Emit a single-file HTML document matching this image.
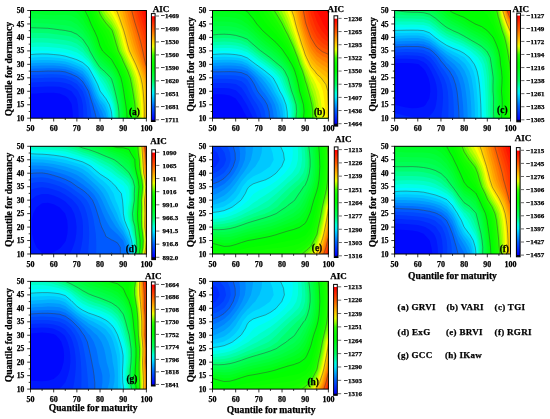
<!DOCTYPE html>
<html><head><meta charset="utf-8"><style>
html,body{margin:0;padding:0;background:#fff;width:550px;height:419px;overflow:hidden}
svg{display:block;will-change:transform}
text{font-family:"Liberation Serif",serif;font-weight:bold;fill:#000;stroke:#000;stroke-width:0.25px}
.tl{font-size:8px}
.tly{font-size:7.6px}
.cl{font-size:7px}
.at{font-size:9.6px}
.aic{font-size:9px}
.pl{font-size:9.4px}
.lg{font-size:9px;letter-spacing:0.3px}
</style></head><body>
<svg xmlns="http://www.w3.org/2000/svg" width="550" height="419" viewBox="0 0 550 419">
<defs><linearGradient id="cbga" x1="0" y1="0" x2="0" y2="1"><stop offset="0" stop-color="#ffffff"/><stop offset="0.0211" stop-color="#ffffff"/><stop offset="0.0285" stop-color="#ff0000"/><stop offset="0.0681" stop-color="#ff1f00"/><stop offset="0.1077" stop-color="#ff3e00"/><stop offset="0.1474" stop-color="#ff5e00"/><stop offset="0.1870" stop-color="#ff8500"/><stop offset="0.2267" stop-color="#ffad00"/><stop offset="0.2663" stop-color="#ffd400"/><stop offset="0.3059" stop-color="#e8ff00"/><stop offset="0.3456" stop-color="#95ff00"/><stop offset="0.3852" stop-color="#33ff00"/><stop offset="0.4249" stop-color="#14ff00"/><stop offset="0.4645" stop-color="#06ff00"/><stop offset="0.5041" stop-color="#00ff08"/><stop offset="0.5438" stop-color="#00ff25"/><stop offset="0.5834" stop-color="#00ff41"/><stop offset="0.6230" stop-color="#00ff5e"/><stop offset="0.6627" stop-color="#00ff9a"/><stop offset="0.7023" stop-color="#00ffd7"/><stop offset="0.7420" stop-color="#00eaff"/><stop offset="0.7816" stop-color="#00bcff"/><stop offset="0.8212" stop-color="#008fff"/><stop offset="0.8609" stop-color="#0062ff"/><stop offset="0.9005" stop-color="#0041ff"/><stop offset="0.9402" stop-color="#0021ff"/><stop offset="0.9798" stop-color="#0000ff"/><stop offset="0.9881" stop-color="#000028"/><stop offset="1" stop-color="#000010"/></linearGradient><linearGradient id="cbgb" x1="0" y1="0" x2="0" y2="1"><stop offset="0" stop-color="#ffffff"/><stop offset="0.0225" stop-color="#ffffff"/><stop offset="0.0296" stop-color="#ff0000"/><stop offset="0.0690" stop-color="#ff1f00"/><stop offset="0.1083" stop-color="#ff3e00"/><stop offset="0.1477" stop-color="#ff5e00"/><stop offset="0.1870" stop-color="#ff8500"/><stop offset="0.2264" stop-color="#ffad00"/><stop offset="0.2657" stop-color="#ffd400"/><stop offset="0.3051" stop-color="#e8ff00"/><stop offset="0.3444" stop-color="#95ff00"/><stop offset="0.3838" stop-color="#33ff00"/><stop offset="0.4231" stop-color="#14ff00"/><stop offset="0.4625" stop-color="#06ff00"/><stop offset="0.5018" stop-color="#00ff08"/><stop offset="0.5411" stop-color="#00ff25"/><stop offset="0.5805" stop-color="#00ff41"/><stop offset="0.6198" stop-color="#00ff5e"/><stop offset="0.6592" stop-color="#00ff9a"/><stop offset="0.6985" stop-color="#00ffd7"/><stop offset="0.7379" stop-color="#00eaff"/><stop offset="0.7772" stop-color="#00bcff"/><stop offset="0.8166" stop-color="#008fff"/><stop offset="0.8559" stop-color="#0062ff"/><stop offset="0.8953" stop-color="#0041ff"/><stop offset="0.9346" stop-color="#0021ff"/><stop offset="0.9739" stop-color="#0000ff"/><stop offset="0.9820" stop-color="#000028"/><stop offset="1" stop-color="#000010"/></linearGradient><linearGradient id="cbgc" x1="0" y1="0" x2="0" y2="1"><stop offset="0" stop-color="#ffffff"/><stop offset="0.0182" stop-color="#ffffff"/><stop offset="0.0255" stop-color="#ff0000"/><stop offset="0.0652" stop-color="#ff1f00"/><stop offset="0.1049" stop-color="#ff3e00"/><stop offset="0.1445" stop-color="#ff5e00"/><stop offset="0.1842" stop-color="#ff8500"/><stop offset="0.2238" stop-color="#ffad00"/><stop offset="0.2635" stop-color="#ffd400"/><stop offset="0.3031" stop-color="#e8ff00"/><stop offset="0.3428" stop-color="#95ff00"/><stop offset="0.3824" stop-color="#33ff00"/><stop offset="0.4221" stop-color="#14ff00"/><stop offset="0.4617" stop-color="#06ff00"/><stop offset="0.5014" stop-color="#00ff08"/><stop offset="0.5410" stop-color="#00ff25"/><stop offset="0.5807" stop-color="#00ff41"/><stop offset="0.6203" stop-color="#00ff5e"/><stop offset="0.6600" stop-color="#00ff9a"/><stop offset="0.6996" stop-color="#00ffd7"/><stop offset="0.7393" stop-color="#00eaff"/><stop offset="0.7789" stop-color="#00bcff"/><stop offset="0.8186" stop-color="#008fff"/><stop offset="0.8582" stop-color="#0062ff"/><stop offset="0.8979" stop-color="#0041ff"/><stop offset="0.9375" stop-color="#0021ff"/><stop offset="0.9772" stop-color="#0000ff"/><stop offset="0.9854" stop-color="#000028"/><stop offset="1" stop-color="#000010"/></linearGradient><linearGradient id="cbgd" x1="0" y1="0" x2="0" y2="1"><stop offset="0" stop-color="#ffffff"/><stop offset="0.0217" stop-color="#ffffff"/><stop offset="0.0289" stop-color="#ff0000"/><stop offset="0.0683" stop-color="#ff1f00"/><stop offset="0.1077" stop-color="#ff3e00"/><stop offset="0.1471" stop-color="#ff5e00"/><stop offset="0.1865" stop-color="#ff8500"/><stop offset="0.2259" stop-color="#ffad00"/><stop offset="0.2653" stop-color="#ffd400"/><stop offset="0.3048" stop-color="#e8ff00"/><stop offset="0.3442" stop-color="#95ff00"/><stop offset="0.3836" stop-color="#33ff00"/><stop offset="0.4230" stop-color="#14ff00"/><stop offset="0.4624" stop-color="#06ff00"/><stop offset="0.5018" stop-color="#00ff08"/><stop offset="0.5412" stop-color="#00ff25"/><stop offset="0.5806" stop-color="#00ff41"/><stop offset="0.6200" stop-color="#00ff5e"/><stop offset="0.6594" stop-color="#00ff9a"/><stop offset="0.6989" stop-color="#00ffd7"/><stop offset="0.7383" stop-color="#00eaff"/><stop offset="0.7777" stop-color="#00bcff"/><stop offset="0.8171" stop-color="#008fff"/><stop offset="0.8565" stop-color="#0062ff"/><stop offset="0.8959" stop-color="#0041ff"/><stop offset="0.9353" stop-color="#0021ff"/><stop offset="0.9747" stop-color="#0000ff"/><stop offset="0.9829" stop-color="#000028"/><stop offset="1" stop-color="#000010"/></linearGradient><linearGradient id="cbge" x1="0" y1="0" x2="0" y2="1"><stop offset="0" stop-color="#ffffff"/><stop offset="0.0233" stop-color="#ffffff"/><stop offset="0.0305" stop-color="#ff0000"/><stop offset="0.0700" stop-color="#ff1f00"/><stop offset="0.1096" stop-color="#ff3e00"/><stop offset="0.1492" stop-color="#ff5e00"/><stop offset="0.1888" stop-color="#ff8500"/><stop offset="0.2283" stop-color="#ffad00"/><stop offset="0.2679" stop-color="#ffd400"/><stop offset="0.3075" stop-color="#e8ff00"/><stop offset="0.3471" stop-color="#95ff00"/><stop offset="0.3866" stop-color="#33ff00"/><stop offset="0.4262" stop-color="#14ff00"/><stop offset="0.4658" stop-color="#06ff00"/><stop offset="0.5054" stop-color="#00ff08"/><stop offset="0.5450" stop-color="#00ff25"/><stop offset="0.5845" stop-color="#00ff41"/><stop offset="0.6241" stop-color="#00ff5e"/><stop offset="0.6637" stop-color="#00ff9a"/><stop offset="0.7033" stop-color="#00ffd7"/><stop offset="0.7428" stop-color="#00eaff"/><stop offset="0.7824" stop-color="#00bcff"/><stop offset="0.8220" stop-color="#008fff"/><stop offset="0.8616" stop-color="#0062ff"/><stop offset="0.9011" stop-color="#0041ff"/><stop offset="0.9407" stop-color="#0021ff"/><stop offset="0.9803" stop-color="#0000ff"/><stop offset="0.9884" stop-color="#000028"/><stop offset="1" stop-color="#000010"/></linearGradient><linearGradient id="cbgf" x1="0" y1="0" x2="0" y2="1"><stop offset="0" stop-color="#ffffff"/><stop offset="0.0236" stop-color="#ffffff"/><stop offset="0.0309" stop-color="#ff0000"/><stop offset="0.0704" stop-color="#ff1f00"/><stop offset="0.1100" stop-color="#ff3e00"/><stop offset="0.1495" stop-color="#ff5e00"/><stop offset="0.1891" stop-color="#ff8500"/><stop offset="0.2286" stop-color="#ffad00"/><stop offset="0.2681" stop-color="#ffd400"/><stop offset="0.3077" stop-color="#e8ff00"/><stop offset="0.3472" stop-color="#95ff00"/><stop offset="0.3868" stop-color="#33ff00"/><stop offset="0.4263" stop-color="#14ff00"/><stop offset="0.4659" stop-color="#06ff00"/><stop offset="0.5054" stop-color="#00ff08"/><stop offset="0.5450" stop-color="#00ff25"/><stop offset="0.5845" stop-color="#00ff41"/><stop offset="0.6241" stop-color="#00ff5e"/><stop offset="0.6636" stop-color="#00ff9a"/><stop offset="0.7032" stop-color="#00ffd7"/><stop offset="0.7427" stop-color="#00eaff"/><stop offset="0.7823" stop-color="#00bcff"/><stop offset="0.8218" stop-color="#008fff"/><stop offset="0.8614" stop-color="#0062ff"/><stop offset="0.9009" stop-color="#0041ff"/><stop offset="0.9405" stop-color="#0021ff"/><stop offset="0.9800" stop-color="#0000ff"/><stop offset="0.9882" stop-color="#000028"/><stop offset="1" stop-color="#000010"/></linearGradient><linearGradient id="cbgg" x1="0" y1="0" x2="0" y2="1"><stop offset="0" stop-color="#ffffff"/><stop offset="0.0219" stop-color="#ffffff"/><stop offset="0.0295" stop-color="#ff0000"/><stop offset="0.0691" stop-color="#ff1f00"/><stop offset="0.1087" stop-color="#ff3e00"/><stop offset="0.1483" stop-color="#ff5e00"/><stop offset="0.1879" stop-color="#ff8500"/><stop offset="0.2275" stop-color="#ffad00"/><stop offset="0.2671" stop-color="#ffd400"/><stop offset="0.3067" stop-color="#e8ff00"/><stop offset="0.3463" stop-color="#95ff00"/><stop offset="0.3859" stop-color="#33ff00"/><stop offset="0.4255" stop-color="#14ff00"/><stop offset="0.4652" stop-color="#06ff00"/><stop offset="0.5048" stop-color="#00ff08"/><stop offset="0.5444" stop-color="#00ff25"/><stop offset="0.5840" stop-color="#00ff41"/><stop offset="0.6236" stop-color="#00ff5e"/><stop offset="0.6632" stop-color="#00ff9a"/><stop offset="0.7028" stop-color="#00ffd7"/><stop offset="0.7424" stop-color="#00eaff"/><stop offset="0.7820" stop-color="#00bcff"/><stop offset="0.8216" stop-color="#008fff"/><stop offset="0.8612" stop-color="#0062ff"/><stop offset="0.9008" stop-color="#0041ff"/><stop offset="0.9404" stop-color="#0021ff"/><stop offset="0.9800" stop-color="#0000ff"/><stop offset="0.9886" stop-color="#000028"/><stop offset="1" stop-color="#000010"/></linearGradient><linearGradient id="cbgh" x1="0" y1="0" x2="0" y2="1"><stop offset="0" stop-color="#ffffff"/><stop offset="0.0206" stop-color="#ffffff"/><stop offset="0.0277" stop-color="#ff0000"/><stop offset="0.0674" stop-color="#ff1f00"/><stop offset="0.1072" stop-color="#ff3e00"/><stop offset="0.1469" stop-color="#ff5e00"/><stop offset="0.1866" stop-color="#ff8500"/><stop offset="0.2264" stop-color="#ffad00"/><stop offset="0.2661" stop-color="#ffd400"/><stop offset="0.3058" stop-color="#e8ff00"/><stop offset="0.3455" stop-color="#95ff00"/><stop offset="0.3853" stop-color="#33ff00"/><stop offset="0.4250" stop-color="#14ff00"/><stop offset="0.4647" stop-color="#06ff00"/><stop offset="0.5045" stop-color="#00ff08"/><stop offset="0.5442" stop-color="#00ff25"/><stop offset="0.5839" stop-color="#00ff41"/><stop offset="0.6237" stop-color="#00ff5e"/><stop offset="0.6634" stop-color="#00ff9a"/><stop offset="0.7031" stop-color="#00ffd7"/><stop offset="0.7429" stop-color="#00eaff"/><stop offset="0.7826" stop-color="#00bcff"/><stop offset="0.8223" stop-color="#008fff"/><stop offset="0.8620" stop-color="#0062ff"/><stop offset="0.9018" stop-color="#0041ff"/><stop offset="0.9415" stop-color="#0021ff"/><stop offset="0.9812" stop-color="#0000ff"/><stop offset="0.9893" stop-color="#000028"/><stop offset="1" stop-color="#000010"/></linearGradient></defs>
<clipPath id="ca"><rect x="30.50" y="10.50" width="115.90" height="107.70"/></clipPath>
<g clip-path="url(#ca)">
<rect x="30.50" y="10.50" width="115.90" height="107.70" fill="#0008ff"/>
<path d="M36.3 10.5L42.1 10.5L47.9 10.5L53.7 10.5L59.5 10.5L65.3 10.5L71.1 10.5L76.9 10.5L82.7 10.5L88.5 10.5L94.2 10.5L100.0 10.5L105.8 10.5L111.6 10.5L117.4 10.5L123.2 10.5L129.0 10.5L134.8 10.5L140.6 10.5L146.4 10.5L146.4 17.2L146.4 24.0L146.4 30.7L146.4 37.4L146.4 44.2L146.4 50.9L146.4 57.6L146.4 64.3L146.4 71.1L146.4 77.8L146.4 84.5L146.4 91.3L146.4 98.0L146.4 104.7L146.4 111.5L146.4 118.2L140.6 118.2L134.8 118.2L129.0 118.2L123.2 118.2L117.4 118.2L111.6 118.2L105.8 118.2L100.0 118.2L94.2 118.2L88.5 118.2L82.7 118.2L76.9 118.2L73.1 118.2L72.6 111.5L71.7 104.7L71.1 103.1L67.9 98.0L65.3 95.9L59.5 93.6L53.7 92.8L47.9 92.8L42.1 93.1L36.3 93.4L30.5 93.6L30.5 91.3L30.5 84.5L30.5 77.8L30.5 71.1L30.5 64.3L30.5 57.6L30.5 50.9L30.5 44.2L30.5 37.4L30.5 30.7L30.5 24.0L30.5 17.2L30.5 10.5Z" fill="#0018ff"/>
<path d="M36.3 10.5L42.1 10.5L47.9 10.5L53.7 10.5L59.5 10.5L65.3 10.5L71.1 10.5L76.9 10.5L82.7 10.5L88.5 10.5L94.2 10.5L100.0 10.5L105.8 10.5L111.6 10.5L117.4 10.5L123.2 10.5L129.0 10.5L134.8 10.5L140.6 10.5L146.4 10.5L146.4 17.2L146.4 24.0L146.4 30.7L146.4 37.4L146.4 44.2L146.4 50.9L146.4 57.6L146.4 64.3L146.4 71.1L146.4 77.8L146.4 84.5L146.4 91.3L146.4 98.0L146.4 104.7L146.4 111.5L146.4 118.2L140.6 118.2L134.8 118.2L129.0 118.2L123.2 118.2L117.4 118.2L111.6 118.2L105.8 118.2L100.0 118.2L94.2 118.2L88.5 118.2L82.7 118.2L78.7 118.2L78.5 111.5L78.0 104.7L76.9 99.2L76.5 98.0L71.5 91.3L71.1 90.9L65.3 88.2L59.5 86.8L53.7 86.4L47.9 86.6L42.1 86.8L36.3 87.1L30.5 87.2L30.5 84.5L30.5 77.8L30.5 71.1L30.5 64.3L30.5 57.6L30.5 50.9L30.5 44.2L30.5 37.4L30.5 30.7L30.5 24.0L30.5 17.2L30.5 10.5Z" fill="#0029ff"/>
<path d="M36.3 10.5L42.1 10.5L47.9 10.5L53.7 10.5L59.5 10.5L65.3 10.5L71.1 10.5L76.9 10.5L82.7 10.5L88.5 10.5L94.2 10.5L100.0 10.5L105.8 10.5L111.6 10.5L117.4 10.5L123.2 10.5L129.0 10.5L134.8 10.5L140.6 10.5L146.4 10.5L146.4 17.2L146.4 24.0L146.4 30.7L146.4 37.4L146.4 44.2L146.4 50.9L146.4 57.6L146.4 64.3L146.4 71.1L146.4 77.8L146.4 84.5L146.4 91.3L146.4 98.0L146.4 104.7L146.4 111.5L146.4 118.2L140.6 118.2L134.8 118.2L129.0 118.2L123.2 118.2L117.4 118.2L111.6 118.2L105.8 118.2L100.0 118.2L94.2 118.2L88.5 118.2L83.3 118.2L83.2 111.5L82.8 104.7L82.7 104.0L81.3 98.0L78.1 91.3L76.9 89.7L71.1 85.0L70.2 84.5L65.3 82.9L59.5 81.9L53.7 81.7L47.9 81.8L42.1 82.1L36.3 82.3L30.5 82.4L30.5 77.8L30.5 71.1L30.5 64.3L30.5 57.6L30.5 50.9L30.5 44.2L30.5 37.4L30.5 30.7L30.5 24.0L30.5 17.2L30.5 10.5Z" fill="#0039ff"/>
<path d="M36.3 10.5L42.1 10.5L47.9 10.5L53.7 10.5L59.5 10.5L65.3 10.5L71.1 10.5L76.9 10.5L82.7 10.5L88.5 10.5L94.2 10.5L100.0 10.5L105.8 10.5L111.6 10.5L117.4 10.5L123.2 10.5L129.0 10.5L134.8 10.5L140.6 10.5L146.4 10.5L146.4 17.2L146.4 24.0L146.4 30.7L146.4 37.4L146.4 44.2L146.4 50.9L146.4 57.6L146.4 64.3L146.4 71.1L146.4 77.8L146.4 84.5L146.4 91.3L146.4 98.0L146.4 104.7L146.4 111.5L146.4 118.2L140.6 118.2L134.8 118.2L129.0 118.2L123.2 118.2L117.4 118.2L111.6 118.2L105.8 118.2L100.0 118.2L94.2 118.2L88.5 118.2L87.4 118.2L87.1 111.5L86.4 104.7L85.0 98.0L82.7 91.3L82.7 91.2L77.3 84.5L76.9 84.1L71.1 80.8L65.3 78.6L60.4 77.8L59.5 77.7L53.7 77.6L47.9 77.7L44.9 77.8L42.1 78.0L36.3 78.2L30.5 78.3L30.5 77.8L30.5 71.1L30.5 64.3L30.5 57.6L30.5 50.9L30.5 44.2L30.5 37.4L30.5 30.7L30.5 24.0L30.5 17.2L30.5 10.5Z" fill="#0049ff"/>
<path d="M36.3 10.5L42.1 10.5L47.9 10.5L53.7 10.5L59.5 10.5L65.3 10.5L71.1 10.5L76.9 10.5L82.7 10.5L88.5 10.5L94.2 10.5L100.0 10.5L105.8 10.5L111.6 10.5L117.4 10.5L123.2 10.5L129.0 10.5L134.8 10.5L140.6 10.5L146.4 10.5L146.4 17.2L146.4 24.0L146.4 30.7L146.4 37.4L146.4 44.2L146.4 50.9L146.4 57.6L146.4 64.3L146.4 71.1L146.4 77.8L146.4 84.5L146.4 91.3L146.4 98.0L146.4 104.7L146.4 111.5L146.4 118.2L140.6 118.2L134.8 118.2L129.0 118.2L123.2 118.2L117.4 118.2L111.6 118.2L105.8 118.2L100.0 118.2L94.2 118.2L91.6 118.2L90.9 111.5L89.7 104.7L88.5 99.0L88.2 98.0L85.6 91.3L82.7 86.0L81.5 84.5L76.9 80.2L72.8 77.8L71.1 77.0L65.3 75.2L59.5 74.4L53.7 74.3L47.9 74.3L42.1 74.6L36.3 74.8L30.5 74.8L30.5 71.1L30.5 64.3L30.5 57.6L30.5 50.9L30.5 44.2L30.5 37.4L30.5 30.7L30.5 24.0L30.5 17.2L30.5 10.5Z" fill="#005aff"/>
<path d="M36.3 10.5L42.1 10.5L47.9 10.5L53.7 10.5L59.5 10.5L65.3 10.5L71.1 10.5L76.9 10.5L82.7 10.5L88.5 10.5L94.2 10.5L100.0 10.5L105.8 10.5L111.6 10.5L117.4 10.5L123.2 10.5L129.0 10.5L134.8 10.5L140.6 10.5L146.4 10.5L146.4 17.2L146.4 24.0L146.4 30.7L146.4 37.4L146.4 44.2L146.4 50.9L146.4 57.6L146.4 64.3L146.4 71.1L146.4 77.8L146.4 84.5L146.4 91.3L146.4 98.0L146.4 104.7L146.4 111.5L146.4 118.2L140.6 118.2L134.8 118.2L129.0 118.2L123.2 118.2L117.4 118.2L111.6 118.2L105.8 118.2L100.0 118.2L96.3 118.2L94.7 111.5L94.2 110.3L92.7 104.7L90.5 98.0L88.5 91.3L88.5 91.2L84.5 84.5L82.7 81.7L78.5 77.8L76.9 76.7L71.1 74.0L65.3 71.9L59.5 71.1L55.7 71.1L53.7 71.1L47.9 71.0L46.0 71.1L42.1 71.3L36.3 71.5L30.5 71.5L30.5 71.1L30.5 64.3L30.5 57.6L30.5 50.9L30.5 44.2L30.5 37.4L30.5 30.7L30.5 24.0L30.5 17.2L30.5 10.5Z" fill="#006dff"/>
<path d="M36.3 10.5L42.1 10.5L47.9 10.5L53.7 10.5L59.5 10.5L65.3 10.5L71.1 10.5L76.9 10.5L82.7 10.5L88.5 10.5L94.2 10.5L100.0 10.5L105.8 10.5L111.6 10.5L117.4 10.5L123.2 10.5L129.0 10.5L134.8 10.5L140.6 10.5L146.4 10.5L146.4 17.2L146.4 24.0L146.4 30.7L146.4 37.4L146.4 44.2L146.4 50.9L146.4 57.6L146.4 64.3L146.4 71.1L146.4 77.8L146.4 84.5L146.4 91.3L146.4 98.0L146.4 104.7L146.4 111.5L146.4 118.2L140.6 118.2L134.8 118.2L129.0 118.2L123.2 118.2L117.4 118.2L111.6 118.2L105.8 118.2L101.1 118.2L100.0 115.2L98.5 111.5L95.6 104.7L94.2 101.9L92.8 98.0L90.4 91.3L88.5 86.8L87.1 84.5L82.7 77.8L82.6 77.8L76.9 73.7L71.2 71.1L71.1 71.0L65.3 69.2L59.5 68.5L53.7 68.3L47.9 68.2L42.1 68.4L36.3 68.6L30.5 68.7L30.5 64.3L30.5 57.6L30.5 50.9L30.5 44.2L30.5 37.4L30.5 30.7L30.5 24.0L30.5 17.2L30.5 10.5Z" fill="#0084ff"/>
<path d="M36.3 10.5L42.1 10.5L47.9 10.5L53.7 10.5L59.5 10.5L65.3 10.5L71.1 10.5L76.9 10.5L82.7 10.5L88.5 10.5L94.2 10.5L100.0 10.5L105.8 10.5L111.6 10.5L117.4 10.5L123.2 10.5L129.0 10.5L134.8 10.5L140.6 10.5L146.4 10.5L146.4 17.2L146.4 24.0L146.4 30.7L146.4 37.4L146.4 44.2L146.4 50.9L146.4 57.6L146.4 64.3L146.4 71.1L146.4 77.8L146.4 84.5L146.4 91.3L146.4 98.0L146.4 104.7L146.4 111.5L146.4 118.2L140.6 118.2L134.8 118.2L129.0 118.2L123.2 118.2L117.4 118.2L111.6 118.2L105.8 118.2L104.4 118.2L101.9 111.5L100.0 108.1L98.4 104.7L95.0 98.0L94.2 96.3L92.3 91.3L89.4 84.5L88.5 82.5L85.3 77.8L82.7 74.5L77.4 71.1L76.9 70.8L71.1 68.5L65.3 66.7L59.5 65.9L53.7 65.6L47.9 65.4L42.1 65.6L36.3 65.8L30.5 66.0L30.5 64.3L30.5 57.6L30.5 50.9L30.5 44.2L30.5 37.4L30.5 30.7L30.5 24.0L30.5 17.2L30.5 10.5Z" fill="#009aff"/>
<path d="M36.3 10.5L42.1 10.5L47.9 10.5L53.7 10.5L59.5 10.5L65.3 10.5L71.1 10.5L76.9 10.5L82.7 10.5L88.5 10.5L94.2 10.5L100.0 10.5L105.8 10.5L111.6 10.5L117.4 10.5L123.2 10.5L129.0 10.5L134.8 10.5L140.6 10.5L146.4 10.5L146.4 17.2L146.4 24.0L146.4 30.7L146.4 37.4L146.4 44.2L146.4 50.9L146.4 57.6L146.4 64.3L146.4 71.1L146.4 77.8L146.4 84.5L146.4 91.3L146.4 98.0L146.4 104.7L146.4 111.5L146.4 118.2L140.6 118.2L134.8 118.2L129.0 118.2L123.2 118.2L117.4 118.2L111.6 118.2L106.9 118.2L105.8 113.6L105.0 111.5L101.4 104.7L100.0 103.2L97.1 98.0L94.2 91.4L94.2 91.3L91.4 84.5L88.5 78.5L88.0 77.8L82.7 71.2L82.4 71.1L76.9 68.2L71.1 65.9L65.7 64.3L65.3 64.2L59.5 63.3L53.7 62.9L47.9 62.7L42.1 62.8L36.3 63.0L30.5 63.3L30.5 57.6L30.5 50.9L30.5 44.2L30.5 37.4L30.5 30.7L30.5 24.0L30.5 17.2L30.5 10.5Z" fill="#00b1ff"/>
<path d="M36.3 10.5L42.1 10.5L47.9 10.5L53.7 10.5L59.5 10.5L65.3 10.5L71.1 10.5L76.9 10.5L82.7 10.5L88.5 10.5L94.2 10.5L100.0 10.5L105.8 10.5L111.6 10.5L117.4 10.5L123.2 10.5L129.0 10.5L134.8 10.5L140.6 10.5L146.4 10.5L146.4 17.2L146.4 24.0L146.4 30.7L146.4 37.4L146.4 44.2L146.4 50.9L146.4 57.6L146.4 64.3L146.4 71.1L146.4 77.8L146.4 84.5L146.4 91.3L146.4 98.0L146.4 104.7L146.4 111.5L146.4 118.2L140.6 118.2L134.8 118.2L129.0 118.2L123.2 118.2L117.4 118.2L111.6 118.2L108.7 118.2L107.3 111.5L105.8 107.2L104.5 104.7L100.0 99.5L99.2 98.0L96.2 91.3L94.2 86.7L93.4 84.5L90.2 77.8L88.5 74.5L85.7 71.1L82.7 68.3L76.9 65.5L73.7 64.3L71.1 63.3L65.3 61.6L59.5 60.7L53.7 60.3L47.9 59.9L42.1 60.0L36.3 60.2L30.5 60.5L30.5 57.6L30.5 50.9L30.5 44.2L30.5 37.4L30.5 30.7L30.5 24.0L30.5 17.2L30.5 10.5Z" fill="#00c8ff"/>
<path d="M36.3 10.5L42.1 10.5L47.9 10.5L53.7 10.5L59.5 10.5L65.3 10.5L71.1 10.5L76.9 10.5L82.7 10.5L88.5 10.5L94.2 10.5L100.0 10.5L105.8 10.5L111.6 10.5L117.4 10.5L123.2 10.5L129.0 10.5L134.8 10.5L140.6 10.5L146.4 10.5L146.4 17.2L146.4 24.0L146.4 30.7L146.4 37.4L146.4 44.2L146.4 50.9L146.4 57.6L146.4 64.3L146.4 71.1L146.4 77.8L146.4 84.5L146.4 91.3L146.4 98.0L146.4 104.7L146.4 111.5L146.4 118.2L140.6 118.2L134.8 118.2L129.0 118.2L123.2 118.2L117.4 118.2L111.6 118.2L110.5 118.2L109.3 111.5L107.1 104.7L105.8 102.5L102.0 98.0L100.0 95.4L98.2 91.3L95.5 84.5L94.2 82.2L92.2 77.8L88.7 71.1L88.5 70.7L82.7 65.4L80.3 64.3L76.9 62.7L71.1 60.6L65.3 59.0L59.5 58.1L53.7 57.6L53.6 57.6L47.9 57.1L42.1 57.1L36.3 57.3L33.0 57.6L30.5 57.8L30.5 57.6L30.5 50.9L30.5 44.2L30.5 37.4L30.5 30.7L30.5 24.0L30.5 17.2L30.5 10.5Z" fill="#00deff"/>
<path d="M36.3 10.5L42.1 10.5L47.9 10.5L53.7 10.5L59.5 10.5L65.3 10.5L71.1 10.5L76.9 10.5L82.7 10.5L88.5 10.5L94.2 10.5L100.0 10.5L105.8 10.5L111.6 10.5L117.4 10.5L123.2 10.5L129.0 10.5L134.8 10.5L140.6 10.5L146.4 10.5L146.4 17.2L146.4 24.0L146.4 30.7L146.4 37.4L146.4 44.2L146.4 50.9L146.4 57.6L146.4 64.3L146.4 71.1L146.4 77.8L146.4 84.5L146.4 91.3L146.4 98.0L146.4 104.7L146.4 111.5L146.4 118.2L140.6 118.2L134.8 118.2L129.0 118.2L123.2 118.2L117.4 118.2L112.1 118.2L111.6 113.1L111.4 111.5L109.4 104.7L105.8 98.5L105.4 98.0L100.3 91.3L100.0 90.7L97.7 84.5L94.3 77.8L94.2 77.8L90.6 71.1L88.5 67.6L84.8 64.3L82.7 62.5L76.9 59.7L71.1 57.8L70.3 57.6L65.3 56.1L59.5 55.0L53.7 54.5L47.9 54.0L42.1 53.9L36.3 54.1L30.5 54.6L30.5 50.9L30.5 44.2L30.5 37.4L30.5 30.7L30.5 24.0L30.5 17.2L30.5 10.5Z" fill="#00f9ff"/>
<path d="M36.3 10.5L42.1 10.5L47.9 10.5L53.7 10.5L59.5 10.5L65.3 10.5L71.1 10.5L76.9 10.5L82.7 10.5L88.5 10.5L94.2 10.5L100.0 10.5L105.8 10.5L111.6 10.5L117.4 10.5L123.2 10.5L129.0 10.5L134.8 10.5L140.6 10.5L146.4 10.5L146.4 17.2L146.4 24.0L146.4 30.7L146.4 37.4L146.4 44.2L146.4 50.9L146.4 57.6L146.4 64.3L146.4 71.1L146.4 77.8L146.4 84.5L146.4 91.3L146.4 98.0L146.4 104.7L146.4 111.5L146.4 118.2L140.6 118.2L134.8 118.2L129.0 118.2L123.2 118.2L117.4 118.2L113.2 118.2L112.7 111.5L111.6 104.8L111.6 104.7L107.9 98.0L105.8 94.3L103.5 91.3L100.0 84.9L99.9 84.5L96.5 77.8L94.2 74.3L92.5 71.1L88.5 64.5L88.3 64.4L82.7 59.6L78.7 57.6L76.9 56.4L71.1 54.2L65.3 52.7L59.5 51.9L53.7 51.3L49.0 50.9L47.9 50.8L42.1 50.7L36.3 50.8L35.5 50.9L30.5 51.3L30.5 50.9L30.5 44.2L30.5 37.4L30.5 30.7L30.5 24.0L30.5 17.2L30.5 10.5Z" fill="#00ffe7"/>
<path d="M36.3 10.5L42.1 10.5L47.9 10.5L53.7 10.5L59.5 10.5L65.3 10.5L71.1 10.5L76.9 10.5L82.7 10.5L88.5 10.5L94.2 10.5L100.0 10.5L105.8 10.5L111.6 10.5L117.4 10.5L123.2 10.5L129.0 10.5L134.8 10.5L140.6 10.5L146.4 10.5L146.4 17.2L146.4 24.0L146.4 30.7L146.4 37.4L146.4 44.2L146.4 50.9L146.4 57.6L146.4 64.3L146.4 71.1L146.4 77.8L146.4 84.5L146.4 91.3L146.4 98.0L146.4 104.7L146.4 111.5L146.4 118.2L140.6 118.2L134.8 118.2L129.0 118.2L123.2 118.2L117.4 118.2L114.4 118.2L114.0 111.5L112.9 104.7L111.6 100.4L110.3 98.0L106.6 91.3L105.8 89.7L102.9 84.5L100.0 80.3L98.8 77.8L94.4 71.1L94.2 70.8L90.1 64.3L88.5 61.7L83.7 57.6L82.7 56.3L76.9 52.5L72.3 50.9L71.1 50.4L65.3 49.0L59.5 48.1L53.7 47.4L47.9 46.9L42.1 46.7L36.3 46.8L30.5 47.3L30.5 44.2L30.5 37.4L30.5 30.7L30.5 24.0L30.5 17.2L30.5 10.5Z" fill="#00ffc8"/>
<path d="M36.3 10.5L42.1 10.5L47.9 10.5L53.7 10.5L59.5 10.5L65.3 10.5L71.1 10.5L76.9 10.5L82.7 10.5L88.5 10.5L94.2 10.5L100.0 10.5L105.8 10.5L111.6 10.5L117.4 10.5L123.2 10.5L129.0 10.5L134.8 10.5L140.6 10.5L146.4 10.5L146.4 17.2L146.4 24.0L146.4 30.7L146.4 37.4L146.4 44.2L146.4 50.9L146.4 57.6L146.4 64.3L146.4 71.1L146.4 77.8L146.4 84.5L146.4 91.3L146.4 98.0L146.4 104.7L146.4 111.5L146.4 118.2L140.6 118.2L134.8 118.2L129.0 118.2L123.2 118.2L117.4 118.2L115.5 118.2L115.2 111.5L114.2 104.7L112.3 98.0L111.6 95.9L109.1 91.3L106.0 84.5L105.8 84.3L101.5 77.8L100.0 76.4L96.4 71.1L94.2 68.0L91.9 64.3L88.5 58.9L86.9 57.6L82.7 52.5L80.2 50.9L76.9 48.3L71.1 46.0L65.3 44.8L60.0 44.2L59.5 44.1L53.7 43.4L47.9 42.8L42.1 42.6L36.3 42.6L30.5 42.9L30.5 37.4L30.5 30.7L30.5 24.0L30.5 17.2L30.5 10.5Z" fill="#00ffaa"/>
<path d="M36.3 10.5L42.1 10.5L47.9 10.5L53.7 10.5L59.5 10.5L65.3 10.5L71.1 10.5L76.9 10.5L82.7 10.5L88.5 10.5L94.2 10.5L100.0 10.5L105.8 10.5L111.6 10.5L117.4 10.5L123.2 10.5L129.0 10.5L134.8 10.5L140.6 10.5L146.4 10.5L146.4 17.2L146.4 24.0L146.4 30.7L146.4 37.4L146.4 44.2L146.4 50.9L146.4 57.6L146.4 64.3L146.4 71.1L146.4 77.8L146.4 84.5L146.4 91.3L146.4 98.0L146.4 104.7L146.4 111.5L146.4 118.2L140.6 118.2L134.8 118.2L129.0 118.2L123.2 118.2L117.4 118.2L116.7 118.2L116.4 111.5L115.4 104.7L113.7 98.0L111.7 91.3L111.6 91.2L108.7 84.5L105.8 79.5L104.7 77.8L100.0 73.4L98.5 71.1L94.2 65.2L93.7 64.3L89.5 57.6L88.5 55.7L84.4 50.9L82.7 48.3L77.4 44.2L76.9 43.7L71.1 41.4L65.3 40.2L59.5 39.5L53.7 38.8L47.9 38.2L42.1 37.9L36.3 37.9L30.5 38.0L30.5 37.4L30.5 30.7L30.5 24.0L30.5 17.2L30.5 10.5Z" fill="#00ff8b"/>
<path d="M36.3 10.5L42.1 10.5L47.9 10.5L53.7 10.5L59.5 10.5L65.3 10.5L71.1 10.5L76.9 10.5L82.7 10.5L88.5 10.5L94.2 10.5L100.0 10.5L105.8 10.5L111.6 10.5L117.4 10.5L123.2 10.5L129.0 10.5L134.8 10.5L140.6 10.5L146.4 10.5L146.4 17.2L146.4 24.0L146.4 30.7L146.4 37.4L146.4 44.2L146.4 50.9L146.4 57.6L146.4 64.3L146.4 71.1L146.4 77.8L146.4 84.5L146.4 91.3L146.4 98.0L146.4 104.7L146.4 111.5L146.4 118.2L140.6 118.2L134.8 118.2L129.0 118.2L123.2 118.2L117.9 118.2L117.7 111.5L117.4 109.7L116.7 104.7L115.1 98.0L113.3 91.3L111.6 85.0L111.4 84.5L107.8 77.8L105.8 75.8L100.8 71.1L100.0 70.4L95.7 64.3L94.2 62.0L91.5 57.6L88.5 52.0L87.5 50.9L83.0 44.2L82.7 43.6L76.9 39.0L73.0 37.4L71.1 36.6L65.3 35.5L59.5 34.7L53.7 33.9L47.9 33.2L42.1 33.0L36.3 32.9L30.5 32.8L30.5 30.7L30.5 24.0L30.5 17.2L30.5 10.5Z" fill="#00ff6d"/>
<path d="M36.3 10.5L42.1 10.5L47.9 10.5L53.7 10.5L59.5 10.5L65.3 10.5L71.1 10.5L76.9 10.5L82.7 10.5L88.5 10.5L94.2 10.5L100.0 10.5L105.8 10.5L111.6 10.5L117.4 10.5L123.2 10.5L129.0 10.5L134.8 10.5L140.6 10.5L146.4 10.5L146.4 17.2L146.4 24.0L146.4 30.7L146.4 37.4L146.4 44.2L146.4 50.9L146.4 57.6L146.4 64.3L146.4 71.1L146.4 77.8L146.4 84.5L146.4 91.3L146.4 98.0L146.4 104.7L146.4 111.5L146.4 118.2L140.6 118.2L134.8 118.2L129.0 118.2L123.2 118.2L119.1 118.2L118.9 111.5L118.0 104.7L117.4 102.0L116.6 98.0L115.0 91.3L113.3 84.5L111.6 79.3L110.8 77.8L105.8 72.6L104.2 71.1L100.0 67.5L97.8 64.3L94.2 58.7L93.6 57.6L89.8 50.9L88.5 47.7L86.1 44.2L82.7 39.1L80.6 37.4L76.9 34.3L71.1 31.7L66.0 30.7L65.3 30.5L59.5 29.8L53.7 29.0L47.9 28.3L42.1 28.1L36.3 27.9L30.5 27.7L30.5 24.0L30.5 17.2L30.5 10.5Z" fill="#00ff56"/>
<path d="M36.3 10.5L42.1 10.5L47.9 10.5L53.7 10.5L59.5 10.5L65.3 10.5L71.1 10.5L76.9 10.5L82.7 10.5L88.5 10.5L94.2 10.5L100.0 10.5L105.8 10.5L111.6 10.5L117.4 10.5L123.2 10.5L129.0 10.5L134.8 10.5L140.6 10.5L146.4 10.5L146.4 17.2L146.4 24.0L146.4 30.7L146.4 37.4L146.4 44.2L146.4 50.9L146.4 57.6L146.4 64.3L146.4 71.1L146.4 77.8L146.4 84.5L146.4 91.3L146.4 98.0L146.4 104.7L146.4 111.5L146.4 118.2L140.6 118.2L134.8 118.2L129.0 118.2L123.2 118.2L120.4 118.2L120.1 111.5L119.2 104.7L118.0 98.0L117.4 94.8L116.7 91.3L115.0 84.5L112.9 77.8L111.6 75.5L107.4 71.1L105.8 69.6L100.0 64.6L99.9 64.4L95.6 57.6L94.2 55.3L91.8 50.9L88.9 44.2L88.5 43.1L84.6 37.4L82.7 34.6L78.1 30.7L76.9 29.5L71.1 26.5L65.3 25.3L59.5 24.7L53.7 24.1L52.2 24.0L47.9 23.5L42.1 23.3L36.3 23.0L30.5 22.7L30.5 17.2L30.5 10.5Z" fill="#00ff48"/>
<path d="M36.3 10.5L42.1 10.5L47.9 10.5L53.7 10.5L59.5 10.5L65.3 10.5L71.1 10.5L76.9 10.5L82.7 10.5L88.5 10.5L94.2 10.5L100.0 10.5L105.8 10.5L111.6 10.5L117.4 10.5L123.2 10.5L129.0 10.5L134.8 10.5L140.6 10.5L146.4 10.5L146.4 17.2L146.4 24.0L146.4 30.7L146.4 37.4L146.4 44.2L146.4 50.9L146.4 57.6L146.4 64.3L146.4 71.1L146.4 77.8L146.4 84.5L146.4 91.3L146.4 98.0L146.4 104.7L146.4 111.5L146.4 118.2L140.6 118.2L134.8 118.2L129.0 118.2L123.2 118.2L121.6 118.2L121.3 111.5L120.5 104.7L119.3 98.0L118.2 91.3L117.4 87.3L116.8 84.5L114.6 77.8L111.6 72.4L110.3 71.1L105.8 66.7L103.1 64.3L100.0 61.4L97.6 57.6L94.2 51.8L93.8 50.9L91.0 44.2L88.5 38.7L87.6 37.4L83.0 30.7L82.7 30.2L76.9 24.3L76.1 24.0L71.1 21.1L65.3 20.0L59.5 19.8L53.7 19.6L47.9 19.2L42.1 18.8L36.3 18.4L30.5 17.9L30.5 17.2L30.5 10.5Z" fill="#00ff3a"/>
<path d="M36.3 10.5L42.1 10.5L47.9 10.5L53.7 10.5L59.5 10.5L65.3 10.5L71.1 10.5L76.9 10.5L82.7 10.5L88.5 10.5L94.2 10.5L100.0 10.5L105.8 10.5L111.6 10.5L117.4 10.5L123.2 10.5L129.0 10.5L134.8 10.5L140.6 10.5L146.4 10.5L146.4 17.2L146.4 24.0L146.4 30.7L146.4 37.4L146.4 44.2L146.4 50.9L146.4 57.6L146.4 64.3L146.4 71.1L146.4 77.8L146.4 84.5L146.4 91.3L146.4 98.0L146.4 104.7L146.4 111.5L146.4 118.2L140.6 118.2L134.8 118.2L129.0 118.2L123.2 118.2L122.9 118.2L122.6 111.5L121.7 104.7L120.6 98.0L119.6 91.3L118.3 84.5L117.4 81.3L116.3 77.8L112.7 71.1L111.6 69.4L106.4 64.3L105.8 63.8L100.0 58.2L99.7 57.6L95.7 50.9L94.2 47.1L93.0 44.2L90.1 37.4L88.5 34.1L86.1 30.7L82.7 25.0L81.6 24.0L76.9 18.6L74.3 17.2L71.1 15.6L65.3 14.8L59.5 15.0L53.7 15.2L47.9 14.9L42.1 14.4L36.3 13.8L30.5 13.2L30.5 10.5Z" fill="#00ff2c"/>
<path d="M47.9 10.5L53.7 10.5L58.6 10.5L53.7 11.0L47.9 10.7L45.9 10.5ZM76.9 10.5L82.7 10.5L88.5 10.5L94.2 10.5L100.0 10.5L105.8 10.5L111.6 10.5L117.4 10.5L123.2 10.5L129.0 10.5L134.8 10.5L140.6 10.5L146.4 10.5L146.4 17.2L146.4 24.0L146.4 30.7L146.4 37.4L146.4 44.2L146.4 50.9L146.4 57.6L146.4 64.3L146.4 71.1L146.4 77.8L146.4 84.5L146.4 91.3L146.4 98.0L146.4 104.7L146.4 111.5L146.4 118.2L140.6 118.2L134.8 118.2L129.0 118.2L124.2 118.2L123.9 111.5L123.2 106.8L123.0 104.7L122.0 98.0L120.9 91.3L119.7 84.5L117.9 77.8L117.4 76.6L114.5 71.1L111.6 66.5L109.4 64.3L105.8 60.6L102.7 57.6L100.0 55.0L97.6 50.9L95.1 44.2L94.2 41.9L92.4 37.4L89.1 30.7L88.5 29.2L85.3 24.0L82.7 19.0L81.1 17.2L76.9 12.5L72.4 10.5Z" fill="#00ff1e"/>
<path d="M82.7 10.5L88.5 10.5L94.2 10.5L100.0 10.5L105.8 10.5L111.6 10.5L117.4 10.5L123.2 10.5L129.0 10.5L134.8 10.5L140.6 10.5L146.4 10.5L146.4 17.2L146.4 24.0L146.4 30.7L146.4 37.4L146.4 44.2L146.4 50.9L146.4 57.6L146.4 64.3L146.4 71.1L146.4 77.8L146.4 84.5L146.4 91.3L146.4 98.0L146.4 104.7L146.4 111.5L146.4 118.2L140.6 118.2L134.8 118.2L129.0 118.2L125.7 118.2L125.3 111.5L124.3 104.7L123.3 98.0L123.2 97.5L122.3 91.3L121.1 84.5L119.4 77.8L117.4 73.0L116.4 71.1L112.2 64.3L111.6 63.3L106.0 57.6L105.8 57.5L100.0 51.9L99.5 50.9L97.2 44.2L94.8 37.4L94.2 36.2L91.7 30.7L88.5 24.0L88.5 23.8L85.0 17.2L82.7 12.4L80.9 10.5Z" fill="#00ff10"/>
<path d="M88.5 10.5L94.2 10.5L100.0 10.5L105.8 10.5L111.6 10.5L117.4 10.5L123.2 10.5L129.0 10.5L134.8 10.5L140.6 10.5L146.4 10.5L146.4 17.2L146.4 24.0L146.4 30.7L146.4 37.4L146.4 44.2L146.4 50.9L146.4 57.6L146.4 64.3L146.4 71.1L146.4 77.8L146.4 84.5L146.4 91.3L146.4 98.0L146.4 104.7L146.4 111.5L146.4 118.2L140.6 118.2L134.8 118.2L129.0 118.2L127.1 118.2L126.7 111.5L125.8 104.7L124.7 98.0L123.7 91.3L123.2 88.5L122.5 84.5L120.9 77.8L118.1 71.1L117.4 69.6L114.3 64.3L111.6 59.6L109.7 57.6L105.8 54.1L102.5 50.9L100.0 46.2L99.4 44.2L97.3 37.4L94.3 30.7L94.2 30.7L91.0 24.0L88.5 17.6L88.3 17.2L84.9 10.5Z" fill="#00ff05"/>
<path d="M88.5 10.5L94.2 10.5L100.0 10.5L105.8 10.5L111.6 10.5L117.4 10.5L123.2 10.5L129.0 10.5L134.8 10.5L140.6 10.5L146.4 10.5L146.4 17.2L146.4 24.0L146.4 30.7L146.4 37.4L146.4 44.2L146.4 50.9L146.4 57.6L146.4 64.3L146.4 71.1L146.4 77.8L146.4 84.5L146.4 91.3L146.4 98.0L146.4 104.7L146.4 111.5L146.4 118.2L140.6 118.2L134.8 118.2L129.0 118.2L128.5 118.2L128.0 111.5L127.2 104.7L126.2 98.0L125.2 91.3L124.0 84.5L123.2 81.4L122.3 77.8L119.6 71.1L117.4 66.1L116.3 64.3L112.6 57.6L111.6 56.1L106.0 50.9L105.8 50.6L102.2 44.2L100.0 38.3L99.8 37.4L96.9 30.7L94.2 25.6L93.4 24.0L90.6 17.2L88.5 11.1L88.2 10.5Z" fill="#02ff00"/>
<path d="M94.2 10.5L100.0 10.5L105.8 10.5L111.6 10.5L117.4 10.5L123.2 10.5L129.0 10.5L134.8 10.5L140.6 10.5L146.4 10.5L146.4 17.2L146.4 24.0L146.4 30.7L146.4 37.4L146.4 44.2L146.4 50.9L146.4 57.6L146.4 64.3L146.4 71.1L146.4 77.8L146.4 84.5L146.4 91.3L146.4 98.0L146.4 104.7L146.4 111.5L146.4 118.2L140.6 118.2L134.8 118.2L130.1 118.2L129.5 111.5L129.0 107.8L128.6 104.7L127.7 98.0L126.6 91.3L125.5 84.5L123.8 77.8L123.2 76.3L121.1 71.1L118.2 64.3L117.4 62.7L114.6 57.6L111.6 53.0L109.3 50.9L105.8 44.9L105.4 44.2L102.8 37.4L100.0 32.0L99.5 30.7L95.8 24.0L94.2 20.5L92.8 17.2L90.4 10.5Z" fill="#09ff00"/>
<path d="M94.2 10.5L100.0 10.5L105.8 10.5L111.6 10.5L117.4 10.5L123.2 10.5L129.0 10.5L134.8 10.5L140.6 10.5L146.4 10.5L146.4 17.2L146.4 24.0L146.4 30.7L146.4 37.4L146.4 44.2L146.4 50.9L146.4 57.6L146.4 64.3L146.4 71.1L146.4 77.8L146.4 84.5L146.4 91.3L146.4 98.0L146.4 104.7L146.4 111.5L146.4 118.2L140.6 118.2L134.8 118.2L131.7 118.2L131.0 111.5L130.2 104.7L129.1 98.0L129.0 97.4L128.1 91.3L126.9 84.5L125.4 77.8L123.2 72.5L122.7 71.1L119.7 64.3L117.4 59.2L116.5 57.6L112.3 50.9L111.6 49.3L108.6 44.2L106.0 37.4L105.8 37.1L102.6 30.7L100.0 27.3L98.2 24.0L95.0 17.2L94.2 15.2L92.5 10.5Z" fill="#10ff00"/>
<path d="M100.0 10.5L105.8 10.5L111.6 10.5L117.4 10.5L123.2 10.5L129.0 10.5L134.8 10.5L140.6 10.5L146.4 10.5L146.4 17.2L146.4 24.0L146.4 30.7L146.4 37.4L146.4 44.2L146.4 50.9L146.4 57.6L146.4 64.3L146.4 71.1L146.4 77.8L146.4 84.5L146.4 91.3L146.4 98.0L146.4 104.7L146.4 111.5L146.4 118.2L140.6 118.2L134.8 118.2L133.2 118.2L132.6 111.5L131.8 104.7L130.7 98.0L129.6 91.3L129.0 88.2L128.4 84.5L126.9 77.8L124.3 71.1L123.2 68.8L121.3 64.4L118.4 57.6L117.4 55.8L114.3 50.9L111.7 44.2L111.6 44.0L109.2 37.4L105.8 30.9L105.8 30.7L100.7 24.0L100.0 23.0L97.1 17.2L94.6 10.5Z" fill="#17ff00"/>
<path d="M100.0 10.5L105.8 10.5L111.6 10.5L117.4 10.5L123.2 10.5L129.0 10.5L134.8 10.5L140.6 10.5L146.4 10.5L146.4 17.2L146.4 24.0L146.4 30.7L146.4 37.4L146.4 44.2L146.4 50.9L146.4 57.6L146.4 64.3L146.4 71.1L146.4 77.8L146.4 84.5L146.4 91.3L146.4 98.0L146.4 104.7L146.4 111.5L146.4 118.2L140.6 118.2L134.8 118.2L134.8 118.2L134.1 111.5L133.3 104.7L132.3 98.0L131.2 91.3L130.0 84.5L129.0 80.2L128.5 77.8L126.0 71.1L123.2 65.3L122.8 64.3L120.0 57.6L117.4 52.6L116.3 50.9L114.0 44.2L112.2 37.4L111.6 35.8L109.2 30.7L105.8 26.8L103.7 24.0L100.0 18.9L99.2 17.2L96.6 10.5Z" fill="#28ff00"/>
<path d="M100.0 10.5L105.8 10.5L111.6 10.5L117.4 10.5L123.2 10.5L129.0 10.5L134.8 10.5L140.6 10.5L146.4 10.5L146.4 17.2L146.4 24.0L146.4 30.7L146.4 37.4L146.4 44.2L146.4 50.9L146.4 57.6L146.4 64.3L146.4 71.1L146.4 77.8L146.4 84.5L146.4 91.3L146.4 98.0L146.4 104.7L146.4 111.5L146.4 118.2L140.6 118.2L136.2 118.2L135.6 111.5L134.9 104.7L134.8 104.0L133.9 98.0L132.8 91.3L131.6 84.5L130.2 77.8L129.0 74.6L127.8 71.1L124.6 64.3L123.2 61.3L121.7 57.6L118.3 50.9L117.4 47.5L116.3 44.2L114.4 37.4L112.3 30.7L111.6 29.5L106.8 24.0L105.8 22.9L101.8 17.2L100.0 14.0L98.7 10.5Z" fill="#4cff00"/>
<path d="M105.8 10.5L111.6 10.5L117.4 10.5L123.2 10.5L129.0 10.5L134.8 10.5L140.6 10.5L146.4 10.5L146.4 17.2L146.4 24.0L146.4 30.7L146.4 37.4L146.4 44.2L146.4 50.9L146.4 57.6L146.4 64.3L146.4 71.1L146.4 77.8L146.4 84.5L146.4 91.3L146.4 98.0L146.4 104.7L146.4 111.5L146.4 118.2L140.6 118.2L137.6 118.2L137.1 111.5L136.5 104.7L135.5 98.0L134.8 93.6L134.4 91.3L133.3 84.5L131.9 77.8L129.5 71.1L129.0 70.0L126.4 64.3L123.4 57.6L123.2 57.2L120.2 50.9L118.4 44.2L117.4 40.0L116.7 37.4L114.4 30.7L111.6 25.5L110.3 24.0L105.8 18.9L104.7 17.2L100.9 10.5Z" fill="#7fff00"/>
<path d="M105.8 10.5L111.6 10.5L117.4 10.5L123.2 10.5L129.0 10.5L134.8 10.5L140.6 10.5L146.4 10.5L146.4 17.2L146.4 24.0L146.4 30.7L146.4 37.4L146.4 44.2L146.4 50.9L146.4 57.6L146.4 64.3L146.4 71.1L146.4 77.8L146.4 84.5L146.4 91.3L146.4 98.0L146.4 104.7L146.4 111.5L146.4 118.2L140.6 118.2L139.0 118.2L138.5 111.5L138.0 104.7L137.1 98.0L136.2 91.3L135.0 84.5L134.8 83.7L133.6 77.8L131.3 71.1L129.0 66.0L128.2 64.3L125.1 57.6L123.2 53.4L122.0 50.9L120.1 44.2L118.6 37.4L117.4 33.4L116.5 30.7L112.9 24.0L111.6 21.7L107.8 17.2L105.8 14.5L103.5 10.5Z" fill="#aaff00"/>
<path d="M111.6 10.5L117.4 10.5L123.2 10.5L129.0 10.5L134.8 10.5L140.6 10.5L146.4 10.5L146.4 17.2L146.4 24.0L146.4 30.7L146.4 37.4L146.4 44.2L146.4 50.9L146.4 57.6L146.4 64.3L146.4 71.1L146.4 77.8L146.4 84.5L146.4 91.3L146.4 98.0L146.4 104.7L146.4 111.5L146.4 118.2L140.6 118.2L140.4 118.2L140.0 111.5L139.5 104.7L138.8 98.0L137.9 91.3L136.8 84.5L135.4 77.8L134.8 76.2L133.1 71.1L130.1 64.3L129.0 62.2L126.9 57.6L123.9 50.9L123.2 48.7L121.9 44.2L120.3 37.4L118.4 30.7L117.4 28.4L115.1 24.0L111.6 17.8L111.1 17.2L106.3 10.5Z" fill="#d3ff00"/>
<path d="M111.6 10.5L117.4 10.5L123.2 10.5L129.0 10.5L134.8 10.5L140.6 10.5L146.4 10.5L146.4 17.2L146.4 24.0L146.4 30.7L146.4 37.4L146.4 44.2L146.4 50.9L146.4 57.6L146.4 64.3L146.4 71.1L146.4 77.8L146.4 84.5L146.4 91.3L146.4 98.0L146.4 104.7L146.4 111.5L146.4 118.2L141.7 118.2L141.5 111.5L141.1 104.7L140.6 99.8L140.4 98.0L139.6 91.3L138.7 84.5L137.2 77.8L134.9 71.1L134.8 70.9L132.0 64.3L129.0 58.4L128.6 57.6L125.7 50.9L123.7 44.2L123.2 42.4L122.0 37.4L120.2 30.7L117.4 24.2L117.3 24.0L113.9 17.2L111.6 13.4L109.6 10.5Z" fill="#fdff00"/>
<path d="M117.4 10.5L123.2 10.5L129.0 10.5L134.8 10.5L140.6 10.5L146.4 10.5L146.4 17.2L146.4 24.0L146.4 30.7L146.4 37.4L146.4 44.2L146.4 50.9L146.4 57.6L146.4 64.3L146.4 71.1L146.4 77.8L146.4 84.5L146.4 91.3L146.4 98.0L146.4 104.7L146.4 111.5L146.4 118.2L143.0 118.2L142.9 111.5L142.6 104.7L142.1 98.0L141.4 91.3L140.6 85.4L140.5 84.5L139.0 77.8L136.7 71.1L134.8 66.6L133.8 64.3L130.6 57.6L129.0 54.4L127.5 50.9L125.6 44.2L123.7 37.4L123.2 35.6L122.0 30.7L119.4 24.0L117.4 18.7L116.7 17.2L112.9 10.5Z" fill="#ffe300"/>
<path d="M117.4 10.5L123.2 10.5L129.0 10.5L134.8 10.5L140.6 10.5L146.4 10.5L146.4 17.2L146.4 24.0L146.4 30.7L146.4 37.4L146.4 44.2L146.4 50.9L146.4 57.6L146.4 64.3L146.4 71.1L146.4 77.8L146.4 84.5L146.4 91.3L146.4 98.0L146.4 104.7L146.4 111.5L146.4 118.2L144.3 118.2L144.3 111.5L144.1 104.7L143.7 98.0L143.1 91.3L142.3 84.5L140.8 77.8L140.6 77.2L138.5 71.1L135.7 64.3L134.8 62.4L132.5 57.6L129.4 50.9L129.0 49.8L127.4 44.2L125.7 37.4L123.8 30.7L123.2 28.9L121.5 24.0L119.2 17.2L117.4 12.4L116.4 10.5Z" fill="#ffcb00"/>
<path d="M123.2 10.5L129.0 10.5L134.8 10.5L140.6 10.5L146.4 10.5L146.4 17.2L146.4 24.0L146.4 30.7L146.4 37.4L146.4 44.2L146.4 50.9L146.4 57.6L146.4 64.3L146.4 71.1L146.4 77.8L146.4 84.5L146.4 91.3L146.4 98.0L146.4 104.7L146.4 111.5L146.4 118.2L145.6 118.2L145.7 111.5L145.7 104.7L145.4 98.0L144.9 91.3L144.0 84.5L142.4 77.8L140.6 71.9L140.3 71.1L137.4 64.3L134.8 58.3L134.5 57.6L131.6 50.9L129.4 44.2L129.0 42.9L127.6 37.4L125.9 30.7L123.6 24.0L123.2 22.8L121.5 17.2L119.3 10.5Z" fill="#ffb700"/>
<path d="M123.2 10.5L129.0 10.5L134.8 10.5L140.6 10.5L146.4 10.5L146.4 17.2L146.4 24.0L146.4 30.7L146.4 37.4L146.4 44.2L146.4 50.9L146.4 57.6L146.4 64.3L146.4 71.1L146.4 77.8L146.4 84.5L146.4 89.3L145.8 84.5L144.1 77.8L141.9 71.1L140.6 67.6L139.2 64.3L136.5 57.6L134.8 53.3L133.8 50.9L131.6 44.2L129.7 37.4L129.0 35.1L127.9 30.7L125.8 24.0L123.9 17.2L123.2 14.6L122.0 10.5Z" fill="#ffa300"/>
<path d="M129.0 10.5L134.8 10.5L140.6 10.5L146.4 10.5L146.4 17.2L146.4 24.0L146.4 30.7L146.4 37.4L146.4 44.2L146.4 50.9L146.4 57.6L146.4 64.3L146.4 71.1L146.4 77.8L146.4 80.4L145.7 77.8L143.4 71.1L141.0 64.3L140.6 63.2L138.5 57.6L136.0 50.9L134.8 47.1L133.9 44.2L132.0 37.4L130.1 30.7L129.0 27.1L128.1 24.0L126.3 17.2L124.5 10.5Z" fill="#ff8f00"/>
<path d="M129.0 10.5L134.8 10.5L140.6 10.5L146.4 10.5L146.4 17.2L146.4 24.0L146.4 30.7L146.4 37.4L146.4 44.2L146.4 50.9L146.4 57.6L146.4 64.3L146.4 71.1L146.4 75.2L145.0 71.1L142.5 64.3L140.6 58.1L140.4 57.6L138.3 50.9L136.3 44.2L134.8 39.1L134.4 37.4L132.5 30.7L130.5 24.0L129.0 18.7L128.6 17.2L126.9 10.5Z" fill="#ff7b00"/>
<path d="M134.8 10.5L140.6 10.5L146.4 10.5L146.4 17.2L146.4 24.0L146.4 30.7L146.4 37.4L146.4 44.2L146.4 50.9L146.4 57.6L146.4 64.3L146.4 70.8L144.1 64.3L142.3 57.6L140.6 51.1L140.5 50.9L138.7 44.2L136.9 37.4L134.9 30.7L134.8 30.4L132.9 24.0L131.0 17.2L129.3 10.5Z" fill="#ff6700"/>
<path d="M134.8 10.5L140.6 10.5L146.4 10.5L146.4 17.2L146.4 24.0L146.4 30.7L146.4 37.4L146.4 44.2L146.4 50.9L146.4 57.6L146.4 64.3L146.4 66.4L145.7 64.3L144.1 57.6L142.7 50.9L141.2 44.2L140.6 41.8L139.4 37.4L137.4 30.7L135.3 24.0L134.8 22.4L133.4 17.2L131.7 10.5Z" fill="#ff5600"/>
<path d="M134.8 10.5L140.6 10.5L146.4 10.5L146.4 17.2L146.4 24.0L146.4 30.7L146.4 37.4L146.4 44.2L146.4 50.9L146.4 57.6L146.4 59.8L145.9 57.6L144.8 50.9L143.6 44.2L142.0 37.4L140.6 32.8L140.0 30.7L137.8 24.0L135.8 17.2L134.8 13.5L134.0 10.5Z" fill="#ff4600"/>
<path d="M140.6 10.5L146.4 10.5L146.4 17.2L146.4 24.0L146.4 30.7L146.4 37.4L146.4 44.2L146.4 47.0L145.9 44.2L144.4 37.4L142.5 30.7L140.6 24.9L140.3 24.0L138.3 17.2L136.5 10.5Z" fill="#ff3700"/>
<path d="M140.6 10.5L146.4 10.5L146.4 17.2L146.4 24.0L146.4 30.7L146.4 35.8L145.0 30.7L142.8 24.0L140.8 17.2L140.6 16.7L138.9 10.5Z" fill="#ff2700"/>
<path d="M146.4 10.5L146.4 17.2L146.4 24.0L146.4 27.4L145.3 24.0L143.3 17.2L141.4 10.5Z" fill="#ff1700"/>
<path d="M146.4 10.5L146.4 17.2L146.4 19.3L145.8 17.2L143.9 10.5Z" fill="#ff0800"/>
<path d="M96.3 118.2L94.7 111.5L94.2 110.3L92.7 104.7L90.5 98.0L88.5 91.3L88.5 91.2L84.5 84.5L82.7 81.7L78.5 77.8L76.9 76.7L71.1 74.0L65.3 71.9L59.5 71.1L55.7 71.1L53.7 71.1L47.9 71.0L46.0 71.1L42.1 71.3L36.3 71.5L30.5 71.5M112.1 118.2L111.6 113.1L111.4 111.5L109.4 104.7L105.8 98.5L105.4 98.0L100.3 91.3L100.0 90.7L97.7 84.5L94.3 77.8L94.2 77.8L90.6 71.1L88.5 67.6L84.8 64.3L82.7 62.5L76.9 59.7L71.1 57.8L70.3 57.6L65.3 56.1L59.5 55.0L53.7 54.5L47.9 54.0L42.1 53.9L36.3 54.1L30.5 54.6M119.1 118.2L118.9 111.5L118.0 104.7L117.4 102.0L116.6 98.0L115.0 91.3L113.3 84.5L111.6 79.3L110.8 77.8L105.8 72.6L104.2 71.1L100.0 67.5L97.8 64.3L94.2 58.7L93.6 57.6L89.8 50.9L88.5 47.7L86.1 44.2L82.7 39.1L80.6 37.4L76.9 34.3L71.1 31.7L66.0 30.7L65.3 30.5L59.5 29.8L53.7 29.0L47.9 28.3L42.1 28.1L36.3 27.9L30.5 27.7M127.1 118.2L126.7 111.5L125.8 104.7L124.7 98.0L123.7 91.3L123.2 88.5L122.5 84.5L120.9 77.8L118.1 71.1L117.4 69.6L114.3 64.3L111.6 59.6L109.7 57.6L105.8 54.1L102.5 50.9L100.0 46.2L99.4 44.2L97.3 37.4L94.3 30.7L94.2 30.7L91.0 24.0L88.5 17.6L88.3 17.2L84.9 10.5M136.2 118.2L135.6 111.5L134.9 104.7L134.8 104.0L133.9 98.0L132.8 91.3L131.6 84.5L130.2 77.8L129.0 74.6L127.8 71.1L124.6 64.3L123.2 61.3L121.7 57.6L118.3 50.9L117.4 47.5L116.3 44.2L114.4 37.4L112.3 30.7L111.6 29.5L106.8 24.0L105.8 22.9L101.8 17.2L100.0 14.0L98.7 10.5M144.3 118.2L144.3 111.5L144.1 104.7L143.7 98.0L143.1 91.3L142.3 84.5L140.8 77.8L140.6 77.2L138.5 71.1L135.7 64.3L134.8 62.4L132.5 57.6L129.4 50.9L129.0 49.8L127.4 44.2L125.7 37.4L123.8 30.7L123.2 28.9L121.5 24.0L119.2 17.2L117.4 12.4L116.4 10.5M146.4 66.4L145.7 64.3L144.1 57.6L142.7 50.9L141.2 44.2L140.6 41.8L139.4 37.4L137.4 30.7L135.3 24.0L134.8 22.4L133.4 17.2L131.7 10.5" fill="none" stroke="#3a3a3a" stroke-opacity="0.75" stroke-width="0.6"/>
</g>
<rect x="30.50" y="10.50" width="115.90" height="107.70" fill="none" stroke="#000" stroke-width="1"/>
<path d="M30.50 118.20v3.3M42.09 118.20v1.8M53.68 118.20v3.3M65.27 118.20v1.8M76.86 118.20v3.3M88.45 118.20v1.8M100.04 118.20v3.3M111.63 118.20v1.8M123.22 118.20v3.3M134.81 118.20v1.8M146.40 118.20v3.3M30.50 118.20h-3.3M30.50 111.47h-1.8M30.50 104.74h-3.3M30.50 98.01h-1.8M30.50 91.28h-3.3M30.50 84.54h-1.8M30.50 77.81h-3.3M30.50 71.08h-1.8M30.50 64.35h-3.3M30.50 57.62h-1.8M30.50 50.89h-3.3M30.50 44.16h-1.8M30.50 37.42h-3.3M30.50 30.69h-1.8M30.50 23.96h-3.3M30.50 17.23h-1.8M30.50 10.50h-3.3" stroke="#000" stroke-width="0.8" fill="none"/>
<text x="30.50" y="130.50" class="tl" text-anchor="middle">50</text>
<text x="53.68" y="130.50" class="tl" text-anchor="middle">60</text>
<text x="76.86" y="130.50" class="tl" text-anchor="middle">70</text>
<text x="100.04" y="130.50" class="tl" text-anchor="middle">80</text>
<text x="123.22" y="130.50" class="tl" text-anchor="middle">90</text>
<text x="146.40" y="130.50" class="tl" text-anchor="middle">100</text>
<text x="24.40" y="120.80" class="tly" text-anchor="end">10</text>
<text x="24.40" y="107.34" class="tly" text-anchor="end">15</text>
<text x="24.40" y="93.88" class="tly" text-anchor="end">20</text>
<text x="24.40" y="80.41" class="tly" text-anchor="end">25</text>
<text x="24.40" y="66.95" class="tly" text-anchor="end">30</text>
<text x="24.40" y="53.49" class="tly" text-anchor="end">35</text>
<text x="24.40" y="40.02" class="tly" text-anchor="end">40</text>
<text x="24.40" y="26.56" class="tly" text-anchor="end">45</text>
<text x="24.40" y="13.10" class="tly" text-anchor="end">50</text>
<text transform="translate(11.50 69.10) rotate(-90)" class="at" text-anchor="middle">Quantile for dormancy</text>
<text x="139.90" y="115.30" class="pl" text-anchor="end">(a)</text>
<rect x="151.40" y="13.60" width="3.70" height="107.90" fill="url(#cbga)" stroke="#000" stroke-width="1"/>
<path d="M155.80 16.00h3.2" stroke="#444" stroke-width="0.8"/>
<text x="161.10" y="18.30" class="cl">−1469</text>
<path d="M155.80 28.98h3.2" stroke="#444" stroke-width="0.8"/>
<text x="161.10" y="31.28" class="cl">−1499</text>
<path d="M155.80 41.95h3.2" stroke="#444" stroke-width="0.8"/>
<text x="161.10" y="44.25" class="cl">−1530</text>
<path d="M155.80 54.92h3.2" stroke="#444" stroke-width="0.8"/>
<text x="161.10" y="57.22" class="cl">−1560</text>
<path d="M155.80 67.90h3.2" stroke="#444" stroke-width="0.8"/>
<text x="161.10" y="70.20" class="cl">−1590</text>
<path d="M155.80 80.88h3.2" stroke="#444" stroke-width="0.8"/>
<text x="161.10" y="83.17" class="cl">−1620</text>
<path d="M155.80 93.85h3.2" stroke="#444" stroke-width="0.8"/>
<text x="161.10" y="96.15" class="cl">−1651</text>
<path d="M155.80 106.83h3.2" stroke="#444" stroke-width="0.8"/>
<text x="161.10" y="109.12" class="cl">−1681</text>
<path d="M155.80 119.80h3.2" stroke="#444" stroke-width="0.8"/>
<text x="161.10" y="122.10" class="cl">−1711</text>
<text x="152.70" y="11.60" class="aic">AIC</text>
<clipPath id="cb"><rect x="212.50" y="10.50" width="115.90" height="107.70"/></clipPath>
<g clip-path="url(#cb)">
<rect x="212.50" y="10.50" width="115.90" height="107.70" fill="#0008ff"/>
<path d="M218.3 10.5L224.1 10.5L229.9 10.5L235.7 10.5L241.5 10.5L247.3 10.5L253.1 10.5L258.9 10.5L264.7 10.5L270.4 10.5L276.2 10.5L282.0 10.5L287.8 10.5L293.6 10.5L299.4 10.5L305.2 10.5L311.0 10.5L316.8 10.5L322.6 10.5L328.4 10.5L328.4 17.2L328.4 24.0L328.4 30.7L328.4 37.4L328.4 44.2L328.4 50.9L328.4 57.6L328.4 64.3L328.4 71.1L328.4 77.8L328.4 84.5L328.4 91.3L328.4 98.0L328.4 104.7L328.4 111.5L328.4 118.2L322.6 118.2L316.8 118.2L311.0 118.2L305.2 118.2L299.4 118.2L293.6 118.2L287.8 118.2L282.0 118.2L276.2 118.2L270.4 118.2L264.7 118.2L258.9 118.2L253.1 118.2L247.4 118.2L247.3 117.8L243.7 111.5L241.5 107.0L240.1 104.7L235.7 98.6L234.8 98.0L229.9 95.4L224.1 94.5L218.3 94.3L212.5 94.5L212.5 91.3L212.5 84.5L212.5 77.8L212.5 71.1L212.5 64.3L212.5 57.6L212.5 50.9L212.5 44.2L212.5 37.4L212.5 30.7L212.5 24.0L212.5 17.2L212.5 10.5Z" fill="#0018ff"/>
<path d="M218.3 10.5L224.1 10.5L229.9 10.5L235.7 10.5L241.5 10.5L247.3 10.5L253.1 10.5L258.9 10.5L264.7 10.5L270.4 10.5L276.2 10.5L282.0 10.5L287.8 10.5L293.6 10.5L299.4 10.5L305.2 10.5L311.0 10.5L316.8 10.5L322.6 10.5L328.4 10.5L328.4 17.2L328.4 24.0L328.4 30.7L328.4 37.4L328.4 44.2L328.4 50.9L328.4 57.6L328.4 64.3L328.4 71.1L328.4 77.8L328.4 84.5L328.4 91.3L328.4 98.0L328.4 104.7L328.4 111.5L328.4 118.2L322.6 118.2L316.8 118.2L311.0 118.2L305.2 118.2L299.4 118.2L293.6 118.2L287.8 118.2L282.0 118.2L276.2 118.2L270.4 118.2L264.7 118.2L258.9 118.2L253.2 118.2L253.1 117.8L250.0 111.5L247.3 105.8L246.7 104.7L242.6 98.0L241.5 96.1L237.0 91.3L235.7 90.3L229.9 88.5L224.1 88.0L218.3 88.0L212.5 88.1L212.5 84.5L212.5 77.8L212.5 71.1L212.5 64.3L212.5 57.6L212.5 50.9L212.5 44.2L212.5 37.4L212.5 30.7L212.5 24.0L212.5 17.2L212.5 10.5Z" fill="#0029ff"/>
<path d="M218.3 10.5L224.1 10.5L229.9 10.5L235.7 10.5L241.5 10.5L247.3 10.5L253.1 10.5L258.9 10.5L264.7 10.5L270.4 10.5L276.2 10.5L282.0 10.5L287.8 10.5L293.6 10.5L299.4 10.5L305.2 10.5L311.0 10.5L316.8 10.5L322.6 10.5L328.4 10.5L328.4 17.2L328.4 24.0L328.4 30.7L328.4 37.4L328.4 44.2L328.4 50.9L328.4 57.6L328.4 64.3L328.4 71.1L328.4 77.8L328.4 84.5L328.4 91.3L328.4 98.0L328.4 104.7L328.4 111.5L328.4 118.2L322.6 118.2L316.8 118.2L311.0 118.2L305.2 118.2L299.4 118.2L293.6 118.2L287.8 118.2L282.0 118.2L276.2 118.2L270.4 118.2L264.7 118.2L258.9 118.2L257.7 118.2L255.3 111.5L253.1 107.1L251.8 104.7L248.0 98.0L247.3 96.7L244.0 91.3L241.5 87.7L236.7 84.5L235.7 84.1L229.9 83.2L224.1 83.0L218.3 83.0L212.5 83.1L212.5 77.8L212.5 71.1L212.5 64.3L212.5 57.6L212.5 50.9L212.5 44.2L212.5 37.4L212.5 30.7L212.5 24.0L212.5 17.2L212.5 10.5Z" fill="#0039ff"/>
<path d="M218.3 10.5L224.1 10.5L229.9 10.5L235.7 10.5L241.5 10.5L247.3 10.5L253.1 10.5L258.9 10.5L264.7 10.5L270.4 10.5L276.2 10.5L282.0 10.5L287.8 10.5L293.6 10.5L299.4 10.5L305.2 10.5L311.0 10.5L316.8 10.5L322.6 10.5L328.4 10.5L328.4 17.2L328.4 24.0L328.4 30.7L328.4 37.4L328.4 44.2L328.4 50.9L328.4 57.6L328.4 64.3L328.4 71.1L328.4 77.8L328.4 84.5L328.4 91.3L328.4 98.0L328.4 104.7L328.4 111.5L328.4 118.2L322.6 118.2L316.8 118.2L311.0 118.2L305.2 118.2L299.4 118.2L293.6 118.2L287.8 118.2L282.0 118.2L276.2 118.2L270.4 118.2L264.7 118.2L261.8 118.2L260.1 111.5L258.9 108.6L257.0 104.7L253.1 98.9L252.5 98.0L248.9 91.3L247.3 87.5L245.3 84.5L241.5 81.3L235.7 79.4L229.9 78.9L224.1 78.8L218.3 78.8L212.5 78.9L212.5 77.8L212.5 71.1L212.5 64.3L212.5 57.6L212.5 50.9L212.5 44.2L212.5 37.4L212.5 30.7L212.5 24.0L212.5 17.2L212.5 10.5Z" fill="#0049ff"/>
<path d="M218.3 10.5L224.1 10.5L229.9 10.5L235.7 10.5L241.5 10.5L247.3 10.5L253.1 10.5L258.9 10.5L264.7 10.5L270.4 10.5L276.2 10.5L282.0 10.5L287.8 10.5L293.6 10.5L299.4 10.5L305.2 10.5L311.0 10.5L316.8 10.5L322.6 10.5L328.4 10.5L328.4 17.2L328.4 24.0L328.4 30.7L328.4 37.4L328.4 44.2L328.4 50.9L328.4 57.6L328.4 64.3L328.4 71.1L328.4 77.8L328.4 84.5L328.4 91.3L328.4 98.0L328.4 104.7L328.4 111.5L328.4 118.2L322.6 118.2L316.8 118.2L311.0 118.2L305.2 118.2L299.4 118.2L293.6 118.2L287.8 118.2L282.0 118.2L276.2 118.2L270.4 118.2L265.7 118.2L264.8 111.5L264.7 111.1L262.3 104.7L258.9 100.1L257.4 98.0L253.1 91.3L253.1 91.2L250.2 84.5L247.3 79.7L244.8 77.8L241.5 76.4L235.7 75.4L229.9 75.2L224.1 75.2L218.3 75.2L212.5 75.2L212.5 71.1L212.5 64.3L212.5 57.6L212.5 50.9L212.5 44.2L212.5 37.4L212.5 30.7L212.5 24.0L212.5 17.2L212.5 10.5Z" fill="#005aff"/>
<path d="M218.3 10.5L224.1 10.5L229.9 10.5L235.7 10.5L241.5 10.5L247.3 10.5L253.1 10.5L258.9 10.5L264.7 10.5L270.4 10.5L276.2 10.5L282.0 10.5L287.8 10.5L293.6 10.5L299.4 10.5L305.2 10.5L311.0 10.5L316.8 10.5L322.6 10.5L328.4 10.5L328.4 17.2L328.4 24.0L328.4 30.7L328.4 37.4L328.4 44.2L328.4 50.9L328.4 57.6L328.4 64.3L328.4 71.1L328.4 77.8L328.4 84.5L328.4 91.3L328.4 98.0L328.4 104.7L328.4 111.5L328.4 118.2L322.6 118.2L316.8 118.2L311.0 118.2L305.2 118.2L299.4 118.2L293.6 118.2L287.8 118.2L282.0 118.2L276.2 118.2L270.4 118.2L269.7 118.2L269.1 111.5L267.2 104.7L264.7 100.4L262.9 98.0L258.9 93.1L257.6 91.3L254.4 84.5L253.1 82.3L250.2 77.8L247.3 75.1L241.5 72.6L235.7 71.8L229.9 71.6L224.1 71.7L218.3 71.8L212.5 71.8L212.5 71.1L212.5 64.3L212.5 57.6L212.5 50.9L212.5 44.2L212.5 37.4L212.5 30.7L212.5 24.0L212.5 17.2L212.5 10.5Z" fill="#006dff"/>
<path d="M218.3 10.5L224.1 10.5L229.9 10.5L235.7 10.5L241.5 10.5L247.3 10.5L253.1 10.5L258.9 10.5L264.7 10.5L270.4 10.5L276.2 10.5L282.0 10.5L287.8 10.5L293.6 10.5L299.4 10.5L305.2 10.5L311.0 10.5L316.8 10.5L322.6 10.5L328.4 10.5L328.4 17.2L328.4 24.0L328.4 30.7L328.4 37.4L328.4 44.2L328.4 50.9L328.4 57.6L328.4 64.3L328.4 71.1L328.4 77.8L328.4 84.5L328.4 91.3L328.4 98.0L328.4 104.7L328.4 111.5L328.4 118.2L322.6 118.2L316.8 118.2L311.0 118.2L305.2 118.2L299.4 118.2L293.6 118.2L287.8 118.2L282.0 118.2L276.2 118.2L273.9 118.2L273.1 111.5L271.4 104.7L270.4 102.8L267.7 98.0L264.7 93.6L262.7 91.3L258.9 85.5L258.4 84.5L254.1 77.8L253.1 76.8L247.3 71.3L246.7 71.1L241.5 69.4L235.7 68.7L229.9 68.5L224.1 68.6L218.3 68.7L212.5 68.8L212.5 64.3L212.5 57.6L212.5 50.9L212.5 44.2L212.5 37.4L212.5 30.7L212.5 24.0L212.5 17.2L212.5 10.5Z" fill="#0084ff"/>
<path d="M218.3 10.5L224.1 10.5L229.9 10.5L235.7 10.5L241.5 10.5L247.3 10.5L253.1 10.5L258.9 10.5L264.7 10.5L270.4 10.5L276.2 10.5L282.0 10.5L287.8 10.5L293.6 10.5L299.4 10.5L305.2 10.5L311.0 10.5L316.8 10.5L322.6 10.5L328.4 10.5L328.4 17.2L328.4 24.0L328.4 30.7L328.4 37.4L328.4 44.2L328.4 50.9L328.4 57.6L328.4 64.3L328.4 71.1L328.4 77.8L328.4 84.5L328.4 91.3L328.4 98.0L328.4 104.7L328.4 111.5L328.4 118.2L322.6 118.2L316.8 118.2L311.0 118.2L305.2 118.2L299.4 118.2L293.6 118.2L287.8 118.2L282.0 118.2L277.7 118.2L276.8 111.5L276.2 109.2L275.0 104.7L271.7 98.0L270.4 95.9L267.2 91.3L264.7 87.5L262.6 84.5L258.9 79.9L257.5 77.8L253.1 73.5L250.5 71.1L247.3 68.7L241.5 66.6L235.7 65.7L229.9 65.5L224.1 65.5L218.3 65.7L212.5 65.8L212.5 64.3L212.5 57.6L212.5 50.9L212.5 44.2L212.5 37.4L212.5 30.7L212.5 24.0L212.5 17.2L212.5 10.5Z" fill="#009aff"/>
<path d="M218.3 10.5L224.1 10.5L229.9 10.5L235.7 10.5L241.5 10.5L247.3 10.5L253.1 10.5L258.9 10.5L264.7 10.5L270.4 10.5L276.2 10.5L282.0 10.5L287.8 10.5L293.6 10.5L299.4 10.5L305.2 10.5L311.0 10.5L316.8 10.5L322.6 10.5L328.4 10.5L328.4 17.2L328.4 24.0L328.4 30.7L328.4 37.4L328.4 44.2L328.4 50.9L328.4 57.6L328.4 64.3L328.4 71.1L328.4 77.8L328.4 84.5L328.4 91.3L328.4 98.0L328.4 104.7L328.4 111.5L328.4 118.2L322.6 118.2L316.8 118.2L311.0 118.2L305.2 118.2L299.4 118.2L293.6 118.2L287.8 118.2L282.0 118.2L280.8 118.2L279.8 111.5L278.2 104.7L276.2 100.4L275.1 98.0L271.1 91.3L270.4 90.1L266.7 84.5L264.7 82.1L261.2 77.8L258.9 75.7L254.0 71.1L253.1 70.4L247.3 66.1L242.9 64.3L241.5 63.8L235.7 62.9L229.9 62.6L224.1 62.6L218.3 62.7L212.5 62.9L212.5 57.6L212.5 50.9L212.5 44.2L212.5 37.4L212.5 30.7L212.5 24.0L212.5 17.2L212.5 10.5Z" fill="#00b1ff"/>
<path d="M218.3 10.5L224.1 10.5L229.9 10.5L235.7 10.5L241.5 10.5L247.3 10.5L253.1 10.5L258.9 10.5L264.7 10.5L270.4 10.5L276.2 10.5L282.0 10.5L287.8 10.5L293.6 10.5L299.4 10.5L305.2 10.5L311.0 10.5L316.8 10.5L322.6 10.5L328.4 10.5L328.4 17.2L328.4 24.0L328.4 30.7L328.4 37.4L328.4 44.2L328.4 50.9L328.4 57.6L328.4 64.3L328.4 71.1L328.4 77.8L328.4 84.5L328.4 91.3L328.4 98.0L328.4 104.7L328.4 111.5L328.4 118.2L322.6 118.2L316.8 118.2L311.0 118.2L305.2 118.2L299.4 118.2L293.6 118.2L287.8 118.2L283.3 118.2L282.7 111.5L282.0 108.1L281.2 104.7L278.1 98.0L276.2 94.7L274.2 91.3L270.6 84.5L270.4 84.3L265.1 77.8L264.7 77.4L258.9 72.3L257.6 71.1L253.1 67.7L248.5 64.3L247.3 63.4L241.5 61.1L235.7 60.1L229.9 59.8L224.1 59.7L218.3 59.9L212.5 60.2L212.5 57.6L212.5 50.9L212.5 44.2L212.5 37.4L212.5 30.7L212.5 24.0L212.5 17.2L212.5 10.5Z" fill="#00c8ff"/>
<path d="M218.3 10.5L224.1 10.5L229.9 10.5L235.7 10.5L241.5 10.5L247.3 10.5L253.1 10.5L258.9 10.5L264.7 10.5L270.4 10.5L276.2 10.5L282.0 10.5L287.8 10.5L293.6 10.5L299.4 10.5L305.2 10.5L311.0 10.5L316.8 10.5L322.6 10.5L328.4 10.5L328.4 17.2L328.4 24.0L328.4 30.7L328.4 37.4L328.4 44.2L328.4 50.9L328.4 57.6L328.4 64.3L328.4 71.1L328.4 77.8L328.4 84.5L328.4 91.3L328.4 98.0L328.4 104.7L328.4 111.5L328.4 118.2L322.6 118.2L316.8 118.2L311.0 118.2L305.2 118.2L299.4 118.2L293.6 118.2L287.8 118.2L285.4 118.2L284.9 111.5L283.7 104.7L282.0 100.2L281.0 98.0L277.2 91.3L276.2 89.3L273.7 84.5L270.4 79.0L269.4 77.8L264.7 74.0L261.3 71.1L258.9 69.3L253.1 65.1L252.1 64.3L247.3 60.6L241.5 58.4L236.8 57.6L235.7 57.4L229.9 57.0L224.1 56.8L218.3 57.0L212.5 57.4L212.5 50.9L212.5 44.2L212.5 37.4L212.5 30.7L212.5 24.0L212.5 17.2L212.5 10.5Z" fill="#00deff"/>
<path d="M218.3 10.5L224.1 10.5L229.9 10.5L235.7 10.5L241.5 10.5L247.3 10.5L253.1 10.5L258.9 10.5L264.7 10.5L270.4 10.5L276.2 10.5L282.0 10.5L287.8 10.5L293.6 10.5L299.4 10.5L305.2 10.5L311.0 10.5L316.8 10.5L322.6 10.5L328.4 10.5L328.4 17.2L328.4 24.0L328.4 30.7L328.4 37.4L328.4 44.2L328.4 50.9L328.4 57.6L328.4 64.3L328.4 71.1L328.4 77.8L328.4 84.5L328.4 91.3L328.4 98.0L328.4 104.7L328.4 111.5L328.4 118.2L322.6 118.2L316.8 118.2L311.0 118.2L305.2 118.2L299.4 118.2L293.6 118.2L287.8 118.2L287.5 118.2L287.2 111.5L286.0 104.7L283.5 98.0L282.0 94.9L279.9 91.3L276.8 84.5L276.2 83.4L273.1 77.8L270.4 75.3L265.2 71.1L264.7 70.7L258.9 66.5L255.8 64.3L253.1 62.3L247.3 57.9L246.6 57.6L241.5 55.6L235.7 54.6L229.9 54.1L224.1 53.9L218.3 54.1L212.5 54.5L212.5 50.9L212.5 44.2L212.5 37.4L212.5 30.7L212.5 24.0L212.5 17.2L212.5 10.5Z" fill="#00f9ff"/>
<path d="M218.3 10.5L224.1 10.5L229.9 10.5L235.7 10.5L241.5 10.5L247.3 10.5L253.1 10.5L258.9 10.5L264.7 10.5L270.4 10.5L276.2 10.5L282.0 10.5L287.8 10.5L293.6 10.5L299.4 10.5L305.2 10.5L311.0 10.5L316.8 10.5L322.6 10.5L328.4 10.5L328.4 17.2L328.4 24.0L328.4 30.7L328.4 37.4L328.4 44.2L328.4 50.9L328.4 57.6L328.4 64.3L328.4 71.1L328.4 77.8L328.4 84.5L328.4 91.3L328.4 98.0L328.4 104.7L328.4 111.5L328.4 118.2L322.6 118.2L316.8 118.2L311.0 118.2L305.2 118.2L299.4 118.2L293.6 118.2L289.1 118.2L289.0 111.5L288.2 104.7L287.8 103.4L285.7 98.0L282.5 91.3L282.0 89.9L279.5 84.5L276.4 77.8L276.2 77.6L270.4 72.1L269.2 71.1L264.7 67.9L259.7 64.3L258.9 63.8L253.1 59.4L250.8 57.6L247.3 55.1L241.5 52.9L235.7 51.7L229.9 51.2L224.1 51.0L218.3 51.2L212.5 51.6L212.5 50.9L212.5 44.2L212.5 37.4L212.5 30.7L212.5 24.0L212.5 17.2L212.5 10.5Z" fill="#00ffe7"/>
<path d="M218.3 10.5L224.1 10.5L229.9 10.5L235.7 10.5L241.5 10.5L247.3 10.5L253.1 10.5L258.9 10.5L264.7 10.5L270.4 10.5L276.2 10.5L282.0 10.5L287.8 10.5L293.6 10.5L299.4 10.5L305.2 10.5L311.0 10.5L316.8 10.5L322.6 10.5L328.4 10.5L328.4 17.2L328.4 24.0L328.4 30.7L328.4 37.4L328.4 44.2L328.4 50.9L328.4 57.6L328.4 64.3L328.4 71.1L328.4 77.8L328.4 84.5L328.4 91.3L328.4 98.0L328.4 104.7L328.4 111.5L328.4 118.2L322.6 118.2L316.8 118.2L311.0 118.2L305.2 118.2L299.4 118.2L293.6 118.2L290.6 118.2L290.7 111.5L289.9 104.7L287.9 98.0L287.8 97.8L284.7 91.3L282.1 84.5L282.0 84.3L279.1 77.8L276.2 74.4L272.8 71.1L270.4 69.2L264.7 65.0L263.7 64.3L258.9 61.0L254.5 57.6L253.1 56.5L247.3 52.3L243.6 50.9L241.5 50.0L235.7 48.7L229.9 48.1L224.1 47.9L218.3 48.1L212.5 48.6L212.5 44.2L212.5 37.4L212.5 30.7L212.5 24.0L212.5 17.2L212.5 10.5Z" fill="#00ffc8"/>
<path d="M218.3 10.5L224.1 10.5L229.9 10.5L235.7 10.5L241.5 10.5L247.3 10.5L253.1 10.5L258.9 10.5L264.7 10.5L270.4 10.5L276.2 10.5L282.0 10.5L287.8 10.5L293.6 10.5L299.4 10.5L305.2 10.5L311.0 10.5L316.8 10.5L322.6 10.5L328.4 10.5L328.4 17.2L328.4 24.0L328.4 30.7L328.4 37.4L328.4 44.2L328.4 50.9L328.4 57.6L328.4 64.3L328.4 71.1L328.4 77.8L328.4 84.5L328.4 91.3L328.4 98.0L328.4 104.7L328.4 111.5L328.4 118.2L322.6 118.2L316.8 118.2L311.0 118.2L305.2 118.2L299.4 118.2L293.6 118.2L292.1 118.2L292.4 111.5L291.7 104.7L289.5 98.0L287.8 93.4L286.8 91.3L284.2 84.5L282.0 78.6L281.7 77.8L276.2 71.1L276.2 71.1L270.4 66.5L267.5 64.3L264.7 62.3L258.9 58.2L258.1 57.6L253.1 53.6L249.2 50.9L247.3 49.4L241.5 46.9L235.7 45.6L229.9 45.0L224.1 44.8L218.3 45.0L212.5 45.5L212.5 44.2L212.5 37.4L212.5 30.7L212.5 24.0L212.5 17.2L212.5 10.5Z" fill="#00ffaa"/>
<path d="M218.3 10.5L224.1 10.5L229.9 10.5L235.7 10.5L241.5 10.5L247.3 10.5L253.1 10.5L258.9 10.5L264.7 10.5L270.4 10.5L276.2 10.5L282.0 10.5L287.8 10.5L293.6 10.5L299.4 10.5L305.2 10.5L311.0 10.5L316.8 10.5L322.6 10.5L328.4 10.5L328.4 17.2L328.4 24.0L328.4 30.7L328.4 37.4L328.4 44.2L328.4 50.9L328.4 57.6L328.4 64.3L328.4 71.1L328.4 77.8L328.4 84.5L328.4 91.3L328.4 98.0L328.4 104.7L328.4 111.5L328.4 118.2L322.6 118.2L316.8 118.2L311.0 118.2L305.2 118.2L299.4 118.2L293.6 118.2L293.6 118.2L293.6 117.7L294.0 111.5L293.6 107.0L293.4 104.7L291.1 98.0L288.6 91.3L287.8 88.6L286.3 84.5L283.9 77.8L282.0 74.3L279.5 71.1L276.2 68.4L271.1 64.3L270.4 63.8L264.7 59.5L262.0 57.6L258.9 55.3L253.3 50.9L253.1 50.7L247.3 46.2L242.3 44.2L241.5 43.8L235.7 42.4L229.9 41.7L224.1 41.4L218.3 41.7L212.5 42.2L212.5 37.4L212.5 30.7L212.5 24.0L212.5 17.2L212.5 10.5Z" fill="#00ff8b"/>
<path d="M218.3 10.5L224.1 10.5L229.9 10.5L235.7 10.5L241.5 10.5L247.3 10.5L253.1 10.5L258.9 10.5L264.7 10.5L270.4 10.5L276.2 10.5L282.0 10.5L287.8 10.5L293.6 10.5L299.4 10.5L305.2 10.5L311.0 10.5L316.8 10.5L322.6 10.5L328.4 10.5L328.4 17.2L328.4 24.0L328.4 30.7L328.4 37.4L328.4 44.2L328.4 50.9L328.4 57.6L328.4 64.3L328.4 71.1L328.4 77.8L328.4 84.5L328.4 91.3L328.4 98.0L328.4 104.7L328.4 111.5L328.4 118.2L322.6 118.2L316.8 118.2L311.0 118.2L305.2 118.2L299.4 118.2L294.8 118.2L295.3 111.5L294.8 104.7L293.6 100.8L292.7 98.0L290.1 91.3L288.2 84.5L287.8 83.1L285.9 77.8L282.5 71.1L282.0 70.5L276.2 65.7L274.5 64.3L270.4 60.9L265.9 57.6L264.7 56.7L258.9 52.5L256.9 50.9L253.1 47.5L248.7 44.2L247.3 42.9L241.5 40.4L235.7 39.1L229.9 38.3L224.1 38.0L218.3 38.2L212.5 38.8L212.5 37.4L212.5 30.7L212.5 24.0L212.5 17.2L212.5 10.5Z" fill="#00ff6d"/>
<path d="M218.3 10.5L224.1 10.5L229.9 10.5L235.7 10.5L241.5 10.5L247.3 10.5L253.1 10.5L258.9 10.5L264.7 10.5L270.4 10.5L276.2 10.5L282.0 10.5L287.8 10.5L293.6 10.5L299.4 10.5L305.2 10.5L311.0 10.5L316.8 10.5L322.6 10.5L328.4 10.5L328.4 17.2L328.4 24.0L328.4 30.7L328.4 37.4L328.4 44.2L328.4 50.9L328.4 57.6L328.4 64.3L328.4 71.1L328.4 77.8L328.4 84.5L328.4 91.3L328.4 98.0L328.4 104.7L328.4 111.5L328.4 118.2L322.6 118.2L316.8 118.2L311.0 118.2L305.2 118.2L299.4 118.2L295.9 118.2L296.7 111.5L296.1 104.7L294.1 98.0L293.6 96.4L291.7 91.3L289.8 84.5L288.0 77.8L287.8 77.4L284.7 71.1L282.0 67.5L278.1 64.3L276.2 62.8L270.4 57.9L270.0 57.6L264.7 53.7L260.8 50.9L258.9 49.4L253.1 44.3L252.9 44.2L247.3 39.2L242.7 37.4L241.5 37.0L235.7 35.4L229.9 34.5L224.1 34.2L218.3 34.4L212.5 35.0L212.5 30.7L212.5 24.0L212.5 17.2L212.5 10.5Z" fill="#00ff56"/>
<path d="M218.3 10.5L224.1 10.5L229.9 10.5L235.7 10.5L241.5 10.5L247.3 10.5L253.1 10.5L258.9 10.5L264.7 10.5L270.4 10.5L276.2 10.5L282.0 10.5L287.8 10.5L293.6 10.5L299.4 10.5L305.2 10.5L311.0 10.5L316.8 10.5L322.6 10.5L328.4 10.5L328.4 17.2L328.4 24.0L328.4 30.7L328.4 37.4L328.4 44.2L328.4 50.9L328.4 57.6L328.4 64.3L328.4 71.1L328.4 77.8L328.4 84.5L328.4 91.3L328.4 98.0L328.4 104.7L328.4 111.5L328.4 118.2L322.6 118.2L316.8 118.2L311.0 118.2L305.2 118.2L299.4 118.2L297.1 118.2L298.0 111.5L297.4 104.7L295.3 98.0L293.6 92.3L293.2 91.3L291.3 84.5L289.6 77.8L287.8 73.1L286.8 71.1L282.0 64.5L281.8 64.3L276.2 59.5L273.9 57.6L270.4 54.8L265.0 50.9L264.7 50.6L258.9 46.0L256.7 44.2L253.1 40.6L249.4 37.4L247.3 35.6L241.5 33.2L235.7 31.5L230.4 30.7L229.9 30.6L224.1 30.3L218.3 30.5L216.1 30.7L212.5 31.0L212.5 30.7L212.5 24.0L212.5 17.2L212.5 10.5Z" fill="#00ff48"/>
<path d="M218.3 10.5L224.1 10.5L229.9 10.5L235.7 10.5L241.5 10.5L247.3 10.5L253.1 10.5L258.9 10.5L264.7 10.5L270.4 10.5L276.2 10.5L282.0 10.5L287.8 10.5L293.6 10.5L299.4 10.5L305.2 10.5L311.0 10.5L316.8 10.5L322.6 10.5L328.4 10.5L328.4 17.2L328.4 24.0L328.4 30.7L328.4 37.4L328.4 44.2L328.4 50.9L328.4 57.6L328.4 64.3L328.4 71.1L328.4 77.8L328.4 84.5L328.4 91.3L328.4 98.0L328.4 104.7L328.4 111.5L328.4 118.2L322.6 118.2L316.8 118.2L311.0 118.2L305.2 118.2L299.4 118.2L298.2 118.2L299.3 111.5L298.7 104.7L296.5 98.0L294.6 91.3L293.6 87.2L292.9 84.5L291.1 77.8L288.7 71.1L287.8 69.5L284.1 64.3L282.0 61.7L277.5 57.6L276.2 56.3L270.4 51.6L269.4 50.9L264.7 47.3L260.7 44.2L258.9 42.6L253.5 37.4L253.1 37.0L247.3 32.1L244.1 30.7L241.5 29.2L235.7 27.2L229.9 26.3L224.1 25.9L218.3 26.1L212.5 26.4L212.5 24.0L212.5 17.2L212.5 10.5Z" fill="#00ff3a"/>
<path d="M218.3 10.5L224.1 10.5L229.9 10.5L235.7 10.5L241.5 10.5L247.3 10.5L253.1 10.5L258.9 10.5L264.7 10.5L270.4 10.5L276.2 10.5L282.0 10.5L287.8 10.5L293.6 10.5L299.4 10.5L305.2 10.5L311.0 10.5L316.8 10.5L322.6 10.5L328.4 10.5L328.4 17.2L328.4 24.0L328.4 30.7L328.4 37.4L328.4 44.2L328.4 50.9L328.4 57.6L328.4 64.3L328.4 71.1L328.4 77.8L328.4 84.5L328.4 91.3L328.4 98.0L328.4 104.7L328.4 111.5L328.4 118.2L322.6 118.2L316.8 118.2L311.0 118.2L305.2 118.2L299.4 118.2L299.4 118.2L299.4 117.9L300.5 111.5L300.0 104.7L299.4 103.0L297.8 98.0L295.8 91.3L294.4 84.5L293.6 81.4L292.7 77.8L290.3 71.1L287.8 66.5L286.3 64.3L282.0 58.9L280.7 57.6L276.2 53.0L273.5 50.9L270.4 48.3L264.9 44.2L264.7 44.0L258.9 39.0L257.3 37.4L253.1 33.2L249.9 30.7L247.3 28.2L241.5 24.8L238.9 24.0L235.7 22.8L229.9 21.8L224.1 21.4L218.3 21.4L212.5 21.6L212.5 17.2L212.5 10.5Z" fill="#00ff2c"/>
<path d="M218.3 10.5L224.1 10.5L229.9 10.5L235.7 10.5L241.5 10.5L247.3 10.5L253.1 10.5L258.9 10.5L264.7 10.5L270.4 10.5L276.2 10.5L282.0 10.5L287.8 10.5L293.6 10.5L299.4 10.5L305.2 10.5L311.0 10.5L316.8 10.5L322.6 10.5L328.4 10.5L328.4 17.2L328.4 24.0L328.4 30.7L328.4 37.4L328.4 44.2L328.4 50.9L328.4 57.6L328.4 64.3L328.4 71.1L328.4 77.8L328.4 84.5L328.4 91.3L328.4 98.0L328.4 104.7L328.4 111.5L328.4 118.2L322.6 118.2L316.8 118.2L311.0 118.2L305.2 118.2L300.7 118.2L301.7 111.5L301.2 104.7L299.4 99.3L299.0 98.0L297.1 91.3L295.7 84.5L294.2 77.8L293.6 76.0L291.9 71.1L288.3 64.3L287.8 63.5L283.3 57.6L282.0 55.8L277.3 50.9L276.2 49.7L270.4 44.9L269.4 44.2L264.7 40.4L261.2 37.4L258.9 35.1L254.3 30.7L253.1 29.3L247.3 24.0L247.3 24.0L241.5 19.9L235.7 18.0L230.5 17.2L229.9 17.1L224.1 16.8L218.3 16.6L212.5 16.4L212.5 10.5Z" fill="#00ff1e"/>
<path d="M218.3 10.5L224.1 10.5L229.9 10.5L235.7 10.5L241.5 10.5L247.3 10.5L253.1 10.5L258.9 10.5L264.7 10.5L270.4 10.5L276.2 10.5L282.0 10.5L287.8 10.5L293.6 10.5L299.4 10.5L305.2 10.5L311.0 10.5L316.8 10.5L322.6 10.5L328.4 10.5L328.4 17.2L328.4 24.0L328.4 30.7L328.4 37.4L328.4 44.2L328.4 50.9L328.4 57.6L328.4 64.3L328.4 71.1L328.4 77.8L328.4 84.5L328.4 91.3L328.4 98.0L328.4 104.7L328.4 111.5L328.4 118.2L322.6 118.2L316.8 118.2L311.0 118.2L305.2 118.2L302.1 118.2L302.9 111.5L302.3 104.7L300.3 98.0L299.4 95.1L298.4 91.3L297.1 84.5L295.5 77.8L293.6 71.5L293.5 71.1L290.0 64.3L287.8 60.6L285.5 57.6L282.0 52.5L280.4 50.9L276.2 46.3L273.6 44.2L270.4 41.3L265.5 37.4L264.7 36.7L258.9 31.2L258.4 30.7L253.1 24.7L252.2 24.0L247.3 18.3L245.6 17.2L241.5 14.6L235.7 13.0L229.9 12.4L224.1 12.0L218.3 11.6L212.5 11.1L212.5 10.5Z" fill="#00ff10"/>
<path d="M247.3 10.5L253.1 10.5L258.9 10.5L264.7 10.5L270.4 10.5L276.2 10.5L282.0 10.5L287.8 10.5L293.6 10.5L299.4 10.5L305.2 10.5L311.0 10.5L316.8 10.5L322.6 10.5L328.4 10.5L328.4 17.2L328.4 24.0L328.4 30.7L328.4 37.4L328.4 44.2L328.4 50.9L328.4 57.6L328.4 64.3L328.4 71.1L328.4 77.8L328.4 84.5L328.4 91.3L328.4 98.0L328.4 104.7L328.4 111.5L328.4 118.2L322.6 118.2L316.8 118.2L311.0 118.2L305.2 118.2L303.5 118.2L304.1 111.5L303.5 104.7L301.6 98.0L299.6 91.3L299.4 90.1L298.4 84.5L296.8 77.8L294.8 71.1L293.6 68.1L291.7 64.3L287.8 57.7L287.8 57.6L283.2 50.9L282.0 49.1L277.5 44.2L276.2 42.7L270.4 37.6L270.2 37.4L264.7 32.5L262.7 30.7L258.9 26.3L256.8 24.0L253.1 18.6L251.8 17.2L247.3 11.6L245.2 10.5Z" fill="#00ff05"/>
<path d="M253.1 10.5L258.9 10.5L264.7 10.5L270.4 10.5L276.2 10.5L282.0 10.5L287.8 10.5L293.6 10.5L299.4 10.5L305.2 10.5L311.0 10.5L316.8 10.5L322.6 10.5L328.4 10.5L328.4 17.2L328.4 24.0L328.4 30.7L328.4 37.4L328.4 44.2L328.4 50.9L328.4 57.6L328.4 64.3L328.4 71.1L328.4 77.8L328.4 84.5L328.4 91.3L328.4 98.0L328.4 104.7L328.4 111.5L328.4 118.2L322.6 118.2L316.8 118.2L311.0 118.2L305.2 118.2L304.9 118.2L305.2 112.8L305.3 111.5L305.2 110.6L304.7 104.7L302.9 98.0L301.0 91.3L299.7 84.5L299.4 83.2L298.1 77.8L296.0 71.1L293.6 64.8L293.4 64.3L289.6 57.6L287.8 54.3L285.5 50.9L282.0 45.6L280.7 44.2L276.2 38.9L274.6 37.4L270.4 33.3L267.5 30.7L264.7 27.6L261.4 24.0L258.9 20.2L256.8 17.2L253.1 10.8L252.8 10.5Z" fill="#02ff00"/>
<path d="M258.9 10.5L264.7 10.5L270.4 10.5L276.2 10.5L282.0 10.5L287.8 10.5L293.6 10.5L299.4 10.5L305.2 10.5L311.0 10.5L316.8 10.5L322.6 10.5L328.4 10.5L328.4 17.2L328.4 24.0L328.4 30.7L328.4 37.4L328.4 44.2L328.4 50.9L328.4 57.6L328.4 64.3L328.4 71.1L328.4 77.8L328.4 84.5L328.4 91.3L328.4 98.0L328.4 104.7L328.4 111.5L328.4 118.2L322.6 118.2L316.8 118.2L311.0 118.2L306.4 118.2L306.7 111.5L306.0 104.7L305.2 101.9L304.2 98.0L302.3 91.3L301.0 84.5L299.4 77.9L299.4 77.8L297.3 71.1L294.7 64.3L293.6 61.6L291.4 57.6L287.8 50.9L287.8 50.9L283.5 44.2L282.0 41.8L278.3 37.4L276.2 34.7L272.3 30.7L270.4 28.5L266.3 24.0L264.7 21.7L261.5 17.2L258.9 12.6L257.7 10.5Z" fill="#09ff00"/>
<path d="M264.7 10.5L270.4 10.5L276.2 10.5L282.0 10.5L287.8 10.5L293.6 10.5L299.4 10.5L305.2 10.5L311.0 10.5L316.8 10.5L322.6 10.5L328.4 10.5L328.4 17.2L328.4 24.0L328.4 30.7L328.4 37.4L328.4 44.2L328.4 50.9L328.4 57.6L328.4 64.3L328.4 71.1L328.4 77.8L328.4 84.5L328.4 91.3L328.4 98.0L328.4 104.7L328.4 111.5L328.4 118.2L322.6 118.2L316.8 118.2L311.0 118.2L307.9 118.2L308.1 111.5L307.4 104.7L305.6 98.0L305.2 97.0L303.6 91.3L302.3 84.5L300.7 77.8L299.4 73.9L298.5 71.1L296.0 64.3L293.6 58.4L293.2 57.6L289.7 50.9L287.8 47.1L285.9 44.2L282.0 37.9L281.7 37.4L276.6 30.7L276.2 30.2L271.1 24.0L270.4 23.1L266.2 17.2L264.7 14.8L262.1 10.5Z" fill="#10ff00"/>
<path d="M270.4 10.5L276.2 10.5L282.0 10.5L287.8 10.5L293.6 10.5L299.4 10.5L305.2 10.5L311.0 10.5L316.8 10.5L322.6 10.5L328.4 10.5L328.4 17.2L328.4 24.0L328.4 30.7L328.4 37.4L328.4 44.2L328.4 50.9L328.4 57.6L328.4 64.3L328.4 71.1L328.4 77.8L328.4 84.5L328.4 91.3L328.4 98.0L328.4 104.7L328.4 111.5L328.4 118.2L322.6 118.2L316.8 118.2L311.0 118.2L309.4 118.2L309.5 111.5L308.8 104.7L307.2 98.0L305.2 92.3L304.9 91.3L303.6 84.5L302.0 77.8L299.8 71.1L299.4 70.2L297.2 64.3L294.7 57.6L293.6 55.0L291.5 50.9L288.3 44.2L287.8 43.2L284.3 37.4L282.0 33.4L280.0 30.7L276.2 25.0L275.4 24.0L270.6 17.2L270.4 16.9L266.4 10.5Z" fill="#17ff00"/>
<path d="M276.2 10.5L282.0 10.5L287.8 10.5L293.6 10.5L299.4 10.5L305.2 10.5L311.0 10.5L316.8 10.5L322.6 10.5L328.4 10.5L328.4 17.2L328.4 24.0L328.4 30.7L328.4 37.4L328.4 44.2L328.4 50.9L328.4 57.6L328.4 64.3L328.4 71.1L328.4 77.8L328.4 84.5L328.4 91.3L328.4 98.0L328.4 104.7L328.4 111.5L328.4 118.2L322.6 118.2L316.8 118.2L311.0 118.2L311.0 118.2L310.9 111.5L310.2 104.7L308.7 98.0L306.7 91.3L305.2 86.2L304.9 84.5L303.3 77.8L301.1 71.1L299.4 66.9L298.5 64.3L296.1 57.6L293.6 51.5L293.3 50.9L290.2 44.2L287.8 39.1L286.8 37.4L283.1 30.7L282.0 28.6L279.0 24.0L276.2 19.4L274.7 17.2L270.5 10.5Z" fill="#28ff00"/>
<path d="M276.2 10.5L282.0 10.5L287.8 10.5L293.6 10.5L299.4 10.5L305.2 10.5L311.0 10.5L316.8 10.5L322.6 10.5L328.4 10.5L328.4 17.2L328.4 24.0L328.4 30.7L328.4 37.4L328.4 44.2L328.4 50.9L328.4 57.6L328.4 64.3L328.4 71.1L328.4 77.8L328.4 84.5L328.4 91.3L328.4 98.0L328.4 104.7L328.4 111.5L328.4 118.2L322.6 118.2L316.8 118.2L312.9 118.2L312.7 111.5L311.9 104.7L311.0 101.3L310.3 98.0L308.5 91.3L306.6 84.5L305.2 80.6L304.6 77.8L302.5 71.1L299.7 64.3L299.4 63.4L297.5 57.6L294.9 50.9L293.6 47.5L292.1 44.2L289.0 37.4L287.8 34.7L285.6 30.7L282.3 24.0L282.0 23.3L278.4 17.2L276.2 13.5L274.3 10.5Z" fill="#4cff00"/>
<path d="M282.0 10.5L287.8 10.5L293.6 10.5L299.4 10.5L305.2 10.5L311.0 10.5L316.8 10.5L322.6 10.5L328.4 10.5L328.4 17.2L328.4 24.0L328.4 30.7L328.4 37.4L328.4 44.2L328.4 50.9L328.4 57.6L328.4 64.3L328.4 71.1L328.4 77.8L328.4 84.5L328.4 91.3L328.4 98.0L328.4 104.7L328.4 111.5L328.4 118.2L322.6 118.2L316.8 118.2L314.8 118.2L314.7 111.5L314.0 104.7L312.4 98.0L311.0 94.0L310.3 91.3L308.5 84.5L306.2 77.8L305.2 75.7L303.8 71.1L301.2 64.3L299.4 59.3L298.8 57.6L296.3 50.9L293.9 44.2L293.6 43.4L290.9 37.4L288.1 30.7L287.8 29.9L285.0 24.0L282.0 17.6L281.8 17.2L277.9 10.5Z" fill="#7fff00"/>
<path d="M282.0 10.5L287.8 10.5L293.6 10.5L299.4 10.5L305.2 10.5L311.0 10.5L316.8 10.5L322.6 10.5L328.4 10.5L328.4 17.2L328.4 24.0L328.4 30.7L328.4 37.4L328.4 44.2L328.4 50.9L328.4 57.6L328.4 64.3L328.4 71.1L328.4 77.8L328.4 84.5L328.4 91.3L328.4 98.0L328.4 104.7L328.4 111.5L328.4 118.2L322.6 118.2L316.8 118.2L316.8 118.2L316.6 111.5L316.0 104.7L314.7 98.0L312.7 91.3L311.0 87.0L310.4 84.5L308.1 77.8L305.2 71.3L305.2 71.1L302.6 64.3L300.3 57.6L299.4 55.3L297.8 50.9L295.4 44.2L293.6 39.2L292.8 37.4L290.1 30.7L287.8 24.4L287.6 24.0L284.6 17.2L282.0 11.8L281.3 10.5Z" fill="#aaff00"/>
<path d="M287.8 10.5L293.6 10.5L299.4 10.5L305.2 10.5L311.0 10.5L316.8 10.5L322.6 10.5L328.4 10.5L328.4 17.2L328.4 24.0L328.4 30.7L328.4 37.4L328.4 44.2L328.4 50.9L328.4 57.6L328.4 64.3L328.4 71.1L328.4 77.8L328.4 84.5L328.4 91.3L328.4 98.0L328.4 104.7L328.4 111.5L328.4 118.2L322.6 118.2L319.8 118.2L319.3 111.5L318.5 104.7L317.2 98.0L316.8 96.8L315.5 91.3L313.0 84.5L311.0 80.7L310.0 77.8L307.1 71.1L305.2 67.5L304.0 64.3L301.7 57.6L299.4 51.2L299.3 50.9L296.9 44.2L294.6 37.4L293.6 34.5L292.1 30.7L289.7 24.0L287.8 18.3L287.3 17.2L284.3 10.5Z" fill="#d3ff00"/>
<path d="M287.8 10.5L293.6 10.5L299.4 10.5L305.2 10.5L311.0 10.5L316.8 10.5L322.6 10.5L328.4 10.5L328.4 17.2L328.4 24.0L328.4 30.7L328.4 37.4L328.4 44.2L328.4 50.9L328.4 57.6L328.4 64.3L328.4 71.1L328.4 77.8L328.4 84.5L328.4 91.3L328.4 98.0L328.4 104.7L328.4 111.5L328.4 118.2L323.0 118.2L322.6 116.0L322.1 111.5L321.4 104.7L320.4 98.0L318.8 91.3L316.8 86.7L316.1 84.5L312.7 77.8L311.0 75.5L309.1 71.1L305.6 64.3L305.2 63.7L303.2 57.6L300.9 50.9L299.4 47.0L298.4 44.2L296.3 37.4L294.1 30.7L293.6 29.2L291.8 24.0L289.7 17.2L287.8 12.2L287.1 10.5Z" fill="#fdff00"/>
<path d="M293.6 10.5L299.4 10.5L305.2 10.5L311.0 10.5L316.8 10.5L322.6 10.5L328.4 10.5L328.4 17.2L328.4 24.0L328.4 30.7L328.4 37.4L328.4 44.2L328.4 50.9L328.4 57.6L328.4 64.3L328.4 71.1L328.4 77.8L328.4 84.5L328.4 91.3L328.4 98.0L328.4 104.7L328.4 111.5L328.4 118.2L327.3 118.2L325.6 111.5L324.7 104.7L324.0 98.0L322.9 91.3L322.6 90.5L320.5 84.5L316.8 79.5L316.0 77.8L311.2 71.1L311.0 70.9L307.6 64.3L305.2 59.3L304.6 57.6L302.4 50.9L300.0 44.2L299.4 42.3L298.0 37.4L295.8 30.7L293.9 24.0L293.6 23.0L291.9 17.2L289.5 10.5Z" fill="#ffe300"/>
<path d="M293.6 10.5L299.4 10.5L305.2 10.5L311.0 10.5L316.8 10.5L322.6 10.5L328.4 10.5L328.4 17.2L328.4 24.0L328.4 30.7L328.4 37.4L328.4 44.2L328.4 50.9L328.4 57.6L328.4 64.3L328.4 71.1L328.4 77.8L328.4 84.5L328.4 91.3L328.4 98.0L328.4 104.7L328.4 105.1L328.4 104.7L328.0 98.0L327.8 91.3L325.9 84.5L322.6 80.0L321.1 77.8L316.8 74.1L314.7 71.1L311.0 66.9L309.7 64.3L306.5 57.6L305.2 54.7L304.0 50.9L301.7 44.2L299.6 37.4L299.4 36.7L297.5 30.7L295.6 24.0L294.0 17.2L293.6 15.9L291.7 10.5Z" fill="#ffcb00"/>
<path d="M299.4 10.5L305.2 10.5L311.0 10.5L316.8 10.5L322.6 10.5L328.4 10.5L328.4 17.2L328.4 24.0L328.4 30.7L328.4 37.4L328.4 44.2L328.4 50.9L328.4 57.6L328.4 64.3L328.4 71.1L328.4 77.8L328.4 79.9L326.9 77.8L322.6 74.2L319.0 71.1L316.8 69.4L312.4 64.3L311.0 62.6L308.7 57.6L305.7 50.9L305.2 49.8L303.3 44.2L301.3 37.4L299.4 31.4L299.2 30.7L297.3 24.0L295.7 17.2L293.9 10.5Z" fill="#ffb700"/>
<path d="M299.4 10.5L305.2 10.5L311.0 10.5L316.8 10.5L322.6 10.5L328.4 10.5L328.4 17.2L328.4 24.0L328.4 30.7L328.4 37.4L328.4 44.2L328.4 50.9L328.4 57.6L328.4 64.3L328.4 71.1L328.4 73.8L325.0 71.1L322.6 69.5L316.8 65.0L316.2 64.3L311.0 58.0L310.9 57.6L307.8 50.9L305.2 44.8L305.0 44.2L303.0 37.4L300.9 30.7L299.4 25.5L299.0 24.0L297.5 17.2L295.8 10.5Z" fill="#ffa300"/>
<path d="M299.4 10.5L305.2 10.5L311.0 10.5L316.8 10.5L322.6 10.5L328.4 10.5L328.4 17.2L328.4 24.0L328.4 30.7L328.4 37.4L328.4 44.2L328.4 50.9L328.4 57.6L328.4 64.3L328.4 68.6L322.6 65.0L321.8 64.4L316.8 60.7L314.3 57.6L311.0 53.1L310.0 50.9L307.1 44.2L305.2 39.4L304.6 37.4L302.6 30.7L300.7 24.0L299.4 18.1L299.2 17.2L297.6 10.5Z" fill="#ff8f00"/>
<path d="M305.2 10.5L311.0 10.5L316.8 10.5L322.6 10.5L328.4 10.5L328.4 17.2L328.4 24.0L328.4 30.7L328.4 37.4L328.4 44.2L328.4 50.9L328.4 57.6L328.4 63.7L322.6 60.5L318.6 57.6L316.8 56.3L312.8 50.9L311.0 48.2L309.3 44.2L306.6 37.4L305.2 33.8L304.3 30.7L302.4 24.0L301.0 17.2L299.5 10.5Z" fill="#ff7b00"/>
<path d="M305.2 10.5L311.0 10.5L316.8 10.5L322.6 10.5L328.4 10.5L328.4 17.2L328.4 24.0L328.4 30.7L328.4 37.4L328.4 44.2L328.4 50.9L328.4 57.6L328.4 58.9L325.9 57.6L322.6 56.2L316.8 51.9L316.1 50.9L311.6 44.2L311.0 43.2L308.7 37.4L306.2 30.7L305.2 28.0L304.1 24.0L302.8 17.2L301.4 10.5Z" fill="#ff6700"/>
<path d="M305.2 10.5L311.0 10.5L316.8 10.5L322.6 10.5L328.4 10.5L328.4 17.2L328.4 24.0L328.4 30.7L328.4 37.4L328.4 44.2L328.4 50.9L328.4 54.4L322.6 51.8L321.3 50.9L316.8 47.2L314.8 44.2L311.0 37.9L310.8 37.4L308.4 30.7L306.0 24.0L305.2 20.7L304.6 17.2L303.3 10.5Z" fill="#ff5600"/>
<path d="M305.2 10.5L311.0 10.5L316.8 10.5L322.6 10.5L328.4 10.5L328.4 17.2L328.4 24.0L328.4 30.7L328.4 37.4L328.4 44.2L328.4 50.1L322.6 47.5L318.6 44.2L316.8 42.3L313.9 37.4L311.0 31.9L310.6 30.7L308.4 24.0L306.8 17.2L305.2 10.6L305.2 10.5Z" fill="#ff4600"/>
<path d="M311.0 10.5L316.8 10.5L322.6 10.5L328.4 10.5L328.4 17.2L328.4 24.0L328.4 30.7L328.4 37.4L328.4 44.2L328.4 46.4L324.2 44.2L322.6 43.0L317.3 37.4L316.8 36.8L313.7 30.7L311.0 24.5L310.8 24.0L309.2 17.2L307.6 10.5Z" fill="#ff3700"/>
<path d="M311.0 10.5L316.8 10.5L322.6 10.5L328.4 10.5L328.4 17.2L328.4 24.0L328.4 30.7L328.4 37.4L328.4 42.3L322.6 38.1L322.0 37.4L317.1 30.7L316.8 30.2L314.3 24.0L311.9 17.2L311.0 14.8L310.0 10.5Z" fill="#ff2700"/>
<path d="M316.8 10.5L322.6 10.5L328.4 10.5L328.4 17.2L328.4 24.0L328.4 30.7L328.4 37.4L328.4 37.9L327.7 37.4L322.6 31.8L321.8 30.7L318.1 24.0L316.8 21.3L315.4 17.2L313.1 10.5Z" fill="#ff1700"/>
<path d="M316.8 10.5L322.6 10.5L328.4 10.5L328.4 17.2L328.4 24.0L328.4 30.7L328.4 31.9L327.3 30.7L323.2 24.0L322.6 22.7L320.2 17.2L316.8 11.2L316.6 10.5Z" fill="#ff0800"/>
<path d="M269.7 118.2L269.1 111.5L267.2 104.7L264.7 100.4L262.9 98.0L258.9 93.1L257.6 91.3L254.4 84.5L253.1 82.3L250.2 77.8L247.3 75.1L241.5 72.6L235.7 71.8L229.9 71.6L224.1 71.7L218.3 71.8L212.5 71.8M287.5 118.2L287.2 111.5L286.0 104.7L283.5 98.0L282.0 94.9L279.9 91.3L276.8 84.5L276.2 83.4L273.1 77.8L270.4 75.3L265.2 71.1L264.7 70.7L258.9 66.5L255.8 64.3L253.1 62.3L247.3 57.9L246.6 57.6L241.5 55.6L235.7 54.6L229.9 54.1L224.1 53.9L218.3 54.1L212.5 54.5M295.9 118.2L296.7 111.5L296.1 104.7L294.1 98.0L293.6 96.4L291.7 91.3L289.8 84.5L288.0 77.8L287.8 77.4L284.7 71.1L282.0 67.5L278.1 64.3L276.2 62.8L270.4 57.9L270.0 57.6L264.7 53.7L260.8 50.9L258.9 49.4L253.1 44.3L252.9 44.2L247.3 39.2L242.7 37.4L241.5 37.0L235.7 35.4L229.9 34.5L224.1 34.2L218.3 34.4L212.5 35.0M303.5 118.2L304.1 111.5L303.5 104.7L301.6 98.0L299.6 91.3L299.4 90.1L298.4 84.5L296.8 77.8L294.8 71.1L293.6 68.1L291.7 64.3L287.8 57.7L287.8 57.6L283.2 50.9L282.0 49.1L277.5 44.2L276.2 42.7L270.4 37.6L270.2 37.4L264.7 32.5L262.7 30.7L258.9 26.3L256.8 24.0L253.1 18.6L251.8 17.2L247.3 11.6L245.2 10.5M312.9 118.2L312.7 111.5L311.9 104.7L311.0 101.3L310.3 98.0L308.5 91.3L306.6 84.5L305.2 80.6L304.6 77.8L302.5 71.1L299.7 64.3L299.4 63.4L297.5 57.6L294.9 50.9L293.6 47.5L292.1 44.2L289.0 37.4L287.8 34.7L285.6 30.7L282.3 24.0L282.0 23.3L278.4 17.2L276.2 13.5L274.3 10.5M328.4 105.1L328.4 104.7L328.0 98.0L327.8 91.3L325.9 84.5L322.6 80.0L321.1 77.8L316.8 74.1L314.7 71.1L311.0 66.9L309.7 64.3L306.5 57.6L305.2 54.7L304.0 50.9L301.7 44.2L299.6 37.4L299.4 36.7L297.5 30.7L295.6 24.0L294.0 17.2L293.6 15.9L291.7 10.5M328.4 54.4L322.6 51.8L321.3 50.9L316.8 47.2L314.8 44.2L311.0 37.9L310.8 37.4L308.4 30.7L306.0 24.0L305.2 20.7L304.6 17.2L303.3 10.5" fill="none" stroke="#3a3a3a" stroke-opacity="0.75" stroke-width="0.6"/>
</g>
<rect x="212.50" y="10.50" width="115.90" height="107.70" fill="none" stroke="#000" stroke-width="1"/>
<path d="M212.50 118.20v3.3M224.09 118.20v1.8M235.68 118.20v3.3M247.27 118.20v1.8M258.86 118.20v3.3M270.45 118.20v1.8M282.04 118.20v3.3M293.63 118.20v1.8M305.22 118.20v3.3M316.81 118.20v1.8M328.40 118.20v3.3M212.50 118.20h-3.3M212.50 111.47h-1.8M212.50 104.74h-3.3M212.50 98.01h-1.8M212.50 91.28h-3.3M212.50 84.54h-1.8M212.50 77.81h-3.3M212.50 71.08h-1.8M212.50 64.35h-3.3M212.50 57.62h-1.8M212.50 50.89h-3.3M212.50 44.16h-1.8M212.50 37.42h-3.3M212.50 30.69h-1.8M212.50 23.96h-3.3M212.50 17.23h-1.8M212.50 10.50h-3.3" stroke="#000" stroke-width="0.8" fill="none"/>
<text x="212.50" y="130.50" class="tl" text-anchor="middle">50</text>
<text x="235.68" y="130.50" class="tl" text-anchor="middle">60</text>
<text x="258.86" y="130.50" class="tl" text-anchor="middle">70</text>
<text x="282.04" y="130.50" class="tl" text-anchor="middle">80</text>
<text x="305.22" y="130.50" class="tl" text-anchor="middle">90</text>
<text x="328.40" y="130.50" class="tl" text-anchor="middle">100</text>
<text x="206.40" y="120.80" class="tly" text-anchor="end">10</text>
<text x="206.40" y="107.34" class="tly" text-anchor="end">15</text>
<text x="206.40" y="93.88" class="tly" text-anchor="end">20</text>
<text x="206.40" y="80.41" class="tly" text-anchor="end">25</text>
<text x="206.40" y="66.95" class="tly" text-anchor="end">30</text>
<text x="206.40" y="53.49" class="tly" text-anchor="end">35</text>
<text x="206.40" y="40.02" class="tly" text-anchor="end">40</text>
<text x="206.40" y="26.56" class="tly" text-anchor="end">45</text>
<text x="206.40" y="13.10" class="tly" text-anchor="end">50</text>
<text transform="translate(193.50 64.30) rotate(-90)" class="at" text-anchor="middle">Quantile for dormancy</text>
<text x="325.40" y="114.70" class="pl" text-anchor="end">(b)</text>
<rect x="334.00" y="15.80" width="3.70" height="110.30" fill="url(#cbgb)" stroke="#000" stroke-width="1"/>
<path d="M338.40 18.40h3.2" stroke="#444" stroke-width="0.8"/>
<text x="344.00" y="20.70" class="cl">−1236</text>
<path d="M338.40 31.56h3.2" stroke="#444" stroke-width="0.8"/>
<text x="344.00" y="33.86" class="cl">−1265</text>
<path d="M338.40 44.73h3.2" stroke="#444" stroke-width="0.8"/>
<text x="344.00" y="47.02" class="cl">−1293</text>
<path d="M338.40 57.89h3.2" stroke="#444" stroke-width="0.8"/>
<text x="344.00" y="60.19" class="cl">−1322</text>
<path d="M338.40 71.05h3.2" stroke="#444" stroke-width="0.8"/>
<text x="344.00" y="73.35" class="cl">−1350</text>
<path d="M338.40 84.21h3.2" stroke="#444" stroke-width="0.8"/>
<text x="344.00" y="86.51" class="cl">−1379</text>
<path d="M338.40 97.38h3.2" stroke="#444" stroke-width="0.8"/>
<text x="344.00" y="99.67" class="cl">−1407</text>
<path d="M338.40 110.54h3.2" stroke="#444" stroke-width="0.8"/>
<text x="344.00" y="112.84" class="cl">−1436</text>
<path d="M338.40 123.70h3.2" stroke="#444" stroke-width="0.8"/>
<text x="344.00" y="126.00" class="cl">−1464</text>
<text x="327.60" y="11.60" class="aic">AIC</text>
<clipPath id="cc"><rect x="394.60" y="10.50" width="115.90" height="107.70"/></clipPath>
<g clip-path="url(#cc)">
<rect x="394.60" y="10.50" width="115.90" height="107.70" fill="#0008ff"/>
<path d="M400.4 10.5L406.2 10.5L412.0 10.5L417.8 10.5L423.6 10.5L429.4 10.5L435.2 10.5L441.0 10.5L446.8 10.5L452.6 10.5L458.3 10.5L464.1 10.5L469.9 10.5L475.7 10.5L481.5 10.5L487.3 10.5L493.1 10.5L498.9 10.5L504.7 10.5L510.5 10.5L510.5 17.2L510.5 24.0L510.5 30.7L510.5 37.4L510.5 44.2L510.5 50.9L510.5 57.6L510.5 64.3L510.5 71.1L510.5 77.8L510.5 84.5L510.5 91.3L510.5 98.0L510.5 104.7L510.5 111.5L510.5 118.2L504.7 118.2L498.9 118.2L493.1 118.2L487.3 118.2L481.5 118.2L475.7 118.2L469.9 118.2L464.1 118.2L458.3 118.2L452.6 118.2L446.8 118.2L441.0 118.2L435.2 118.2L429.4 118.2L423.6 118.2L417.8 118.2L412.0 118.2L406.2 118.2L400.4 118.2L394.6 118.2L394.6 111.5L394.6 104.8L400.4 106.2L406.2 107.5L412.0 108.2L417.8 108.1L423.6 106.4L425.6 104.7L429.4 98.3L429.4 98.0L430.3 91.3L430.0 84.5L429.4 81.5L428.4 77.8L425.3 71.1L423.6 68.8L418.7 64.3L417.8 63.9L412.0 63.2L406.2 62.9L400.4 63.0L394.6 62.9L394.6 57.6L394.6 50.9L394.6 44.2L394.6 37.4L394.6 30.7L394.6 24.0L394.6 17.2L394.6 10.5Z" fill="#0018ff"/>
<path d="M400.4 10.5L406.2 10.5L412.0 10.5L417.8 10.5L423.6 10.5L429.4 10.5L435.2 10.5L441.0 10.5L446.8 10.5L452.6 10.5L458.3 10.5L464.1 10.5L469.9 10.5L475.7 10.5L481.5 10.5L487.3 10.5L493.1 10.5L498.9 10.5L504.7 10.5L510.5 10.5L510.5 17.2L510.5 24.0L510.5 30.7L510.5 37.4L510.5 44.2L510.5 50.9L510.5 57.6L510.5 64.3L510.5 71.1L510.5 77.8L510.5 84.5L510.5 91.3L510.5 98.0L510.5 104.7L510.5 111.5L510.5 118.2L504.7 118.2L498.9 118.2L493.1 118.2L487.3 118.2L481.5 118.2L475.7 118.2L469.9 118.2L464.1 118.2L458.3 118.2L452.6 118.2L446.8 118.2L441.0 118.2L435.2 118.2L429.4 118.2L423.6 118.2L417.8 118.2L412.0 118.2L406.2 118.2L400.4 118.2L394.6 118.2L394.6 112.9L400.4 114.5L406.2 115.9L412.0 116.9L417.8 117.4L423.6 117.9L429.4 116.4L433.5 111.5L435.2 108.0L436.0 104.7L437.0 98.0L437.2 91.3L436.3 84.5L435.2 80.8L434.2 77.8L431.1 71.1L429.4 68.0L426.6 64.3L423.6 61.9L417.8 59.5L412.0 58.9L406.2 58.7L400.4 58.8L394.6 58.8L394.6 57.6L394.6 50.9L394.6 44.2L394.6 37.4L394.6 30.7L394.6 24.0L394.6 17.2L394.6 10.5Z" fill="#0029ff"/>
<path d="M400.4 10.5L406.2 10.5L412.0 10.5L417.8 10.5L423.6 10.5L429.4 10.5L435.2 10.5L441.0 10.5L446.8 10.5L452.6 10.5L458.3 10.5L464.1 10.5L469.9 10.5L475.7 10.5L481.5 10.5L487.3 10.5L493.1 10.5L498.9 10.5L504.7 10.5L510.5 10.5L510.5 17.2L510.5 24.0L510.5 30.7L510.5 37.4L510.5 44.2L510.5 50.9L510.5 57.6L510.5 64.3L510.5 71.1L510.5 77.8L510.5 84.5L510.5 91.3L510.5 98.0L510.5 104.7L510.5 111.5L510.5 118.2L504.7 118.2L498.9 118.2L493.1 118.2L487.3 118.2L481.5 118.2L475.7 118.2L469.9 118.2L464.1 118.2L458.3 118.2L452.6 118.2L446.8 118.2L441.1 118.2L442.1 111.5L442.7 104.7L443.1 98.0L442.8 91.3L441.7 84.5L441.0 82.5L439.3 77.8L435.8 71.1L435.2 70.0L431.8 64.3L429.4 61.3L424.5 57.6L423.6 57.1L417.8 55.8L412.0 55.4L406.2 55.2L400.4 55.4L394.6 55.5L394.6 50.9L394.6 44.2L394.6 37.4L394.6 30.7L394.6 24.0L394.6 17.2L394.6 10.5Z" fill="#0039ff"/>
<path d="M400.4 10.5L406.2 10.5L412.0 10.5L417.8 10.5L423.6 10.5L429.4 10.5L435.2 10.5L441.0 10.5L446.8 10.5L452.6 10.5L458.3 10.5L464.1 10.5L469.9 10.5L475.7 10.5L481.5 10.5L487.3 10.5L493.1 10.5L498.9 10.5L504.7 10.5L510.5 10.5L510.5 17.2L510.5 24.0L510.5 30.7L510.5 37.4L510.5 44.2L510.5 50.9L510.5 57.6L510.5 64.3L510.5 71.1L510.5 77.8L510.5 84.5L510.5 91.3L510.5 98.0L510.5 104.7L510.5 111.5L510.5 118.2L504.7 118.2L498.9 118.2L493.1 118.2L487.3 118.2L481.5 118.2L475.7 118.2L469.9 118.2L464.1 118.2L458.3 118.2L452.6 118.2L448.2 118.2L448.4 111.5L448.5 104.7L448.3 98.0L447.8 91.3L446.8 86.0L446.5 84.5L444.0 77.8L441.0 72.7L440.0 71.1L435.9 64.3L435.2 63.2L430.7 57.6L429.4 56.4L423.6 53.6L417.8 52.4L412.0 52.3L406.2 52.0L400.4 52.3L394.6 52.5L394.6 50.9L394.6 44.2L394.6 37.4L394.6 30.7L394.6 24.0L394.6 17.2L394.6 10.5Z" fill="#0049ff"/>
<path d="M400.4 10.5L406.2 10.5L412.0 10.5L417.8 10.5L423.6 10.5L429.4 10.5L435.2 10.5L441.0 10.5L446.8 10.5L452.6 10.5L458.3 10.5L464.1 10.5L469.9 10.5L475.7 10.5L481.5 10.5L487.3 10.5L493.1 10.5L498.9 10.5L504.7 10.5L510.5 10.5L510.5 17.2L510.5 24.0L510.5 30.7L510.5 37.4L510.5 44.2L510.5 50.9L510.5 57.6L510.5 64.3L510.5 71.1L510.5 77.8L510.5 84.5L510.5 91.3L510.5 98.0L510.5 104.7L510.5 111.5L510.5 118.2L504.7 118.2L498.9 118.2L493.1 118.2L487.3 118.2L481.5 118.2L475.7 118.2L469.9 118.2L464.1 118.2L458.3 118.2L454.0 118.2L453.9 111.5L453.6 104.7L453.2 98.0L452.6 92.0L452.5 91.3L451.0 84.5L448.7 77.8L446.8 74.6L444.6 71.1L441.0 66.5L439.6 64.3L435.2 57.7L435.1 57.6L429.4 52.4L425.9 50.9L423.6 50.1L417.8 49.3L412.0 49.3L406.2 49.1L400.4 49.4L394.6 49.7L394.6 44.2L394.6 37.4L394.6 30.7L394.6 24.0L394.6 17.2L394.6 10.5Z" fill="#005aff"/>
<path d="M400.4 10.5L406.2 10.5L412.0 10.5L417.8 10.5L423.6 10.5L429.4 10.5L435.2 10.5L441.0 10.5L446.8 10.5L452.6 10.5L458.3 10.5L464.1 10.5L469.9 10.5L475.7 10.5L481.5 10.5L487.3 10.5L493.1 10.5L498.9 10.5L504.7 10.5L510.5 10.5L510.5 17.2L510.5 24.0L510.5 30.7L510.5 37.4L510.5 44.2L510.5 50.9L510.5 57.6L510.5 64.3L510.5 71.1L510.5 77.8L510.5 84.5L510.5 91.3L510.5 98.0L510.5 104.7L510.5 111.5L510.5 118.2L504.7 118.2L498.9 118.2L493.1 118.2L487.3 118.2L481.5 118.2L475.7 118.2L469.9 118.2L464.1 118.2L459.1 118.2L458.8 111.5L458.4 104.7L458.3 104.2L457.8 98.0L457.0 91.3L455.6 84.5L453.3 77.8L452.6 76.4L449.5 71.1L446.8 68.1L443.8 64.3L441.0 61.1L438.6 57.6L435.2 53.9L431.9 50.9L429.4 49.2L423.6 47.2L417.8 46.5L412.0 46.5L406.2 46.4L400.4 46.7L394.6 47.0L394.6 44.2L394.6 37.4L394.6 30.7L394.6 24.0L394.6 17.2L394.6 10.5Z" fill="#006dff"/>
<path d="M400.4 10.5L406.2 10.5L412.0 10.5L417.8 10.5L423.6 10.5L429.4 10.5L435.2 10.5L441.0 10.5L446.8 10.5L452.6 10.5L458.3 10.5L464.1 10.5L469.9 10.5L475.7 10.5L481.5 10.5L487.3 10.5L493.1 10.5L498.9 10.5L504.7 10.5L510.5 10.5L510.5 17.2L510.5 24.0L510.5 30.7L510.5 37.4L510.5 44.2L510.5 50.9L510.5 57.6L510.5 64.3L510.5 71.1L510.5 77.8L510.5 84.5L510.5 91.3L510.5 98.0L510.5 104.7L510.5 111.5L510.5 118.2L504.7 118.2L498.9 118.2L493.1 118.2L487.3 118.2L481.5 118.2L475.7 118.2L469.9 118.2L464.1 118.2L463.7 118.2L463.4 111.5L463.0 104.7L462.3 98.0L461.5 91.3L460.2 84.5L458.3 78.6L458.1 77.8L454.6 71.1L452.6 68.7L448.5 64.3L446.8 62.9L442.2 57.6L441.0 56.5L435.8 50.9L435.2 50.4L429.4 46.4L423.6 44.3L422.2 44.2L417.8 43.6L412.0 43.7L406.2 43.7L400.4 43.9L397.0 44.2L394.6 44.3L394.6 44.2L394.6 37.4L394.6 30.7L394.6 24.0L394.6 17.2L394.6 10.5Z" fill="#0084ff"/>
<path d="M400.4 10.5L406.2 10.5L412.0 10.5L417.8 10.5L423.6 10.5L429.4 10.5L435.2 10.5L441.0 10.5L446.8 10.5L452.6 10.5L458.3 10.5L464.1 10.5L469.9 10.5L475.7 10.5L481.5 10.5L487.3 10.5L493.1 10.5L498.9 10.5L504.7 10.5L510.5 10.5L510.5 17.2L510.5 24.0L510.5 30.7L510.5 37.4L510.5 44.2L510.5 50.9L510.5 57.6L510.5 64.3L510.5 71.1L510.5 77.8L510.5 84.5L510.5 91.3L510.5 98.0L510.5 104.7L510.5 111.5L510.5 118.2L504.7 118.2L498.9 118.2L493.1 118.2L487.3 118.2L481.5 118.2L475.7 118.2L469.9 118.2L467.7 118.2L467.5 111.5L467.2 104.7L466.6 98.0L465.8 91.3L464.7 84.5L464.1 82.4L462.8 77.8L459.7 71.1L458.3 69.2L454.2 64.3L452.6 63.1L446.8 58.3L446.2 57.6L441.0 53.0L439.0 50.9L435.2 47.8L430.0 44.2L429.4 43.7L423.6 41.6L417.8 40.9L412.0 40.9L406.2 41.0L400.4 41.2L394.6 41.5L394.6 37.4L394.6 30.7L394.6 24.0L394.6 17.2L394.6 10.5Z" fill="#009aff"/>
<path d="M400.4 10.5L406.2 10.5L412.0 10.5L417.8 10.5L423.6 10.5L429.4 10.5L435.2 10.5L441.0 10.5L446.8 10.5L452.6 10.5L458.3 10.5L464.1 10.5L469.9 10.5L475.7 10.5L481.5 10.5L487.3 10.5L493.1 10.5L498.9 10.5L504.7 10.5L510.5 10.5L510.5 17.2L510.5 24.0L510.5 30.7L510.5 37.4L510.5 44.2L510.5 50.9L510.5 57.6L510.5 64.3L510.5 71.1L510.5 77.8L510.5 84.5L510.5 91.3L510.5 98.0L510.5 104.7L510.5 111.5L510.5 118.2L504.7 118.2L498.9 118.2L493.1 118.2L487.3 118.2L481.5 118.2L475.7 118.2L471.4 118.2L471.4 111.5L471.1 104.7L470.6 98.0L470.0 91.3L469.9 91.1L468.9 84.5L467.3 77.8L464.6 71.1L464.1 70.2L460.0 64.3L458.3 62.9L452.6 58.5L451.4 57.6L446.8 54.6L442.5 50.9L441.0 49.9L435.2 45.2L433.7 44.2L429.4 41.1L423.6 38.9L417.8 38.1L412.0 38.1L406.2 38.2L400.4 38.5L394.6 38.7L394.6 37.4L394.6 30.7L394.6 24.0L394.6 17.2L394.6 10.5Z" fill="#00b1ff"/>
<path d="M400.4 10.5L406.2 10.5L412.0 10.5L417.8 10.5L423.6 10.5L429.4 10.5L435.2 10.5L441.0 10.5L446.8 10.5L452.6 10.5L458.3 10.5L464.1 10.5L469.9 10.5L475.7 10.5L481.5 10.5L487.3 10.5L493.1 10.5L498.9 10.5L504.7 10.5L510.5 10.5L510.5 17.2L510.5 24.0L510.5 30.7L510.5 37.4L510.5 44.2L510.5 50.9L510.5 57.6L510.5 64.3L510.5 71.1L510.5 77.8L510.5 84.5L510.5 91.3L510.5 98.0L510.5 104.7L510.5 111.5L510.5 118.2L504.7 118.2L498.9 118.2L493.1 118.2L487.3 118.2L481.5 118.2L475.7 118.2L474.9 118.2L474.9 111.5L474.7 104.7L474.2 98.0L473.6 91.3L472.6 84.5L471.4 77.8L469.9 73.1L469.2 71.1L465.3 64.3L464.1 62.9L458.3 57.8L458.0 57.6L452.6 54.8L446.8 51.2L446.4 50.9L441.0 47.2L437.2 44.2L435.2 42.6L429.4 38.6L426.4 37.4L423.6 36.2L417.8 35.4L412.0 35.4L406.2 35.6L400.4 35.7L394.6 35.9L394.6 30.7L394.6 24.0L394.6 17.2L394.6 10.5Z" fill="#00c8ff"/>
<path d="M400.4 10.5L406.2 10.5L412.0 10.5L417.8 10.5L423.6 10.5L429.4 10.5L435.2 10.5L441.0 10.5L446.8 10.5L452.6 10.5L458.3 10.5L464.1 10.5L469.9 10.5L475.7 10.5L481.5 10.5L487.3 10.5L493.1 10.5L498.9 10.5L504.7 10.5L510.5 10.5L510.5 17.2L510.5 24.0L510.5 30.7L510.5 37.4L510.5 44.2L510.5 50.9L510.5 57.6L510.5 64.3L510.5 71.1L510.5 77.8L510.5 84.5L510.5 91.3L510.5 98.0L510.5 104.7L510.5 111.5L510.5 118.2L504.7 118.2L498.9 118.2L493.1 118.2L487.3 118.2L481.5 118.2L478.0 118.2L478.0 111.5L477.8 104.7L477.4 98.0L476.9 91.3L476.2 84.5L475.7 81.0L475.2 77.8L473.3 71.1L470.1 64.3L469.9 64.1L464.5 57.6L464.1 57.3L458.3 54.0L452.6 51.2L452.1 50.9L446.8 48.3L441.0 44.5L440.6 44.2L435.2 40.0L431.4 37.4L429.4 35.8L423.6 33.4L417.8 32.8L412.0 32.8L406.2 32.9L400.4 33.0L394.6 33.1L394.6 30.7L394.6 24.0L394.6 17.2L394.6 10.5Z" fill="#00deff"/>
<path d="M400.4 10.5L406.2 10.5L412.0 10.5L417.8 10.5L423.6 10.5L429.4 10.5L435.2 10.5L441.0 10.5L446.8 10.5L452.6 10.5L458.3 10.5L464.1 10.5L469.9 10.5L475.7 10.5L481.5 10.5L487.3 10.5L493.1 10.5L498.9 10.5L504.7 10.5L510.5 10.5L510.5 17.2L510.5 24.0L510.5 30.7L510.5 37.4L510.5 44.2L510.5 50.9L510.5 57.6L510.5 64.3L510.5 71.1L510.5 77.8L510.5 84.5L510.5 91.3L510.5 98.0L510.5 104.7L510.5 111.5L510.5 118.2L504.7 118.2L498.9 118.2L493.1 118.2L487.3 118.2L481.5 118.2L481.1 118.2L481.0 111.5L480.8 104.7L480.4 98.0L480.0 91.3L479.4 84.5L478.5 77.8L477.1 71.1L475.7 67.3L474.4 64.3L469.9 58.1L469.5 57.6L464.1 53.3L459.8 50.9L458.3 50.3L452.6 48.1L446.8 45.4L444.9 44.2L441.0 41.7L435.2 37.5L435.1 37.4L429.4 32.7L423.7 30.7L423.6 30.6L417.8 30.2L412.0 30.1L406.2 30.2L400.4 30.3L394.6 30.4L394.6 24.0L394.6 17.2L394.6 10.5Z" fill="#00f9ff"/>
<path d="M400.4 10.5L406.2 10.5L412.0 10.5L417.8 10.5L423.6 10.5L429.4 10.5L435.2 10.5L441.0 10.5L446.8 10.5L452.6 10.5L458.3 10.5L464.1 10.5L469.9 10.5L475.7 10.5L481.5 10.5L487.3 10.5L493.1 10.5L498.9 10.5L504.7 10.5L510.5 10.5L510.5 17.2L510.5 24.0L510.5 30.7L510.5 37.4L510.5 44.2L510.5 50.9L510.5 57.6L510.5 64.3L510.5 71.1L510.5 77.8L510.5 84.5L510.5 91.3L510.5 98.0L510.5 104.7L510.5 111.5L510.5 118.2L504.7 118.2L498.9 118.2L493.1 118.2L487.3 118.2L483.8 118.2L483.5 111.5L483.3 104.7L483.1 98.0L482.8 91.3L482.3 84.5L481.7 77.8L481.5 76.4L480.6 71.1L478.3 64.3L475.7 60.2L473.9 57.6L469.9 54.1L466.0 50.9L464.1 49.7L458.3 47.3L452.6 45.0L450.7 44.2L446.8 42.5L441.0 38.9L438.9 37.4L435.2 34.3L430.7 30.7L429.4 29.7L423.6 27.9L417.8 27.5L412.0 27.4L406.2 27.4L400.4 27.4L394.6 27.6L394.6 24.0L394.6 17.2L394.6 10.5Z" fill="#00ffe7"/>
<path d="M400.4 10.5L406.2 10.5L412.0 10.5L417.8 10.5L423.6 10.5L429.4 10.5L435.2 10.5L441.0 10.5L446.8 10.5L452.6 10.5L458.3 10.5L464.1 10.5L469.9 10.5L475.7 10.5L481.5 10.5L487.3 10.5L493.1 10.5L498.9 10.5L504.7 10.5L510.5 10.5L510.5 17.2L510.5 24.0L510.5 30.7L510.5 37.4L510.5 44.2L510.5 50.9L510.5 57.6L510.5 64.3L510.5 71.1L510.5 77.8L510.5 84.5L510.5 91.3L510.5 98.0L510.5 104.7L510.5 111.5L510.5 118.2L504.7 118.2L498.9 118.2L493.1 118.2L487.3 118.2L486.4 118.2L485.9 111.5L485.7 104.7L485.6 98.0L485.3 91.3L484.8 84.5L484.4 77.8L483.4 71.1L481.9 64.3L481.5 63.5L478.0 57.6L475.7 55.5L470.6 50.9L469.9 50.5L464.1 46.9L458.3 44.3L458.0 44.2L452.6 42.1L446.8 39.5L443.2 37.4L441.0 36.0L435.2 31.2L434.5 30.7L429.4 26.8L423.6 25.1L417.8 24.8L412.0 24.6L406.2 24.7L400.4 24.6L394.6 24.7L394.6 24.0L394.6 17.2L394.6 10.5Z" fill="#00ffc8"/>
<path d="M400.4 10.5L406.2 10.5L412.0 10.5L417.8 10.5L423.6 10.5L429.4 10.5L435.2 10.5L441.0 10.5L446.8 10.5L452.6 10.5L458.3 10.5L464.1 10.5L469.9 10.5L475.7 10.5L481.5 10.5L487.3 10.5L493.1 10.5L498.9 10.5L504.7 10.5L510.5 10.5L510.5 17.2L510.5 24.0L510.5 30.7L510.5 37.4L510.5 44.2L510.5 50.9L510.5 57.6L510.5 64.3L510.5 71.1L510.5 77.8L510.5 84.5L510.5 91.3L510.5 98.0L510.5 104.7L510.5 111.5L510.5 118.2L504.7 118.2L498.9 118.2L493.1 118.2L488.5 118.2L488.1 111.5L487.9 104.7L487.9 98.0L487.6 91.3L487.3 84.5L487.3 83.8L487.0 77.8L486.1 71.1L484.7 64.3L481.9 57.6L481.5 57.2L475.7 51.6L474.9 50.9L469.9 47.6L464.2 44.2L464.1 44.1L458.3 41.5L452.6 39.2L448.6 37.4L446.8 36.6L441.0 32.9L438.3 30.7L435.2 28.0L429.4 24.0L429.4 24.0L423.6 22.2L417.8 21.9L412.0 21.6L406.2 21.6L400.4 21.4L394.6 21.5L394.6 17.2L394.6 10.5Z" fill="#00ffaa"/>
<path d="M400.4 10.5L406.2 10.5L412.0 10.5L417.8 10.5L423.6 10.5L429.4 10.5L435.2 10.5L441.0 10.5L446.8 10.5L452.6 10.5L458.3 10.5L464.1 10.5L469.9 10.5L475.7 10.5L481.5 10.5L487.3 10.5L493.1 10.5L498.9 10.5L504.7 10.5L510.5 10.5L510.5 17.2L510.5 24.0L510.5 30.7L510.5 37.4L510.5 44.2L510.5 50.9L510.5 57.6L510.5 64.3L510.5 71.1L510.5 77.8L510.5 84.5L510.5 91.3L510.5 98.0L510.5 104.7L510.5 111.5L510.5 118.2L504.7 118.2L498.9 118.2L493.1 118.2L490.4 118.2L489.9 111.5L489.8 104.7L489.8 98.0L489.4 91.3L489.2 84.5L489.1 77.8L488.4 71.1L487.4 64.3L487.3 63.8L485.1 57.6L481.5 53.1L479.2 50.9L475.7 48.5L469.9 44.8L468.8 44.2L464.1 41.5L458.3 38.6L455.3 37.4L452.6 36.3L446.8 33.7L442.3 30.7L441.0 29.7L435.2 24.8L434.0 24.0L429.4 20.7L423.6 19.1L417.8 18.7L412.0 18.6L406.2 18.5L400.4 18.2L394.6 18.0L394.6 17.2L394.6 10.5Z" fill="#00ff8b"/>
<path d="M400.4 10.5L406.2 10.5L412.0 10.5L417.8 10.5L423.6 10.5L429.4 10.5L435.2 10.5L441.0 10.5L446.8 10.5L452.6 10.5L458.3 10.5L464.1 10.5L469.9 10.5L475.7 10.5L481.5 10.5L487.3 10.5L493.1 10.5L498.9 10.5L504.7 10.5L510.5 10.5L510.5 17.2L510.5 24.0L510.5 30.7L510.5 37.4L510.5 44.2L510.5 50.9L510.5 57.6L510.5 64.3L510.5 71.1L510.5 77.8L510.5 84.5L510.5 91.3L510.5 98.0L510.5 104.7L510.5 111.5L510.5 118.2L504.7 118.2L498.9 118.2L493.1 118.2L492.2 118.2L491.7 111.5L491.7 104.7L491.8 98.0L491.2 91.3L491.1 84.5L491.2 77.8L490.3 71.1L489.4 64.3L488.0 57.6L487.3 56.3L483.0 50.9L481.5 49.5L475.7 45.6L473.4 44.2L469.9 42.1L464.1 38.8L461.3 37.4L458.3 35.8L452.6 33.4L446.8 30.7L446.7 30.7L441.0 26.4L438.1 24.0L435.2 21.4L429.4 17.5L428.3 17.2L423.6 15.9L417.8 15.6L412.0 15.4L406.2 15.2L400.4 14.8L394.6 14.2L394.6 10.5Z" fill="#00ff6d"/>
<path d="M400.4 10.5L406.2 10.5L412.0 10.5L417.8 10.5L423.6 10.5L429.4 10.5L435.2 10.5L441.0 10.5L446.8 10.5L452.6 10.5L458.3 10.5L464.1 10.5L469.9 10.5L475.7 10.5L481.5 10.5L487.3 10.5L493.1 10.5L498.9 10.5L504.7 10.5L510.5 10.5L510.5 17.2L510.5 24.0L510.5 30.7L510.5 37.4L510.5 44.2L510.5 50.9L510.5 57.6L510.5 64.3L510.5 71.1L510.5 77.8L510.5 84.5L510.5 91.3L510.5 98.0L510.5 104.7L510.5 111.5L510.5 118.2L504.7 118.2L498.9 118.2L493.8 118.2L493.5 111.5L493.5 104.7L493.6 98.0L493.1 92.2L493.0 91.3L493.0 84.5L493.1 81.5L493.2 77.8L493.1 76.8L492.3 71.1L491.3 64.3L490.2 57.6L487.3 52.0L486.5 50.9L481.5 46.4L478.1 44.2L475.7 42.8L469.9 39.5L466.3 37.4L464.1 36.1L458.3 33.0L452.9 30.7L452.6 30.5L446.8 27.5L442.1 24.0L441.0 23.0L435.2 18.0L433.9 17.2L429.4 14.2L423.6 12.7L417.8 12.3L412.0 12.2L406.2 11.9L400.4 11.3L395.4 10.5Z" fill="#00ff56"/>
<path d="M429.4 10.5L435.2 10.5L441.0 10.5L446.8 10.5L452.6 10.5L458.3 10.5L464.1 10.5L469.9 10.5L475.7 10.5L481.5 10.5L487.3 10.5L493.1 10.5L498.9 10.5L504.7 10.5L510.5 10.5L510.5 17.2L510.5 24.0L510.5 30.7L510.5 37.4L510.5 44.2L510.5 50.9L510.5 57.6L510.5 64.3L510.5 71.1L510.5 77.8L510.5 84.5L510.5 91.3L510.5 98.0L510.5 104.7L510.5 111.5L510.5 118.2L504.7 118.2L498.9 118.2L495.0 118.2L494.9 111.5L495.0 104.7L495.0 98.0L494.4 91.3L494.5 84.5L494.8 77.8L494.0 71.1L493.2 64.3L493.1 63.7L492.4 57.6L489.1 50.9L487.3 48.4L482.5 44.2L481.5 43.4L475.7 40.1L470.9 37.4L469.9 36.9L464.1 33.4L459.3 30.7L458.3 30.1L452.6 27.6L446.8 24.3L446.3 24.0L441.0 19.7L438.1 17.2L435.2 14.6L429.4 10.8L428.0 10.5Z" fill="#00ff48"/>
<path d="M435.2 10.5L441.0 10.5L446.8 10.5L452.6 10.5L458.3 10.5L464.1 10.5L469.9 10.5L475.7 10.5L481.5 10.5L487.3 10.5L493.1 10.5L498.9 10.5L504.7 10.5L510.5 10.5L510.5 17.2L510.5 24.0L510.5 30.7L510.5 37.4L510.5 44.2L510.5 50.9L510.5 57.6L510.5 64.3L510.5 71.1L510.5 77.8L510.5 84.5L510.5 91.3L510.5 98.0L510.5 104.7L510.5 111.5L510.5 118.2L504.7 118.2L498.9 118.2L496.2 118.2L496.4 111.5L496.5 104.7L496.5 98.0L495.8 91.3L496.0 84.5L496.3 77.8L495.5 71.1L494.6 64.3L494.1 57.6L493.1 54.3L491.5 50.9L487.3 45.0L486.3 44.2L481.5 40.5L475.7 37.4L475.7 37.4L469.9 34.2L464.1 30.7L464.1 30.7L458.3 27.3L452.6 24.6L451.5 24.0L446.8 21.1L442.0 17.2L441.0 16.3L435.2 11.1L434.2 10.5Z" fill="#00ff3a"/>
<path d="M441.0 10.5L446.8 10.5L452.6 10.5L458.3 10.5L464.1 10.5L469.9 10.5L475.7 10.5L481.5 10.5L487.3 10.5L493.1 10.5L498.9 10.5L504.7 10.5L510.5 10.5L510.5 17.2L510.5 24.0L510.5 30.7L510.5 37.4L510.5 44.2L510.5 50.9L510.5 57.6L510.5 64.3L510.5 71.1L510.5 77.8L510.5 84.5L510.5 91.3L510.5 98.0L510.5 104.7L510.5 111.5L510.5 118.2L504.7 118.2L498.9 118.2L497.5 118.2L497.8 111.5L498.1 104.7L497.9 98.0L497.1 91.3L497.5 84.5L497.8 77.8L497.1 71.1L496.1 64.3L495.5 57.6L493.7 50.9L493.1 49.6L489.3 44.2L487.3 41.7L481.5 37.7L481.0 37.4L475.7 34.5L469.9 31.4L468.7 30.7L464.1 27.7L458.3 24.4L457.3 24.0L452.6 21.6L446.8 17.9L445.9 17.2L441.0 13.0L438.2 10.5Z" fill="#00ff2c"/>
<path d="M446.8 10.5L452.6 10.5L458.3 10.5L464.1 10.5L469.9 10.5L475.7 10.5L481.5 10.5L487.3 10.5L493.1 10.5L498.9 10.5L504.7 10.5L510.5 10.5L510.5 17.2L510.5 24.0L510.5 30.7L510.5 37.4L510.5 44.2L510.5 50.9L510.5 57.6L510.5 64.3L510.5 71.1L510.5 77.8L510.5 84.5L510.5 91.3L510.5 98.0L510.5 104.7L510.5 111.5L510.5 118.2L504.7 118.2L498.9 118.2L498.7 118.2L498.9 115.4L499.3 111.5L499.5 104.7L499.3 98.0L498.9 94.6L498.5 91.3L498.9 85.5L499.0 84.5L499.3 77.8L498.9 74.0L498.6 71.1L497.5 64.3L497.0 57.6L495.3 50.9L493.1 45.7L492.0 44.2L487.3 38.4L485.9 37.4L481.5 34.5L475.7 31.6L474.0 30.7L469.9 28.4L464.1 24.7L462.8 24.0L458.3 21.4L452.6 18.6L450.4 17.2L446.8 14.8L441.9 10.5Z" fill="#00ff1e"/>
<path d="M446.8 10.5L452.6 10.5L458.3 10.5L464.1 10.5L469.9 10.5L475.7 10.5L481.5 10.5L487.3 10.5L493.1 10.5L498.9 10.5L504.7 10.5L510.5 10.5L510.5 17.2L510.5 24.0L510.5 30.7L510.5 37.4L510.5 44.2L510.5 50.9L510.5 57.6L510.5 64.3L510.5 71.1L510.5 77.8L510.5 84.5L510.5 91.3L510.5 98.0L510.5 104.7L510.5 111.5L510.5 118.2L504.7 118.2L500.0 118.2L500.7 111.5L500.9 104.7L500.7 98.0L500.0 91.3L500.4 84.5L500.7 77.8L500.1 71.1L499.0 64.3L498.9 63.4L498.5 57.6L497.0 50.9L494.3 44.2L493.1 41.6L489.8 37.4L487.3 34.6L481.5 31.4L480.2 30.7L475.7 28.0L469.9 25.2L468.0 24.0L464.1 21.1L458.3 18.3L456.1 17.2L452.6 15.6L446.8 11.7L445.5 10.5Z" fill="#00ff10"/>
<path d="M452.6 10.5L458.3 10.5L464.1 10.5L469.9 10.5L475.7 10.5L481.5 10.5L487.3 10.5L493.1 10.5L498.9 10.5L504.7 10.5L510.5 10.5L510.5 17.2L510.5 24.0L510.5 30.7L510.5 37.4L510.5 44.2L510.5 50.9L510.5 57.6L510.5 64.3L510.5 71.1L510.5 77.8L510.5 84.5L510.5 91.3L510.5 98.0L510.5 104.7L510.5 111.5L510.5 118.2L504.7 118.2L501.4 118.2L502.1 111.5L502.3 104.7L502.1 98.0L501.5 91.3L501.9 84.5L502.1 77.8L501.6 71.1L500.5 64.3L500.0 57.6L498.9 51.9L498.7 50.9L496.3 44.2L493.2 37.4L493.1 37.2L487.4 30.7L487.3 30.6L481.5 26.5L475.7 24.2L475.2 24.0L469.9 20.9L464.1 17.4L463.7 17.2L458.3 15.1L452.6 12.6L449.5 10.5Z" fill="#00ff05"/>
<path d="M458.3 10.5L464.1 10.5L469.9 10.5L475.7 10.5L481.5 10.5L487.3 10.5L493.1 10.5L498.9 10.5L504.7 10.5L510.5 10.5L510.5 17.2L510.5 24.0L510.5 30.7L510.5 37.4L510.5 44.2L510.5 50.9L510.5 57.6L510.5 64.3L510.5 71.1L510.5 77.8L510.5 84.5L510.5 91.3L510.5 98.0L510.5 104.7L510.5 111.5L510.5 118.2L504.7 118.2L502.8 118.2L503.4 111.5L503.7 104.7L503.5 98.0L503.0 91.3L503.3 84.5L503.5 77.8L503.0 71.1L502.1 64.3L501.4 57.6L500.2 50.9L498.9 45.8L498.3 44.2L495.6 37.4L493.1 32.2L491.8 30.7L487.3 24.2L486.9 24.0L481.5 19.7L475.7 17.9L474.2 17.2L469.9 15.7L464.1 13.5L458.3 11.9L454.9 10.5Z" fill="#02ff00"/>
<path d="M487.3 10.5L493.1 10.5L498.9 10.5L504.7 10.5L510.5 10.5L510.5 17.2L510.5 24.0L510.5 30.7L510.5 37.4L510.5 44.2L510.5 50.9L510.5 57.6L510.5 64.3L510.5 71.1L510.5 77.8L510.5 84.5L510.5 91.3L510.5 98.0L510.5 104.7L510.5 111.5L510.5 118.2L504.7 118.2L504.2 118.2L504.7 112.8L504.8 111.5L505.1 104.7L504.9 98.0L504.7 94.3L504.5 91.3L504.7 86.7L504.8 84.5L504.9 77.8L504.7 74.3L504.5 71.1L503.6 64.3L502.9 57.6L501.7 50.9L500.1 44.2L498.9 39.9L497.9 37.4L494.8 30.7L493.1 25.9L491.8 24.0L488.3 17.2L487.3 14.8L481.7 10.5Z" fill="#09ff00"/>
<path d="M493.1 10.5L498.9 10.5L504.7 10.5L510.5 10.5L510.5 17.2L510.5 24.0L510.5 30.7L510.5 37.4L510.5 44.2L510.5 50.9L510.5 57.6L510.5 64.3L510.5 71.1L510.5 77.8L510.5 84.5L510.5 91.3L510.5 98.0L510.5 104.7L510.5 111.5L510.5 118.2L505.6 118.2L506.3 111.5L506.5 104.7L506.4 98.0L506.1 91.3L506.3 84.5L506.4 77.8L506.0 71.1L505.1 64.3L504.7 60.9L504.3 57.6L503.2 50.9L501.7 44.2L499.8 37.4L498.9 34.5L497.1 30.7L494.7 24.0L493.1 18.4L492.5 17.2L489.8 10.5Z" fill="#10ff00"/>
<path d="M498.9 10.5L504.7 10.5L510.5 10.5L510.5 17.2L510.5 24.0L510.5 30.7L510.5 37.4L510.5 44.2L510.5 50.9L510.5 57.6L510.5 64.3L510.5 71.1L510.5 77.8L510.5 84.5L510.5 91.3L510.5 98.0L510.5 104.7L510.5 111.5L510.5 118.2L507.2 118.2L507.7 111.5L507.9 104.7L507.8 98.0L507.6 91.3L507.8 84.5L507.8 77.8L507.4 71.1L506.7 64.3L505.8 57.6L504.7 50.9L504.7 50.8L503.3 44.2L501.4 37.4L499.3 30.7L498.9 29.2L496.9 24.0L494.7 17.2L493.5 10.5Z" fill="#17ff00"/>
<path d="M498.9 10.5L504.7 10.5L510.5 10.5L510.5 17.2L510.5 24.0L510.5 30.7L510.5 37.4L510.5 44.2L510.5 50.9L510.5 57.6L510.5 64.3L510.5 71.1L510.5 77.8L510.5 84.5L510.5 91.3L510.5 98.0L510.5 104.7L510.5 111.5L510.5 118.2L508.8 118.2L509.1 111.5L509.3 104.7L509.2 98.0L509.2 91.3L509.2 84.5L509.2 77.8L508.9 71.1L508.2 64.3L507.3 57.6L506.1 50.9L504.9 44.2L504.7 43.6L503.0 37.4L500.8 30.7L499.1 24.0L498.9 23.4L496.5 17.2L495.2 10.5Z" fill="#28ff00"/>
<path d="M498.9 10.5L504.7 10.5L510.5 10.5L510.5 17.2L510.5 24.0L510.5 30.7L510.5 37.4L510.5 44.2L510.5 50.9L510.5 57.6L510.5 64.3L510.5 71.1L510.5 73.6L510.4 71.1L509.8 64.3L508.7 57.6L507.6 50.9L506.3 44.2L504.7 37.9L504.6 37.4L502.2 30.7L500.3 24.0L498.9 18.8L498.3 17.2L496.8 10.5ZM510.5 112.6L510.5 118.2L510.4 118.2Z" fill="#4cff00"/>
<path d="M498.9 10.5L504.7 10.5L510.5 10.5L510.5 17.2L510.5 24.0L510.5 30.7L510.5 37.4L510.5 44.2L510.5 50.9L510.5 57.6L510.5 59.5L510.2 57.6L509.0 50.9L507.8 44.2L506.0 37.4L504.7 33.6L503.7 30.7L501.5 24.0L499.6 17.2L498.9 12.5L498.5 10.5Z" fill="#7fff00"/>
<path d="M504.7 10.5L510.5 10.5L510.5 17.2L510.5 24.0L510.5 30.7L510.5 37.4L510.5 44.2L510.5 50.9L510.5 51.4L510.4 50.9L509.2 44.2L507.4 37.4L505.1 30.7L504.7 29.6L502.7 24.0L500.6 17.2L499.5 10.5Z" fill="#aaff00"/>
<path d="M504.7 10.5L510.5 10.5L510.5 17.2L510.5 24.0L510.5 30.7L510.5 37.4L510.5 43.7L508.8 37.4L506.3 30.7L504.7 26.2L503.9 24.0L501.6 17.2L500.3 10.5Z" fill="#d3ff00"/>
<path d="M504.7 10.5L510.5 10.5L510.5 17.2L510.5 24.0L510.5 30.7L510.5 37.4L510.5 38.7L510.1 37.4L507.6 30.7L505.0 24.0L504.7 23.0L502.7 17.2L501.1 10.5Z" fill="#fdff00"/>
<path d="M504.7 10.5L510.5 10.5L510.5 17.2L510.5 24.0L510.5 30.7L510.5 35.1L508.8 30.7L506.1 24.0L504.7 20.1L503.7 17.2L501.9 10.5Z" fill="#ffe300"/>
<path d="M504.7 10.5L510.5 10.5L510.5 17.2L510.5 24.0L510.5 30.7L510.5 31.9L510.0 30.7L507.1 24.0L504.7 17.2L504.7 17.2L502.7 10.5Z" fill="#ffcb00"/>
<path d="M504.7 10.5L510.5 10.5L510.5 17.2L510.5 24.0L510.5 29.3L508.1 24.0L505.5 17.2L504.7 14.4L503.6 10.5Z" fill="#ffb700"/>
<path d="M504.7 10.5L510.5 10.5L510.5 17.2L510.5 24.0L510.5 27.1L509.1 24.0L506.4 17.2L504.7 11.7L504.4 10.5Z" fill="#ffa300"/>
<path d="M510.5 10.5L510.5 17.2L510.5 24.0L510.5 24.9L510.1 24.0L507.2 17.2L505.1 10.5Z" fill="#ff8f00"/>
<path d="M510.5 10.5L510.5 17.2L510.5 22.9L508.0 17.2L505.7 10.5Z" fill="#ff7b00"/>
<path d="M510.5 10.5L510.5 17.2L510.5 21.0L508.9 17.2L506.4 10.5Z" fill="#ff6700"/>
<path d="M510.5 10.5L510.5 17.2L510.5 19.1L509.7 17.2L507.0 10.5Z" fill="#ff5600"/>
<path d="M510.5 10.5L510.5 17.2L507.7 10.5Z" fill="#ff4600"/>
<path d="M510.5 10.5L510.5 15.7L508.3 10.5Z" fill="#ff3700"/>
<path d="M510.5 10.5L510.5 14.1L509.0 10.5Z" fill="#ff2700"/>
<path d="M510.5 10.5L510.5 12.6L509.6 10.5Z" fill="#ff1700"/>
<path d="M510.5 10.5L510.5 11.1L510.3 10.5Z" fill="#ff0800"/>
<path d="M459.1 118.2L458.8 111.5L458.4 104.7L458.3 104.2L457.8 98.0L457.0 91.3L455.6 84.5L453.3 77.8L452.6 76.4L449.5 71.1L446.8 68.1L443.8 64.3L441.0 61.1L438.6 57.6L435.2 53.9L431.9 50.9L429.4 49.2L423.6 47.2L417.8 46.5L412.0 46.5L406.2 46.4L400.4 46.7L394.6 47.0M481.1 118.2L481.0 111.5L480.8 104.7L480.4 98.0L480.0 91.3L479.4 84.5L478.5 77.8L477.1 71.1L475.7 67.3L474.4 64.3L469.9 58.1L469.5 57.6L464.1 53.3L459.8 50.9L458.3 50.3L452.6 48.1L446.8 45.4L444.9 44.2L441.0 41.7L435.2 37.5L435.1 37.4L429.4 32.7L423.7 30.7L423.6 30.6L417.8 30.2L412.0 30.1L406.2 30.2L400.4 30.3L394.6 30.4M493.8 118.2L493.5 111.5L493.5 104.7L493.6 98.0L493.1 92.2L493.0 91.3L493.0 84.5L493.1 81.5L493.2 77.8L493.1 76.8L492.3 71.1L491.3 64.3L490.2 57.6L487.3 52.0L486.5 50.9L481.5 46.4L478.1 44.2L475.7 42.8L469.9 39.5L466.3 37.4L464.1 36.1L458.3 33.0L452.9 30.7L452.6 30.5L446.8 27.5L442.1 24.0L441.0 23.0L435.2 18.0L433.9 17.2L429.4 14.2L423.6 12.7L417.8 12.3L412.0 12.2L406.2 11.9L400.4 11.3L395.4 10.5M501.4 118.2L502.1 111.5L502.3 104.7L502.1 98.0L501.5 91.3L501.9 84.5L502.1 77.8L501.6 71.1L500.5 64.3L500.0 57.6L498.9 51.9L498.7 50.9L496.3 44.2L493.2 37.4L493.1 37.2L487.4 30.7L487.3 30.6L481.5 26.5L475.7 24.2L475.2 24.0L469.9 20.9L464.1 17.4L463.7 17.2L458.3 15.1L452.6 12.6L449.5 10.5M510.5 73.6L510.4 71.1L509.8 64.3L508.7 57.6L507.6 50.9L506.3 44.2L504.7 37.9L504.6 37.4L502.2 30.7L500.3 24.0L498.9 18.8L498.3 17.2L496.8 10.5M510.4 118.2L510.5 112.6M510.5 31.9L510.0 30.7L507.1 24.0L504.7 17.2L504.7 17.2L502.7 10.5M510.5 19.1L509.7 17.2L507.0 10.5" fill="none" stroke="#3a3a3a" stroke-opacity="0.75" stroke-width="0.6"/>
</g>
<rect x="394.60" y="10.50" width="115.90" height="107.70" fill="none" stroke="#000" stroke-width="1"/>
<path d="M394.60 118.20v3.3M406.19 118.20v1.8M417.78 118.20v3.3M429.37 118.20v1.8M440.96 118.20v3.3M452.55 118.20v1.8M464.14 118.20v3.3M475.73 118.20v1.8M487.32 118.20v3.3M498.91 118.20v1.8M510.50 118.20v3.3M394.60 118.20h-3.3M394.60 111.47h-1.8M394.60 104.74h-3.3M394.60 98.01h-1.8M394.60 91.28h-3.3M394.60 84.54h-1.8M394.60 77.81h-3.3M394.60 71.08h-1.8M394.60 64.35h-3.3M394.60 57.62h-1.8M394.60 50.89h-3.3M394.60 44.16h-1.8M394.60 37.42h-3.3M394.60 30.69h-1.8M394.60 23.96h-3.3M394.60 17.23h-1.8M394.60 10.50h-3.3" stroke="#000" stroke-width="0.8" fill="none"/>
<text x="394.60" y="130.50" class="tl" text-anchor="middle">50</text>
<text x="417.78" y="130.50" class="tl" text-anchor="middle">60</text>
<text x="440.96" y="130.50" class="tl" text-anchor="middle">70</text>
<text x="464.14" y="130.50" class="tl" text-anchor="middle">80</text>
<text x="487.32" y="130.50" class="tl" text-anchor="middle">90</text>
<text x="510.50" y="130.50" class="tl" text-anchor="middle">100</text>
<text x="388.50" y="120.80" class="tly" text-anchor="end">10</text>
<text x="388.50" y="107.34" class="tly" text-anchor="end">15</text>
<text x="388.50" y="93.88" class="tly" text-anchor="end">20</text>
<text x="388.50" y="80.41" class="tly" text-anchor="end">25</text>
<text x="388.50" y="66.95" class="tly" text-anchor="end">30</text>
<text x="388.50" y="53.49" class="tly" text-anchor="end">35</text>
<text x="388.50" y="40.02" class="tly" text-anchor="end">40</text>
<text x="388.50" y="26.56" class="tly" text-anchor="end">45</text>
<text x="388.50" y="13.10" class="tly" text-anchor="end">50</text>
<text transform="translate(375.60 64.30) rotate(-90)" class="at" text-anchor="middle">Quantile for dormancy</text>
<text x="507.50" y="112.50" class="pl" text-anchor="end">(c)</text>
<rect x="516.80" y="13.20" width="3.70" height="108.60" fill="url(#cbgc)" stroke="#000" stroke-width="1"/>
<path d="M521.20 15.30h3.2" stroke="#444" stroke-width="0.8"/>
<text x="526.60" y="17.60" class="cl">−1127</text>
<path d="M521.20 28.36h3.2" stroke="#444" stroke-width="0.8"/>
<text x="526.60" y="30.66" class="cl">−1149</text>
<path d="M521.20 41.42h3.2" stroke="#444" stroke-width="0.8"/>
<text x="526.60" y="43.72" class="cl">−1172</text>
<path d="M521.20 54.49h3.2" stroke="#444" stroke-width="0.8"/>
<text x="526.60" y="56.79" class="cl">−1194</text>
<path d="M521.20 67.55h3.2" stroke="#444" stroke-width="0.8"/>
<text x="526.60" y="69.85" class="cl">−1216</text>
<path d="M521.20 80.61h3.2" stroke="#444" stroke-width="0.8"/>
<text x="526.60" y="82.91" class="cl">−1238</text>
<path d="M521.20 93.67h3.2" stroke="#444" stroke-width="0.8"/>
<text x="526.60" y="95.97" class="cl">−1261</text>
<path d="M521.20 106.74h3.2" stroke="#444" stroke-width="0.8"/>
<text x="526.60" y="109.04" class="cl">−1283</text>
<path d="M521.20 119.80h3.2" stroke="#444" stroke-width="0.8"/>
<text x="526.60" y="122.10" class="cl">−1305</text>
<text x="512.60" y="12.00" class="aic">AIC</text>
<clipPath id="cd"><rect x="30.50" y="146.30" width="115.90" height="107.70"/></clipPath>
<g clip-path="url(#cd)">
<rect x="30.50" y="146.30" width="115.90" height="107.70" fill="#0008ff"/>
<path d="M36.3 146.3L42.1 146.3L47.9 146.3L53.7 146.3L59.5 146.3L65.3 146.3L71.1 146.3L76.9 146.3L82.7 146.3L88.5 146.3L94.2 146.3L100.0 146.3L105.8 146.3L111.6 146.3L117.4 146.3L123.2 146.3L129.0 146.3L134.8 146.3L140.6 146.3L146.4 146.3L146.4 153.0L146.4 159.8L146.4 166.5L146.4 173.2L146.4 180.0L146.4 186.7L146.4 193.4L146.4 200.2L146.4 206.9L146.4 213.6L146.4 220.3L146.4 227.1L146.4 233.8L146.4 240.5L146.4 247.3L146.4 254.0L140.6 254.0L134.8 254.0L129.0 254.0L123.2 254.0L117.4 254.0L111.6 254.0L105.8 254.0L100.0 254.0L94.2 254.0L88.5 254.0L82.7 254.0L76.9 254.0L71.1 254.0L65.3 254.0L59.5 254.0L53.7 254.0L48.2 254.0L53.7 252.2L59.5 248.8L61.0 247.3L65.3 241.7L65.9 240.5L67.4 233.8L67.8 227.1L67.2 220.3L65.3 214.0L65.1 213.6L59.5 207.3L58.9 206.9L53.7 204.3L47.9 202.7L42.1 203.2L37.0 206.9L36.3 207.7L33.2 213.6L31.8 220.3L31.7 227.1L32.1 233.8L33.6 240.5L36.3 246.8L36.6 247.3L42.1 253.0L47.2 254.0L42.1 254.0L36.3 254.0L30.5 254.0L30.5 247.3L30.5 240.5L30.5 233.8L30.5 227.1L30.5 220.3L30.5 213.6L30.5 206.9L30.5 200.2L30.5 193.4L30.5 186.7L30.5 180.0L30.5 173.2L30.5 166.5L30.5 159.8L30.5 153.0L30.5 146.3Z" fill="#0018ff"/>
<path d="M36.3 146.3L42.1 146.3L47.9 146.3L53.7 146.3L59.5 146.3L65.3 146.3L71.1 146.3L76.9 146.3L82.7 146.3L88.5 146.3L94.2 146.3L100.0 146.3L105.8 146.3L111.6 146.3L117.4 146.3L123.2 146.3L129.0 146.3L134.8 146.3L140.6 146.3L146.4 146.3L146.4 153.0L146.4 159.8L146.4 166.5L146.4 173.2L146.4 180.0L146.4 186.7L146.4 193.4L146.4 200.2L146.4 206.9L146.4 213.6L146.4 220.3L146.4 227.1L146.4 233.8L146.4 240.5L146.4 247.3L146.4 254.0L140.6 254.0L134.8 254.0L129.0 254.0L123.2 254.0L117.4 254.0L111.6 254.0L105.8 254.0L100.0 254.0L94.2 254.0L88.5 254.0L82.7 254.0L76.9 254.0L71.1 254.0L69.5 254.0L71.1 251.6L73.0 247.3L75.2 240.5L76.3 233.8L76.6 227.1L75.9 220.3L74.2 213.6L71.1 207.5L70.7 206.9L65.3 201.6L63.3 200.2L59.5 198.1L53.7 195.6L47.9 194.1L42.1 193.9L36.3 195.8L30.5 199.9L30.5 193.4L30.5 186.7L30.5 180.0L30.5 173.2L30.5 166.5L30.5 159.8L30.5 153.0L30.5 146.3Z" fill="#0029ff"/>
<path d="M36.3 146.3L42.1 146.3L47.9 146.3L53.7 146.3L59.5 146.3L65.3 146.3L71.1 146.3L76.9 146.3L82.7 146.3L88.5 146.3L94.2 146.3L100.0 146.3L105.8 146.3L111.6 146.3L117.4 146.3L123.2 146.3L129.0 146.3L134.8 146.3L140.6 146.3L146.4 146.3L146.4 153.0L146.4 159.8L146.4 166.5L146.4 173.2L146.4 180.0L146.4 186.7L146.4 193.4L146.4 200.2L146.4 206.9L146.4 213.6L146.4 220.3L146.4 227.1L146.4 233.8L146.4 240.5L146.4 247.3L146.4 254.0L140.6 254.0L134.8 254.0L129.0 254.0L123.2 254.0L117.4 254.0L111.6 254.0L105.8 254.0L100.0 254.0L94.2 254.0L88.5 254.0L82.7 254.0L79.6 254.0L81.3 247.3L82.4 240.5L82.7 238.0L83.0 233.8L83.0 227.1L82.7 222.5L82.5 220.3L81.0 213.6L78.3 206.9L76.9 204.8L72.8 200.2L71.1 198.8L65.3 194.7L63.1 193.4L59.5 191.6L53.7 189.4L47.9 187.9L42.1 187.2L36.3 188.1L30.5 189.8L30.5 186.7L30.5 180.0L30.5 173.2L30.5 166.5L30.5 159.8L30.5 153.0L30.5 146.3Z" fill="#0039ff"/>
<path d="M36.3 146.3L42.1 146.3L47.9 146.3L53.7 146.3L59.5 146.3L65.3 146.3L71.1 146.3L76.9 146.3L82.7 146.3L88.5 146.3L94.2 146.3L100.0 146.3L105.8 146.3L111.6 146.3L117.4 146.3L123.2 146.3L129.0 146.3L134.8 146.3L140.6 146.3L146.4 146.3L146.4 153.0L146.4 159.8L146.4 166.5L146.4 173.2L146.4 180.0L146.4 186.7L146.4 193.4L146.4 200.2L146.4 206.9L146.4 213.6L146.4 220.3L146.4 227.1L146.4 233.8L146.4 240.5L146.4 247.3L146.4 254.0L140.6 254.0L134.8 254.0L129.0 254.0L123.2 254.0L117.4 254.0L111.6 254.0L105.8 254.0L100.0 254.0L94.2 254.0L88.5 254.0L87.9 254.0L88.5 248.1L88.5 247.3L89.0 240.5L89.2 233.8L88.9 227.1L88.5 222.9L88.2 220.3L86.8 213.6L84.6 206.9L82.7 203.7L80.2 200.2L76.9 197.3L71.9 193.4L71.1 192.8L65.3 189.1L60.4 186.7L59.5 186.3L53.7 184.3L47.9 182.7L42.1 182.0L36.3 182.3L30.5 183.3L30.5 180.0L30.5 173.2L30.5 166.5L30.5 159.8L30.5 153.0L30.5 146.3Z" fill="#0049ff"/>
<path d="M36.3 146.3L42.1 146.3L47.9 146.3L53.7 146.3L59.5 146.3L65.3 146.3L71.1 146.3L76.9 146.3L82.7 146.3L88.5 146.3L94.2 146.3L100.0 146.3L105.8 146.3L111.6 146.3L117.4 146.3L123.2 146.3L129.0 146.3L134.8 146.3L140.6 146.3L146.4 146.3L146.4 153.0L146.4 159.8L146.4 166.5L146.4 173.2L146.4 180.0L146.4 186.7L146.4 193.4L146.4 200.2L146.4 206.9L146.4 213.6L146.4 220.3L146.4 227.1L146.4 233.8L146.4 240.5L146.4 247.3L146.4 254.0L140.6 254.0L134.8 254.0L129.0 254.0L123.2 254.0L117.4 254.0L111.6 254.0L105.8 254.0L100.0 254.0L96.2 254.0L96.3 247.3L96.2 240.5L95.8 233.8L94.8 227.1L94.2 223.7L93.7 220.3L92.2 213.6L90.2 206.9L88.5 203.2L86.7 200.2L82.7 196.1L79.4 193.4L76.9 191.7L71.1 187.5L69.8 186.7L65.3 184.1L59.5 181.6L54.6 180.0L53.7 179.7L47.9 178.1L42.1 177.3L36.3 177.4L30.5 178.1L30.5 173.2L30.5 166.5L30.5 159.8L30.5 153.0L30.5 146.3Z" fill="#005aff"/>
<path d="M36.3 146.3L42.1 146.3L47.9 146.3L53.7 146.3L59.5 146.3L65.3 146.3L71.1 146.3L76.9 146.3L82.7 146.3L88.5 146.3L94.2 146.3L100.0 146.3L105.8 146.3L111.6 146.3L117.4 146.3L123.2 146.3L129.0 146.3L134.8 146.3L140.6 146.3L146.4 146.3L146.4 153.0L146.4 159.8L146.4 166.5L146.4 173.2L146.4 180.0L146.4 186.7L146.4 193.4L146.4 200.2L146.4 206.9L146.4 213.6L146.4 220.3L146.4 227.1L146.4 233.8L146.4 240.5L146.4 247.3L146.4 254.0L140.6 254.0L134.8 254.0L129.0 254.0L123.2 254.0L120.4 254.0L120.3 247.3L117.4 242.8L113.2 240.5L111.6 239.9L105.8 236.4L105.0 233.8L101.7 227.1L100.0 222.2L99.6 220.3L97.5 213.6L95.4 206.9L94.2 204.0L92.5 200.2L88.5 195.1L86.8 193.4L82.7 190.1L77.3 186.7L76.9 186.4L71.1 182.2L66.5 180.0L65.3 179.4L59.5 177.2L53.7 175.4L47.9 173.8L44.1 173.2L42.1 172.9L36.3 173.0L33.6 173.2L30.5 173.6L30.5 173.2L30.5 166.5L30.5 159.8L30.5 153.0L30.5 146.3ZM111.6 252.6L112.8 254.0L111.6 254.0L109.9 254.0Z" fill="#006dff"/>
<path d="M36.3 146.3L42.1 146.3L47.9 146.3L53.7 146.3L59.5 146.3L65.3 146.3L71.1 146.3L76.9 146.3L82.7 146.3L88.5 146.3L94.2 146.3L100.0 146.3L105.8 146.3L111.6 146.3L117.4 146.3L123.2 146.3L129.0 146.3L134.8 146.3L140.6 146.3L146.4 146.3L146.4 153.0L146.4 159.8L146.4 166.5L146.4 173.2L146.4 180.0L146.4 186.7L146.4 193.4L146.4 200.2L146.4 206.9L146.4 213.6L146.4 220.3L146.4 227.1L146.4 233.8L146.4 240.5L146.4 247.3L146.4 254.0L140.6 254.0L134.8 254.0L129.0 254.0L125.8 254.0L125.2 247.3L123.2 240.8L123.1 240.5L117.4 234.3L116.8 233.8L111.6 229.1L109.8 227.1L106.0 220.3L105.8 219.9L102.9 213.6L100.3 206.9L100.0 206.2L97.4 200.2L94.2 195.1L92.9 193.4L88.5 189.1L85.5 186.7L82.7 184.5L76.9 180.4L76.1 180.0L71.1 177.2L65.3 174.8L60.6 173.2L59.5 172.9L53.7 171.4L47.9 170.0L42.1 169.3L36.3 169.2L30.5 169.4L30.5 166.5L30.5 159.8L30.5 153.0L30.5 146.3Z" fill="#0084ff"/>
<path d="M36.3 146.3L42.1 146.3L47.9 146.3L53.7 146.3L59.5 146.3L65.3 146.3L71.1 146.3L76.9 146.3L82.7 146.3L88.5 146.3L94.2 146.3L100.0 146.3L105.8 146.3L111.6 146.3L117.4 146.3L123.2 146.3L129.0 146.3L134.8 146.3L140.6 146.3L146.4 146.3L146.4 153.0L146.4 159.8L146.4 166.5L146.4 173.2L146.4 180.0L146.4 186.7L146.4 193.4L146.4 200.2L146.4 206.9L146.4 213.6L146.4 220.3L146.4 227.1L146.4 233.8L146.4 240.5L146.4 247.3L146.4 254.0L140.6 254.0L134.8 254.0L129.0 254.0L129.0 253.8L127.8 247.3L125.5 240.5L123.2 235.9L121.4 233.8L117.4 228.5L116.0 227.1L111.8 220.3L111.6 220.0L108.2 213.6L105.8 208.7L105.0 206.9L102.0 200.2L100.0 196.5L98.1 193.4L94.2 188.9L92.0 186.7L88.5 183.5L84.1 180.0L82.7 178.8L76.9 175.1L73.0 173.2L71.1 172.5L65.3 170.6L59.5 168.9L53.7 167.5L48.8 166.5L47.9 166.3L42.1 165.7L36.3 165.5L30.5 165.5L30.5 159.8L30.5 153.0L30.5 146.3Z" fill="#009aff"/>
<path d="M36.3 146.3L42.1 146.3L47.9 146.3L53.7 146.3L59.5 146.3L65.3 146.3L71.1 146.3L76.9 146.3L82.7 146.3L88.5 146.3L94.2 146.3L100.0 146.3L105.8 146.3L111.6 146.3L117.4 146.3L123.2 146.3L129.0 146.3L134.8 146.3L140.6 146.3L146.4 146.3L146.4 153.0L146.4 159.8L146.4 166.5L146.4 173.2L146.4 180.0L146.4 186.7L146.4 193.4L146.4 200.2L146.4 206.9L146.4 213.6L146.4 220.3L146.4 227.1L146.4 233.8L146.4 240.5L146.4 247.3L146.4 254.0L140.6 254.0L134.8 254.0L130.0 254.0L129.6 247.3L129.0 243.8L127.8 240.5L124.3 233.8L123.2 231.4L119.9 227.1L117.4 222.2L116.2 220.3L112.9 213.6L111.6 210.9L109.6 206.9L106.5 200.2L105.8 198.8L103.0 193.4L100.0 189.4L97.7 186.7L94.2 183.5L90.3 180.0L88.5 178.2L82.7 173.4L82.4 173.2L76.9 170.5L71.1 168.5L65.3 166.6L65.0 166.5L59.5 165.2L53.7 164.1L47.9 163.2L42.1 162.6L36.3 162.4L30.5 162.2L30.5 159.8L30.5 153.0L30.5 146.3Z" fill="#00b1ff"/>
<path d="M36.3 146.3L42.1 146.3L47.9 146.3L53.7 146.3L59.5 146.3L65.3 146.3L71.1 146.3L76.9 146.3L82.7 146.3L88.5 146.3L94.2 146.3L100.0 146.3L105.8 146.3L111.6 146.3L117.4 146.3L123.2 146.3L129.0 146.3L134.8 146.3L140.6 146.3L146.4 146.3L146.4 153.0L146.4 159.8L146.4 166.5L146.4 173.2L146.4 180.0L146.4 186.7L146.4 193.4L146.4 200.2L146.4 206.9L146.4 213.6L146.4 220.3L146.4 227.1L146.4 233.8L146.4 240.5L146.4 247.3L146.4 254.0L140.6 254.0L134.8 254.0L130.9 254.0L130.6 247.3L129.5 240.5L129.0 238.8L126.3 233.8L123.2 227.1L123.2 227.1L119.5 220.3L117.4 214.2L117.1 213.6L114.0 206.9L111.6 201.7L110.9 200.2L108.0 193.4L105.8 190.1L103.3 186.7L100.0 183.7L96.0 180.0L94.2 178.5L88.7 173.2L88.5 173.0L82.7 168.9L77.1 166.5L76.9 166.4L71.1 164.8L65.3 163.2L59.5 161.9L53.7 160.8L47.9 160.0L45.5 159.8L42.1 159.5L36.3 159.3L30.5 159.0L30.5 153.0L30.5 146.3Z" fill="#00c8ff"/>
<path d="M36.3 146.3L42.1 146.3L47.9 146.3L53.7 146.3L59.5 146.3L65.3 146.3L71.1 146.3L76.9 146.3L82.7 146.3L88.5 146.3L94.2 146.3L100.0 146.3L105.8 146.3L111.6 146.3L117.4 146.3L123.2 146.3L129.0 146.3L134.8 146.3L140.6 146.3L146.4 146.3L146.4 153.0L146.4 159.8L146.4 166.5L146.4 173.2L146.4 180.0L146.4 186.7L146.4 193.4L146.4 200.2L146.4 206.9L146.4 213.6L146.4 220.3L146.4 227.1L146.4 233.8L146.4 240.5L146.4 247.3L146.4 254.0L140.6 254.0L134.8 254.0L131.8 254.0L131.6 247.3L130.5 240.5L129.0 235.0L128.4 233.8L125.3 227.1L123.2 221.9L122.3 220.3L120.4 213.6L118.5 206.9L117.4 204.3L115.6 200.2L113.5 193.4L111.6 190.5L109.3 186.7L105.8 183.2L102.1 180.0L100.0 178.6L94.2 173.8L93.7 173.2L88.5 168.5L85.5 166.5L82.7 165.1L76.9 163.3L71.1 161.6L65.3 159.8L65.3 159.8L59.5 158.7L53.7 157.9L47.9 157.3L42.1 156.9L36.3 156.6L30.5 156.3L30.5 153.0L30.5 146.3Z" fill="#00deff"/>
<path d="M36.3 146.3L42.1 146.3L47.9 146.3L53.7 146.3L59.5 146.3L65.3 146.3L71.1 146.3L76.9 146.3L82.7 146.3L88.5 146.3L94.2 146.3L100.0 146.3L105.8 146.3L111.6 146.3L117.4 146.3L123.2 146.3L129.0 146.3L134.8 146.3L140.6 146.3L146.4 146.3L146.4 153.0L146.4 159.8L146.4 166.5L146.4 173.2L146.4 180.0L146.4 186.7L146.4 193.4L146.4 200.2L146.4 206.9L146.4 213.6L146.4 220.3L146.4 227.1L146.4 233.8L146.4 240.5L146.4 247.3L146.4 254.0L140.6 254.0L134.8 254.0L132.8 254.0L132.7 247.3L131.6 240.5L129.7 233.8L129.0 230.8L127.3 227.1L124.6 220.3L123.4 213.6L123.2 208.4L123.1 206.9L122.5 200.2L121.3 193.4L117.4 188.8L116.2 186.7L111.6 182.3L109.3 180.0L105.8 177.7L100.0 174.0L99.1 173.2L94.2 169.2L91.3 166.5L88.5 164.8L82.7 161.9L76.9 160.1L75.7 159.8L71.1 158.5L65.3 157.0L59.5 156.0L53.7 155.2L47.9 154.6L42.1 154.2L36.3 154.0L30.5 153.7L30.5 153.0L30.5 146.3Z" fill="#00f9ff"/>
<path d="M36.3 146.3L42.1 146.3L47.9 146.3L53.7 146.3L59.5 146.3L65.3 146.3L71.1 146.3L76.9 146.3L82.7 146.3L88.5 146.3L94.2 146.3L100.0 146.3L105.8 146.3L111.6 146.3L117.4 146.3L123.2 146.3L129.0 146.3L134.8 146.3L140.6 146.3L146.4 146.3L146.4 153.0L146.4 159.8L146.4 166.5L146.4 173.2L146.4 180.0L146.4 186.7L146.4 193.4L146.4 200.2L146.4 206.9L146.4 213.6L146.4 220.3L146.4 227.1L146.4 233.8L146.4 240.5L146.4 247.3L146.4 254.0L140.6 254.0L134.8 254.0L133.7 254.0L133.7 247.3L132.6 240.5L130.8 233.8L129.2 227.1L129.0 226.2L126.6 220.3L125.4 213.6L125.6 206.9L126.3 200.2L126.1 193.4L124.0 186.7L123.2 185.8L117.4 181.8L115.6 180.0L111.6 177.0L106.2 173.2L105.8 173.0L100.0 169.6L96.4 166.5L94.2 165.2L88.5 161.7L84.6 159.8L82.7 159.0L76.9 157.6L71.1 155.9L65.3 154.2L59.5 153.2L58.0 153.0L53.7 152.6L47.9 152.1L42.1 151.8L36.3 151.5L30.5 151.3L30.5 146.3Z" fill="#00ffe7"/>
<path d="M36.3 146.3L42.1 146.3L47.9 146.3L53.7 146.3L59.5 146.3L65.3 146.3L71.1 146.3L76.9 146.3L82.7 146.3L88.5 146.3L94.2 146.3L100.0 146.3L105.8 146.3L111.6 146.3L117.4 146.3L123.2 146.3L129.0 146.3L134.8 146.3L140.6 146.3L146.4 146.3L146.4 153.0L146.4 159.8L146.4 166.5L146.4 173.2L146.4 180.0L146.4 186.7L146.4 193.4L146.4 200.2L146.4 206.9L146.4 213.6L146.4 220.3L146.4 227.1L146.4 233.8L146.4 240.5L146.4 247.3L146.4 254.0L140.6 254.0L134.8 254.0L134.7 254.0L134.7 247.3L133.7 240.5L131.9 233.8L130.4 227.1L129.0 221.4L128.6 220.3L127.5 213.6L128.1 206.9L129.0 202.5L129.3 200.2L129.2 193.4L129.0 190.6L128.0 186.7L123.2 181.1L121.7 180.0L117.4 177.3L112.4 173.2L111.6 172.6L105.8 168.9L102.0 166.5L100.0 165.5L94.2 162.0L90.4 159.8L88.5 158.9L82.7 156.9L76.9 155.1L71.1 153.2L70.7 153.0L65.3 151.6L59.5 150.7L53.7 150.2L47.9 149.7L42.1 149.4L36.3 149.2L30.5 149.1L30.5 146.3Z" fill="#00ffc8"/>
<path d="M36.3 146.3L42.1 146.3L47.9 146.3L53.7 146.3L59.5 146.3L65.3 146.3L71.1 146.3L76.9 146.3L82.7 146.3L88.5 146.3L94.2 146.3L100.0 146.3L105.8 146.3L111.6 146.3L117.4 146.3L123.2 146.3L129.0 146.3L134.8 146.3L140.6 146.3L146.4 146.3L146.4 153.0L146.4 159.8L146.4 166.5L146.4 173.2L146.4 180.0L146.4 186.7L146.4 193.4L146.4 200.2L146.4 206.9L146.4 213.6L146.4 220.3L146.4 227.1L146.4 233.8L146.4 240.5L146.4 247.3L146.4 254.0L140.6 254.0L135.2 254.0L135.3 247.3L134.8 241.1L134.7 240.5L132.9 233.8L131.6 227.1L129.8 220.3L129.3 213.6L129.8 206.9L130.6 200.2L130.5 193.4L130.2 186.7L129.0 183.0L126.4 180.0L123.2 177.5L117.4 173.5L117.1 173.2L111.6 168.7L108.3 166.5L105.8 165.2L100.0 162.2L95.8 159.8L94.2 159.1L88.5 156.6L82.7 154.7L77.9 153.0L76.9 152.6L71.1 150.7L65.3 149.2L59.5 148.3L53.7 147.9L47.9 147.3L42.1 147.1L36.3 146.9L30.5 146.9L30.5 146.3Z" fill="#00ffaa"/>
<path d="M65.3 146.3L71.1 146.3L76.9 146.3L82.7 146.3L88.5 146.3L94.2 146.3L100.0 146.3L105.8 146.3L111.6 146.3L117.4 146.3L123.2 146.3L129.0 146.3L134.8 146.3L140.6 146.3L146.4 146.3L146.4 153.0L146.4 159.8L146.4 166.5L146.4 173.2L146.4 180.0L146.4 186.7L146.4 193.4L146.4 200.2L146.4 206.9L146.4 213.6L146.4 220.3L146.4 227.1L146.4 233.8L146.4 240.5L146.4 247.3L146.4 254.0L140.6 254.0L135.6 254.0L135.8 247.3L135.4 240.5L134.8 236.9L134.0 233.8L132.7 227.1L130.9 220.3L130.3 213.6L131.0 206.9L131.8 200.2L131.8 193.4L131.7 186.7L129.7 180.0L129.0 178.8L123.2 174.2L121.8 173.2L117.4 169.7L113.6 166.5L111.6 165.0L105.8 161.9L101.6 159.8L100.0 159.1L94.2 156.5L88.5 154.2L84.6 153.0L82.7 152.5L76.9 150.3L71.1 148.3L65.3 146.8L62.3 146.3Z" fill="#00ff8b"/>
<path d="M76.9 146.3L82.7 146.3L88.5 146.3L94.2 146.3L100.0 146.3L105.8 146.3L111.6 146.3L117.4 146.3L123.2 146.3L129.0 146.3L134.8 146.3L140.6 146.3L146.4 146.3L146.4 153.0L146.4 159.8L146.4 166.5L146.4 173.2L146.4 180.0L146.4 186.7L146.4 193.4L146.4 200.2L146.4 206.9L146.4 213.6L146.4 220.3L146.4 227.1L146.4 233.8L146.4 240.5L146.4 247.3L146.4 254.0L140.6 254.0L136.1 254.0L136.4 247.3L135.9 240.5L134.9 233.8L134.8 232.3L133.9 227.1L132.0 220.3L131.4 213.6L132.2 206.9L133.1 200.2L133.1 193.4L133.2 186.7L131.3 180.0L129.0 175.7L125.9 173.2L123.2 170.6L118.1 166.5L117.4 165.9L111.6 161.5L108.2 159.8L105.8 158.9L100.0 156.5L94.2 154.0L91.7 153.0L88.5 151.9L82.7 150.2L76.9 148.0L72.3 146.3Z" fill="#00ff6d"/>
<path d="M82.7 146.3L88.5 146.3L94.2 146.3L100.0 146.3L105.8 146.3L111.6 146.3L117.4 146.3L123.2 146.3L129.0 146.3L134.8 146.3L140.6 146.3L146.4 146.3L146.4 153.0L146.4 159.8L146.4 166.5L146.4 173.2L146.4 180.0L146.4 186.7L146.4 193.4L146.4 200.2L146.4 206.9L146.4 213.6L146.4 220.3L146.4 227.1L146.4 233.8L146.4 240.5L146.4 247.3L146.4 254.0L140.6 254.0L136.5 254.0L136.9 247.3L136.5 240.5L135.6 233.8L134.9 227.1L134.8 226.2L133.1 220.3L132.5 213.6L133.3 206.9L134.4 200.2L134.3 193.4L134.7 186.7L133.0 180.0L129.3 173.2L129.0 172.6L123.2 166.9L122.7 166.5L117.4 162.0L114.3 159.8L111.6 158.6L105.8 156.3L100.0 153.8L98.1 153.0L94.2 151.5L88.5 149.5L82.7 148.0L78.5 146.3Z" fill="#00ff56"/>
<path d="M88.5 146.3L94.2 146.3L100.0 146.3L105.8 146.3L111.6 146.3L117.4 146.3L123.2 146.3L129.0 146.3L134.8 146.3L140.6 146.3L146.4 146.3L146.4 153.0L146.4 159.8L146.4 166.5L146.4 173.2L146.4 180.0L146.4 186.7L146.4 193.4L146.4 200.2L146.4 206.9L146.4 213.6L146.4 220.3L146.4 227.1L146.4 233.8L146.4 240.5L146.4 247.3L146.4 254.0L140.6 254.0L136.9 254.0L137.4 247.3L137.1 240.5L136.2 233.8L135.5 227.1L134.8 222.6L134.1 220.3L133.6 213.6L134.5 206.9L134.8 205.2L135.2 200.2L135.2 193.4L135.5 186.7L134.8 180.4L134.7 180.0L130.9 173.2L129.0 168.9L126.6 166.5L123.2 163.3L119.2 159.8L117.4 158.7L111.6 156.3L105.8 153.8L104.0 153.0L100.0 151.4L94.2 149.0L88.5 147.2L84.8 146.3Z" fill="#00ff48"/>
<path d="M94.2 146.3L100.0 146.3L105.8 146.3L111.6 146.3L117.4 146.3L123.2 146.3L129.0 146.3L134.8 146.3L140.6 146.3L146.4 146.3L146.4 153.0L146.4 159.8L146.4 166.5L146.4 173.2L146.4 180.0L146.4 186.7L146.4 193.4L146.4 200.2L146.4 206.9L146.4 213.6L146.4 220.3L146.4 227.1L146.4 233.8L146.4 240.5L146.4 247.3L146.4 254.0L140.6 254.0L137.4 254.0L137.9 247.3L137.7 240.5L136.8 233.8L136.1 227.1L135.1 220.3L134.8 215.3L134.7 213.6L134.8 212.7L135.3 206.9L135.8 200.2L135.9 193.4L136.2 186.7L135.5 180.0L134.8 177.3L132.5 173.2L129.6 166.5L129.0 165.0L123.2 159.8L123.2 159.7L117.4 156.4L111.6 153.9L109.5 153.0L105.8 151.6L100.0 148.9L94.2 146.6L93.4 146.3Z" fill="#00ff3a"/>
<path d="M100.0 146.3L105.8 146.3L111.6 146.3L117.4 146.3L123.2 146.3L129.0 146.3L134.8 146.3L140.6 146.3L146.4 146.3L146.4 153.0L146.4 159.8L146.4 166.5L146.4 173.2L146.4 180.0L146.4 186.7L146.4 193.4L146.4 200.2L146.4 206.9L146.4 213.6L146.4 220.3L146.4 227.1L146.4 233.8L146.4 240.5L146.4 247.3L146.4 254.0L140.6 254.0L137.8 254.0L138.5 247.3L138.3 240.5L137.4 233.8L136.7 227.1L135.7 220.3L135.4 213.6L136.0 206.9L136.4 200.2L136.5 193.4L136.9 186.7L136.1 180.0L134.8 174.5L134.1 173.2L131.1 166.5L129.0 161.0L127.7 159.8L123.2 156.9L117.4 154.1L114.9 153.0L111.6 151.9L105.8 149.4L100.0 146.5L99.5 146.3Z" fill="#00ff2c"/>
<path d="M105.8 146.3L111.6 146.3L117.4 146.3L123.2 146.3L129.0 146.3L134.8 146.3L140.6 146.3L146.4 146.3L146.4 153.0L146.4 159.8L146.4 166.5L146.4 173.2L146.4 180.0L146.4 186.7L146.4 193.4L146.4 200.2L146.4 206.9L146.4 213.6L146.4 220.3L146.4 227.1L146.4 233.8L146.4 240.5L146.4 247.3L146.4 254.0L140.6 254.0L138.3 254.0L139.0 247.3L138.9 240.5L138.0 233.8L137.3 227.1L136.4 220.3L136.1 213.6L136.6 206.9L136.9 200.2L137.2 193.4L137.6 186.7L136.8 180.0L135.2 173.2L134.8 171.4L132.7 166.5L130.5 159.8L129.0 157.4L123.2 154.0L120.9 153.0L117.4 151.9L111.6 149.9L105.8 147.3L103.9 146.3Z" fill="#00ff1e"/>
<path d="M111.6 146.3L117.4 146.3L123.2 146.3L129.0 146.3L134.8 146.3L140.6 146.3L146.4 146.3L146.4 153.0L146.4 159.8L146.4 166.5L146.4 173.2L146.4 180.0L146.4 186.7L146.4 193.4L146.4 200.2L146.4 206.9L146.4 213.6L146.4 220.3L146.4 227.1L146.4 233.8L146.4 240.5L146.4 247.3L146.4 254.0L140.6 254.0L138.7 254.0L139.5 247.3L139.5 240.5L138.7 233.8L137.9 227.1L137.0 220.3L136.8 213.6L137.3 206.9L137.5 200.2L137.9 193.4L138.3 186.7L137.5 180.0L135.8 173.2L134.8 167.9L134.2 166.5L132.7 159.8L129.0 154.1L127.1 153.0L123.2 151.0L117.4 149.7L111.6 148.0L108.0 146.3Z" fill="#00ff10"/>
<path d="M117.4 146.3L123.2 146.3L129.0 146.3L134.8 146.3L140.6 146.3L146.4 146.3L146.4 153.0L146.4 159.8L146.4 166.5L146.4 173.2L146.4 180.0L146.4 186.7L146.4 193.4L146.4 200.2L146.4 206.9L146.4 213.6L146.4 220.3L146.4 227.1L146.4 233.8L146.4 240.5L146.4 247.3L146.4 254.0L140.6 254.0L139.2 254.0L140.1 247.3L140.1 240.5L139.3 233.8L138.5 227.1L137.7 220.3L137.5 213.6L137.9 206.9L138.1 200.2L138.5 193.4L139.0 186.7L138.2 180.0L136.5 173.2L135.2 166.5L134.8 159.8L134.8 159.7L130.7 153.0L129.0 149.4L123.2 147.8L117.4 147.6L112.4 146.3Z" fill="#00ff05"/>
<path d="M134.8 146.3L140.6 146.3L146.4 146.3L146.4 153.0L146.4 159.8L146.4 166.5L146.4 173.2L146.4 180.0L146.4 186.7L146.4 193.4L146.4 200.2L146.4 206.9L146.4 213.6L146.4 220.3L146.4 227.1L146.4 233.8L146.4 240.5L146.4 247.3L146.4 254.0L140.6 254.0L139.6 254.0L140.6 247.3L140.6 246.7L140.7 240.5L140.6 239.7L139.9 233.8L139.0 227.1L138.3 220.3L138.2 213.6L138.5 206.9L138.7 200.2L139.2 193.4L139.7 186.7L138.9 180.0L137.2 173.2L136.0 166.5L135.6 159.8L134.8 155.7L133.2 153.0L130.2 146.3Z" fill="#02ff00"/>
<path d="M134.8 146.3L140.6 146.3L146.4 146.3L146.4 153.0L146.4 159.8L146.4 166.5L146.4 173.2L146.4 180.0L146.4 186.7L146.4 193.4L146.4 200.2L146.4 206.9L146.4 213.6L146.4 220.3L146.4 227.1L146.4 233.8L146.4 240.5L146.4 247.3L146.4 254.0L140.6 254.0L140.0 254.0L140.6 250.2L141.1 247.3L141.2 240.5L140.6 234.6L140.5 233.8L139.6 227.1L139.0 220.3L138.9 213.6L139.2 206.9L139.3 200.2L139.8 193.4L140.4 186.7L139.6 180.0L137.8 173.2L136.7 166.5L136.3 159.8L135.1 153.0L134.8 150.6L133.1 146.3Z" fill="#09ff00"/>
<path d="M140.6 146.3L146.4 146.3L146.4 153.0L146.4 159.8L146.4 166.5L146.4 173.2L146.4 180.0L146.4 186.7L146.4 193.4L146.4 200.2L146.4 206.9L146.4 213.6L146.4 220.3L146.4 227.1L146.4 233.8L146.4 240.5L146.4 247.3L146.4 254.0L140.6 254.0L140.5 254.0L140.6 253.1L141.5 247.3L141.7 240.5L141.0 233.8L140.6 230.1L140.2 227.1L139.7 220.3L139.6 213.6L139.8 206.9L139.8 200.2L140.5 193.4L140.6 192.0L141.0 186.7L140.6 182.9L140.3 180.0L138.5 173.2L137.4 166.5L137.0 159.8L135.9 153.0L135.2 146.3Z" fill="#10ff00"/>
<path d="M140.6 146.3L146.4 146.3L146.4 153.0L146.4 159.8L146.4 166.5L146.4 173.2L146.4 180.0L146.4 186.7L146.4 193.4L146.4 200.2L146.4 206.9L146.4 213.6L146.4 220.3L146.4 227.1L146.4 233.8L146.4 240.5L146.4 247.3L146.4 254.0L140.9 254.0L142.0 247.3L142.2 240.5L141.6 233.8L140.8 227.1L140.6 224.3L140.3 220.3L140.3 213.6L140.5 206.9L140.4 200.2L140.6 198.3L141.0 193.4L141.5 186.7L140.9 180.0L140.6 178.7L139.2 173.2L138.2 166.5L137.8 159.8L136.7 153.0L136.0 146.3Z" fill="#17ff00"/>
<path d="M140.6 146.3L146.4 146.3L146.4 153.0L146.4 159.8L146.4 166.5L146.4 173.2L146.4 180.0L146.4 186.7L146.4 193.4L146.4 200.2L146.4 206.9L146.4 213.6L146.4 220.3L146.4 227.1L146.4 233.8L146.4 240.5L146.4 247.3L146.4 254.0L141.4 254.0L142.5 247.3L142.7 240.5L142.1 233.8L141.2 227.1L140.9 220.3L140.9 213.6L141.0 206.9L140.9 200.2L141.6 193.4L142.0 186.7L141.4 180.0L140.6 176.2L139.8 173.2L138.9 166.5L138.5 159.8L137.5 153.0L136.9 146.3Z" fill="#28ff00"/>
<path d="M140.6 146.3L146.4 146.3L146.4 153.0L146.4 159.8L146.4 166.5L146.4 173.2L146.4 180.0L146.4 186.7L146.4 193.4L146.4 200.2L146.4 206.9L146.4 213.6L146.4 220.3L146.4 227.1L146.4 233.8L146.4 240.5L146.4 247.3L146.4 254.0L141.8 254.0L142.9 247.3L143.2 240.5L142.6 233.8L141.7 227.1L141.5 220.3L141.5 213.6L141.6 206.9L141.4 200.2L142.1 193.4L142.6 186.7L141.9 180.0L140.6 173.7L140.5 173.2L139.6 166.5L139.3 159.8L138.3 153.0L137.8 146.3Z" fill="#4cff00"/>
<path d="M140.6 146.3L146.4 146.3L146.4 153.0L146.4 159.8L146.4 166.5L146.4 173.2L146.4 180.0L146.4 186.7L146.4 193.4L146.4 200.2L146.4 206.9L146.4 213.6L146.4 220.3L146.4 227.1L146.4 233.8L146.4 240.5L146.4 247.3L146.4 254.0L142.2 254.0L143.4 247.3L143.7 240.5L143.1 233.8L142.2 227.1L142.0 220.3L142.0 213.6L142.1 206.9L141.9 200.2L142.6 193.4L143.1 186.7L142.5 180.0L141.0 173.2L140.6 168.6L140.3 166.5L140.0 159.8L139.1 153.0L138.7 146.3Z" fill="#7fff00"/>
<path d="M140.6 146.3L146.4 146.3L146.4 153.0L146.4 159.8L146.4 166.5L146.4 173.2L146.4 180.0L146.4 186.7L146.4 193.4L146.4 200.2L146.4 206.9L146.4 213.6L146.4 220.3L146.4 227.1L146.4 233.8L146.4 240.5L146.4 247.3L146.4 254.0L142.7 254.0L143.9 247.3L144.2 240.5L143.6 233.8L142.7 227.1L142.6 220.3L142.6 213.6L142.6 206.9L142.4 200.2L143.2 193.4L143.7 186.7L143.0 180.0L141.6 173.2L141.0 166.5L140.7 159.8L140.6 158.4L139.9 153.0L139.6 146.3Z" fill="#aaff00"/>
<path d="M140.6 146.3L146.4 146.3L146.4 153.0L146.4 159.8L146.4 166.5L146.4 173.2L146.4 180.0L146.4 186.7L146.4 193.4L146.4 200.2L146.4 206.9L146.4 213.6L146.4 220.3L146.4 227.1L146.4 233.8L146.4 240.5L146.4 247.3L146.4 254.0L143.1 254.0L144.3 247.3L144.7 240.5L144.1 233.8L143.2 227.1L143.1 220.3L143.2 213.6L143.1 206.9L142.9 200.2L143.7 193.4L144.2 186.7L143.5 180.0L142.1 173.2L141.5 166.5L141.2 159.8L140.7 153.0L140.6 150.0L140.4 146.3Z" fill="#d3ff00"/>
<path d="M146.4 146.3L146.4 153.0L146.4 159.8L146.4 166.5L146.4 173.2L146.4 180.0L146.4 186.7L146.4 193.4L146.4 200.2L146.4 206.9L146.4 213.6L146.4 220.3L146.4 227.1L146.4 233.8L146.4 240.5L146.4 247.3L146.4 254.0L143.6 254.0L144.8 247.3L145.2 240.5L144.6 233.8L143.7 227.1L143.6 220.3L143.7 213.6L143.7 206.9L143.4 200.2L144.2 193.4L144.7 186.7L144.1 180.0L142.6 173.2L142.1 166.5L141.8 159.8L141.2 153.0L141.0 146.3Z" fill="#fdff00"/>
<path d="M146.4 146.3L146.4 153.0L146.4 159.8L146.4 166.5L146.4 173.2L146.4 180.0L146.4 186.7L146.4 193.4L146.4 200.2L146.4 206.9L146.4 213.6L146.4 220.3L146.4 227.1L146.4 233.8L146.4 240.5L146.4 247.3L146.4 254.0L144.0 254.0L145.3 247.3L145.7 240.5L145.1 233.8L144.2 227.1L144.2 220.3L144.3 213.6L144.2 206.9L143.9 200.2L144.7 193.4L145.3 186.7L144.6 180.0L143.2 173.2L142.6 166.5L142.3 159.8L141.8 153.0L141.4 146.3Z" fill="#ffe300"/>
<path d="M146.4 146.3L146.4 153.0L146.4 159.8L146.4 166.5L146.4 173.2L146.4 180.0L146.4 186.7L146.4 193.4L146.4 200.2L146.4 206.9L146.4 213.6L146.4 220.3L146.4 227.1L146.4 233.8L146.4 240.5L146.4 247.3L146.4 254.0L144.5 254.0L145.7 247.3L146.2 240.5L145.6 233.8L144.7 227.1L144.7 220.3L144.9 213.6L144.7 206.9L144.4 200.2L145.3 193.4L145.8 186.7L145.1 180.0L143.7 173.2L143.2 166.5L142.8 159.8L142.3 153.0L141.8 146.3Z" fill="#ffcb00"/>
<path d="M146.4 146.3L146.4 153.0L146.4 159.8L146.4 166.5L146.4 173.2L146.4 180.0L146.4 186.7L146.4 193.4L146.4 200.2L146.4 206.9L146.4 213.6L146.4 220.3L146.4 227.1L146.4 233.8L146.4 236.9L146.1 233.8L145.2 227.1L145.3 220.3L145.4 213.6L145.2 206.9L144.9 200.2L145.8 193.4L146.4 186.7L145.7 180.0L144.3 173.2L143.7 166.5L143.4 159.8L142.8 153.0L142.3 146.3ZM146.4 244.3L146.4 247.3L146.4 254.0L144.9 254.0L146.2 247.3Z" fill="#ffb700"/>
<path d="M146.4 146.3L146.4 153.0L146.4 159.8L146.4 166.5L146.4 173.2L146.4 180.0L146.4 181.8L146.2 180.0L144.8 173.2L144.3 166.5L143.9 159.8L143.4 153.0L142.7 146.3ZM146.4 192.5L146.4 193.4L146.4 200.2L146.4 206.9L146.4 213.6L146.4 220.3L146.4 227.1L146.4 232.1L145.7 227.1L145.8 220.3L146.0 213.6L145.7 206.9L145.4 200.2L146.3 193.4ZM146.4 248.5L146.4 254.0L145.3 254.0Z" fill="#ffa300"/>
<path d="M146.4 146.3L146.4 153.0L146.4 159.8L146.4 166.5L146.4 173.2L146.4 178.3L145.3 173.2L144.8 166.5L144.4 159.8L143.9 153.0L143.2 146.3ZM146.4 196.5L146.4 200.2L146.4 206.9L146.4 210.0L146.3 206.9L145.9 200.2ZM146.4 219.6L146.4 220.3L146.4 227.1L146.4 228.6L146.2 227.1L146.4 220.3ZM146.4 250.8L146.4 254.0L145.8 254.0Z" fill="#ff8f00"/>
<path d="M146.4 146.3L146.4 153.0L146.4 159.8L146.4 166.5L146.4 173.2L146.4 175.8L145.9 173.2L145.4 166.5L144.9 159.8L144.4 153.0L143.6 146.3ZM146.4 200.0L146.4 200.2L146.4 200.4L146.4 200.2ZM146.4 253.1L146.4 254.0L146.2 254.0Z" fill="#ff7b00"/>
<path d="M146.4 146.3L146.4 153.0L146.4 159.8L146.4 166.5L146.4 173.2L146.4 173.3L146.4 173.2L146.0 166.5L145.5 159.8L144.9 153.0L144.1 146.3Z" fill="#ff6700"/>
<path d="M146.4 146.3L146.4 153.0L146.4 159.8L146.4 165.1L146.0 159.8L145.5 153.0L144.5 146.3Z" fill="#ff5600"/>
<path d="M146.4 146.3L146.4 153.0L146.4 158.1L146.0 153.0L144.9 146.3Z" fill="#ff4600"/>
<path d="M146.4 146.3L146.4 152.3L145.4 146.3Z" fill="#ff3700"/>
<path d="M146.4 146.3L146.4 149.7L145.8 146.3Z" fill="#ff2700"/>
<path d="M146.4 146.3L146.4 147.1L146.3 146.3Z" fill="#ff1700"/>
<path d="M109.9 254.0L111.6 252.6L112.8 254.0M120.4 254.0L120.3 247.3L117.4 242.8L113.2 240.5L111.6 239.9L105.8 236.4L105.0 233.8L101.7 227.1L100.0 222.2L99.6 220.3L97.5 213.6L95.4 206.9L94.2 204.0L92.5 200.2L88.5 195.1L86.8 193.4L82.7 190.1L77.3 186.7L76.9 186.4L71.1 182.2L66.5 180.0L65.3 179.4L59.5 177.2L53.7 175.4L47.9 173.8L44.1 173.2L42.1 172.9L36.3 173.0L33.6 173.2L30.5 173.6M132.8 254.0L132.7 247.3L131.6 240.5L129.7 233.8L129.0 230.8L127.3 227.1L124.6 220.3L123.4 213.6L123.2 208.4L123.1 206.9L122.5 200.2L121.3 193.4L117.4 188.8L116.2 186.7L111.6 182.3L109.3 180.0L105.8 177.7L100.0 174.0L99.1 173.2L94.2 169.2L91.3 166.5L88.5 164.8L82.7 161.9L76.9 160.1L75.7 159.8L71.1 158.5L65.3 157.0L59.5 156.0L53.7 155.2L47.9 154.6L42.1 154.2L36.3 154.0L30.5 153.7M136.5 254.0L136.9 247.3L136.5 240.5L135.6 233.8L134.9 227.1L134.8 226.2L133.1 220.3L132.5 213.6L133.3 206.9L134.4 200.2L134.3 193.4L134.7 186.7L133.0 180.0L129.3 173.2L129.0 172.6L123.2 166.9L122.7 166.5L117.4 162.0L114.3 159.8L111.6 158.6L105.8 156.3L100.0 153.8L98.1 153.0L94.2 151.5L88.5 149.5L82.7 148.0L78.5 146.3M139.2 254.0L140.1 247.3L140.1 240.5L139.3 233.8L138.5 227.1L137.7 220.3L137.5 213.6L137.9 206.9L138.1 200.2L138.5 193.4L139.0 186.7L138.2 180.0L136.5 173.2L135.2 166.5L134.8 159.8L134.8 159.7L130.7 153.0L129.0 149.4L123.2 147.8L117.4 147.6L112.4 146.3M141.8 254.0L142.9 247.3L143.2 240.5L142.6 233.8L141.7 227.1L141.5 220.3L141.5 213.6L141.6 206.9L141.4 200.2L142.1 193.4L142.6 186.7L141.9 180.0L140.6 173.7L140.5 173.2L139.6 166.5L139.3 159.8L138.3 153.0L137.8 146.3M144.5 254.0L145.7 247.3L146.2 240.5L145.6 233.8L144.7 227.1L144.7 220.3L144.9 213.6L144.7 206.9L144.4 200.2L145.3 193.4L145.8 186.7L145.1 180.0L143.7 173.2L143.2 166.5L142.8 159.8L142.3 153.0L141.8 146.3M146.4 165.1L146.0 159.8L145.5 153.0L144.5 146.3" fill="none" stroke="#3a3a3a" stroke-opacity="0.75" stroke-width="0.6"/>
</g>
<rect x="30.50" y="146.30" width="115.90" height="107.70" fill="none" stroke="#000" stroke-width="1"/>
<path d="M30.50 254.00v3.3M42.09 254.00v1.8M53.68 254.00v3.3M65.27 254.00v1.8M76.86 254.00v3.3M88.45 254.00v1.8M100.04 254.00v3.3M111.63 254.00v1.8M123.22 254.00v3.3M134.81 254.00v1.8M146.40 254.00v3.3M30.50 254.00h-3.3M30.50 247.27h-1.8M30.50 240.54h-3.3M30.50 233.81h-1.8M30.50 227.08h-3.3M30.50 220.34h-1.8M30.50 213.61h-3.3M30.50 206.88h-1.8M30.50 200.15h-3.3M30.50 193.42h-1.8M30.50 186.69h-3.3M30.50 179.96h-1.8M30.50 173.23h-3.3M30.50 166.49h-1.8M30.50 159.76h-3.3M30.50 153.03h-1.8M30.50 146.30h-3.3" stroke="#000" stroke-width="0.8" fill="none"/>
<text x="30.50" y="267.00" class="tl" text-anchor="middle">50</text>
<text x="53.68" y="267.00" class="tl" text-anchor="middle">60</text>
<text x="76.86" y="267.00" class="tl" text-anchor="middle">70</text>
<text x="100.04" y="267.00" class="tl" text-anchor="middle">80</text>
<text x="123.22" y="267.00" class="tl" text-anchor="middle">90</text>
<text x="146.40" y="267.00" class="tl" text-anchor="middle">100</text>
<text x="24.40" y="256.60" class="tly" text-anchor="end">10</text>
<text x="24.40" y="243.14" class="tly" text-anchor="end">15</text>
<text x="24.40" y="229.68" class="tly" text-anchor="end">20</text>
<text x="24.40" y="216.21" class="tly" text-anchor="end">25</text>
<text x="24.40" y="202.75" class="tly" text-anchor="end">30</text>
<text x="24.40" y="189.29" class="tly" text-anchor="end">35</text>
<text x="24.40" y="175.83" class="tly" text-anchor="end">40</text>
<text x="24.40" y="162.36" class="tly" text-anchor="end">45</text>
<text x="24.40" y="148.90" class="tly" text-anchor="end">50</text>
<text transform="translate(11.50 199.80) rotate(-90)" class="at" text-anchor="middle">Quantile for dormancy</text>
<text x="137.10" y="251.80" class="pl" text-anchor="end">(d)</text>
<rect x="151.80" y="149.80" width="3.70" height="109.80" fill="url(#cbgd)" stroke="#000" stroke-width="1"/>
<path d="M156.20 152.30h3.2" stroke="#444" stroke-width="0.8"/>
<text x="162.50" y="154.60" class="cl">1090</text>
<path d="M156.20 165.43h3.2" stroke="#444" stroke-width="0.8"/>
<text x="162.50" y="167.73" class="cl">1065</text>
<path d="M156.20 178.55h3.2" stroke="#444" stroke-width="0.8"/>
<text x="162.50" y="180.85" class="cl">1041</text>
<path d="M156.20 191.68h3.2" stroke="#444" stroke-width="0.8"/>
<text x="162.50" y="193.98" class="cl">1016</text>
<path d="M156.20 204.80h3.2" stroke="#444" stroke-width="0.8"/>
<text x="162.50" y="207.10" class="cl">991.0</text>
<path d="M156.20 217.93h3.2" stroke="#444" stroke-width="0.8"/>
<text x="162.50" y="220.23" class="cl">966.3</text>
<path d="M156.20 231.05h3.2" stroke="#444" stroke-width="0.8"/>
<text x="162.50" y="233.35" class="cl">941.5</text>
<path d="M156.20 244.18h3.2" stroke="#444" stroke-width="0.8"/>
<text x="162.50" y="246.48" class="cl">916.8</text>
<path d="M156.20 257.30h3.2" stroke="#444" stroke-width="0.8"/>
<text x="162.50" y="259.60" class="cl">892.0</text>
<text x="150.20" y="143.80" class="aic">AIC</text>
<clipPath id="ce"><rect x="212.50" y="146.30" width="115.90" height="107.70"/></clipPath>
<g clip-path="url(#ce)">
<rect x="212.50" y="146.30" width="115.90" height="107.70" fill="#0008ff"/>
<rect x="212.50" y="146.30" width="115.90" height="107.70" fill="#0018ff"/>
<rect x="212.50" y="146.30" width="115.90" height="107.70" fill="#0029ff"/>
<path d="M218.3 146.3L224.1 146.3L229.9 146.3L235.7 146.3L241.5 146.3L247.3 146.3L253.1 146.3L258.9 146.3L264.7 146.3L270.4 146.3L276.2 146.3L282.0 146.3L287.8 146.3L293.6 146.3L299.4 146.3L305.2 146.3L311.0 146.3L316.8 146.3L322.6 146.3L328.4 146.3L328.4 153.0L328.4 159.8L328.4 166.5L328.4 173.2L328.4 180.0L328.4 186.7L328.4 193.4L328.4 200.2L328.4 206.9L328.4 213.6L328.4 220.3L328.4 227.1L328.4 233.8L328.4 240.5L328.4 247.3L328.4 254.0L322.6 254.0L316.8 254.0L311.0 254.0L305.2 254.0L299.4 254.0L293.6 254.0L287.8 254.0L282.0 254.0L276.2 254.0L270.4 254.0L264.7 254.0L258.9 254.0L253.1 254.0L247.3 254.0L241.5 254.0L235.7 254.0L229.9 254.0L224.1 254.0L218.3 254.0L212.5 254.0L212.5 247.3L212.5 240.5L212.5 233.8L212.5 227.1L212.5 220.3L212.5 213.6L212.5 206.9L212.5 200.2L212.5 193.4L212.5 186.7L212.5 180.0L212.5 173.2L212.5 168.4L215.6 166.5L218.3 162.3L219.7 159.8L218.3 155.3L217.5 153.0L212.5 148.8L212.5 146.3Z" fill="#0039ff"/>
<path d="M224.1 146.3L229.9 146.3L235.7 146.3L241.5 146.3L247.3 146.3L253.1 146.3L258.9 146.3L264.7 146.3L270.4 146.3L276.2 146.3L282.0 146.3L287.8 146.3L293.6 146.3L299.4 146.3L305.2 146.3L311.0 146.3L316.8 146.3L322.6 146.3L328.4 146.3L328.4 153.0L328.4 159.8L328.4 166.5L328.4 173.2L328.4 180.0L328.4 186.7L328.4 193.4L328.4 200.2L328.4 206.9L328.4 213.6L328.4 220.3L328.4 227.1L328.4 233.8L328.4 240.5L328.4 247.3L328.4 254.0L322.6 254.0L316.8 254.0L311.0 254.0L305.2 254.0L299.4 254.0L293.6 254.0L287.8 254.0L282.0 254.0L276.2 254.0L270.4 254.0L264.7 254.0L258.9 254.0L253.1 254.0L247.3 254.0L241.5 254.0L235.7 254.0L229.9 254.0L224.1 254.0L218.3 254.0L212.5 254.0L212.5 247.3L212.5 240.5L212.5 233.8L212.5 227.1L212.5 220.3L212.5 213.6L212.5 206.9L212.5 200.2L212.5 193.4L212.5 186.7L212.5 180.0L212.5 173.8L213.9 173.2L218.3 170.9L223.2 166.5L224.1 165.0L226.1 159.8L224.7 153.0L224.1 151.9L219.9 146.3Z" fill="#0049ff"/>
<path d="M229.9 146.3L235.7 146.3L241.5 146.3L247.3 146.3L253.1 146.3L258.9 146.3L264.7 146.3L270.4 146.3L276.2 146.3L282.0 146.3L287.8 146.3L293.6 146.3L299.4 146.3L305.2 146.3L311.0 146.3L316.8 146.3L322.6 146.3L328.4 146.3L328.4 153.0L328.4 159.8L328.4 166.5L328.4 173.2L328.4 180.0L328.4 186.7L328.4 193.4L328.4 200.2L328.4 206.9L328.4 213.6L328.4 220.3L328.4 227.1L328.4 233.8L328.4 240.5L328.4 247.3L328.4 254.0L322.6 254.0L316.8 254.0L311.0 254.0L305.2 254.0L299.4 254.0L293.6 254.0L287.8 254.0L282.0 254.0L276.2 254.0L270.4 254.0L264.7 254.0L258.9 254.0L253.1 254.0L247.3 254.0L241.5 254.0L235.7 254.0L229.9 254.0L224.1 254.0L218.3 254.0L212.5 254.0L212.5 247.3L212.5 240.5L212.5 233.8L212.5 227.1L212.5 220.3L212.5 213.6L212.5 206.9L212.5 200.2L212.5 193.4L212.5 186.7L212.5 180.0L212.5 179.0L218.3 176.6L223.5 173.2L224.1 172.8L228.6 166.5L229.9 162.6L230.7 159.8L230.1 153.0L229.9 152.3L227.3 146.3Z" fill="#005aff"/>
<path d="M235.7 146.3L241.5 146.3L247.3 146.3L253.1 146.3L258.9 146.3L264.7 146.3L270.4 146.3L276.2 146.3L282.0 146.3L287.8 146.3L293.6 146.3L299.4 146.3L305.2 146.3L311.0 146.3L316.8 146.3L322.6 146.3L328.4 146.3L328.4 153.0L328.4 159.8L328.4 166.5L328.4 173.2L328.4 180.0L328.4 186.7L328.4 193.4L328.4 200.2L328.4 206.9L328.4 213.6L328.4 220.3L328.4 227.1L328.4 233.8L328.4 240.5L328.4 247.3L328.4 254.0L322.6 254.0L316.8 254.0L311.0 254.0L305.2 254.0L299.4 254.0L293.6 254.0L287.8 254.0L282.0 254.0L276.2 254.0L270.4 254.0L264.7 254.0L258.9 254.0L253.1 254.0L247.3 254.0L241.5 254.0L235.7 254.0L229.9 254.0L224.1 254.0L218.3 254.0L212.5 254.0L212.5 247.3L212.5 240.5L212.5 233.8L212.5 227.1L212.5 220.3L212.5 213.6L212.5 206.9L212.5 200.2L212.5 193.4L212.5 186.7L212.5 184.1L218.3 181.9L221.6 180.0L224.1 178.4L229.2 173.2L229.9 172.2L233.2 166.5L235.3 159.8L235.1 153.0L233.3 146.3Z" fill="#006dff"/>
<path d="M241.5 146.3L247.3 146.3L253.1 146.3L258.9 146.3L264.7 146.3L270.4 146.3L276.2 146.3L282.0 146.3L287.8 146.3L293.6 146.3L299.4 146.3L305.2 146.3L311.0 146.3L316.8 146.3L322.6 146.3L328.4 146.3L328.4 153.0L328.4 159.8L328.4 166.5L328.4 173.2L328.4 180.0L328.4 186.7L328.4 193.4L328.4 200.2L328.4 206.9L328.4 213.6L328.4 220.3L328.4 227.1L328.4 233.8L328.4 240.5L328.4 247.3L328.4 254.0L322.6 254.0L316.8 254.0L311.0 254.0L305.2 254.0L299.4 254.0L293.6 254.0L287.8 254.0L282.0 254.0L276.2 254.0L270.4 254.0L264.7 254.0L258.9 254.0L253.1 254.0L247.3 254.0L241.5 254.0L235.7 254.0L229.9 254.0L224.1 254.0L218.3 254.0L212.5 254.0L212.5 247.3L212.5 240.5L212.5 233.8L212.5 227.1L212.5 220.3L212.5 213.6L212.5 206.9L212.5 200.2L212.5 193.4L212.5 189.6L218.3 187.2L219.2 186.7L224.1 183.9L228.4 180.0L229.9 178.4L233.9 173.2L235.7 170.1L237.7 166.5L239.8 159.8L240.1 153.0L239.1 146.3Z" fill="#0084ff"/>
<path d="M247.3 146.3L253.1 146.3L258.9 146.3L264.7 146.3L270.4 146.3L276.2 146.3L282.0 146.3L287.8 146.3L293.6 146.3L299.4 146.3L305.2 146.3L311.0 146.3L316.8 146.3L322.6 146.3L328.4 146.3L328.4 153.0L328.4 159.8L328.4 166.5L328.4 173.2L328.4 180.0L328.4 186.7L328.4 193.4L328.4 200.2L328.4 206.9L328.4 213.6L328.4 220.3L328.4 227.1L328.4 233.8L328.4 240.5L328.4 247.3L328.4 254.0L322.6 254.0L316.8 254.0L311.0 254.0L305.2 254.0L299.4 254.0L293.6 254.0L287.8 254.0L282.0 254.0L276.2 254.0L270.4 254.0L264.7 254.0L258.9 254.0L253.1 254.0L247.3 254.0L241.5 254.0L235.7 254.0L229.9 254.0L224.1 254.0L218.3 254.0L212.5 254.0L212.5 247.3L212.5 240.5L212.5 233.8L212.5 227.1L212.5 220.3L212.5 213.6L212.5 206.9L212.5 200.2L212.5 195.4L217.3 193.4L218.3 193.0L224.1 189.5L227.3 186.7L229.9 184.4L233.4 180.0L235.7 177.0L238.4 173.2L241.5 167.6L242.2 166.5L244.8 159.8L245.7 153.0L245.3 146.3Z" fill="#009aff"/>
<path d="M253.1 147.0L253.2 146.3L258.9 146.3L264.7 146.3L270.4 146.3L276.2 146.3L282.0 146.3L287.8 146.3L293.6 146.3L299.4 146.3L305.2 146.3L311.0 146.3L316.8 146.3L322.6 146.3L328.4 146.3L328.4 153.0L328.4 159.8L328.4 166.5L328.4 173.2L328.4 180.0L328.4 186.7L328.4 193.4L328.4 200.2L328.4 206.9L328.4 213.6L328.4 220.3L328.4 227.1L328.4 233.8L328.4 240.5L328.4 247.3L328.4 254.0L322.6 254.0L316.8 254.0L311.0 254.0L305.2 254.0L299.4 254.0L293.6 254.0L287.8 254.0L282.0 254.0L276.2 254.0L270.4 254.0L264.7 254.0L258.9 254.0L253.1 254.0L247.3 254.0L241.5 254.0L235.7 254.0L229.9 254.0L224.1 254.0L218.3 254.0L212.5 254.0L212.5 247.3L212.5 240.5L212.5 233.8L212.5 227.1L212.5 220.3L212.5 213.6L212.5 206.9L212.5 200.7L214.3 200.2L218.3 198.5L224.1 195.5L226.7 193.4L229.9 190.6L233.0 186.7L235.7 183.3L238.0 180.0L241.5 175.0L243.0 173.2L247.3 166.8L247.5 166.5L250.9 159.8L252.4 153.0Z" fill="#00b1ff"/>
<path d="M264.7 146.3L270.4 146.3L276.2 146.3L282.0 146.3L287.8 146.3L293.6 146.3L299.4 146.3L305.2 146.3L311.0 146.3L316.8 146.3L322.6 146.3L328.4 146.3L328.4 153.0L328.4 159.8L328.4 166.5L328.4 173.2L328.4 180.0L328.4 186.7L328.4 193.4L328.4 200.2L328.4 206.9L328.4 213.6L328.4 220.3L328.4 227.1L328.4 233.8L328.4 240.5L328.4 247.3L328.4 254.0L322.6 254.0L316.8 254.0L311.0 254.0L305.2 254.0L299.4 254.0L293.6 254.0L287.8 254.0L282.0 254.0L276.2 254.0L270.4 254.0L264.7 254.0L258.9 254.0L253.1 254.0L247.3 254.0L241.5 254.0L235.7 254.0L229.9 254.0L224.1 254.0L218.3 254.0L212.5 254.0L212.5 247.3L212.5 240.5L212.5 233.8L212.5 227.1L212.5 220.3L212.5 213.6L212.5 206.9L212.5 205.0L218.3 203.5L224.1 201.3L225.9 200.2L229.9 197.1L233.3 193.4L235.7 190.4L237.9 186.7L241.5 181.3L242.6 180.0L247.3 174.5L248.9 173.2L253.1 168.4L255.3 166.5L258.9 160.5L259.4 159.8L261.6 153.0L262.1 146.3Z" fill="#00c8ff"/>
<path d="M270.4 146.3L276.2 146.3L282.0 146.3L287.8 146.3L293.6 146.3L299.4 146.3L305.2 146.3L311.0 146.3L316.8 146.3L322.6 146.3L328.4 146.3L328.4 153.0L328.4 159.8L328.4 166.5L328.4 173.2L328.4 180.0L328.4 186.7L328.4 193.4L328.4 200.2L328.4 206.9L328.4 213.6L328.4 220.3L328.4 227.1L328.4 233.8L328.4 240.5L328.4 247.3L328.4 254.0L322.6 254.0L316.8 254.0L311.0 254.0L305.2 254.0L299.4 254.0L293.6 254.0L287.8 254.0L282.0 254.0L276.2 254.0L270.4 254.0L264.7 254.0L258.9 254.0L253.1 254.0L247.3 254.0L241.5 254.0L235.7 254.0L229.9 254.0L224.1 254.0L218.3 254.0L212.5 254.0L212.5 247.3L212.5 240.5L212.5 233.8L212.5 227.1L212.5 220.3L212.5 213.6L212.5 208.9L218.3 207.9L222.7 206.9L224.1 206.4L229.9 203.1L233.6 200.2L235.7 198.0L239.2 193.4L241.5 189.1L242.6 186.7L247.3 180.7L248.3 180.0L253.1 176.4L258.9 173.8L260.2 173.2L264.7 170.3L270.1 166.5L270.4 166.0L273.7 159.8L272.6 153.0L270.4 146.6L270.4 146.3Z" fill="#00deff"/>
<path d="M282.0 146.3L287.8 146.3L293.6 146.3L299.4 146.3L305.2 146.3L311.0 146.3L316.8 146.3L322.6 146.3L328.4 146.3L328.4 153.0L328.4 159.8L328.4 166.5L328.4 173.2L328.4 180.0L328.4 186.7L328.4 193.4L328.4 200.2L328.4 206.9L328.4 213.6L328.4 220.3L328.4 227.1L328.4 233.8L328.4 240.5L328.4 247.3L328.4 254.0L322.6 254.0L316.8 254.0L311.0 254.0L305.2 254.0L299.4 254.0L293.6 254.0L287.8 254.0L282.0 254.0L276.2 254.0L270.4 254.0L264.7 254.0L258.9 254.0L253.1 254.0L247.3 254.0L241.5 254.0L235.7 254.0L229.9 254.0L224.1 254.0L218.3 254.0L212.5 254.0L212.5 247.3L212.5 240.5L212.5 233.8L212.5 227.1L212.5 220.3L212.5 213.6L212.5 212.5L218.3 211.8L224.1 210.6L229.9 208.2L232.4 206.9L235.7 204.4L241.0 200.2L241.5 199.5L245.4 193.4L247.3 189.0L249.0 186.7L253.1 183.9L258.9 181.9L264.7 180.1L265.1 180.0L270.4 177.3L276.1 173.2L276.2 173.0L281.7 166.5L282.0 165.8L284.4 159.8L283.5 153.0L282.0 149.5L280.5 146.3Z" fill="#00f9ff"/>
<path d="M293.6 146.3L299.4 146.3L305.2 146.3L311.0 146.3L316.8 146.3L322.6 146.3L328.4 146.3L328.4 153.0L328.4 159.8L328.4 166.5L328.4 173.2L328.4 180.0L328.4 186.7L328.4 193.4L328.4 200.2L328.4 206.9L328.4 213.6L328.4 220.3L328.4 227.1L328.4 233.8L328.4 240.5L328.4 247.3L328.4 254.0L322.6 254.0L316.8 254.0L311.0 254.0L305.2 254.0L299.4 254.0L293.6 254.0L287.8 254.0L282.0 254.0L276.2 254.0L270.4 254.0L264.7 254.0L258.9 254.0L253.1 254.0L247.3 254.0L241.5 254.0L235.7 254.0L229.9 254.0L224.1 254.0L218.3 254.0L212.5 254.0L212.5 247.3L212.5 240.5L212.5 233.8L212.5 227.1L212.5 220.3L212.5 215.9L218.3 215.4L224.1 214.5L227.0 213.6L229.9 212.4L235.7 209.5L240.2 206.9L241.5 205.9L247.3 201.0L248.3 200.2L253.1 194.3L254.2 193.4L258.9 190.4L264.7 187.9L266.9 186.7L270.4 184.9L276.2 181.0L277.5 180.0L282.0 175.6L284.6 173.2L287.8 169.2L289.9 166.5L292.2 159.8L292.8 153.0L292.4 146.3Z" fill="#00ffe7"/>
<path d="M299.4 146.3L305.2 146.3L311.0 146.3L316.8 146.3L322.6 146.3L328.4 146.3L328.4 153.0L328.4 159.8L328.4 166.5L328.4 173.2L328.4 180.0L328.4 186.7L328.4 193.4L328.4 200.2L328.4 206.9L328.4 213.6L328.4 220.3L328.4 227.1L328.4 233.8L328.4 240.5L328.4 247.3L328.4 254.0L322.6 254.0L316.8 254.0L311.0 254.0L305.2 254.0L299.4 254.0L293.6 254.0L287.8 254.0L282.0 254.0L276.2 254.0L270.4 254.0L264.7 254.0L258.9 254.0L253.1 254.0L247.3 254.0L241.5 254.0L235.7 254.0L229.9 254.0L224.1 254.0L218.3 254.0L212.5 254.0L212.5 247.3L212.5 240.5L212.5 233.8L212.5 227.1L212.5 220.3L212.5 219.1L218.3 218.6L224.1 217.7L229.9 216.1L235.7 213.8L236.2 213.6L241.5 210.7L247.3 207.4L248.2 206.9L253.1 203.0L257.5 200.2L258.9 199.0L264.7 195.5L267.7 193.4L270.4 191.8L276.2 187.4L277.1 186.7L282.0 182.4L284.8 180.0L287.8 177.0L292.0 173.2L293.6 171.0L296.3 166.5L297.9 159.8L298.1 153.0L297.7 146.3Z" fill="#00ffc8"/>
<path d="M305.2 146.3L311.0 146.3L316.8 146.3L322.6 146.3L328.4 146.3L328.4 153.0L328.4 159.8L328.4 166.5L328.4 173.2L328.4 180.0L328.4 186.7L328.4 193.4L328.4 200.2L328.4 206.9L328.4 213.6L328.4 220.3L328.4 227.1L328.4 233.8L328.4 240.5L328.4 247.3L328.4 254.0L322.6 254.0L316.8 254.0L311.0 254.0L305.2 254.0L299.4 254.0L293.6 254.0L287.8 254.0L282.0 254.0L276.2 254.0L270.4 254.0L264.7 254.0L258.9 254.0L253.1 254.0L247.3 254.0L241.5 254.0L235.7 254.0L229.9 254.0L224.1 254.0L218.3 254.0L212.5 254.0L212.5 247.3L212.5 240.5L212.5 233.8L212.5 227.1L212.5 222.0L218.3 221.7L224.1 220.9L226.6 220.3L229.9 219.5L235.7 217.4L241.5 214.9L244.4 213.6L247.3 212.0L253.1 209.0L257.4 206.9L258.9 205.9L264.7 202.5L268.3 200.2L270.4 198.6L276.2 193.7L276.5 193.4L282.0 188.4L283.9 186.7L287.8 183.1L291.5 180.0L293.6 178.0L298.3 173.2L299.4 171.3L301.2 166.5L302.0 159.8L301.8 153.0L301.3 146.3Z" fill="#00ffaa"/>
<path d="M305.2 146.3L311.0 146.3L316.8 146.3L322.6 146.3L328.4 146.3L328.4 153.0L328.4 159.8L328.4 166.5L328.4 173.2L328.4 180.0L328.4 186.7L328.4 193.4L328.4 200.2L328.4 206.9L328.4 213.6L328.4 220.3L328.4 227.1L328.4 233.8L328.4 240.5L328.4 247.3L328.4 254.0L322.6 254.0L316.8 254.0L311.0 254.0L305.2 254.0L299.4 254.0L293.6 254.0L287.8 254.0L282.0 254.0L276.2 254.0L270.4 254.0L264.7 254.0L258.9 254.0L253.1 254.0L247.3 254.0L241.5 254.0L235.7 254.0L229.9 254.0L224.1 254.0L218.3 254.0L212.5 254.0L212.5 247.3L212.5 240.5L212.5 233.8L212.5 227.1L212.5 224.7L218.3 224.5L224.1 223.8L229.9 222.6L235.7 220.9L237.2 220.3L241.5 218.6L247.3 216.1L253.1 213.8L253.6 213.6L258.9 211.2L264.7 208.7L268.2 206.9L270.4 205.4L276.2 200.4L276.5 200.2L282.0 194.5L283.1 193.4L287.8 189.0L290.2 186.7L293.6 183.7L298.1 180.0L299.4 178.6L303.1 173.2L305.1 166.5L305.2 164.3L305.4 159.8L305.2 155.5L305.1 153.0L304.3 146.3Z" fill="#00ff8b"/>
<path d="M311.0 146.3L316.8 146.3L322.6 146.3L328.4 146.3L328.4 153.0L328.4 159.8L328.4 166.5L328.4 173.2L328.4 180.0L328.4 186.7L328.4 193.4L328.4 200.2L328.4 206.9L328.4 213.6L328.4 220.3L328.4 227.1L328.4 233.8L328.4 240.5L328.4 247.3L328.4 254.0L322.6 254.0L316.8 254.0L311.0 254.0L305.2 254.0L299.4 254.0L293.6 254.0L287.8 254.0L282.0 254.0L276.2 254.0L270.4 254.0L264.7 254.0L258.9 254.0L253.1 254.0L247.3 254.0L241.5 254.0L235.7 254.0L229.9 254.0L224.1 254.0L218.3 254.0L212.5 254.0L212.5 247.3L212.5 240.5L212.5 233.8L212.5 227.3L218.3 227.2L220.1 227.1L224.1 226.7L229.9 225.6L235.7 223.9L241.5 222.0L245.9 220.3L247.3 219.8L253.1 217.6L258.9 215.6L264.7 213.9L265.4 213.6L270.4 211.3L276.2 207.6L277.3 206.9L282.0 201.7L283.6 200.2L287.8 196.0L290.0 193.4L293.6 190.0L296.8 186.7L299.4 184.5L303.9 180.0L305.2 177.8L306.6 173.2L307.6 166.5L307.8 159.8L307.3 153.0L306.6 146.3Z" fill="#00ff6d"/>
<path d="M311.0 146.3L316.8 146.3L322.6 146.3L328.4 146.3L328.4 153.0L328.4 159.8L328.4 166.5L328.4 173.2L328.4 180.0L328.4 186.7L328.4 193.4L328.4 200.2L328.4 206.9L328.4 213.6L328.4 220.3L328.4 227.1L328.4 233.8L328.4 240.5L328.4 247.3L328.4 254.0L322.6 254.0L316.8 254.0L311.0 254.0L305.2 254.0L299.4 254.0L293.6 254.0L287.8 254.0L282.0 254.0L276.2 254.0L270.4 254.0L264.7 254.0L258.9 254.0L253.1 254.0L247.3 254.0L241.5 254.0L235.7 254.0L229.9 254.0L224.1 254.0L218.3 254.0L212.5 254.0L212.5 247.3L212.5 240.5L212.5 233.8L212.5 229.5L218.3 229.7L224.1 229.4L229.9 228.5L235.5 227.1L235.7 227.0L241.5 225.1L247.3 223.0L253.1 221.2L256.3 220.3L258.9 219.5L264.7 217.8L270.4 215.9L276.2 213.6L276.2 213.6L282.0 209.6L286.3 206.9L287.8 205.4L293.6 201.2L294.6 200.2L299.1 193.4L299.4 193.1L303.6 186.7L305.2 185.1L307.4 180.0L309.3 173.2L310.1 166.5L310.1 159.8L309.6 153.0L308.7 146.3Z" fill="#00ff56"/>
<path d="M311.0 146.3L316.8 146.3L322.6 146.3L328.4 146.3L328.4 153.0L328.4 159.8L328.4 166.5L328.4 173.2L328.4 180.0L328.4 186.7L328.4 193.4L328.4 200.2L328.4 206.9L328.4 213.6L328.4 220.3L328.4 227.1L328.4 233.8L328.4 240.5L328.4 247.3L328.4 254.0L322.6 254.0L316.8 254.0L311.0 254.0L305.2 254.0L299.4 254.0L293.6 254.0L287.8 254.0L282.0 254.0L276.2 254.0L270.4 254.0L264.7 254.0L258.9 254.0L253.1 254.0L247.3 254.0L241.5 254.0L235.7 254.0L229.9 254.0L224.1 254.0L218.3 254.0L212.5 254.0L212.5 247.3L212.5 240.5L212.5 233.8L212.5 231.8L218.3 232.1L224.1 232.1L229.9 231.3L235.7 229.8L241.5 228.1L244.6 227.1L247.3 226.1L253.1 224.4L258.9 222.9L264.7 221.5L269.0 220.3L270.4 219.9L276.2 217.5L282.0 215.0L284.8 213.6L287.8 211.5L293.6 208.2L295.1 206.9L299.4 202.1L300.5 200.2L304.1 193.4L305.2 191.9L307.4 186.7L310.2 180.0L311.0 177.1L311.6 173.2L312.1 166.5L312.0 159.8L311.6 153.0L311.0 148.0L310.8 146.3Z" fill="#00ff48"/>
<path d="M316.8 146.3L322.6 146.3L328.4 146.3L328.4 153.0L328.4 159.8L328.4 166.5L328.4 173.2L328.4 180.0L328.4 186.7L328.4 193.4L328.4 200.2L328.4 206.9L328.4 213.6L328.4 220.3L328.4 227.1L328.4 233.8L328.4 240.5L328.4 247.3L328.4 254.0L322.6 254.0L316.8 254.0L311.0 254.0L305.2 254.0L299.4 254.0L293.6 254.0L287.8 254.0L282.0 254.0L276.2 254.0L270.4 254.0L264.7 254.0L258.9 254.0L253.1 254.0L247.3 254.0L241.5 254.0L235.7 254.0L229.9 254.0L224.1 254.0L218.3 254.0L212.5 254.0L212.5 247.3L212.5 240.5L212.5 233.9L218.3 234.5L224.1 234.8L229.9 234.1L231.1 233.8L235.7 232.6L241.5 230.9L247.3 229.1L253.1 227.5L254.9 227.1L258.9 226.1L264.7 224.7L270.4 223.2L276.2 221.2L278.5 220.3L282.0 218.8L287.8 216.0L292.6 213.6L293.6 213.0L299.4 207.9L300.2 206.9L304.0 200.2L305.2 198.0L307.1 193.4L310.2 186.7L311.0 184.7L312.3 180.0L313.3 173.2L313.7 166.5L313.6 159.8L313.2 153.0L312.4 146.3Z" fill="#00ff3a"/>
<path d="M316.8 146.3L322.6 146.3L328.4 146.3L328.4 153.0L328.4 159.8L328.4 166.5L328.4 173.2L328.4 180.0L328.4 186.7L328.4 193.4L328.4 200.2L328.4 206.9L328.4 213.6L328.4 220.3L328.4 227.1L328.4 233.8L328.4 240.5L328.4 247.3L328.4 254.0L322.6 254.0L316.8 254.0L311.0 254.0L305.2 254.0L299.4 254.0L293.6 254.0L287.8 254.0L282.0 254.0L276.2 254.0L270.4 254.0L264.7 254.0L258.9 254.0L253.1 254.0L247.3 254.0L241.5 254.0L235.7 254.0L229.9 254.0L224.1 254.0L218.3 254.0L212.5 254.0L212.5 247.3L212.5 240.5L212.5 236.1L218.3 236.9L224.1 237.5L229.9 237.0L235.7 235.5L241.0 233.8L241.5 233.6L247.3 231.9L253.1 230.5L258.9 229.2L264.7 227.9L267.9 227.1L270.4 226.4L276.2 224.5L282.0 222.3L286.8 220.3L287.8 219.8L293.6 217.1L298.7 213.6L299.4 213.0L303.7 206.9L305.2 204.1L306.8 200.2L309.6 193.4L311.0 190.4L312.3 186.7L314.1 180.0L315.0 173.2L315.3 166.5L315.2 159.8L314.8 153.0L314.1 146.3Z" fill="#00ff2c"/>
<path d="M316.8 146.3L322.6 146.3L328.4 146.3L328.4 153.0L328.4 159.8L328.4 166.5L328.4 173.2L328.4 180.0L328.4 186.7L328.4 193.4L328.4 200.2L328.4 206.9L328.4 213.6L328.4 220.3L328.4 227.1L328.4 233.8L328.4 240.5L328.4 247.3L328.4 254.0L322.6 254.0L316.8 254.0L311.0 254.0L305.2 254.0L299.4 254.0L293.6 254.0L287.8 254.0L282.0 254.0L276.2 254.0L270.4 254.0L264.7 254.0L258.9 254.0L253.1 254.0L247.3 254.0L241.5 254.0L235.7 254.0L229.9 254.0L224.1 254.0L218.3 254.0L212.5 254.0L212.5 247.3L212.5 240.5L212.5 238.2L218.3 239.3L224.1 240.2L229.9 239.9L235.7 238.3L241.5 236.5L247.3 234.8L251.5 233.8L253.1 233.4L258.9 232.2L264.7 231.0L270.4 229.6L276.2 227.8L278.1 227.1L282.0 225.6L287.8 223.4L293.6 221.1L295.2 220.3L299.4 217.8L303.1 213.6L305.2 210.4L306.7 206.9L309.2 200.2L311.0 195.9L311.9 193.4L314.3 186.7L315.9 180.0L316.7 173.2L316.8 170.4L317.0 166.5L316.8 159.9L316.8 159.8L316.4 153.0L315.7 146.3Z" fill="#00ff1e"/>
<path d="M322.6 146.3L328.4 146.3L328.4 153.0L328.4 159.8L328.4 166.5L328.4 173.2L328.4 180.0L328.4 186.7L328.4 193.4L328.4 200.2L328.4 206.9L328.4 213.6L328.4 220.3L328.4 227.1L328.4 233.8L328.4 240.5L328.4 247.3L328.4 254.0L322.6 254.0L316.8 254.0L311.0 254.0L305.2 254.0L299.4 254.0L293.6 254.0L287.8 254.0L282.0 254.0L276.2 254.0L270.4 254.0L264.7 254.0L258.9 254.0L253.1 254.0L247.3 254.0L241.5 254.0L235.7 254.0L229.9 254.0L224.1 254.0L218.3 254.0L212.5 254.0L212.5 247.3L212.5 240.5L212.5 240.4L213.3 240.5L218.3 241.9L224.1 243.3L229.9 243.0L235.7 241.3L237.7 240.5L241.5 239.3L247.3 237.7L253.1 236.5L258.9 235.3L264.7 234.1L265.8 233.8L270.4 232.8L276.2 231.1L282.0 229.1L287.3 227.1L287.8 226.9L293.6 225.1L299.4 222.6L302.1 220.3L305.2 216.9L306.7 213.6L309.4 206.9L311.0 202.0L311.5 200.2L313.9 193.4L316.2 186.7L316.8 184.1L317.5 180.0L318.1 173.2L318.4 166.5L318.2 159.8L317.9 153.0L317.3 146.3Z" fill="#00ff10"/>
<path d="M322.6 146.3L328.4 146.3L328.4 153.0L328.4 159.8L328.4 166.5L328.4 173.2L328.4 180.0L328.4 186.7L328.4 193.4L328.4 200.2L328.4 206.9L328.4 213.6L328.4 220.3L328.4 227.1L328.4 233.8L328.4 240.5L328.4 247.3L328.4 254.0L322.6 254.0L316.8 254.0L311.0 254.0L305.2 254.0L299.4 254.0L293.6 254.0L287.8 254.0L282.0 254.0L276.2 254.0L270.4 254.0L264.7 254.0L258.9 254.0L253.1 254.0L247.3 254.0L241.5 254.0L235.7 254.0L229.9 254.0L224.1 254.0L218.3 254.0L212.5 254.0L212.5 247.3L212.5 243.3L218.3 244.9L224.1 246.4L229.9 246.1L235.7 244.5L241.5 242.5L247.3 240.7L248.0 240.5L253.1 239.7L258.9 238.6L264.7 237.5L270.4 236.3L276.2 234.7L278.8 233.8L282.0 232.8L287.8 231.0L293.6 229.5L299.4 227.4L299.9 227.1L305.2 223.3L306.9 220.3L309.8 213.6L311.0 210.1L311.8 206.9L313.7 200.2L316.0 193.4L316.8 190.9L317.9 186.7L319.0 180.0L319.5 173.2L319.8 166.5L319.6 159.8L319.3 153.0L318.7 146.3Z" fill="#00ff05"/>
<path d="M322.6 146.3L328.4 146.3L328.4 153.0L328.4 159.8L328.4 166.5L328.4 173.2L328.4 180.0L328.4 186.7L328.4 193.4L328.4 200.2L328.4 206.9L328.4 213.6L328.4 220.3L328.4 227.1L328.4 233.8L328.4 240.5L328.4 247.3L328.4 254.0L322.6 254.0L316.8 254.0L311.0 254.0L305.2 254.0L299.4 254.0L293.6 254.0L287.8 254.0L282.0 254.0L276.2 254.0L270.4 254.0L264.7 254.0L258.9 254.0L253.1 254.0L247.3 254.0L241.5 254.0L235.7 254.0L229.9 254.0L224.1 254.0L218.3 254.0L212.5 254.0L212.5 247.3L212.5 246.4L216.0 247.3L218.3 247.9L224.1 249.4L229.9 249.3L235.7 247.8L237.3 247.3L241.5 245.9L247.3 244.3L253.1 243.2L258.9 242.2L264.7 241.1L267.4 240.5L270.4 240.0L276.2 238.7L282.0 237.2L287.8 235.5L293.6 234.4L295.9 233.8L299.4 232.9L305.2 229.5L306.8 227.1L310.4 220.3L311.0 218.9L312.3 213.6L314.0 206.9L315.9 200.2L316.8 197.3L317.8 193.4L319.4 186.7L320.5 180.0L321.0 173.2L321.2 166.5L321.0 159.8L320.7 153.0L320.1 146.3Z" fill="#02ff00"/>
<path d="M322.6 146.3L328.4 146.3L328.4 153.0L328.4 159.8L328.4 166.5L328.4 173.2L328.4 180.0L328.4 186.7L328.4 193.4L328.4 200.2L328.4 206.9L328.4 213.6L328.4 220.3L328.4 227.1L328.4 233.8L328.4 240.5L328.4 247.3L328.4 254.0L322.6 254.0L316.8 254.0L311.0 254.0L305.2 254.0L299.4 254.0L293.6 254.0L287.8 254.0L282.0 254.0L276.2 254.0L270.4 254.0L264.7 254.0L258.9 254.0L253.1 254.0L247.3 254.0L241.5 254.0L235.7 254.0L229.9 254.0L224.1 254.0L218.3 254.0L212.5 254.0L212.5 250.3L218.3 251.5L224.1 252.4L229.9 252.4L235.7 251.4L241.5 249.5L247.3 247.9L251.0 247.3L253.1 246.9L258.9 246.1L264.7 245.2L270.4 244.2L276.2 243.2L282.0 242.0L287.8 240.8L289.5 240.5L293.6 239.8L299.4 238.3L305.2 235.2L306.5 233.8L310.9 227.1L311.0 226.8L312.8 220.3L314.5 213.6L316.2 206.9L316.8 204.6L317.7 200.2L319.4 193.4L321.0 186.7L322.0 180.0L322.4 173.2L322.6 166.5L322.5 159.8L322.1 153.0L321.6 146.3Z" fill="#09ff00"/>
<path d="M328.4 146.3L328.4 153.0L328.4 159.8L328.4 166.5L328.4 173.2L328.4 180.0L328.4 186.7L328.4 193.4L328.4 200.2L328.4 206.9L328.4 213.6L328.4 220.3L328.4 227.1L328.4 233.8L328.4 240.5L328.4 247.3L328.4 254.0L322.6 254.0L316.8 254.0L311.0 254.0L305.2 254.0L299.4 254.0L293.6 254.0L287.8 254.0L282.0 254.0L276.2 254.0L270.4 254.0L264.7 254.0L258.9 254.0L253.1 254.0L247.3 254.0L241.5 254.0L239.3 254.0L241.5 253.4L247.3 251.9L253.1 251.0L258.9 250.4L264.7 249.4L270.4 248.6L276.2 248.0L282.0 247.4L282.9 247.3L287.8 246.6L293.6 245.3L299.4 243.4L304.5 240.5L305.2 240.1L310.9 233.8L311.0 233.6L313.0 227.1L315.0 220.3L316.7 213.6L316.8 213.0L317.9 206.9L319.4 200.2L321.0 193.4L322.6 186.7L322.6 186.4L323.4 180.0L323.7 173.2L323.9 166.5L323.8 159.8L323.5 153.0L323.0 146.3Z" fill="#10ff00"/>
<path d="M328.4 146.3L328.4 153.0L328.4 159.8L328.4 166.5L328.4 173.2L328.4 180.0L328.4 186.7L328.4 193.4L328.4 200.2L328.4 206.9L328.4 213.6L328.4 220.3L328.4 227.1L328.4 233.8L328.4 240.5L328.4 247.3L328.4 254.0L322.6 254.0L316.8 254.0L311.0 254.0L305.2 254.0L299.4 254.0L293.6 254.0L287.8 254.0L282.0 254.0L276.2 254.0L270.4 254.0L264.7 254.0L264.2 254.0L264.7 253.9L270.4 253.3L276.2 253.1L282.0 253.1L287.8 252.5L293.6 250.8L299.4 248.1L300.8 247.3L305.2 244.5L309.2 240.5L311.0 238.5L313.1 233.8L315.1 227.1L316.8 221.5L317.0 220.3L318.2 213.6L319.4 206.9L321.0 200.2L322.6 193.6L322.7 193.4L324.0 186.7L324.8 180.0L325.1 173.2L325.3 166.5L325.2 159.8L324.9 153.0L324.4 146.3Z" fill="#17ff00"/>
<path d="M328.4 146.3L328.4 153.0L328.4 159.8L328.4 166.5L328.4 173.2L328.4 180.0L328.4 186.7L328.4 193.4L328.4 200.2L328.4 206.9L328.4 213.6L328.4 220.3L328.4 227.1L328.4 233.8L328.4 240.5L328.4 247.3L328.4 254.0L322.6 254.0L316.8 254.0L311.0 254.0L305.2 254.0L299.4 254.0L296.7 254.0L299.4 252.4L305.2 248.4L306.5 247.3L311.0 242.7L312.1 240.5L315.2 233.8L316.8 228.3L317.0 227.1L318.4 220.3L319.6 213.6L320.9 206.9L322.6 200.2L322.6 200.2L324.1 193.4L325.5 186.7L326.2 180.0L326.4 173.2L326.6 166.5L326.6 159.8L326.3 153.0L325.8 146.3Z" fill="#28ff00"/>
<path d="M328.4 146.3L328.4 153.0L328.4 159.8L328.4 166.5L328.4 173.2L328.4 180.0L328.4 186.7L328.4 193.4L328.4 200.2L328.4 206.9L328.4 213.6L328.4 220.3L328.4 227.1L328.4 233.8L328.4 240.5L328.4 247.3L328.4 254.0L322.6 254.0L316.8 254.0L311.0 254.0L305.2 254.0L302.1 254.0L305.2 251.6L310.0 247.3L311.0 246.3L313.9 240.5L316.8 234.7L317.1 233.8L318.3 227.1L319.8 220.3L321.1 213.6L322.4 206.9L322.6 206.0L323.9 200.2L325.5 193.4L326.9 186.7L327.6 180.0L327.8 173.2L328.0 166.5L328.0 159.8L327.7 153.0L327.2 146.3Z" fill="#4cff00"/>
<path d="M328.4 186.5L328.4 186.7L328.4 193.4L328.4 200.2L328.4 206.9L328.4 213.6L328.4 220.3L328.4 227.1L328.4 233.8L328.4 240.5L328.4 247.3L328.4 254.0L322.6 254.0L316.8 254.0L311.0 254.0L305.9 254.0L311.0 249.1L312.3 247.3L315.7 240.5L316.8 238.4L318.3 233.8L319.6 227.1L321.1 220.3L322.5 213.6L322.6 213.3L323.5 206.9L325.1 200.2L327.0 193.4L328.4 186.7Z" fill="#7fff00"/>
<path d="M328.4 193.4L328.4 193.4L328.4 200.2L328.4 206.9L328.4 213.6L328.4 220.3L328.4 227.1L328.4 233.8L328.4 240.5L328.4 247.3L328.4 254.0L322.6 254.0L316.8 254.0L311.0 254.0L308.6 254.0L311.0 251.7L314.0 247.3L316.8 241.9L317.3 240.5L319.4 233.8L320.9 227.1L322.5 220.3L322.6 219.7L323.6 213.6L324.5 206.9L326.4 200.2L328.4 193.4Z" fill="#aaff00"/>
<path d="M328.4 197.6L328.4 200.2L328.4 206.9L328.4 213.6L328.4 220.3L328.4 227.1L328.4 233.8L328.4 240.5L328.4 247.3L328.4 254.0L322.6 254.0L316.8 254.0L311.2 254.0L315.7 247.3L316.8 245.1L318.5 240.5L320.6 233.8L322.2 227.1L322.6 225.3L323.5 220.3L324.6 213.6L325.6 206.9L327.6 200.2Z" fill="#d3ff00"/>
<path d="M328.4 201.4L328.4 206.9L328.4 213.6L328.4 220.3L328.4 227.1L328.4 233.8L328.4 240.5L328.4 247.3L328.4 254.0L322.6 254.0L316.8 254.0L312.8 254.0L316.8 248.1L317.2 247.3L319.6 240.5L321.8 233.8L322.6 230.4L323.2 227.1L324.5 220.3L325.6 213.6L326.6 206.9Z" fill="#fdff00"/>
<path d="M328.4 204.7L328.4 206.9L328.4 213.6L328.4 220.3L328.4 227.1L328.4 233.8L328.4 240.5L328.4 247.3L328.4 254.0L322.6 254.0L316.8 254.0L314.4 254.0L316.8 250.4L318.4 247.3L320.8 240.5L322.6 234.9L322.9 233.8L324.2 227.1L325.5 220.3L326.6 213.6L327.7 206.9Z" fill="#ffe300"/>
<path d="M328.4 208.9L328.4 213.6L328.4 220.3L328.4 227.1L328.4 233.8L328.4 240.5L328.4 247.3L328.4 254.0L322.6 254.0L316.8 254.0L316.0 254.0L316.8 252.8L319.6 247.3L321.9 240.5L322.6 238.5L323.8 233.8L325.2 227.1L326.5 220.3L327.7 213.6Z" fill="#ffcb00"/>
<path d="M328.4 215.1L328.4 220.3L328.4 227.1L328.4 233.8L328.4 240.5L328.4 247.3L328.4 254.0L322.6 254.0L317.5 254.0L320.8 247.3L322.6 242.0L323.0 240.5L324.7 233.8L326.1 227.1L327.5 220.3Z" fill="#ffb700"/>
<path d="M328.4 220.5L328.4 227.1L328.4 233.8L328.4 240.5L328.4 247.3L328.4 254.0L322.6 254.0L318.9 254.0L322.0 247.3L322.6 245.4L323.9 240.5L325.7 233.8L327.1 227.1Z" fill="#ffa300"/>
<path d="M328.4 225.3L328.4 227.1L328.4 233.8L328.4 240.5L328.4 247.3L328.4 254.0L322.6 254.0L320.2 254.0L322.6 248.7L323.0 247.3L324.8 240.5L326.6 233.8L328.0 227.1Z" fill="#ff8f00"/>
<path d="M328.4 229.7L328.4 233.8L328.4 240.5L328.4 247.3L328.4 254.0L322.6 254.0L321.6 254.0L322.6 251.7L324.0 247.3L325.8 240.5L327.5 233.8Z" fill="#ff7b00"/>
<path d="M328.4 234.0L328.4 240.5L328.4 247.3L328.4 254.0L322.9 254.0L325.0 247.3L326.7 240.5Z" fill="#ff6700"/>
<path d="M328.4 237.5L328.4 240.5L328.4 247.3L328.4 254.0L323.8 254.0L326.0 247.3L327.6 240.5Z" fill="#ff5600"/>
<path d="M328.4 241.1L328.4 247.3L328.4 254.0L324.8 254.0L326.9 247.3Z" fill="#ff4600"/>
<path d="M328.4 245.2L328.4 247.3L328.4 254.0L325.8 254.0L327.9 247.3Z" fill="#ff3700"/>
<path d="M328.4 248.8L328.4 254.0L326.7 254.0Z" fill="#ff2700"/>
<path d="M328.4 251.8L328.4 254.0L327.7 254.0Z" fill="#ff1700"/>
<path d="M212.5 184.1L218.3 181.9L221.6 180.0L224.1 178.4L229.2 173.2L229.9 172.2L233.2 166.5L235.3 159.8L235.1 153.0L233.3 146.3M212.5 212.5L218.3 211.8L224.1 210.6L229.9 208.2L232.4 206.9L235.7 204.4L241.0 200.2L241.5 199.5L245.4 193.4L247.3 189.0L249.0 186.7L253.1 183.9L258.9 181.9L264.7 180.1L265.1 180.0L270.4 177.3L276.1 173.2L276.2 173.0L281.7 166.5L282.0 165.8L284.4 159.8L283.5 153.0L282.0 149.5L280.5 146.3M212.5 229.5L218.3 229.7L224.1 229.4L229.9 228.5L235.5 227.1L235.7 227.0L241.5 225.1L247.3 223.0L253.1 221.2L256.3 220.3L258.9 219.5L264.7 217.8L270.4 215.9L276.2 213.6L276.2 213.6L282.0 209.6L286.3 206.9L287.8 205.4L293.6 201.2L294.6 200.2L299.1 193.4L299.4 193.1L303.6 186.7L305.2 185.1L307.4 180.0L309.3 173.2L310.1 166.5L310.1 159.8L309.6 153.0L308.7 146.3M212.5 243.3L218.3 244.9L224.1 246.4L229.9 246.1L235.7 244.5L241.5 242.5L247.3 240.7L248.0 240.5L253.1 239.7L258.9 238.6L264.7 237.5L270.4 236.3L276.2 234.7L278.8 233.8L282.0 232.8L287.8 231.0L293.6 229.5L299.4 227.4L299.9 227.1L305.2 223.3L306.9 220.3L309.8 213.6L311.0 210.1L311.8 206.9L313.7 200.2L316.0 193.4L316.8 190.9L317.9 186.7L319.0 180.0L319.5 173.2L319.8 166.5L319.6 159.8L319.3 153.0L318.7 146.3M302.1 254.0L305.2 251.6L310.0 247.3L311.0 246.3L313.9 240.5L316.8 234.7L317.1 233.8L318.3 227.1L319.8 220.3L321.1 213.6L322.4 206.9L322.6 206.0L323.9 200.2L325.5 193.4L326.9 186.7L327.6 180.0L327.8 173.2L328.0 166.5L328.0 159.8L327.7 153.0L327.2 146.3M316.0 254.0L316.8 252.8L319.6 247.3L321.9 240.5L322.6 238.5L323.8 233.8L325.2 227.1L326.5 220.3L327.7 213.6L328.4 208.9M323.8 254.0L326.0 247.3L327.6 240.5L328.4 237.5" fill="none" stroke="#3a3a3a" stroke-opacity="0.75" stroke-width="0.6"/>
</g>
<rect x="212.50" y="146.30" width="115.90" height="107.70" fill="none" stroke="#000" stroke-width="1"/>
<path d="M212.50 254.00v3.3M224.09 254.00v1.8M235.68 254.00v3.3M247.27 254.00v1.8M258.86 254.00v3.3M270.45 254.00v1.8M282.04 254.00v3.3M293.63 254.00v1.8M305.22 254.00v3.3M316.81 254.00v1.8M328.40 254.00v3.3M212.50 254.00h-3.3M212.50 247.27h-1.8M212.50 240.54h-3.3M212.50 233.81h-1.8M212.50 227.08h-3.3M212.50 220.34h-1.8M212.50 213.61h-3.3M212.50 206.88h-1.8M212.50 200.15h-3.3M212.50 193.42h-1.8M212.50 186.69h-3.3M212.50 179.96h-1.8M212.50 173.23h-3.3M212.50 166.49h-1.8M212.50 159.76h-3.3M212.50 153.03h-1.8M212.50 146.30h-3.3" stroke="#000" stroke-width="0.8" fill="none"/>
<text x="212.50" y="267.00" class="tl" text-anchor="middle">50</text>
<text x="235.68" y="267.00" class="tl" text-anchor="middle">60</text>
<text x="258.86" y="267.00" class="tl" text-anchor="middle">70</text>
<text x="282.04" y="267.00" class="tl" text-anchor="middle">80</text>
<text x="305.22" y="267.00" class="tl" text-anchor="middle">90</text>
<text x="328.40" y="267.00" class="tl" text-anchor="middle">100</text>
<text x="206.40" y="256.60" class="tly" text-anchor="end">10</text>
<text x="206.40" y="243.14" class="tly" text-anchor="end">15</text>
<text x="206.40" y="229.68" class="tly" text-anchor="end">20</text>
<text x="206.40" y="216.21" class="tly" text-anchor="end">25</text>
<text x="206.40" y="202.75" class="tly" text-anchor="end">30</text>
<text x="206.40" y="189.29" class="tly" text-anchor="end">35</text>
<text x="206.40" y="175.83" class="tly" text-anchor="end">40</text>
<text x="206.40" y="162.36" class="tly" text-anchor="end">45</text>
<text x="206.40" y="148.90" class="tly" text-anchor="end">50</text>
<text transform="translate(193.50 200.15) rotate(-90)" class="at" text-anchor="middle">Quantile for dormancy</text>
<text x="322.20" y="250.90" class="pl" text-anchor="end">(e)</text>
<rect x="334.30" y="146.90" width="3.70" height="110.60" fill="url(#cbge)" stroke="#000" stroke-width="1"/>
<path d="M338.70 149.60h3.2" stroke="#444" stroke-width="0.8"/>
<text x="344.20" y="151.90" class="cl">−1213</text>
<path d="M338.70 162.88h3.2" stroke="#444" stroke-width="0.8"/>
<text x="344.20" y="165.18" class="cl">−1226</text>
<path d="M338.70 176.15h3.2" stroke="#444" stroke-width="0.8"/>
<text x="344.20" y="178.45" class="cl">−1239</text>
<path d="M338.70 189.43h3.2" stroke="#444" stroke-width="0.8"/>
<text x="344.20" y="191.73" class="cl">−1251</text>
<path d="M338.70 202.70h3.2" stroke="#444" stroke-width="0.8"/>
<text x="344.20" y="205.00" class="cl">−1264</text>
<path d="M338.70 215.98h3.2" stroke="#444" stroke-width="0.8"/>
<text x="344.20" y="218.28" class="cl">−1277</text>
<path d="M338.70 229.25h3.2" stroke="#444" stroke-width="0.8"/>
<text x="344.20" y="231.55" class="cl">−1290</text>
<path d="M338.70 242.53h3.2" stroke="#444" stroke-width="0.8"/>
<text x="344.20" y="244.83" class="cl">−1303</text>
<path d="M338.70 255.80h3.2" stroke="#444" stroke-width="0.8"/>
<text x="344.20" y="258.10" class="cl">−1316</text>
<text x="334.90" y="142.40" class="aic">AIC</text>
<clipPath id="cf"><rect x="394.60" y="146.30" width="115.90" height="107.70"/></clipPath>
<g clip-path="url(#cf)">
<rect x="394.60" y="146.30" width="115.90" height="107.70" fill="#0008ff"/>
<path d="M400.4 146.3L406.2 146.3L412.0 146.3L417.8 146.3L423.6 146.3L429.4 146.3L435.2 146.3L441.0 146.3L446.8 146.3L452.6 146.3L458.3 146.3L464.1 146.3L469.9 146.3L475.7 146.3L481.5 146.3L487.3 146.3L493.1 146.3L498.9 146.3L504.7 146.3L510.5 146.3L510.5 153.0L510.5 159.8L510.5 166.5L510.5 173.2L510.5 180.0L510.5 186.7L510.5 193.4L510.5 200.2L510.5 206.9L510.5 213.6L510.5 220.3L510.5 227.1L510.5 233.8L510.5 240.5L510.5 247.3L510.5 254.0L504.7 254.0L498.9 254.0L493.1 254.0L487.3 254.0L481.5 254.0L475.7 254.0L469.9 254.0L464.1 254.0L458.3 254.0L452.6 254.0L446.8 254.0L441.0 254.0L435.2 254.0L432.4 254.0L431.4 247.3L429.7 240.5L429.4 239.9L423.7 233.8L423.6 233.7L417.8 231.6L412.0 230.6L406.2 230.1L400.4 229.8L394.6 229.5L394.6 227.1L394.6 220.3L394.6 213.6L394.6 206.9L394.6 200.2L394.6 193.4L394.6 186.7L394.6 180.0L394.6 173.2L394.6 166.5L394.6 159.8L394.6 153.0L394.6 146.3Z" fill="#0018ff"/>
<path d="M400.4 146.3L406.2 146.3L412.0 146.3L417.8 146.3L423.6 146.3L429.4 146.3L435.2 146.3L441.0 146.3L446.8 146.3L452.6 146.3L458.3 146.3L464.1 146.3L469.9 146.3L475.7 146.3L481.5 146.3L487.3 146.3L493.1 146.3L498.9 146.3L504.7 146.3L510.5 146.3L510.5 153.0L510.5 159.8L510.5 166.5L510.5 173.2L510.5 180.0L510.5 186.7L510.5 193.4L510.5 200.2L510.5 206.9L510.5 213.6L510.5 220.3L510.5 227.1L510.5 233.8L510.5 240.5L510.5 247.3L510.5 254.0L504.7 254.0L498.9 254.0L493.1 254.0L487.3 254.0L481.5 254.0L475.7 254.0L469.9 254.0L464.1 254.0L458.3 254.0L452.6 254.0L446.8 254.0L441.0 254.0L438.1 254.0L437.7 247.3L436.7 240.5L435.2 236.3L433.9 233.8L429.4 229.5L425.1 227.1L423.6 226.5L417.8 225.1L412.0 224.5L406.2 224.1L400.4 223.8L394.6 223.4L394.6 220.3L394.6 213.6L394.6 206.9L394.6 200.2L394.6 193.4L394.6 186.7L394.6 180.0L394.6 173.2L394.6 166.5L394.6 159.8L394.6 153.0L394.6 146.3Z" fill="#0029ff"/>
<path d="M400.4 146.3L406.2 146.3L412.0 146.3L417.8 146.3L423.6 146.3L429.4 146.3L435.2 146.3L441.0 146.3L446.8 146.3L452.6 146.3L458.3 146.3L464.1 146.3L469.9 146.3L475.7 146.3L481.5 146.3L487.3 146.3L493.1 146.3L498.9 146.3L504.7 146.3L510.5 146.3L510.5 153.0L510.5 159.8L510.5 166.5L510.5 173.2L510.5 180.0L510.5 186.7L510.5 193.4L510.5 200.2L510.5 206.9L510.5 213.6L510.5 220.3L510.5 227.1L510.5 233.8L510.5 240.5L510.5 247.3L510.5 254.0L504.7 254.0L498.9 254.0L493.1 254.0L487.3 254.0L481.5 254.0L475.7 254.0L469.9 254.0L464.1 254.0L458.3 254.0L452.6 254.0L446.8 254.0L442.8 254.0L442.7 247.3L442.1 240.5L441.0 235.9L440.3 233.8L435.8 227.1L435.2 226.5L429.4 223.3L423.6 221.4L418.5 220.3L417.8 220.2L412.0 219.7L406.2 219.4L400.4 219.1L394.6 218.7L394.6 213.6L394.6 206.9L394.6 200.2L394.6 193.4L394.6 186.7L394.6 180.0L394.6 173.2L394.6 166.5L394.6 159.8L394.6 153.0L394.6 146.3Z" fill="#0039ff"/>
<path d="M400.4 146.3L406.2 146.3L412.0 146.3L417.8 146.3L423.6 146.3L429.4 146.3L435.2 146.3L441.0 146.3L446.8 146.3L452.6 146.3L458.3 146.3L464.1 146.3L469.9 146.3L475.7 146.3L481.5 146.3L487.3 146.3L493.1 146.3L498.9 146.3L504.7 146.3L510.5 146.3L510.5 153.0L510.5 159.8L510.5 166.5L510.5 173.2L510.5 180.0L510.5 186.7L510.5 193.4L510.5 200.2L510.5 206.9L510.5 213.6L510.5 220.3L510.5 227.1L510.5 233.8L510.5 240.5L510.5 247.3L510.5 254.0L504.7 254.0L498.9 254.0L493.1 254.0L487.3 254.0L481.5 254.0L475.7 254.0L469.9 254.0L464.1 254.0L458.3 254.0L452.6 254.0L447.2 254.0L447.3 247.3L446.8 241.4L446.7 240.5L445.0 233.8L442.0 227.1L441.0 225.7L435.2 220.8L434.3 220.3L429.4 218.6L423.6 217.3L417.8 216.4L412.0 215.9L406.2 215.6L400.4 215.3L394.6 214.8L394.6 213.6L394.6 206.9L394.6 200.2L394.6 193.4L394.6 186.7L394.6 180.0L394.6 173.2L394.6 166.5L394.6 159.8L394.6 153.0L394.6 146.3Z" fill="#0049ff"/>
<path d="M400.4 146.3L406.2 146.3L412.0 146.3L417.8 146.3L423.6 146.3L429.4 146.3L435.2 146.3L441.0 146.3L446.8 146.3L452.6 146.3L458.3 146.3L464.1 146.3L469.9 146.3L475.7 146.3L481.5 146.3L487.3 146.3L493.1 146.3L498.9 146.3L504.7 146.3L510.5 146.3L510.5 153.0L510.5 159.8L510.5 166.5L510.5 173.2L510.5 180.0L510.5 186.7L510.5 193.4L510.5 200.2L510.5 206.9L510.5 213.6L510.5 220.3L510.5 227.1L510.5 233.8L510.5 240.5L510.5 247.3L510.5 254.0L504.7 254.0L498.9 254.0L493.1 254.0L487.3 254.0L481.5 254.0L475.7 254.0L469.9 254.0L464.1 254.0L458.3 254.0L452.6 254.0L451.8 254.0L451.7 247.3L450.7 240.5L448.9 233.8L446.8 227.6L446.5 227.1L441.6 220.3L441.0 219.8L435.2 216.6L429.4 214.6L424.6 213.6L423.6 213.4L417.8 212.7L412.0 212.3L406.2 212.1L400.4 211.8L394.6 211.4L394.6 206.9L394.6 200.2L394.6 193.4L394.6 186.7L394.6 180.0L394.6 173.2L394.6 166.5L394.6 159.8L394.6 153.0L394.6 146.3Z" fill="#005aff"/>
<path d="M400.4 146.3L406.2 146.3L412.0 146.3L417.8 146.3L423.6 146.3L429.4 146.3L435.2 146.3L441.0 146.3L446.8 146.3L452.6 146.3L458.3 146.3L464.1 146.3L469.9 146.3L475.7 146.3L481.5 146.3L487.3 146.3L493.1 146.3L498.9 146.3L504.7 146.3L510.5 146.3L510.5 153.0L510.5 159.8L510.5 166.5L510.5 173.2L510.5 180.0L510.5 186.7L510.5 193.4L510.5 200.2L510.5 206.9L510.5 213.6L510.5 220.3L510.5 227.1L510.5 233.8L510.5 240.5L510.5 247.3L510.5 254.0L504.7 254.0L498.9 254.0L493.1 254.0L487.3 254.0L481.5 254.0L475.7 254.0L469.9 254.0L464.1 254.0L458.3 254.0L458.1 254.0L456.4 247.3L454.4 240.5L452.6 234.5L452.4 233.8L449.7 227.1L446.8 220.9L446.3 220.3L441.0 215.7L437.1 213.6L435.2 212.8L429.4 211.3L423.6 210.3L417.8 209.5L412.0 209.1L406.2 208.9L400.4 208.7L394.6 208.3L394.6 206.9L394.6 200.2L394.6 193.4L394.6 186.7L394.6 180.0L394.6 173.2L394.6 166.5L394.6 159.8L394.6 153.0L394.6 146.3Z" fill="#006dff"/>
<path d="M400.4 146.3L406.2 146.3L412.0 146.3L417.8 146.3L423.6 146.3L429.4 146.3L435.2 146.3L441.0 146.3L446.8 146.3L452.6 146.3L458.3 146.3L464.1 146.3L469.9 146.3L475.7 146.3L481.5 146.3L487.3 146.3L493.1 146.3L498.9 146.3L504.7 146.3L510.5 146.3L510.5 153.0L510.5 159.8L510.5 166.5L510.5 173.2L510.5 180.0L510.5 186.7L510.5 193.4L510.5 200.2L510.5 206.9L510.5 213.6L510.5 220.3L510.5 227.1L510.5 233.8L510.5 240.5L510.5 247.3L510.5 254.0L504.7 254.0L498.9 254.0L493.1 254.0L487.3 254.0L481.5 254.0L475.7 254.0L469.9 254.0L464.7 254.0L464.1 252.7L461.1 247.3L458.3 241.9L457.8 240.5L455.0 233.8L452.8 227.1L452.6 226.5L449.3 220.3L446.8 216.7L443.2 213.6L441.0 212.1L435.2 209.7L429.4 208.1L423.6 207.1L422.0 206.9L417.8 206.4L412.0 206.0L406.2 205.9L400.4 205.7L394.6 205.4L394.6 200.2L394.6 193.4L394.6 186.7L394.6 180.0L394.6 173.2L394.6 166.5L394.6 159.8L394.6 153.0L394.6 146.3Z" fill="#0084ff"/>
<path d="M400.4 146.3L406.2 146.3L412.0 146.3L417.8 146.3L423.6 146.3L429.4 146.3L435.2 146.3L441.0 146.3L446.8 146.3L452.6 146.3L458.3 146.3L464.1 146.3L469.9 146.3L475.7 146.3L481.5 146.3L487.3 146.3L493.1 146.3L498.9 146.3L504.7 146.3L510.5 146.3L510.5 153.0L510.5 159.8L510.5 166.5L510.5 173.2L510.5 180.0L510.5 186.7L510.5 193.4L510.5 200.2L510.5 206.9L510.5 213.6L510.5 220.3L510.5 227.1L510.5 233.8L510.5 240.5L510.5 247.3L510.5 254.0L504.7 254.0L498.9 254.0L493.1 254.0L487.3 254.0L481.5 254.0L475.7 254.0L469.9 254.0L468.1 254.0L465.3 247.3L464.1 245.3L461.3 240.5L458.3 235.5L457.6 233.8L455.0 227.1L452.6 221.3L452.1 220.3L447.4 213.6L446.8 212.9L441.0 208.9L436.0 206.9L435.2 206.6L429.4 205.1L423.6 204.2L417.8 203.5L412.0 203.2L406.2 203.0L400.4 202.9L394.6 202.8L394.6 200.2L394.6 193.4L394.6 186.7L394.6 180.0L394.6 173.2L394.6 166.5L394.6 159.8L394.6 153.0L394.6 146.3Z" fill="#009aff"/>
<path d="M400.4 146.3L406.2 146.3L412.0 146.3L417.8 146.3L423.6 146.3L429.4 146.3L435.2 146.3L441.0 146.3L446.8 146.3L452.6 146.3L458.3 146.3L464.1 146.3L469.9 146.3L475.7 146.3L481.5 146.3L487.3 146.3L493.1 146.3L498.9 146.3L504.7 146.3L510.5 146.3L510.5 153.0L510.5 159.8L510.5 166.5L510.5 173.2L510.5 180.0L510.5 186.7L510.5 193.4L510.5 200.2L510.5 206.9L510.5 213.6L510.5 220.3L510.5 227.1L510.5 233.8L510.5 240.5L510.5 247.3L510.5 254.0L504.7 254.0L498.9 254.0L493.1 254.0L487.3 254.0L481.5 254.0L475.7 254.0L470.8 254.0L469.9 250.2L468.7 247.3L464.7 240.5L464.1 239.9L460.2 233.8L458.3 230.0L457.1 227.1L454.4 220.3L452.6 217.0L450.2 213.6L446.8 209.5L442.8 206.9L441.0 205.8L435.2 203.7L429.4 202.3L423.6 201.3L417.8 200.6L412.0 200.3L407.0 200.2L406.2 200.1L400.4 200.1L394.6 200.1L394.6 193.4L394.6 186.7L394.6 180.0L394.6 173.2L394.6 166.5L394.6 159.8L394.6 153.0L394.6 146.3Z" fill="#00b1ff"/>
<path d="M400.4 146.3L406.2 146.3L412.0 146.3L417.8 146.3L423.6 146.3L429.4 146.3L435.2 146.3L441.0 146.3L446.8 146.3L452.6 146.3L458.3 146.3L464.1 146.3L469.9 146.3L475.7 146.3L481.5 146.3L487.3 146.3L493.1 146.3L498.9 146.3L504.7 146.3L510.5 146.3L510.5 153.0L510.5 159.8L510.5 166.5L510.5 173.2L510.5 180.0L510.5 186.7L510.5 193.4L510.5 200.2L510.5 206.9L510.5 213.6L510.5 220.3L510.5 227.1L510.5 233.8L510.5 240.5L510.5 247.3L510.5 254.0L504.7 254.0L498.9 254.0L493.1 254.0L487.3 254.0L481.5 254.0L475.7 254.0L472.6 254.0L471.2 247.3L469.9 243.6L468.1 240.5L464.1 235.8L462.8 233.8L459.4 227.1L458.3 224.7L456.6 220.3L453.0 213.6L452.6 213.0L447.4 206.9L446.8 206.2L441.0 203.0L435.2 200.9L432.2 200.2L429.4 199.4L423.6 198.3L417.8 197.7L412.0 197.5L406.2 197.2L400.4 197.2L394.6 197.4L394.6 193.4L394.6 186.7L394.6 180.0L394.6 173.2L394.6 166.5L394.6 159.8L394.6 153.0L394.6 146.3Z" fill="#00c8ff"/>
<path d="M400.4 146.3L406.2 146.3L412.0 146.3L417.8 146.3L423.6 146.3L429.4 146.3L435.2 146.3L441.0 146.3L446.8 146.3L452.6 146.3L458.3 146.3L464.1 146.3L469.9 146.3L475.7 146.3L481.5 146.3L487.3 146.3L493.1 146.3L498.9 146.3L504.7 146.3L510.5 146.3L510.5 153.0L510.5 159.8L510.5 166.5L510.5 173.2L510.5 180.0L510.5 186.7L510.5 193.4L510.5 200.2L510.5 206.9L510.5 213.6L510.5 220.3L510.5 227.1L510.5 233.8L510.5 240.5L510.5 247.3L510.5 254.0L504.7 254.0L498.9 254.0L493.1 254.0L487.3 254.0L481.5 254.0L475.7 254.0L474.3 254.0L473.2 247.3L471.0 240.5L469.9 238.6L465.8 233.8L464.1 231.5L461.8 227.1L458.8 220.3L458.3 219.5L455.3 213.6L452.6 209.4L450.4 206.9L446.8 202.9L441.1 200.2L441.0 200.1L435.2 197.9L429.4 196.4L423.6 195.3L417.8 194.8L412.0 194.6L406.2 194.3L400.4 194.4L394.6 194.7L394.6 193.4L394.6 186.7L394.6 180.0L394.6 173.2L394.6 166.5L394.6 159.8L394.6 153.0L394.6 146.3Z" fill="#00deff"/>
<path d="M400.4 146.3L406.2 146.3L412.0 146.3L417.8 146.3L423.6 146.3L429.4 146.3L435.2 146.3L441.0 146.3L446.8 146.3L452.6 146.3L458.3 146.3L464.1 146.3L469.9 146.3L475.7 146.3L481.5 146.3L487.3 146.3L493.1 146.3L498.9 146.3L504.7 146.3L510.5 146.3L510.5 153.0L510.5 159.8L510.5 166.5L510.5 173.2L510.5 180.0L510.5 186.7L510.5 193.4L510.5 200.2L510.5 206.9L510.5 213.6L510.5 220.3L510.5 227.1L510.5 233.8L510.5 240.5L510.5 247.3L510.5 254.0L504.7 254.0L498.9 254.0L493.1 254.0L487.3 254.0L481.5 254.0L476.0 254.0L475.7 250.7L475.3 247.3L473.3 240.5L469.9 234.6L469.2 233.8L464.2 227.1L464.1 227.0L461.4 220.3L458.3 215.1L457.6 213.6L453.2 206.9L452.6 205.8L447.4 200.2L446.8 199.6L441.0 197.0L435.2 194.9L429.4 193.5L429.2 193.4L423.6 192.2L417.8 191.6L412.0 191.4L406.2 191.1L400.4 191.2L394.6 191.7L394.6 186.7L394.6 180.0L394.6 173.2L394.6 166.5L394.6 159.8L394.6 153.0L394.6 146.3Z" fill="#00f9ff"/>
<path d="M400.4 146.3L406.2 146.3L412.0 146.3L417.8 146.3L423.6 146.3L429.4 146.3L435.2 146.3L441.0 146.3L446.8 146.3L452.6 146.3L458.3 146.3L464.1 146.3L469.9 146.3L475.7 146.3L481.5 146.3L487.3 146.3L493.1 146.3L498.9 146.3L504.7 146.3L510.5 146.3L510.5 153.0L510.5 159.8L510.5 166.5L510.5 173.2L510.5 180.0L510.5 186.7L510.5 193.4L510.5 200.2L510.5 206.9L510.5 213.6L510.5 220.3L510.5 227.1L510.5 233.8L510.5 240.5L510.5 247.3L510.5 254.0L504.7 254.0L498.9 254.0L493.1 254.0L487.3 254.0L481.5 254.0L477.1 254.0L476.7 247.3L475.7 240.8L475.6 240.5L471.9 233.8L469.9 230.2L467.6 227.1L464.1 220.8L464.0 220.3L460.1 213.6L458.3 211.4L455.3 206.9L452.6 202.1L450.7 200.2L446.8 196.7L441.0 194.0L439.5 193.4L435.2 191.5L429.4 189.9L423.6 188.7L417.8 188.2L412.0 188.0L406.2 187.8L400.4 188.0L394.6 188.4L394.6 186.7L394.6 180.0L394.6 173.2L394.6 166.5L394.6 159.8L394.6 153.0L394.6 146.3Z" fill="#00ffe7"/>
<path d="M400.4 146.3L406.2 146.3L412.0 146.3L417.8 146.3L423.6 146.3L429.4 146.3L435.2 146.3L441.0 146.3L446.8 146.3L452.6 146.3L458.3 146.3L464.1 146.3L469.9 146.3L475.7 146.3L481.5 146.3L487.3 146.3L493.1 146.3L498.9 146.3L504.7 146.3L510.5 146.3L510.5 153.0L510.5 159.8L510.5 166.5L510.5 173.2L510.5 180.0L510.5 186.7L510.5 193.4L510.5 200.2L510.5 206.9L510.5 213.6L510.5 220.3L510.5 227.1L510.5 233.8L510.5 240.5L510.5 247.3L510.5 254.0L504.7 254.0L498.9 254.0L493.1 254.0L487.3 254.0L481.5 254.0L478.1 254.0L477.9 247.3L477.0 240.5L475.7 236.1L474.5 233.8L470.8 227.1L469.9 225.1L467.3 220.3L464.1 216.2L462.6 213.6L458.3 208.1L457.5 206.9L453.4 200.2L452.6 198.8L446.8 193.8L446.0 193.4L441.0 190.6L435.2 187.9L430.9 186.7L429.4 186.2L423.6 185.0L417.8 184.5L412.0 184.2L406.2 184.1L400.4 184.3L394.6 184.8L394.6 180.0L394.6 173.2L394.6 166.5L394.6 159.8L394.6 153.0L394.6 146.3Z" fill="#00ffc8"/>
<path d="M400.4 146.3L406.2 146.3L412.0 146.3L417.8 146.3L423.6 146.3L429.4 146.3L435.2 146.3L441.0 146.3L446.8 146.3L452.6 146.3L458.3 146.3L464.1 146.3L469.9 146.3L475.7 146.3L481.5 146.3L487.3 146.3L493.1 146.3L498.9 146.3L504.7 146.3L510.5 146.3L510.5 153.0L510.5 159.8L510.5 166.5L510.5 173.2L510.5 180.0L510.5 186.7L510.5 193.4L510.5 200.2L510.5 206.9L510.5 213.6L510.5 220.3L510.5 227.1L510.5 233.8L510.5 240.5L510.5 247.3L510.5 254.0L504.7 254.0L498.9 254.0L493.1 254.0L487.3 254.0L481.5 254.0L479.2 254.0L479.1 247.3L478.3 240.5L476.5 233.8L475.7 231.3L473.5 227.1L470.5 220.3L469.9 219.2L465.8 213.6L464.1 212.3L459.8 206.9L458.3 205.0L455.3 200.2L452.6 195.8L449.8 193.4L446.8 190.8L441.0 187.1L440.1 186.7L435.2 184.0L429.4 182.1L423.6 181.1L417.8 180.5L412.0 180.3L406.2 180.2L400.4 180.4L394.6 180.8L394.6 180.0L394.6 173.2L394.6 166.5L394.6 159.8L394.6 153.0L394.6 146.3Z" fill="#00ffaa"/>
<path d="M400.4 146.3L406.2 146.3L412.0 146.3L417.8 146.3L423.6 146.3L429.4 146.3L435.2 146.3L441.0 146.3L446.8 146.3L452.6 146.3L458.3 146.3L464.1 146.3L469.9 146.3L475.7 146.3L481.5 146.3L487.3 146.3L493.1 146.3L498.9 146.3L504.7 146.3L510.5 146.3L510.5 153.0L510.5 159.8L510.5 166.5L510.5 173.2L510.5 180.0L510.5 186.7L510.5 193.4L510.5 200.2L510.5 206.9L510.5 213.6L510.5 220.3L510.5 227.1L510.5 233.8L510.5 240.5L510.5 247.3L510.5 254.0L504.7 254.0L498.9 254.0L493.1 254.0L487.3 254.0L481.5 254.0L480.3 254.0L480.4 247.3L479.5 240.5L478.0 233.8L476.0 227.1L475.7 226.0L473.4 220.3L469.9 213.9L469.7 213.6L464.1 209.3L462.2 206.9L458.3 201.9L457.3 200.2L453.0 193.4L452.6 192.8L446.8 187.8L445.1 186.7L441.0 182.9L435.5 180.0L435.2 179.8L429.4 177.9L423.6 176.8L417.8 176.2L412.0 175.9L406.2 175.9L400.4 176.1L394.6 176.3L394.6 173.2L394.6 166.5L394.6 159.8L394.6 153.0L394.6 146.3Z" fill="#00ff8b"/>
<path d="M400.4 146.3L406.2 146.3L412.0 146.3L417.8 146.3L423.6 146.3L429.4 146.3L435.2 146.3L441.0 146.3L446.8 146.3L452.6 146.3L458.3 146.3L464.1 146.3L469.9 146.3L475.7 146.3L481.5 146.3L487.3 146.3L493.1 146.3L498.9 146.3L504.7 146.3L510.5 146.3L510.5 153.0L510.5 159.8L510.5 166.5L510.5 173.2L510.5 180.0L510.5 186.7L510.5 193.4L510.5 200.2L510.5 206.9L510.5 213.6L510.5 220.3L510.5 227.1L510.5 233.8L510.5 240.5L510.5 247.3L510.5 254.0L504.7 254.0L498.9 254.0L493.1 254.0L487.3 254.0L481.5 254.0L481.4 254.0L481.5 249.8L481.6 247.3L481.5 246.6L480.8 240.5L479.5 233.8L477.7 227.1L476.1 220.3L475.7 219.0L473.2 213.6L469.9 210.2L465.2 206.9L464.1 206.2L459.5 200.2L458.3 198.6L455.1 193.4L452.6 189.9L448.9 186.7L446.8 183.8L442.6 180.0L441.0 178.4L435.2 175.2L429.4 173.4L428.2 173.2L423.6 172.3L417.8 171.6L412.0 171.4L406.2 171.4L400.4 171.5L394.6 171.6L394.6 166.5L394.6 159.8L394.6 153.0L394.6 146.3Z" fill="#00ff6d"/>
<path d="M400.4 146.3L406.2 146.3L412.0 146.3L417.8 146.3L423.6 146.3L429.4 146.3L435.2 146.3L441.0 146.3L446.8 146.3L452.6 146.3L458.3 146.3L464.1 146.3L469.9 146.3L475.7 146.3L481.5 146.3L487.3 146.3L493.1 146.3L498.9 146.3L504.7 146.3L510.5 146.3L510.5 153.0L510.5 159.8L510.5 166.5L510.5 173.2L510.5 180.0L510.5 186.7L510.5 193.4L510.5 200.2L510.5 206.9L510.5 213.6L510.5 220.3L510.5 227.1L510.5 233.8L510.5 240.5L510.5 247.3L510.5 254.0L504.7 254.0L498.9 254.0L493.1 254.0L487.3 254.0L482.7 254.0L482.8 247.3L482.1 240.5L481.5 236.9L481.0 233.8L479.4 227.1L477.8 220.3L476.1 213.6L475.7 212.8L470.2 206.9L469.9 206.5L464.1 202.7L462.2 200.2L458.3 195.1L457.3 193.4L452.6 186.9L452.3 186.7L447.3 180.0L446.8 179.0L441.0 173.5L440.4 173.2L435.2 170.4L429.4 168.6L423.6 167.5L417.8 166.9L412.0 166.6L406.2 166.7L400.4 166.7L394.6 166.7L394.6 166.5L394.6 159.8L394.6 153.0L394.6 146.3Z" fill="#00ff56"/>
<path d="M400.4 146.3L406.2 146.3L412.0 146.3L417.8 146.3L423.6 146.3L429.4 146.3L435.2 146.3L441.0 146.3L446.8 146.3L452.6 146.3L458.3 146.3L464.1 146.3L469.9 146.3L475.7 146.3L481.5 146.3L487.3 146.3L493.1 146.3L498.9 146.3L504.7 146.3L510.5 146.3L510.5 153.0L510.5 159.8L510.5 166.5L510.5 173.2L510.5 180.0L510.5 186.7L510.5 193.4L510.5 200.2L510.5 206.9L510.5 213.6L510.5 220.3L510.5 227.1L510.5 233.8L510.5 240.5L510.5 247.3L510.5 254.0L504.7 254.0L498.9 254.0L493.1 254.0L487.3 254.0L484.0 254.0L484.0 247.3L483.3 240.5L482.3 233.8L481.5 228.9L481.1 227.1L479.6 220.3L477.8 213.6L475.7 209.3L473.5 206.9L469.9 203.1L465.5 200.2L464.1 199.3L459.6 193.4L458.3 191.9L454.6 186.7L452.6 182.8L450.5 180.0L446.8 173.8L446.1 173.2L441.0 168.6L437.2 166.5L435.2 165.3L429.4 163.5L423.6 162.5L417.8 162.1L412.0 161.9L406.2 161.9L400.4 161.9L394.6 161.7L394.6 159.8L394.6 153.0L394.6 146.3Z" fill="#00ff48"/>
<path d="M400.4 146.3L406.2 146.3L412.0 146.3L417.8 146.3L423.6 146.3L429.4 146.3L435.2 146.3L441.0 146.3L446.8 146.3L452.6 146.3L458.3 146.3L464.1 146.3L469.9 146.3L475.7 146.3L481.5 146.3L487.3 146.3L493.1 146.3L498.9 146.3L504.7 146.3L510.5 146.3L510.5 153.0L510.5 159.8L510.5 166.5L510.5 173.2L510.5 180.0L510.5 186.7L510.5 193.4L510.5 200.2L510.5 206.9L510.5 213.6L510.5 220.3L510.5 227.1L510.5 233.8L510.5 240.5L510.5 247.3L510.5 254.0L504.7 254.0L498.9 254.0L493.1 254.0L487.3 254.0L485.3 254.0L485.3 247.3L484.6 240.5L483.6 233.8L482.6 227.1L481.5 221.0L481.4 220.3L479.5 213.6L476.2 206.9L475.7 205.7L470.6 200.2L469.9 199.7L464.1 196.1L462.1 193.4L458.3 188.8L456.8 186.7L453.3 180.0L452.6 178.3L449.5 173.2L446.8 169.0L444.0 166.5L441.0 163.4L435.2 160.0L434.3 159.8L429.4 158.3L423.6 157.5L417.8 157.3L412.0 157.2L406.2 157.1L400.4 157.0L394.6 156.8L394.6 153.0L394.6 146.3Z" fill="#00ff3a"/>
<path d="M400.4 146.3L406.2 146.3L412.0 146.3L417.8 146.3L423.6 146.3L429.4 146.3L435.2 146.3L441.0 146.3L446.8 146.3L452.6 146.3L458.3 146.3L464.1 146.3L469.9 146.3L475.7 146.3L481.5 146.3L487.3 146.3L493.1 146.3L498.9 146.3L504.7 146.3L510.5 146.3L510.5 153.0L510.5 159.8L510.5 166.5L510.5 173.2L510.5 180.0L510.5 186.7L510.5 193.4L510.5 200.2L510.5 206.9L510.5 213.6L510.5 220.3L510.5 227.1L510.5 233.8L510.5 240.5L510.5 247.3L510.5 254.0L504.7 254.0L498.9 254.0L493.1 254.0L487.3 254.0L486.6 254.0L486.5 247.3L485.8 240.5L485.0 233.8L483.9 227.1L482.8 220.3L481.5 214.8L481.2 213.6L477.8 206.9L475.7 201.6L474.3 200.2L469.9 196.8L464.8 193.4L464.1 193.0L459.0 186.7L458.3 185.3L455.7 180.0L452.6 173.2L452.6 173.2L448.3 166.5L446.8 164.0L442.5 159.8L441.0 158.1L435.2 154.5L429.6 153.0L429.4 153.0L423.6 152.6L417.8 152.6L412.0 152.5L406.2 152.4L400.4 152.1L394.6 151.8L394.6 146.3Z" fill="#00ff2c"/>
<path d="M400.4 146.3L406.2 146.3L412.0 146.3L417.8 146.3L423.6 146.3L429.4 146.3L435.2 146.3L441.0 146.3L446.8 146.3L452.6 146.3L458.3 146.3L464.1 146.3L469.9 146.3L475.7 146.3L481.5 146.3L487.3 146.3L493.1 146.3L498.9 146.3L504.7 146.3L510.5 146.3L510.5 153.0L510.5 159.8L510.5 166.5L510.5 173.2L510.5 180.0L510.5 186.7L510.5 193.4L510.5 200.2L510.5 206.9L510.5 213.6L510.5 220.3L510.5 227.1L510.5 233.8L510.5 240.5L510.5 247.3L510.5 254.0L504.7 254.0L498.9 254.0L493.1 254.0L488.0 254.0L487.7 247.3L487.3 243.4L487.0 240.5L486.3 233.8L485.3 227.1L484.2 220.3L482.7 213.6L481.5 211.1L479.4 206.9L476.6 200.2L475.7 198.4L469.9 193.9L469.2 193.4L464.1 190.1L461.4 186.7L458.3 180.7L458.0 180.0L455.0 173.2L452.6 167.9L451.7 166.5L447.4 159.8L446.8 158.7L441.5 153.0L441.0 152.4L435.2 148.9L429.4 147.7L423.6 147.6L417.8 147.9L412.0 147.9L406.2 147.6L400.4 147.3L394.6 146.8L394.6 146.3Z" fill="#00ff1e"/>
<path d="M441.0 146.3L446.8 146.3L452.6 146.3L458.3 146.3L464.1 146.3L469.9 146.3L475.7 146.3L481.5 146.3L487.3 146.3L493.1 146.3L498.9 146.3L504.7 146.3L510.5 146.3L510.5 153.0L510.5 159.8L510.5 166.5L510.5 173.2L510.5 180.0L510.5 186.7L510.5 193.4L510.5 200.2L510.5 206.9L510.5 213.6L510.5 220.3L510.5 227.1L510.5 233.8L510.5 240.5L510.5 247.3L510.5 254.0L504.7 254.0L498.9 254.0L493.1 254.0L489.4 254.0L489.1 247.3L488.4 240.5L487.6 233.8L487.3 232.0L486.6 227.1L485.7 220.3L484.1 213.6L481.5 208.0L481.0 206.9L478.0 200.2L475.7 195.7L472.9 193.4L469.9 191.1L464.1 187.3L463.7 186.7L460.5 180.0L458.3 175.1L457.5 173.2L454.5 166.5L452.6 162.5L450.8 159.8L446.8 153.1L446.7 153.0L441.0 146.3L440.9 146.3Z" fill="#00ff10"/>
<path d="M446.8 146.3L452.6 146.3L458.3 146.3L464.1 146.3L469.9 146.3L475.7 146.3L481.5 146.3L487.3 146.3L493.1 146.3L498.9 146.3L504.7 146.3L510.5 146.3L510.5 153.0L510.5 159.8L510.5 166.5L510.5 173.2L510.5 180.0L510.5 186.7L510.5 193.4L510.5 200.2L510.5 206.9L510.5 213.6L510.5 220.3L510.5 227.1L510.5 233.8L510.5 240.5L510.5 247.3L510.5 254.0L504.7 254.0L498.9 254.0L493.1 254.0L490.9 254.0L490.5 247.3L489.8 240.5L489.0 233.8L488.1 227.1L487.3 222.1L487.1 220.3L485.5 213.6L482.4 206.9L481.5 204.9L479.4 200.2L476.0 193.4L475.7 193.0L469.9 188.2L467.6 186.7L464.1 182.2L463.1 180.0L460.2 173.2L458.3 169.3L457.1 166.5L453.8 159.8L452.6 157.0L450.1 153.0L446.8 146.7L446.4 146.3Z" fill="#00ff05"/>
<path d="M452.6 146.3L458.3 146.3L464.1 146.3L469.9 146.3L475.7 146.3L481.5 146.3L487.3 146.3L493.1 146.3L498.9 146.3L504.7 146.3L510.5 146.3L510.5 153.0L510.5 159.8L510.5 166.5L510.5 173.2L510.5 180.0L510.5 186.7L510.5 193.4L510.5 200.2L510.5 206.9L510.5 213.6L510.5 220.3L510.5 227.1L510.5 233.8L510.5 240.5L510.5 247.3L510.5 254.0L504.7 254.0L498.9 254.0L493.1 254.0L492.3 254.0L491.9 247.3L491.2 240.5L490.5 233.8L489.6 227.1L488.6 220.3L487.3 215.5L486.9 213.6L483.9 206.9L481.5 201.9L480.7 200.2L477.5 193.4L475.7 190.5L471.3 186.7L469.9 184.7L466.2 180.0L464.1 176.0L463.0 173.2L459.7 166.5L458.3 164.0L456.2 159.8L453.2 153.0L452.6 151.4L449.7 146.3Z" fill="#02ff00"/>
<path d="M458.3 146.3L464.1 146.3L469.9 146.3L475.7 146.3L481.5 146.3L487.3 146.3L493.1 146.3L498.9 146.3L504.7 146.3L510.5 146.3L510.5 153.0L510.5 159.8L510.5 166.5L510.5 173.2L510.5 180.0L510.5 186.7L510.5 193.4L510.5 200.2L510.5 206.9L510.5 213.6L510.5 220.3L510.5 227.1L510.5 233.8L510.5 240.5L510.5 247.3L510.5 254.0L504.7 254.0L498.9 254.0L493.8 254.0L493.2 247.3L493.1 246.2L492.6 240.5L491.9 233.8L491.1 227.1L490.1 220.3L488.4 213.6L487.3 211.4L485.3 206.9L482.1 200.2L481.5 198.8L479.0 193.4L475.7 188.0L474.1 186.7L469.9 180.3L469.7 180.0L466.0 173.2L464.1 170.3L462.3 166.5L458.6 159.8L458.3 159.2L455.6 153.0L452.8 146.3Z" fill="#09ff00"/>
<path d="M458.3 146.3L464.1 146.3L469.9 146.3L475.7 146.3L481.5 146.3L487.3 146.3L493.1 146.3L498.9 146.3L504.7 146.3L510.5 146.3L510.5 153.0L510.5 159.8L510.5 166.5L510.5 173.2L510.5 180.0L510.5 186.7L510.5 193.4L510.5 200.2L510.5 206.9L510.5 213.6L510.5 220.3L510.5 227.1L510.5 233.8L510.5 240.5L510.5 247.3L510.5 254.0L504.7 254.0L498.9 254.0L495.3 254.0L494.7 247.3L494.0 240.5L493.3 233.8L493.1 231.8L492.6 227.1L491.7 220.3L490.0 213.6L487.3 208.2L486.7 206.9L483.5 200.2L481.5 195.7L480.4 193.4L476.5 186.7L475.7 184.7L472.6 180.0L469.9 174.2L469.4 173.2L465.1 166.5L464.1 165.4L460.9 159.8L458.3 154.0L457.9 153.0L455.2 146.3Z" fill="#10ff00"/>
<path d="M458.3 146.3L464.1 146.3L469.9 146.3L475.7 146.3L481.5 146.3L487.3 146.3L493.1 146.3L498.9 146.3L504.7 146.3L510.5 146.3L510.5 153.0L510.5 159.8L510.5 166.5L510.5 173.2L510.5 180.0L510.5 186.7L510.5 193.4L510.5 200.2L510.5 206.9L510.5 213.6L510.5 220.3L510.5 227.1L510.5 233.8L510.5 240.5L510.5 247.3L510.5 254.0L504.7 254.0L498.9 254.0L496.8 254.0L496.2 247.3L495.6 240.5L494.9 233.8L494.1 227.1L493.2 220.3L493.1 219.9L491.7 213.6L488.4 206.9L487.3 205.1L485.0 200.2L481.9 193.4L481.5 192.6L478.2 186.7L475.7 180.3L475.5 180.0L472.5 173.2L469.9 168.9L468.4 166.5L464.1 161.6L463.1 159.8L460.2 153.0L458.3 148.4L457.5 146.3Z" fill="#17ff00"/>
<path d="M464.1 146.3L469.9 146.3L475.7 146.3L481.5 146.3L487.3 146.3L493.1 146.3L498.9 146.3L504.7 146.3L510.5 146.3L510.5 153.0L510.5 159.8L510.5 166.5L510.5 173.2L510.5 180.0L510.5 186.7L510.5 193.4L510.5 200.2L510.5 206.9L510.5 213.6L510.5 220.3L510.5 227.1L510.5 233.8L510.5 240.5L510.5 247.3L510.5 254.0L504.7 254.0L498.9 254.0L498.4 254.0L497.7 247.3L497.1 240.5L496.5 233.8L495.7 227.1L494.9 220.3L493.3 213.6L493.1 213.1L490.2 206.9L487.3 202.2L486.4 200.2L483.5 193.4L481.5 189.6L479.9 186.7L477.5 180.0L475.7 173.4L475.7 173.2L471.6 166.5L469.9 164.4L465.9 159.8L464.1 157.0L462.4 153.0L459.8 146.3Z" fill="#28ff00"/>
<path d="M464.1 146.3L469.9 146.3L475.7 146.3L481.5 146.3L487.3 146.3L493.1 146.3L498.9 146.3L504.7 146.3L510.5 146.3L510.5 153.0L510.5 159.8L510.5 166.5L510.5 173.2L510.5 180.0L510.5 186.7L510.5 193.4L510.5 200.2L510.5 206.9L510.5 213.6L510.5 220.3L510.5 227.1L510.5 233.8L510.5 240.5L510.5 247.3L510.5 254.0L504.7 254.0L499.8 254.0L499.2 247.3L498.9 243.6L498.7 240.5L498.1 233.8L497.3 227.1L496.5 220.3L495.0 213.6L493.1 209.2L492.1 206.9L487.9 200.2L487.3 199.0L485.0 193.4L481.6 186.7L481.5 186.4L479.5 180.0L477.7 173.2L475.7 168.2L474.7 166.5L469.9 160.5L469.3 159.8L464.9 153.0L464.1 151.6L462.1 146.3Z" fill="#4cff00"/>
<path d="M469.9 146.3L475.7 146.3L481.5 146.3L487.3 146.3L493.1 146.3L498.9 146.3L504.7 146.3L510.5 146.3L510.5 153.0L510.5 159.8L510.5 166.5L510.5 173.2L510.5 180.0L510.5 186.7L510.5 193.4L510.5 200.2L510.5 206.9L510.5 213.6L510.5 220.3L510.5 227.1L510.5 233.8L510.5 240.5L510.5 247.3L510.5 254.0L504.7 254.0L501.2 254.0L500.7 247.3L500.2 240.5L499.6 233.8L498.9 227.1L498.9 226.8L498.1 220.3L496.7 213.6L493.9 206.9L493.1 205.5L489.9 200.2L487.3 195.3L486.5 193.4L483.3 186.7L481.5 180.2L481.5 180.0L479.7 173.2L477.1 166.5L475.7 163.9L472.4 159.8L469.9 156.1L467.8 153.0L464.5 146.3Z" fill="#7fff00"/>
<path d="M469.9 146.3L475.7 146.3L481.5 146.3L487.3 146.3L493.1 146.3L498.9 146.3L504.7 146.3L510.5 146.3L510.5 153.0L510.5 159.8L510.5 166.5L510.5 173.2L510.5 180.0L510.5 186.7L510.5 193.4L510.5 200.2L510.5 206.9L510.5 213.6L510.5 220.3L510.5 227.1L510.5 233.8L510.5 240.5L510.5 247.3L510.5 254.0L504.7 254.0L502.7 254.0L502.2 247.3L501.8 240.5L501.2 233.8L500.6 227.1L499.8 220.3L498.9 215.9L498.5 213.6L495.8 206.9L493.1 202.3L491.8 200.2L488.2 193.4L487.3 191.7L485.0 186.7L483.1 180.0L481.6 173.2L481.5 172.8L479.1 166.5L475.7 160.0L475.5 159.8L470.9 153.0L469.9 151.4L467.3 146.3Z" fill="#aaff00"/>
<path d="M475.7 146.3L481.5 146.3L487.3 146.3L493.1 146.3L498.9 146.3L504.7 146.3L510.5 146.3L510.5 153.0L510.5 159.8L510.5 166.5L510.5 173.2L510.5 180.0L510.5 186.7L510.5 193.4L510.5 200.2L510.5 206.9L510.5 213.6L510.5 220.3L510.5 227.1L510.5 233.8L510.5 240.5L510.5 247.3L510.5 254.0L504.7 254.0L504.1 254.0L503.7 247.3L503.3 240.5L502.9 233.8L502.2 227.1L501.4 220.3L500.1 213.6L498.9 209.9L497.7 206.9L493.8 200.2L493.1 199.0L490.1 193.4L487.3 188.0L486.7 186.7L484.7 180.0L483.3 173.2L481.5 167.6L481.1 166.5L477.8 159.8L475.7 155.5L474.0 153.0L470.1 146.3Z" fill="#d3ff00"/>
<path d="M475.7 146.3L481.5 146.3L487.3 146.3L493.1 146.3L498.9 146.3L504.7 146.3L510.5 146.3L510.5 153.0L510.5 159.8L510.5 166.5L510.5 173.2L510.5 180.0L510.5 186.7L510.5 193.4L510.5 200.2L510.5 206.9L510.5 213.6L510.5 220.3L510.5 227.1L510.5 233.8L510.5 240.5L510.5 247.3L510.5 254.0L505.5 254.0L505.2 247.3L504.9 240.5L504.7 237.8L504.5 233.8L503.9 227.1L503.1 220.3L501.8 213.6L499.6 206.9L498.9 205.5L495.9 200.2L493.1 195.5L492.0 193.4L488.5 186.7L487.3 183.3L486.3 180.0L484.9 173.2L483.0 166.5L481.5 162.9L480.0 159.8L476.9 153.0L475.7 150.4L473.4 146.3Z" fill="#fdff00"/>
<path d="M481.5 146.3L487.3 146.3L493.1 146.3L498.9 146.3L504.7 146.3L510.5 146.3L510.5 153.0L510.5 159.8L510.5 166.5L510.5 173.2L510.5 180.0L510.5 186.7L510.5 193.4L510.5 200.2L510.5 206.9L510.5 213.6L510.5 220.3L510.5 227.1L510.5 233.8L510.5 240.5L510.5 247.3L510.5 254.0L506.9 254.0L506.7 247.3L506.4 240.5L506.1 233.8L505.5 227.1L504.8 220.3L504.7 220.1L503.4 213.6L501.3 206.9L498.9 201.7L498.0 200.2L493.9 193.4L493.1 192.1L490.3 186.7L488.1 180.0L487.3 177.0L486.5 173.2L484.8 166.5L482.2 159.8L481.5 157.7L479.6 153.0L476.7 146.3Z" fill="#ffe300"/>
<path d="M481.5 146.3L487.3 146.3L493.1 146.3L498.9 146.3L504.7 146.3L510.5 146.3L510.5 153.0L510.5 159.8L510.5 166.5L510.5 173.2L510.5 180.0L510.5 186.7L510.5 193.4L510.5 200.2L510.5 206.9L510.5 213.6L510.5 220.3L510.5 227.1L510.5 233.8L510.5 240.5L510.5 247.3L510.5 254.0L508.3 254.0L508.2 247.3L508.0 240.5L507.7 233.8L507.2 227.1L506.3 220.3L505.1 213.6L504.7 212.3L503.0 206.9L500.0 200.2L498.9 198.0L496.1 193.4L493.1 188.5L492.2 186.7L490.0 180.0L488.3 173.2L487.3 169.6L486.5 166.5L484.4 159.8L482.2 153.0L481.5 150.6L479.9 146.3Z" fill="#ffcb00"/>
<path d="M487.3 146.3L493.1 146.3L498.9 146.3L504.7 146.3L510.5 146.3L510.5 153.0L510.5 159.8L510.5 166.5L510.5 173.2L510.5 180.0L510.5 186.7L510.5 193.4L510.5 200.2L510.5 206.9L510.5 213.6L510.5 220.3L510.5 227.1L510.5 233.8L510.5 240.5L510.5 247.3L510.5 254.0L509.7 254.0L509.7 247.3L509.6 240.5L509.3 233.8L508.8 227.1L507.9 220.3L506.5 213.6L504.7 207.0L504.7 206.9L501.8 200.2L498.9 194.4L498.3 193.4L494.3 186.7L493.1 183.8L491.9 180.0L490.3 173.2L488.6 166.5L487.3 162.4L486.5 159.8L484.6 153.0L482.7 146.3Z" fill="#ffb700"/>
<path d="M487.3 146.3L493.1 146.3L498.9 146.3L504.7 146.3L510.5 146.3L510.5 153.0L510.5 159.8L510.5 166.5L510.5 173.2L510.5 180.0L510.5 186.7L510.5 193.4L510.5 200.2L510.5 206.9L510.5 213.6L510.5 220.3L510.5 227.1L510.5 227.3L510.5 227.1L509.5 220.3L508.0 213.6L506.0 206.9L504.7 202.6L503.7 200.2L500.3 193.4L498.9 190.6L496.6 186.7L493.9 180.0L493.1 176.9L492.3 173.2L490.7 166.5L488.8 159.8L487.3 154.3L487.0 153.0L485.2 146.3Z" fill="#ffa300"/>
<path d="M493.1 146.3L498.9 146.3L504.7 146.3L510.5 146.3L510.5 153.0L510.5 159.8L510.5 166.5L510.5 173.2L510.5 180.0L510.5 186.7L510.5 193.4L510.5 200.2L510.5 206.9L510.5 213.6L510.5 218.1L509.4 213.6L507.3 206.9L505.3 200.2L504.7 198.4L502.2 193.4L498.9 186.7L498.9 186.6L496.3 180.0L494.6 173.2L493.1 167.6L492.9 166.5L491.1 159.8L489.3 153.0L487.6 146.3Z" fill="#ff8f00"/>
<path d="M493.1 146.3L498.9 146.3L504.7 146.3L510.5 146.3L510.5 153.0L510.5 159.8L510.5 166.5L510.5 173.2L510.5 180.0L510.5 186.7L510.5 193.4L510.5 200.2L510.5 206.9L510.5 212.6L508.6 206.9L506.6 200.2L504.7 194.5L504.2 193.4L501.1 186.7L498.9 180.5L498.7 180.0L497.0 173.2L495.3 166.5L493.5 159.8L493.1 158.5L491.7 153.0L490.0 146.3Z" fill="#ff7b00"/>
<path d="M493.1 146.3L498.9 146.3L504.7 146.3L510.5 146.3L510.5 153.0L510.5 159.8L510.5 166.5L510.5 173.2L510.5 180.0L510.5 186.7L510.5 193.4L510.5 200.2L510.5 206.9L510.5 208.6L509.9 206.9L507.8 200.2L505.8 193.4L504.7 189.8L503.4 186.7L501.1 180.0L499.5 173.2L498.9 170.8L497.8 166.5L496.0 159.8L494.1 153.0L493.1 149.5L492.3 146.3Z" fill="#ff6700"/>
<path d="M498.9 146.3L504.7 146.3L510.5 146.3L510.5 153.0L510.5 159.8L510.5 166.5L510.5 173.2L510.5 180.0L510.5 186.7L510.5 193.4L510.5 200.2L510.5 204.5L509.1 200.2L507.4 193.4L505.5 186.7L504.7 183.6L503.6 180.0L502.2 173.2L500.4 166.5L498.9 161.3L498.5 159.8L496.6 153.0L494.7 146.3Z" fill="#ff5600"/>
<path d="M498.9 146.3L504.7 146.3L510.5 146.3L510.5 153.0L510.5 159.8L510.5 166.5L510.5 173.2L510.5 180.0L510.5 186.7L510.5 193.4L510.5 200.2L510.5 200.4L510.4 200.2L508.9 193.4L507.5 186.7L506.0 180.0L504.8 173.2L504.7 173.0L503.0 166.5L501.1 159.8L499.1 153.0L498.9 152.5L497.1 146.3Z" fill="#ff4600"/>
<path d="M504.7 146.3L510.5 146.3L510.5 153.0L510.5 159.8L510.5 166.5L510.5 173.2L510.5 180.0L510.5 186.7L510.5 193.4L510.5 193.6L510.5 193.4L509.5 186.7L508.4 180.0L507.2 173.2L505.6 166.5L504.7 163.2L503.7 159.8L501.7 153.0L499.7 146.3Z" fill="#ff3700"/>
<path d="M504.7 146.3L510.5 146.3L510.5 153.0L510.5 159.8L510.5 166.5L510.5 173.2L510.5 178.6L509.7 173.2L508.2 166.5L506.3 159.8L504.7 154.3L504.3 153.0L502.3 146.3Z" fill="#ff2700"/>
<path d="M510.5 146.3L510.5 153.0L510.5 159.8L510.5 165.5L509.0 159.8L507.0 153.0L505.0 146.3Z" fill="#ff1700"/>
<path d="M510.5 146.3L510.5 153.0L510.5 155.8L509.7 153.0L507.7 146.3Z" fill="#ff0800"/>
<path d="M458.1 254.0L456.4 247.3L454.4 240.5L452.6 234.5L452.4 233.8L449.7 227.1L446.8 220.9L446.3 220.3L441.0 215.7L437.1 213.6L435.2 212.8L429.4 211.3L423.6 210.3L417.8 209.5L412.0 209.1L406.2 208.9L400.4 208.7L394.6 208.3M476.0 254.0L475.7 250.7L475.3 247.3L473.3 240.5L469.9 234.6L469.2 233.8L464.2 227.1L464.1 227.0L461.4 220.3L458.3 215.1L457.6 213.6L453.2 206.9L452.6 205.8L447.4 200.2L446.8 199.6L441.0 197.0L435.2 194.9L429.4 193.5L429.2 193.4L423.6 192.2L417.8 191.6L412.0 191.4L406.2 191.1L400.4 191.2L394.6 191.7M482.7 254.0L482.8 247.3L482.1 240.5L481.5 236.9L481.0 233.8L479.4 227.1L477.8 220.3L476.1 213.6L475.7 212.8L470.2 206.9L469.9 206.5L464.1 202.7L462.2 200.2L458.3 195.1L457.3 193.4L452.6 186.9L452.3 186.7L447.3 180.0L446.8 179.0L441.0 173.5L440.4 173.2L435.2 170.4L429.4 168.6L423.6 167.5L417.8 166.9L412.0 166.6L406.2 166.7L400.4 166.7L394.6 166.7M490.9 254.0L490.5 247.3L489.8 240.5L489.0 233.8L488.1 227.1L487.3 222.1L487.1 220.3L485.5 213.6L482.4 206.9L481.5 204.9L479.4 200.2L476.0 193.4L475.7 193.0L469.9 188.2L467.6 186.7L464.1 182.2L463.1 180.0L460.2 173.2L458.3 169.3L457.1 166.5L453.8 159.8L452.6 157.0L450.1 153.0L446.8 146.7L446.4 146.3M499.8 254.0L499.2 247.3L498.9 243.6L498.7 240.5L498.1 233.8L497.3 227.1L496.5 220.3L495.0 213.6L493.1 209.2L492.1 206.9L487.9 200.2L487.3 199.0L485.0 193.4L481.6 186.7L481.5 186.4L479.5 180.0L477.7 173.2L475.7 168.2L474.7 166.5L469.9 160.5L469.3 159.8L464.9 153.0L464.1 151.6L462.1 146.3M508.3 254.0L508.2 247.3L508.0 240.5L507.7 233.8L507.2 227.1L506.3 220.3L505.1 213.6L504.7 212.3L503.0 206.9L500.0 200.2L498.9 198.0L496.1 193.4L493.1 188.5L492.2 186.7L490.0 180.0L488.3 173.2L487.3 169.6L486.5 166.5L484.4 159.8L482.2 153.0L481.5 150.6L479.9 146.3M510.5 204.5L509.1 200.2L507.4 193.4L505.5 186.7L504.7 183.6L503.6 180.0L502.2 173.2L500.4 166.5L498.9 161.3L498.5 159.8L496.6 153.0L494.7 146.3" fill="none" stroke="#3a3a3a" stroke-opacity="0.75" stroke-width="0.6"/>
</g>
<rect x="394.60" y="146.30" width="115.90" height="107.70" fill="none" stroke="#000" stroke-width="1"/>
<path d="M394.60 254.00v3.3M406.19 254.00v1.8M417.78 254.00v3.3M429.37 254.00v1.8M440.96 254.00v3.3M452.55 254.00v1.8M464.14 254.00v3.3M475.73 254.00v1.8M487.32 254.00v3.3M498.91 254.00v1.8M510.50 254.00v3.3M394.60 254.00h-3.3M394.60 247.27h-1.8M394.60 240.54h-3.3M394.60 233.81h-1.8M394.60 227.08h-3.3M394.60 220.34h-1.8M394.60 213.61h-3.3M394.60 206.88h-1.8M394.60 200.15h-3.3M394.60 193.42h-1.8M394.60 186.69h-3.3M394.60 179.96h-1.8M394.60 173.23h-3.3M394.60 166.49h-1.8M394.60 159.76h-3.3M394.60 153.03h-1.8M394.60 146.30h-3.3" stroke="#000" stroke-width="0.8" fill="none"/>
<text x="394.60" y="267.00" class="tl" text-anchor="middle">50</text>
<text x="417.78" y="267.00" class="tl" text-anchor="middle">60</text>
<text x="440.96" y="267.00" class="tl" text-anchor="middle">70</text>
<text x="464.14" y="267.00" class="tl" text-anchor="middle">80</text>
<text x="487.32" y="267.00" class="tl" text-anchor="middle">90</text>
<text x="510.50" y="267.00" class="tl" text-anchor="middle">100</text>
<text x="388.50" y="256.60" class="tly" text-anchor="end">10</text>
<text x="388.50" y="243.14" class="tly" text-anchor="end">15</text>
<text x="388.50" y="229.68" class="tly" text-anchor="end">20</text>
<text x="388.50" y="216.21" class="tly" text-anchor="end">25</text>
<text x="388.50" y="202.75" class="tly" text-anchor="end">30</text>
<text x="388.50" y="189.29" class="tly" text-anchor="end">35</text>
<text x="388.50" y="175.83" class="tly" text-anchor="end">40</text>
<text x="388.50" y="162.36" class="tly" text-anchor="end">45</text>
<text x="388.50" y="148.90" class="tly" text-anchor="end">50</text>
<text transform="translate(375.60 200.15) rotate(-90)" class="at" text-anchor="middle">Quantile for dormancy</text>
<text x="452.50" y="278.70" class="at" text-anchor="middle">Quantile for maturity</text>
<text x="509.00" y="252.00" class="pl" text-anchor="end">(f)</text>
<rect x="516.40" y="147.60" width="3.70" height="109.20" fill="url(#cbgf)" stroke="#000" stroke-width="1"/>
<path d="M520.80 150.30h3.2" stroke="#444" stroke-width="0.8"/>
<text x="526.20" y="152.60" class="cl">−1215</text>
<path d="M520.80 163.40h3.2" stroke="#444" stroke-width="0.8"/>
<text x="526.20" y="165.70" class="cl">−1245</text>
<path d="M520.80 176.50h3.2" stroke="#444" stroke-width="0.8"/>
<text x="526.20" y="178.80" class="cl">−1276</text>
<path d="M520.80 189.60h3.2" stroke="#444" stroke-width="0.8"/>
<text x="526.20" y="191.90" class="cl">−1306</text>
<path d="M520.80 202.70h3.2" stroke="#444" stroke-width="0.8"/>
<text x="526.20" y="205.00" class="cl">−1336</text>
<path d="M520.80 215.80h3.2" stroke="#444" stroke-width="0.8"/>
<text x="526.20" y="218.10" class="cl">−1366</text>
<path d="M520.80 228.90h3.2" stroke="#444" stroke-width="0.8"/>
<text x="526.20" y="231.20" class="cl">−1397</text>
<path d="M520.80 242.00h3.2" stroke="#444" stroke-width="0.8"/>
<text x="526.20" y="244.30" class="cl">−1427</text>
<path d="M520.80 255.10h3.2" stroke="#444" stroke-width="0.8"/>
<text x="526.20" y="257.40" class="cl">−1457</text>
<text x="514.80" y="141.30" class="aic">AIC</text>
<clipPath id="cg"><rect x="30.50" y="281.40" width="115.90" height="107.70"/></clipPath>
<g clip-path="url(#cg)">
<rect x="30.50" y="281.40" width="115.90" height="107.70" fill="#0008ff"/>
<path d="M36.3 281.4L42.1 281.4L47.9 281.4L53.7 281.4L59.5 281.4L65.3 281.4L71.1 281.4L76.9 281.4L82.7 281.4L88.5 281.4L94.2 281.4L100.0 281.4L105.8 281.4L111.6 281.4L117.4 281.4L123.2 281.4L129.0 281.4L134.8 281.4L140.6 281.4L146.4 281.4L146.4 288.1L146.4 294.9L146.4 301.6L146.4 308.3L146.4 315.1L146.4 321.8L146.4 328.5L146.4 335.2L146.4 342.0L146.4 348.7L146.4 355.4L146.4 362.2L146.4 368.9L146.4 375.6L146.4 382.4L146.4 389.1L140.6 389.1L134.8 389.1L129.0 389.1L123.2 389.1L117.4 389.1L111.6 389.1L105.8 389.1L100.0 389.1L94.2 389.1L88.5 389.1L82.7 389.1L76.9 389.1L71.1 389.1L65.3 389.1L59.5 389.1L53.7 389.1L47.9 389.1L42.1 389.1L36.3 389.1L30.5 389.1L30.5 382.4L30.5 380.8L36.3 381.0L42.1 381.2L47.9 380.8L53.7 379.0L57.8 375.6L59.5 373.5L61.7 368.9L63.6 362.2L64.1 355.4L63.5 348.7L61.4 342.0L59.5 339.0L55.9 335.2L53.7 334.1L47.9 333.0L42.1 332.6L36.3 333.0L30.5 333.4L30.5 328.5L30.5 321.8L30.5 315.1L30.5 308.3L30.5 301.6L30.5 294.9L30.5 288.1L30.5 281.4Z" fill="#0018ff"/>
<path d="M36.3 281.4L42.1 281.4L47.9 281.4L53.7 281.4L59.5 281.4L65.3 281.4L71.1 281.4L76.9 281.4L82.7 281.4L88.5 281.4L94.2 281.4L100.0 281.4L105.8 281.4L111.6 281.4L117.4 281.4L123.2 281.4L129.0 281.4L134.8 281.4L140.6 281.4L146.4 281.4L146.4 288.1L146.4 294.9L146.4 301.6L146.4 308.3L146.4 315.1L146.4 321.8L146.4 328.5L146.4 335.2L146.4 342.0L146.4 348.7L146.4 355.4L146.4 362.2L146.4 368.9L146.4 375.6L146.4 382.4L146.4 389.1L140.6 389.1L134.8 389.1L129.0 389.1L123.2 389.1L117.4 389.1L111.6 389.1L105.8 389.1L100.0 389.1L94.2 389.1L88.5 389.1L82.7 389.1L76.9 389.1L71.1 389.1L65.3 389.1L59.5 389.1L59.1 389.1L59.5 388.9L65.3 382.5L65.3 382.4L67.9 375.6L69.6 368.9L70.4 362.2L70.3 355.4L69.5 348.7L67.7 342.0L65.3 336.8L64.3 335.2L59.5 331.4L53.7 328.7L52.8 328.5L47.9 327.8L42.1 327.6L36.3 327.8L30.5 328.0L30.5 321.8L30.5 315.1L30.5 308.3L30.5 301.6L30.5 294.9L30.5 288.1L30.5 281.4Z" fill="#0029ff"/>
<path d="M36.3 281.4L42.1 281.4L47.9 281.4L53.7 281.4L59.5 281.4L65.3 281.4L71.1 281.4L76.9 281.4L82.7 281.4L88.5 281.4L94.2 281.4L100.0 281.4L105.8 281.4L111.6 281.4L117.4 281.4L123.2 281.4L129.0 281.4L134.8 281.4L140.6 281.4L146.4 281.4L146.4 288.1L146.4 294.9L146.4 301.6L146.4 308.3L146.4 315.1L146.4 321.8L146.4 328.5L146.4 335.2L146.4 342.0L146.4 348.7L146.4 355.4L146.4 362.2L146.4 368.9L146.4 375.6L146.4 382.4L146.4 389.1L140.6 389.1L134.8 389.1L129.0 389.1L123.2 389.1L117.4 389.1L111.6 389.1L105.8 389.1L100.0 389.1L94.2 389.1L88.5 389.1L82.7 389.1L76.9 389.1L72.9 389.1L74.2 382.4L75.1 375.6L75.7 368.9L75.9 362.2L75.4 355.4L74.5 348.7L72.8 342.0L71.1 337.8L69.8 335.2L65.3 329.7L63.7 328.5L59.5 326.2L53.7 324.6L47.9 323.8L42.1 323.6L36.3 323.8L30.5 324.0L30.5 321.8L30.5 315.1L30.5 308.3L30.5 301.6L30.5 294.9L30.5 288.1L30.5 281.4Z" fill="#0039ff"/>
<path d="M36.3 281.4L42.1 281.4L47.9 281.4L53.7 281.4L59.5 281.4L65.3 281.4L71.1 281.4L76.9 281.4L82.7 281.4L88.5 281.4L94.2 281.4L100.0 281.4L105.8 281.4L111.6 281.4L117.4 281.4L123.2 281.4L129.0 281.4L134.8 281.4L140.6 281.4L146.4 281.4L146.4 288.1L146.4 294.9L146.4 301.6L146.4 308.3L146.4 315.1L146.4 321.8L146.4 328.5L146.4 335.2L146.4 342.0L146.4 348.7L146.4 355.4L146.4 362.2L146.4 368.9L146.4 375.6L146.4 382.4L146.4 389.1L140.6 389.1L134.8 389.1L129.0 389.1L123.2 389.1L117.4 389.1L111.6 389.1L105.8 389.1L100.0 389.1L94.2 389.1L88.5 389.1L82.7 389.1L81.2 389.1L81.4 382.4L81.4 375.6L81.3 368.9L80.9 362.2L80.2 355.4L79.1 348.7L77.5 342.0L76.9 340.5L74.7 335.2L71.1 329.9L69.9 328.5L65.3 324.6L59.5 321.8L59.5 321.8L53.7 320.7L47.9 320.1L42.1 320.0L36.3 320.1L30.5 320.4L30.5 315.1L30.5 308.3L30.5 301.6L30.5 294.9L30.5 288.1L30.5 281.4Z" fill="#0049ff"/>
<path d="M36.3 281.4L42.1 281.4L47.9 281.4L53.7 281.4L59.5 281.4L65.3 281.4L71.1 281.4L76.9 281.4L82.7 281.4L88.5 281.4L94.2 281.4L100.0 281.4L105.8 281.4L111.6 281.4L117.4 281.4L123.2 281.4L129.0 281.4L134.8 281.4L140.6 281.4L146.4 281.4L146.4 288.1L146.4 294.9L146.4 301.6L146.4 308.3L146.4 315.1L146.4 321.8L146.4 328.5L146.4 335.2L146.4 342.0L146.4 348.7L146.4 355.4L146.4 362.2L146.4 368.9L146.4 375.6L146.4 382.4L146.4 389.1L140.6 389.1L134.8 389.1L129.0 389.1L123.2 389.1L117.4 389.1L111.6 389.1L105.8 389.1L100.0 389.1L94.2 389.1L88.5 389.1L88.3 389.1L88.0 382.4L87.5 375.6L86.9 368.9L86.1 362.2L85.0 355.4L83.8 348.7L82.7 344.1L82.2 342.0L79.3 335.2L76.9 331.5L74.9 328.5L71.1 324.6L67.7 321.8L65.3 320.2L59.5 318.0L53.7 317.1L47.9 316.7L42.1 316.6L36.3 316.8L30.5 317.1L30.5 315.1L30.5 308.3L30.5 301.6L30.5 294.9L30.5 288.1L30.5 281.4Z" fill="#005aff"/>
<path d="M36.3 281.4L42.1 281.4L47.9 281.4L53.7 281.4L59.5 281.4L65.3 281.4L71.1 281.4L76.9 281.4L82.7 281.4L88.5 281.4L94.2 281.4L100.0 281.4L105.8 281.4L111.6 281.4L117.4 281.4L123.2 281.4L129.0 281.4L134.8 281.4L140.6 281.4L146.4 281.4L146.4 288.1L146.4 294.9L146.4 301.6L146.4 308.3L146.4 315.1L146.4 321.8L146.4 328.5L146.4 335.2L146.4 342.0L146.4 348.7L146.4 355.4L146.4 362.2L146.4 368.9L146.4 375.6L146.4 382.4L146.4 389.1L140.6 389.1L134.8 389.1L129.0 389.1L123.2 389.1L117.4 389.1L111.6 389.1L105.8 389.1L100.0 389.1L94.8 389.1L94.8 382.4L94.2 377.1L94.1 375.6L93.1 368.9L91.8 362.2L90.5 355.4L89.0 348.7L88.5 346.8L87.4 342.0L84.1 335.2L82.7 333.5L79.4 328.5L76.9 326.0L72.8 321.8L71.1 320.3L65.3 316.2L62.0 315.1L59.5 314.2L53.7 313.6L47.9 313.3L42.1 313.3L36.3 313.6L30.5 314.0L30.5 308.3L30.5 301.6L30.5 294.9L30.5 288.1L30.5 281.4Z" fill="#006dff"/>
<path d="M36.3 281.4L42.1 281.4L47.9 281.4L53.7 281.4L59.5 281.4L65.3 281.4L71.1 281.4L76.9 281.4L82.7 281.4L88.5 281.4L94.2 281.4L100.0 281.4L105.8 281.4L111.6 281.4L117.4 281.4L123.2 281.4L129.0 281.4L134.8 281.4L140.6 281.4L146.4 281.4L146.4 288.1L146.4 294.9L146.4 301.6L146.4 308.3L146.4 315.1L146.4 321.8L146.4 328.5L146.4 335.2L146.4 342.0L146.4 348.7L146.4 355.4L146.4 362.2L146.4 368.9L146.4 375.6L146.4 382.4L146.4 389.1L140.6 389.1L134.8 389.1L129.0 389.1L123.2 389.1L117.4 389.1L111.6 389.1L105.8 389.1L101.5 389.1L102.4 382.4L102.4 375.6L100.8 368.9L100.0 366.8L98.7 362.2L97.7 355.4L96.3 348.7L94.2 343.1L93.9 342.0L89.9 335.2L88.5 333.9L84.0 328.5L82.7 327.4L77.1 321.8L76.9 321.6L71.1 316.8L68.6 315.1L65.3 312.7L59.5 310.7L53.7 310.3L47.9 310.0L42.1 310.2L36.3 310.4L30.5 310.8L30.5 308.3L30.5 301.6L30.5 294.9L30.5 288.1L30.5 281.4Z" fill="#0084ff"/>
<path d="M36.3 281.4L42.1 281.4L47.9 281.4L53.7 281.4L59.5 281.4L65.3 281.4L71.1 281.4L76.9 281.4L82.7 281.4L88.5 281.4L94.2 281.4L100.0 281.4L105.8 281.4L111.6 281.4L117.4 281.4L123.2 281.4L129.0 281.4L134.8 281.4L140.6 281.4L146.4 281.4L146.4 288.1L146.4 294.9L146.4 301.6L146.4 308.3L146.4 315.1L146.4 321.8L146.4 328.5L146.4 335.2L146.4 342.0L146.4 348.7L146.4 355.4L146.4 362.2L146.4 368.9L146.4 375.6L146.4 382.4L146.4 389.1L140.6 389.1L134.8 389.1L129.0 389.1L123.2 389.1L117.4 389.1L111.6 389.1L107.4 389.1L109.3 382.4L109.9 375.6L108.7 368.9L106.7 362.2L105.8 356.8L105.6 355.4L104.1 348.7L101.6 342.0L100.0 339.6L97.0 335.2L94.2 332.9L89.7 328.5L88.5 327.7L82.7 323.1L81.3 321.8L76.9 318.4L72.9 315.1L71.1 313.5L65.3 309.4L62.3 308.3L59.5 307.2L53.7 306.8L47.9 306.6L42.1 306.9L36.3 307.1L30.5 307.7L30.5 301.6L30.5 294.9L30.5 288.1L30.5 281.4Z" fill="#009aff"/>
<path d="M36.3 281.4L42.1 281.4L47.9 281.4L53.7 281.4L59.5 281.4L65.3 281.4L71.1 281.4L76.9 281.4L82.7 281.4L88.5 281.4L94.2 281.4L100.0 281.4L105.8 281.4L111.6 281.4L117.4 281.4L123.2 281.4L129.0 281.4L134.8 281.4L140.6 281.4L146.4 281.4L146.4 288.1L146.4 294.9L146.4 301.6L146.4 308.3L146.4 315.1L146.4 321.8L146.4 328.5L146.4 335.2L146.4 342.0L146.4 348.7L146.4 355.4L146.4 362.2L146.4 368.9L146.4 375.6L146.4 382.4L146.4 389.1L140.6 389.1L134.8 389.1L129.0 389.1L123.2 389.1L117.4 389.1L112.8 389.1L114.3 382.4L114.7 375.6L114.1 368.9L112.7 362.2L112.0 355.4L111.6 353.5L110.5 348.7L108.3 342.0L105.8 337.2L104.5 335.2L100.0 331.1L97.0 328.5L94.2 327.0L88.5 323.4L86.5 321.8L82.7 319.6L76.9 315.3L76.6 315.1L71.1 310.5L68.1 308.3L65.3 306.0L59.5 303.7L53.7 303.2L47.9 303.1L42.1 303.4L36.3 303.7L30.5 304.2L30.5 301.6L30.5 294.9L30.5 288.1L30.5 281.4Z" fill="#00b1ff"/>
<path d="M36.3 281.4L42.1 281.4L47.9 281.4L53.7 281.4L59.5 281.4L65.3 281.4L71.1 281.4L76.9 281.4L82.7 281.4L88.5 281.4L94.2 281.4L100.0 281.4L105.8 281.4L111.6 281.4L117.4 281.4L123.2 281.4L129.0 281.4L134.8 281.4L140.6 281.4L146.4 281.4L146.4 288.1L146.4 294.9L146.4 301.6L146.4 308.3L146.4 315.1L146.4 321.8L146.4 328.5L146.4 335.2L146.4 342.0L146.4 348.7L146.4 355.4L146.4 362.2L146.4 368.9L146.4 375.6L146.4 382.4L146.4 389.1L140.6 389.1L134.8 389.1L129.0 389.1L123.2 389.1L117.9 389.1L118.1 382.4L118.1 375.6L117.9 368.9L117.5 362.2L117.4 360.5L116.8 355.4L115.1 348.7L113.3 342.0L111.6 337.8L110.3 335.2L105.8 329.6L104.6 328.5L100.0 325.5L94.2 322.3L93.4 321.8L88.5 319.6L82.7 316.3L80.9 315.1L76.9 312.3L72.1 308.3L71.1 307.3L65.3 302.5L63.1 301.6L59.5 300.2L53.7 299.6L47.9 299.6L42.1 299.9L36.3 300.2L30.5 300.7L30.5 294.9L30.5 288.1L30.5 281.4Z" fill="#00c8ff"/>
<path d="M36.3 281.4L42.1 281.4L47.9 281.4L53.7 281.4L59.5 281.4L65.3 281.4L71.1 281.4L76.9 281.4L82.7 281.4L88.5 281.4L94.2 281.4L100.0 281.4L105.8 281.4L111.6 281.4L117.4 281.4L123.2 281.4L129.0 281.4L134.8 281.4L140.6 281.4L146.4 281.4L146.4 288.1L146.4 294.9L146.4 301.6L146.4 308.3L146.4 315.1L146.4 321.8L146.4 328.5L146.4 335.2L146.4 342.0L146.4 348.7L146.4 355.4L146.4 362.2L146.4 368.9L146.4 375.6L146.4 382.4L146.4 389.1L140.6 389.1L134.8 389.1L129.0 389.1L123.2 389.1L121.0 389.1L120.5 382.4L120.3 375.6L120.3 368.9L120.3 362.2L120.1 355.4L118.9 348.7L117.4 342.7L117.2 342.0L114.3 335.2L111.6 330.2L110.3 328.5L105.8 324.5L101.8 321.8L100.0 320.9L94.2 318.5L88.5 316.2L86.4 315.1L82.7 313.2L76.9 309.4L75.6 308.3L71.1 303.9L68.3 301.6L65.3 299.0L59.5 296.9L53.7 296.2L47.9 296.1L42.1 296.3L36.3 296.6L30.5 297.0L30.5 294.9L30.5 288.1L30.5 281.4Z" fill="#00deff"/>
<path d="M36.3 281.4L42.1 281.4L47.9 281.4L53.7 281.4L59.5 281.4L65.3 281.4L71.1 281.4L76.9 281.4L82.7 281.4L88.5 281.4L94.2 281.4L100.0 281.4L105.8 281.4L111.6 281.4L117.4 281.4L123.2 281.4L129.0 281.4L134.8 281.4L140.6 281.4L146.4 281.4L146.4 288.1L146.4 294.9L146.4 301.6L146.4 308.3L146.4 315.1L146.4 321.8L146.4 328.5L146.4 335.2L146.4 342.0L146.4 348.7L146.4 355.4L146.4 362.2L146.4 368.9L146.4 375.6L146.4 382.4L146.4 389.1L140.6 389.1L134.8 389.1L129.0 389.1L123.7 389.1L123.2 384.8L122.8 382.4L122.5 375.6L122.6 368.9L123.0 362.2L123.1 355.4L121.9 348.7L120.0 342.0L117.7 335.2L117.4 334.4L114.3 328.5L111.6 324.9L108.2 321.8L105.8 320.1L100.0 317.1L94.7 315.1L94.2 314.9L88.5 313.0L82.7 310.2L79.7 308.3L76.9 306.2L72.2 301.6L71.1 300.5L65.3 295.6L63.2 294.9L59.5 293.8L53.7 293.0L47.9 292.6L42.1 292.6L36.3 292.8L30.5 293.2L30.5 288.1L30.5 281.4Z" fill="#00f9ff"/>
<path d="M36.3 281.4L42.1 281.4L47.9 281.4L53.7 281.4L59.5 281.4L65.3 281.4L71.1 281.4L76.9 281.4L82.7 281.4L88.5 281.4L94.2 281.4L100.0 281.4L105.8 281.4L111.6 281.4L117.4 281.4L123.2 281.4L129.0 281.4L134.8 281.4L140.6 281.4L146.4 281.4L146.4 288.1L146.4 294.9L146.4 301.6L146.4 308.3L146.4 315.1L146.4 321.8L146.4 328.5L146.4 335.2L146.4 342.0L146.4 348.7L146.4 355.4L146.4 362.2L146.4 368.9L146.4 375.6L146.4 382.4L146.4 389.1L140.6 389.1L134.8 389.1L129.0 389.1L125.4 389.1L124.4 382.4L124.1 375.6L124.2 368.9L124.7 362.2L124.9 355.4L124.3 348.7L123.2 343.8L122.7 342.0L120.0 335.2L117.7 328.5L117.4 327.9L113.0 321.8L111.6 320.4L105.8 316.3L103.4 315.1L100.0 313.6L94.2 311.7L88.5 309.8L85.2 308.3L82.7 307.1L76.9 302.8L75.6 301.6L71.1 297.2L68.3 294.9L65.3 292.9L59.5 291.1L53.7 289.9L47.9 289.2L42.1 288.9L36.3 288.9L30.5 289.2L30.5 288.1L30.5 281.4Z" fill="#00ffe7"/>
<path d="M36.3 281.4L42.1 281.4L47.9 281.4L53.7 281.4L59.5 281.4L65.3 281.4L71.1 281.4L76.9 281.4L82.7 281.4L88.5 281.4L94.2 281.4L100.0 281.4L105.8 281.4L111.6 281.4L117.4 281.4L123.2 281.4L129.0 281.4L134.8 281.4L140.6 281.4L146.4 281.4L146.4 288.1L146.4 294.9L146.4 301.6L146.4 308.3L146.4 315.1L146.4 321.8L146.4 328.5L146.4 335.2L146.4 342.0L146.4 348.7L146.4 355.4L146.4 362.2L146.4 368.9L146.4 375.6L146.4 382.4L146.4 389.1L140.6 389.1L134.8 389.1L129.0 389.1L127.1 389.1L125.7 382.4L125.3 375.6L125.6 368.9L126.3 362.2L126.5 355.4L126.0 348.7L124.5 342.0L123.2 337.4L122.3 335.2L120.0 328.5L117.4 322.9L116.6 321.8L111.6 316.6L109.5 315.1L105.8 312.9L100.0 310.5L94.2 308.5L93.6 308.3L88.5 306.6L82.7 303.8L79.7 301.6L76.9 299.4L72.1 294.9L71.1 294.1L65.3 290.5L59.5 288.4L58.5 288.1L53.7 286.9L47.9 285.8L42.1 285.1L36.3 285.0L30.5 285.0L30.5 281.4Z" fill="#00ffc8"/>
<path d="M47.9 281.4L53.7 281.4L59.5 281.4L65.3 281.4L71.1 281.4L76.9 281.4L82.7 281.4L88.5 281.4L94.2 281.4L100.0 281.4L105.8 281.4L111.6 281.4L117.4 281.4L123.2 281.4L129.0 281.4L134.8 281.4L140.6 281.4L146.4 281.4L146.4 288.1L146.4 294.9L146.4 301.6L146.4 308.3L146.4 315.1L146.4 321.8L146.4 328.5L146.4 335.2L146.4 342.0L146.4 348.7L146.4 355.4L146.4 362.2L146.4 368.9L146.4 375.6L146.4 382.4L146.4 389.1L140.6 389.1L134.8 389.1L129.0 389.1L128.8 389.1L127.1 382.4L126.6 375.6L126.9 368.9L127.9 362.2L128.2 355.4L127.8 348.7L126.2 342.0L124.3 335.2L123.2 331.0L122.4 328.5L119.4 321.8L117.4 318.5L114.1 315.1L111.6 313.0L105.8 309.7L102.5 308.3L100.0 307.3L94.2 305.4L88.5 303.4L84.8 301.6L82.7 300.5L76.9 296.0L75.6 294.9L71.1 291.5L65.5 288.1L65.3 288.0L59.5 285.9L53.7 284.0L47.9 282.4L42.3 281.4Z" fill="#00ffaa"/>
<path d="M59.5 281.4L65.3 281.4L71.1 281.4L76.9 281.4L82.7 281.4L88.5 281.4L94.2 281.4L100.0 281.4L105.8 281.4L111.6 281.4L117.4 281.4L123.2 281.4L129.0 281.4L134.8 281.4L140.6 281.4L146.4 281.4L146.4 288.1L146.4 294.9L146.4 301.6L146.4 308.3L146.4 315.1L146.4 321.8L146.4 328.5L146.4 335.2L146.4 342.0L146.4 348.7L146.4 355.4L146.4 362.2L146.4 368.9L146.4 375.6L146.4 382.4L146.4 389.1L140.6 389.1L134.8 389.1L129.8 389.1L129.0 384.5L128.5 382.4L127.9 375.6L128.3 368.9L129.0 364.5L129.3 362.2L129.5 355.4L129.3 348.7L129.0 346.6L127.8 342.0L125.9 335.2L124.3 328.5L123.2 324.8L121.9 321.8L117.9 315.1L117.4 314.4L111.6 309.6L109.3 308.3L105.8 306.6L100.0 304.3L94.2 302.4L92.1 301.6L88.5 300.2L82.7 297.1L79.7 294.9L76.9 292.9L71.1 288.9L69.9 288.1L65.3 285.8L59.5 283.4L54.5 281.4Z" fill="#00ff8b"/>
<path d="M65.3 281.4L71.1 281.4L76.9 281.4L82.7 281.4L88.5 281.4L94.2 281.4L100.0 281.4L105.8 281.4L111.6 281.4L117.4 281.4L123.2 281.4L129.0 281.4L134.8 281.4L140.6 281.4L146.4 281.4L146.4 288.1L146.4 294.9L146.4 301.6L146.4 308.3L146.4 315.1L146.4 321.8L146.4 328.5L146.4 335.2L146.4 342.0L146.4 348.7L146.4 355.4L146.4 362.2L146.4 368.9L146.4 375.6L146.4 382.4L146.4 389.1L140.6 389.1L134.8 389.1L130.7 389.1L129.5 382.4L129.1 375.6L129.4 368.9L130.1 362.2L130.4 355.4L130.2 348.7L129.3 342.0L129.0 340.3L127.6 335.2L125.8 328.5L124.0 321.8L123.2 319.3L120.9 315.1L117.4 310.6L114.6 308.3L111.6 306.2L105.8 303.5L100.9 301.6L100.0 301.3L94.2 299.2L88.5 297.0L84.5 294.9L82.7 293.9L76.9 290.0L74.2 288.1L71.1 286.4L65.3 283.6L60.5 281.4Z" fill="#00ff6d"/>
<path d="M71.1 281.4L76.9 281.4L82.7 281.4L88.5 281.4L94.2 281.4L100.0 281.4L105.8 281.4L111.6 281.4L117.4 281.4L123.2 281.4L129.0 281.4L134.8 281.4L140.6 281.4L146.4 281.4L146.4 288.1L146.4 294.9L146.4 301.6L146.4 308.3L146.4 315.1L146.4 321.8L146.4 328.5L146.4 335.2L146.4 342.0L146.4 348.7L146.4 355.4L146.4 362.2L146.4 368.9L146.4 375.6L146.4 382.4L146.4 389.1L140.6 389.1L134.8 389.1L131.6 389.1L130.4 382.4L130.0 375.6L130.3 368.9L131.0 362.2L131.3 355.4L131.1 348.7L130.2 342.0L129.2 335.2L129.0 334.3L127.4 328.5L125.7 321.8L123.6 315.1L123.2 314.1L118.8 308.3L117.4 306.8L111.6 302.9L108.7 301.6L105.8 300.4L100.0 298.1L94.2 296.1L91.1 294.9L88.5 293.8L82.7 290.7L78.7 288.1L76.9 287.1L71.1 284.0L65.4 281.4Z" fill="#00ff56"/>
<path d="M71.1 281.4L76.9 281.4L82.7 281.4L88.5 281.4L94.2 281.4L100.0 281.4L105.8 281.4L111.6 281.4L117.4 281.4L123.2 281.4L129.0 281.4L134.8 281.4L140.6 281.4L146.4 281.4L146.4 288.1L146.4 294.9L146.4 301.6L146.4 308.3L146.4 315.1L146.4 321.8L146.4 328.5L146.4 335.2L146.4 342.0L146.4 348.7L146.4 355.4L146.4 362.2L146.4 368.9L146.4 375.6L146.4 382.4L146.4 389.1L140.6 389.1L134.8 389.1L132.5 389.1L131.3 382.4L130.8 375.6L131.1 368.9L131.9 362.2L132.1 355.4L132.0 348.7L131.1 342.0L130.1 335.2L129.0 328.5L129.0 328.4L127.4 321.8L125.6 315.1L123.2 309.5L122.3 308.3L117.4 303.1L115.1 301.6L111.6 299.5L105.8 297.1L100.0 294.9L99.9 294.9L94.2 292.8L88.5 290.5L83.9 288.1L82.7 287.5L76.9 284.3L71.1 281.6L70.7 281.4Z" fill="#00ff48"/>
<path d="M76.9 281.4L82.7 281.4L88.5 281.4L94.2 281.4L100.0 281.4L105.8 281.4L111.6 281.4L117.4 281.4L123.2 281.4L129.0 281.4L134.8 281.4L140.6 281.4L146.4 281.4L146.4 288.1L146.4 294.9L146.4 301.6L146.4 308.3L146.4 315.1L146.4 321.8L146.4 328.5L146.4 335.2L146.4 342.0L146.4 348.7L146.4 355.4L146.4 362.2L146.4 368.9L146.4 375.6L146.4 382.4L146.4 389.1L140.6 389.1L134.8 389.1L133.4 389.1L132.2 382.4L131.7 375.6L132.0 368.9L132.7 362.2L133.0 355.4L132.9 348.7L132.0 342.0L131.1 335.2L130.0 328.5L129.1 321.8L129.0 321.2L127.5 315.1L124.8 308.3L123.2 305.4L119.6 301.6L117.4 299.4L111.6 296.1L108.7 294.9L105.8 293.7L100.0 291.6L94.2 289.6L90.7 288.1L88.5 287.2L82.7 284.4L76.9 281.6L76.5 281.4Z" fill="#00ff3a"/>
<path d="M88.5 281.4L94.2 281.4L100.0 281.4L105.8 281.4L111.6 281.4L117.4 281.4L123.2 281.4L129.0 281.4L134.8 281.4L140.6 281.4L146.4 281.4L146.4 288.1L146.4 294.9L146.4 301.6L146.4 308.3L146.4 315.1L146.4 321.8L146.4 328.5L146.4 335.2L146.4 342.0L146.4 348.7L146.4 355.4L146.4 362.2L146.4 368.9L146.4 375.6L146.4 382.4L146.4 389.1L140.6 389.1L134.8 389.1L134.3 389.1L133.1 382.4L132.6 375.6L132.8 368.9L133.6 362.2L133.9 355.4L133.9 348.7L132.9 342.0L132.0 335.2L131.0 328.5L130.1 321.8L129.2 315.1L129.0 313.9L126.9 308.3L123.3 301.6L123.2 301.5L117.4 295.8L115.8 294.9L111.6 292.6L105.8 290.4L100.0 288.3L99.4 288.1L94.2 286.2L88.5 283.9L83.0 281.4Z" fill="#00ff2c"/>
<path d="M94.2 281.4L100.0 281.4L105.8 281.4L111.6 281.4L117.4 281.4L123.2 281.4L129.0 281.4L134.8 281.4L140.6 281.4L146.4 281.4L146.4 288.1L146.4 294.9L146.4 301.6L146.4 308.3L146.4 315.1L146.4 321.8L146.4 328.5L146.4 335.2L146.4 342.0L146.4 348.7L146.4 355.4L146.4 362.2L146.4 368.9L146.4 375.6L146.4 382.4L146.4 389.1L140.6 389.1L135.0 389.1L134.8 387.1L133.9 382.4L133.4 375.6L133.7 368.9L134.5 362.2L134.8 355.4L134.8 348.7L133.8 342.0L132.9 335.2L131.9 328.5L131.2 321.8L130.3 315.1L129.0 308.5L128.9 308.3L125.3 301.6L123.2 297.6L120.4 294.9L117.4 292.1L111.6 289.2L108.7 288.1L105.8 287.1L100.0 285.0L94.2 282.8L90.7 281.4Z" fill="#00ff1e"/>
<path d="M100.0 281.4L105.8 281.4L111.6 281.4L117.4 281.4L123.2 281.4L129.0 281.4L134.8 281.4L140.6 281.4L146.4 281.4L146.4 288.1L146.4 294.9L146.4 301.6L146.4 308.3L146.4 315.1L146.4 321.8L146.4 328.5L146.4 335.2L146.4 342.0L146.4 348.7L146.4 355.4L146.4 362.2L146.4 368.9L146.4 375.6L146.4 382.4L146.4 389.1L140.6 389.1L135.6 389.1L134.8 382.4L134.8 382.1L134.3 375.6L134.5 368.9L134.8 366.7L135.2 362.2L135.4 355.4L135.4 348.7L134.8 342.7L134.7 342.0L133.9 335.2L132.9 328.5L132.2 321.8L131.4 315.1L130.1 308.3L129.0 304.7L127.4 301.6L123.9 294.9L123.2 293.4L117.4 288.4L116.9 288.1L111.6 285.8L105.8 283.8L100.0 281.6L99.6 281.4Z" fill="#00ff10"/>
<path d="M111.6 281.4L117.4 281.4L123.2 281.4L129.0 281.4L134.8 281.4L140.6 281.4L146.4 281.4L146.4 288.1L146.4 294.9L146.4 301.6L146.4 308.3L146.4 315.1L146.4 321.8L146.4 328.5L146.4 335.2L146.4 342.0L146.4 348.7L146.4 355.4L146.4 362.2L146.4 368.9L146.4 375.6L146.4 382.4L146.4 389.1L140.6 389.1L136.2 389.1L135.5 382.4L135.1 375.6L135.3 368.9L135.7 362.2L136.0 355.4L136.0 348.7L135.4 342.0L134.8 335.2L134.8 335.2L133.9 328.5L133.3 321.8L132.5 315.1L131.3 308.3L129.2 301.6L129.0 300.8L126.0 294.9L123.2 288.4L122.9 288.1L117.4 283.7L111.6 282.2L108.9 281.4Z" fill="#00ff05"/>
<path d="M129.0 281.4L134.8 281.4L140.6 281.4L146.4 281.4L146.4 288.1L146.4 294.9L146.4 301.6L146.4 308.3L146.4 315.1L146.4 321.8L146.4 328.5L146.4 335.2L146.4 342.0L146.4 348.7L146.4 355.4L146.4 362.2L146.4 368.9L146.4 375.6L146.4 382.4L146.4 389.1L140.6 389.1L136.8 389.1L136.2 382.4L135.8 375.6L135.9 368.9L136.3 362.2L136.6 355.4L136.6 348.7L136.0 342.0L135.4 335.2L134.8 328.5L134.8 327.8L134.3 321.8L133.6 315.1L132.4 308.3L130.4 301.6L129.0 296.6L128.1 294.9L126.0 288.1L124.5 281.4Z" fill="#02ff00"/>
<path d="M129.0 287.6L129.5 281.4L134.8 281.4L140.6 281.4L146.4 281.4L146.4 288.1L146.4 294.9L146.4 301.6L146.4 308.3L146.4 315.1L146.4 321.8L146.4 328.5L146.4 335.2L146.4 342.0L146.4 348.7L146.4 355.4L146.4 362.2L146.4 368.9L146.4 375.6L146.4 382.4L146.4 389.1L140.6 389.1L137.4 389.1L136.8 382.4L136.5 375.6L136.6 368.9L136.9 362.2L137.2 355.4L137.2 348.7L136.6 342.0L136.0 335.2L135.5 328.5L135.2 321.8L134.8 316.3L134.7 315.1L133.5 308.3L131.5 301.6L129.7 294.9L129.0 288.4L129.0 288.1Z" fill="#09ff00"/>
<path d="M134.8 281.4L140.6 281.4L146.4 281.4L146.4 288.1L146.4 294.9L146.4 301.6L146.4 308.3L146.4 315.1L146.4 321.8L146.4 328.5L146.4 335.2L146.4 342.0L146.4 348.7L146.4 355.4L146.4 362.2L146.4 368.9L146.4 375.6L146.4 382.4L146.4 389.1L140.6 389.1L138.0 389.1L137.5 382.4L137.2 375.6L137.2 368.9L137.5 362.2L137.8 355.4L137.8 348.7L137.2 342.0L136.6 335.2L136.1 328.5L135.9 321.8L135.4 315.1L134.8 309.2L134.7 308.3L132.6 301.6L131.0 294.9L130.4 288.1L131.2 281.4Z" fill="#10ff00"/>
<path d="M134.8 281.4L140.6 281.4L146.4 281.4L146.4 288.1L146.4 294.9L146.4 301.6L146.4 308.3L146.4 315.1L146.4 321.8L146.4 328.5L146.4 335.2L146.4 342.0L146.4 348.7L146.4 355.4L146.4 362.2L146.4 368.9L146.4 375.6L146.4 382.4L146.4 389.1L140.6 389.1L138.6 389.1L138.2 382.4L137.9 375.6L137.8 368.9L138.0 362.2L138.3 355.4L138.4 348.7L137.8 342.0L137.2 335.2L136.8 328.5L136.5 321.8L136.1 315.1L135.4 308.3L134.8 305.0L133.8 301.6L132.2 294.9L131.7 288.1L133.0 281.4Z" fill="#17ff00"/>
<path d="M134.8 281.4L140.6 281.4L146.4 281.4L146.4 288.1L146.4 294.9L146.4 301.6L146.4 308.3L146.4 315.1L146.4 321.8L146.4 328.5L146.4 335.2L146.4 342.0L146.4 348.7L146.4 355.4L146.4 362.2L146.4 368.9L146.4 375.6L146.4 382.4L146.4 389.1L140.6 389.1L139.1 389.1L138.9 382.4L138.6 375.6L138.5 368.9L138.6 362.2L138.9 355.4L139.0 348.7L138.4 342.0L137.8 335.2L137.4 328.5L137.2 321.8L136.8 315.1L136.1 308.3L134.9 301.6L134.8 301.1L133.4 294.9L133.1 288.1L134.7 281.4Z" fill="#28ff00"/>
<path d="M134.8 286.7L135.5 281.4L140.6 281.4L146.4 281.4L146.4 288.1L146.4 294.9L146.4 301.6L146.4 308.3L146.4 315.1L146.4 321.8L146.4 328.5L146.4 335.2L146.4 342.0L146.4 348.7L146.4 355.4L146.4 362.2L146.4 368.9L146.4 375.6L146.4 382.4L146.4 389.1L140.6 389.1L139.7 389.1L139.6 382.4L139.3 375.6L139.1 368.9L139.2 362.2L139.5 355.4L139.6 348.7L139.0 342.0L138.4 335.2L138.1 328.5L137.9 321.8L137.5 315.1L136.8 308.3L135.7 301.6L134.8 295.7L134.6 294.9L134.5 288.1Z" fill="#4cff00"/>
<path d="M140.6 281.4L146.4 281.4L146.4 288.1L146.4 294.9L146.4 301.6L146.4 308.3L146.4 315.1L146.4 321.8L146.4 328.5L146.4 335.2L146.4 342.0L146.4 348.7L146.4 355.4L146.4 362.2L146.4 368.9L146.4 375.6L146.4 382.4L146.4 389.1L140.6 389.1L140.3 389.1L140.2 382.4L140.0 375.6L139.8 368.9L139.8 362.2L140.1 355.4L140.2 348.7L139.6 342.0L139.0 335.2L138.7 328.5L138.6 321.8L138.1 315.1L137.5 308.3L136.4 301.6L135.5 294.9L135.4 288.1L136.2 281.4Z" fill="#7fff00"/>
<path d="M140.6 281.4L146.4 281.4L146.4 288.1L146.4 294.9L146.4 301.6L146.4 308.3L146.4 315.1L146.4 321.8L146.4 328.5L146.4 335.2L146.4 342.0L146.4 348.7L146.4 355.4L146.4 362.2L146.4 368.9L146.4 375.6L146.4 382.4L146.4 389.1L140.9 389.1L140.9 382.4L140.7 375.6L140.6 373.9L140.4 368.9L140.3 362.2L140.6 357.3L140.7 355.4L140.7 348.7L140.6 346.9L140.2 342.0L139.6 335.2L139.4 328.5L139.2 321.8L138.8 315.1L138.2 308.3L137.2 301.6L136.4 294.9L136.3 288.1L136.9 281.4Z" fill="#aaff00"/>
<path d="M140.6 281.4L146.4 281.4L146.4 288.1L146.4 294.9L146.4 301.6L146.4 308.3L146.4 315.1L146.4 321.8L146.4 328.5L146.4 335.2L146.4 342.0L146.4 348.7L146.4 355.4L146.4 362.2L146.4 368.9L146.4 375.6L146.4 382.4L146.4 389.1L141.5 389.1L141.5 382.4L141.3 375.6L141.0 368.9L140.9 362.2L141.2 355.4L141.3 348.7L140.8 342.0L140.6 339.8L140.2 335.2L140.0 328.5L139.9 321.8L139.5 315.1L138.9 308.3L138.0 301.6L137.3 294.9L137.1 288.1L137.6 281.4Z" fill="#d3ff00"/>
<path d="M140.6 281.4L146.4 281.4L146.4 288.1L146.4 294.9L146.4 301.6L146.4 308.3L146.4 315.1L146.4 321.8L146.4 328.5L146.4 335.2L146.4 342.0L146.4 348.7L146.4 355.4L146.4 362.2L146.4 368.9L146.4 375.6L146.4 382.4L146.4 389.1L142.1 389.1L142.1 382.4L141.9 375.6L141.6 368.9L141.4 362.2L141.8 355.4L141.8 348.7L141.3 342.0L140.7 335.2L140.7 328.5L140.6 322.5L140.6 321.8L140.2 315.1L139.5 308.3L138.8 301.6L138.1 294.9L137.9 288.1L138.3 281.4Z" fill="#fdff00"/>
<path d="M140.6 281.4L146.4 281.4L146.4 288.1L146.4 294.9L146.4 301.6L146.4 308.3L146.4 315.1L146.4 321.8L146.4 328.5L146.4 335.2L146.4 342.0L146.4 348.7L146.4 355.4L146.4 362.2L146.4 368.9L146.4 375.6L146.4 382.4L146.4 389.1L142.7 389.1L142.8 382.4L142.6 375.6L142.2 368.9L142.0 362.2L142.3 355.4L142.3 348.7L141.9 342.0L141.3 335.2L141.2 328.5L141.2 321.8L140.8 315.1L140.6 312.2L140.2 308.3L139.6 301.6L139.0 294.9L138.8 288.1L139.0 281.4Z" fill="#ffe300"/>
<path d="M140.6 281.4L146.4 281.4L146.4 288.1L146.4 294.9L146.4 301.6L146.4 308.3L146.4 315.1L146.4 321.8L146.4 328.5L146.4 335.2L146.4 342.0L146.4 348.7L146.4 355.4L146.4 362.2L146.4 368.9L146.4 375.6L146.4 382.4L146.4 389.1L143.3 389.1L143.4 382.4L143.2 375.6L142.8 368.9L142.5 362.2L142.8 355.4L142.9 348.7L142.4 342.0L141.8 335.2L141.8 328.5L141.8 321.8L141.4 315.1L140.9 308.3L140.6 304.4L140.4 301.6L139.8 294.9L139.6 288.1L139.7 281.4Z" fill="#ffcb00"/>
<path d="M140.6 281.4L146.4 281.4L146.4 288.1L146.4 294.9L146.4 301.6L146.4 308.3L146.4 315.1L146.4 321.8L146.4 328.5L146.4 335.2L146.4 342.0L146.4 348.7L146.4 355.4L146.4 362.2L146.4 368.9L146.4 375.6L146.4 382.4L146.4 389.1L143.9 389.1L144.0 382.4L143.8 375.6L143.4 368.9L143.1 362.2L143.4 355.4L143.4 348.7L142.9 342.0L142.4 335.2L142.4 328.5L142.4 321.8L142.0 315.1L141.5 308.3L141.1 301.6L140.7 294.9L140.6 292.7L140.4 288.1L140.4 281.4Z" fill="#ffb700"/>
<path d="M146.4 281.4L146.4 288.1L146.4 294.9L146.4 301.6L146.4 308.3L146.4 315.1L146.4 321.8L146.4 328.5L146.4 335.2L146.4 342.0L146.4 348.7L146.4 355.4L146.4 362.2L146.4 368.9L146.4 375.6L146.4 382.4L146.4 389.1L144.5 389.1L144.7 382.4L144.4 375.6L144.0 368.9L143.6 362.2L143.9 355.4L143.9 348.7L143.5 342.0L142.9 335.2L143.0 328.5L143.0 321.8L142.6 315.1L142.0 308.3L141.7 301.6L141.4 294.9L141.1 288.1L141.0 281.4Z" fill="#ffa300"/>
<path d="M146.4 281.4L146.4 288.1L146.4 294.9L146.4 301.6L146.4 308.3L146.4 315.1L146.4 321.8L146.4 328.5L146.4 335.2L146.4 342.0L146.4 348.7L146.4 355.4L146.4 362.2L146.4 368.9L146.4 375.6L146.4 382.4L146.4 389.1L145.1 389.1L145.3 382.4L145.1 375.6L144.6 368.9L144.2 362.2L144.4 355.4L144.5 348.7L144.0 342.0L143.4 335.2L143.5 328.5L143.6 321.8L143.2 315.1L142.6 308.3L142.4 301.6L142.2 294.9L141.8 288.1L141.5 281.4Z" fill="#ff8f00"/>
<path d="M146.4 281.4L146.4 288.1L146.4 294.9L146.4 301.6L146.4 308.3L146.4 315.1L146.4 321.8L146.4 328.5L146.4 335.2L146.4 342.0L146.4 348.7L146.4 355.4L146.4 362.2L146.4 368.9L146.4 375.6L146.4 382.4L146.4 389.1L145.7 389.1L145.9 382.4L145.7 375.6L145.2 368.9L144.7 362.2L145.0 355.4L145.0 348.7L144.6 342.0L144.0 335.2L144.1 328.5L144.1 321.8L143.8 315.1L143.2 308.3L143.1 301.6L142.9 294.9L142.5 288.1L142.1 281.4Z" fill="#ff7b00"/>
<path d="M146.4 281.4L146.4 288.1L146.4 294.9L146.4 301.6L146.4 308.3L146.4 315.1L146.4 321.8L146.4 328.5L146.4 335.2L146.4 342.0L146.4 348.7L146.4 355.4L146.4 362.2L146.4 368.9L146.4 375.6L146.4 377.7L146.3 375.6L145.8 368.9L145.3 362.2L145.5 355.4L145.5 348.7L145.1 342.0L144.5 335.2L144.7 328.5L144.7 321.8L144.4 315.1L143.8 308.3L143.8 301.6L143.6 294.9L143.2 288.1L142.7 281.4ZM146.4 387.3L146.4 389.1L146.4 389.1Z" fill="#ff6700"/>
<path d="M146.4 281.4L146.4 288.1L146.4 294.9L146.4 301.6L146.4 308.3L146.4 315.1L146.4 321.8L146.4 328.5L146.4 335.2L146.4 342.0L146.4 348.7L146.4 355.4L146.4 362.2L146.4 368.9L146.4 369.4L146.4 368.9L145.8 362.2L146.0 355.4L146.1 348.7L145.6 342.0L145.0 335.2L145.2 328.5L145.3 321.8L145.0 315.1L144.4 308.3L144.4 301.6L144.4 294.9L143.9 288.1L143.2 281.4Z" fill="#ff5600"/>
<path d="M146.4 281.4L146.4 288.1L146.4 294.9L146.4 301.6L146.4 308.3L146.4 315.1L146.4 321.8L146.4 328.5L146.4 335.2L146.4 342.0L146.4 345.6L146.2 342.0L145.6 335.2L145.8 328.5L145.9 321.8L145.6 315.1L145.0 308.3L145.1 301.6L145.1 294.9L144.6 288.1L143.8 281.4ZM146.4 360.6L146.4 362.2L146.4 362.8L146.4 362.2Z" fill="#ff4600"/>
<path d="M146.4 281.4L146.4 288.1L146.4 294.9L146.4 301.6L146.4 308.3L146.4 315.1L146.4 319.7L146.1 315.1L145.6 308.3L145.8 301.6L145.9 294.9L145.3 288.1L144.3 281.4ZM146.4 327.0L146.4 328.5L146.4 335.2L146.4 338.5L146.1 335.2L146.4 328.5Z" fill="#ff3700"/>
<path d="M146.4 281.4L146.4 288.1L146.4 293.0L145.9 288.1L144.9 281.4ZM146.4 302.7L146.4 308.3L146.4 311.2L146.2 308.3Z" fill="#ff2700"/>
<path d="M146.4 281.4L146.4 287.0L145.4 281.4Z" fill="#ff1700"/>
<path d="M146.4 281.4L146.4 283.8L146.0 281.4Z" fill="#ff0800"/>
<path d="M94.8 389.1L94.8 382.4L94.2 377.1L94.1 375.6L93.1 368.9L91.8 362.2L90.5 355.4L89.0 348.7L88.5 346.8L87.4 342.0L84.1 335.2L82.7 333.5L79.4 328.5L76.9 326.0L72.8 321.8L71.1 320.3L65.3 316.2L62.0 315.1L59.5 314.2L53.7 313.6L47.9 313.3L42.1 313.3L36.3 313.6L30.5 314.0M123.7 389.1L123.2 384.8L122.8 382.4L122.5 375.6L122.6 368.9L123.0 362.2L123.1 355.4L121.9 348.7L120.0 342.0L117.7 335.2L117.4 334.4L114.3 328.5L111.6 324.9L108.2 321.8L105.8 320.1L100.0 317.1L94.7 315.1L94.2 314.9L88.5 313.0L82.7 310.2L79.7 308.3L76.9 306.2L72.2 301.6L71.1 300.5L65.3 295.6L63.2 294.9L59.5 293.8L53.7 293.0L47.9 292.6L42.1 292.6L36.3 292.8L30.5 293.2M131.6 389.1L130.4 382.4L130.0 375.6L130.3 368.9L131.0 362.2L131.3 355.4L131.1 348.7L130.2 342.0L129.2 335.2L129.0 334.3L127.4 328.5L125.7 321.8L123.6 315.1L123.2 314.1L118.8 308.3L117.4 306.8L111.6 302.9L108.7 301.6L105.8 300.4L100.0 298.1L94.2 296.1L91.1 294.9L88.5 293.8L82.7 290.7L78.7 288.1L76.9 287.1L71.1 284.0L65.4 281.4M136.2 389.1L135.5 382.4L135.1 375.6L135.3 368.9L135.7 362.2L136.0 355.4L136.0 348.7L135.4 342.0L134.8 335.2L134.8 335.2L133.9 328.5L133.3 321.8L132.5 315.1L131.3 308.3L129.2 301.6L129.0 300.8L126.0 294.9L123.2 288.4L122.9 288.1L117.4 283.7L111.6 282.2L108.9 281.4M139.7 389.1L139.6 382.4L139.3 375.6L139.1 368.9L139.2 362.2L139.5 355.4L139.6 348.7L139.0 342.0L138.4 335.2L138.1 328.5L137.9 321.8L137.5 315.1L136.8 308.3L135.7 301.6L134.8 295.7L134.6 294.9L134.5 288.1L134.8 286.7L135.5 281.4M143.3 389.1L143.4 382.4L143.2 375.6L142.8 368.9L142.5 362.2L142.8 355.4L142.9 348.7L142.4 342.0L141.8 335.2L141.8 328.5L141.8 321.8L141.4 315.1L140.9 308.3L140.6 304.4L140.4 301.6L139.8 294.9L139.6 288.1L139.7 281.4M146.4 369.4L146.4 368.9L145.8 362.2L146.0 355.4L146.1 348.7L145.6 342.0L145.0 335.2L145.2 328.5L145.3 321.8L145.0 315.1L144.4 308.3L144.4 301.6L144.4 294.9L143.9 288.1L143.2 281.4" fill="none" stroke="#3a3a3a" stroke-opacity="0.75" stroke-width="0.6"/>
</g>
<rect x="30.50" y="281.40" width="115.90" height="107.70" fill="none" stroke="#000" stroke-width="1"/>
<path d="M30.50 389.10v3.3M42.09 389.10v1.8M53.68 389.10v3.3M65.27 389.10v1.8M76.86 389.10v3.3M88.45 389.10v1.8M100.04 389.10v3.3M111.63 389.10v1.8M123.22 389.10v3.3M134.81 389.10v1.8M146.40 389.10v3.3M30.50 389.10h-3.3M30.50 382.37h-1.8M30.50 375.64h-3.3M30.50 368.91h-1.8M30.50 362.17h-3.3M30.50 355.44h-1.8M30.50 348.71h-3.3M30.50 341.98h-1.8M30.50 335.25h-3.3M30.50 328.52h-1.8M30.50 321.79h-3.3M30.50 315.06h-1.8M30.50 308.32h-3.3M30.50 301.59h-1.8M30.50 294.86h-3.3M30.50 288.13h-1.8M30.50 281.40h-3.3" stroke="#000" stroke-width="0.8" fill="none"/>
<text x="30.50" y="402.40" class="tl" text-anchor="middle">50</text>
<text x="53.68" y="402.40" class="tl" text-anchor="middle">60</text>
<text x="76.86" y="402.40" class="tl" text-anchor="middle">70</text>
<text x="100.04" y="402.40" class="tl" text-anchor="middle">80</text>
<text x="123.22" y="402.40" class="tl" text-anchor="middle">90</text>
<text x="146.40" y="402.40" class="tl" text-anchor="middle">100</text>
<text x="24.40" y="391.70" class="tly" text-anchor="end">10</text>
<text x="24.40" y="378.24" class="tly" text-anchor="end">15</text>
<text x="24.40" y="364.77" class="tly" text-anchor="end">20</text>
<text x="24.40" y="351.31" class="tly" text-anchor="end">25</text>
<text x="24.40" y="337.85" class="tly" text-anchor="end">30</text>
<text x="24.40" y="324.39" class="tly" text-anchor="end">35</text>
<text x="24.40" y="310.93" class="tly" text-anchor="end">40</text>
<text x="24.40" y="297.46" class="tly" text-anchor="end">45</text>
<text x="24.40" y="284.00" class="tly" text-anchor="end">50</text>
<text transform="translate(11.50 335.20) rotate(-90)" class="at" text-anchor="middle">Quantile for dormancy</text>
<text x="93.20" y="410.60" class="at" text-anchor="middle">Quantile for maturity</text>
<text x="137.40" y="382.00" class="pl" text-anchor="end">(g)</text>
<rect x="151.40" y="281.90" width="3.70" height="104.10" fill="url(#cbgg)" stroke="#000" stroke-width="1"/>
<path d="M155.80 284.30h3.2" stroke="#444" stroke-width="0.8"/>
<text x="161.10" y="286.60" class="cl">−1664</text>
<path d="M155.80 296.81h3.2" stroke="#444" stroke-width="0.8"/>
<text x="161.10" y="299.11" class="cl">−1686</text>
<path d="M155.80 309.32h3.2" stroke="#444" stroke-width="0.8"/>
<text x="161.10" y="311.62" class="cl">−1708</text>
<path d="M155.80 321.84h3.2" stroke="#444" stroke-width="0.8"/>
<text x="161.10" y="324.14" class="cl">−1730</text>
<path d="M155.80 334.35h3.2" stroke="#444" stroke-width="0.8"/>
<text x="161.10" y="336.65" class="cl">−1752</text>
<path d="M155.80 346.86h3.2" stroke="#444" stroke-width="0.8"/>
<text x="161.10" y="349.16" class="cl">−1774</text>
<path d="M155.80 359.38h3.2" stroke="#444" stroke-width="0.8"/>
<text x="161.10" y="361.68" class="cl">−1796</text>
<path d="M155.80 371.89h3.2" stroke="#444" stroke-width="0.8"/>
<text x="161.10" y="374.19" class="cl">−1818</text>
<path d="M155.80 384.40h3.2" stroke="#444" stroke-width="0.8"/>
<text x="161.10" y="386.70" class="cl">−1841</text>
<text x="145.10" y="278.50" class="aic">AIC</text>
<clipPath id="ch"><rect x="212.50" y="281.40" width="115.90" height="107.70"/></clipPath>
<g clip-path="url(#ch)">
<rect x="212.50" y="281.40" width="115.90" height="107.70" fill="#0008ff"/>
<rect x="212.50" y="281.40" width="115.90" height="107.70" fill="#0018ff"/>
<rect x="212.50" y="281.40" width="115.90" height="107.70" fill="#0029ff"/>
<path d="M218.3 281.4L224.1 281.4L229.9 281.4L235.7 281.4L241.5 281.4L247.3 281.4L253.1 281.4L258.9 281.4L264.7 281.4L270.4 281.4L276.2 281.4L282.0 281.4L287.8 281.4L293.6 281.4L299.4 281.4L305.2 281.4L311.0 281.4L316.8 281.4L322.6 281.4L328.4 281.4L328.4 288.1L328.4 294.9L328.4 301.6L328.4 308.3L328.4 315.1L328.4 321.8L328.4 328.5L328.4 335.2L328.4 342.0L328.4 348.7L328.4 355.4L328.4 362.2L328.4 368.9L328.4 375.6L328.4 382.4L328.4 389.1L322.6 389.1L316.8 389.1L311.0 389.1L305.2 389.1L299.4 389.1L293.6 389.1L287.8 389.1L282.0 389.1L276.2 389.1L270.4 389.1L264.7 389.1L258.9 389.1L253.1 389.1L247.3 389.1L241.5 389.1L235.7 389.1L229.9 389.1L224.1 389.1L218.3 389.1L212.5 389.1L212.5 382.4L212.5 375.6L212.5 368.9L212.5 362.2L212.5 355.4L212.5 348.7L212.5 342.0L212.5 335.2L212.5 328.5L212.5 321.8L212.5 315.1L212.5 308.3L212.5 303.5L215.6 301.6L218.3 297.4L219.7 294.9L218.3 290.4L217.5 288.1L212.5 283.9L212.5 281.4Z" fill="#0039ff"/>
<path d="M224.1 281.4L229.9 281.4L235.7 281.4L241.5 281.4L247.3 281.4L253.1 281.4L258.9 281.4L264.7 281.4L270.4 281.4L276.2 281.4L282.0 281.4L287.8 281.4L293.6 281.4L299.4 281.4L305.2 281.4L311.0 281.4L316.8 281.4L322.6 281.4L328.4 281.4L328.4 288.1L328.4 294.9L328.4 301.6L328.4 308.3L328.4 315.1L328.4 321.8L328.4 328.5L328.4 335.2L328.4 342.0L328.4 348.7L328.4 355.4L328.4 362.2L328.4 368.9L328.4 375.6L328.4 382.4L328.4 389.1L322.6 389.1L316.8 389.1L311.0 389.1L305.2 389.1L299.4 389.1L293.6 389.1L287.8 389.1L282.0 389.1L276.2 389.1L270.4 389.1L264.7 389.1L258.9 389.1L253.1 389.1L247.3 389.1L241.5 389.1L235.7 389.1L229.9 389.1L224.1 389.1L218.3 389.1L212.5 389.1L212.5 382.4L212.5 375.6L212.5 368.9L212.5 362.2L212.5 355.4L212.5 348.7L212.5 342.0L212.5 335.2L212.5 328.5L212.5 321.8L212.5 315.1L212.5 308.9L213.9 308.3L218.3 306.0L223.2 301.6L224.1 300.1L226.1 294.9L224.7 288.1L224.1 287.0L219.9 281.4Z" fill="#0049ff"/>
<path d="M229.9 281.4L235.7 281.4L241.5 281.4L247.3 281.4L253.1 281.4L258.9 281.4L264.7 281.4L270.4 281.4L276.2 281.4L282.0 281.4L287.8 281.4L293.6 281.4L299.4 281.4L305.2 281.4L311.0 281.4L316.8 281.4L322.6 281.4L328.4 281.4L328.4 288.1L328.4 294.9L328.4 301.6L328.4 308.3L328.4 315.1L328.4 321.8L328.4 328.5L328.4 335.2L328.4 342.0L328.4 348.7L328.4 355.4L328.4 362.2L328.4 368.9L328.4 375.6L328.4 382.4L328.4 389.1L322.6 389.1L316.8 389.1L311.0 389.1L305.2 389.1L299.4 389.1L293.6 389.1L287.8 389.1L282.0 389.1L276.2 389.1L270.4 389.1L264.7 389.1L258.9 389.1L253.1 389.1L247.3 389.1L241.5 389.1L235.7 389.1L229.9 389.1L224.1 389.1L218.3 389.1L212.5 389.1L212.5 382.4L212.5 375.6L212.5 368.9L212.5 362.2L212.5 355.4L212.5 348.7L212.5 342.0L212.5 335.2L212.5 328.5L212.5 321.8L212.5 315.1L212.5 314.1L218.3 311.7L223.5 308.3L224.1 307.9L228.6 301.6L229.9 297.7L230.7 294.9L230.1 288.1L229.9 287.4L227.3 281.4Z" fill="#005aff"/>
<path d="M235.7 281.4L241.5 281.4L247.3 281.4L253.1 281.4L258.9 281.4L264.7 281.4L270.4 281.4L276.2 281.4L282.0 281.4L287.8 281.4L293.6 281.4L299.4 281.4L305.2 281.4L311.0 281.4L316.8 281.4L322.6 281.4L328.4 281.4L328.4 288.1L328.4 294.9L328.4 301.6L328.4 308.3L328.4 315.1L328.4 321.8L328.4 328.5L328.4 335.2L328.4 342.0L328.4 348.7L328.4 355.4L328.4 362.2L328.4 368.9L328.4 375.6L328.4 382.4L328.4 389.1L322.6 389.1L316.8 389.1L311.0 389.1L305.2 389.1L299.4 389.1L293.6 389.1L287.8 389.1L282.0 389.1L276.2 389.1L270.4 389.1L264.7 389.1L258.9 389.1L253.1 389.1L247.3 389.1L241.5 389.1L235.7 389.1L229.9 389.1L224.1 389.1L218.3 389.1L212.5 389.1L212.5 382.4L212.5 375.6L212.5 368.9L212.5 362.2L212.5 355.4L212.5 348.7L212.5 342.0L212.5 335.2L212.5 328.5L212.5 321.8L212.5 319.2L218.3 317.0L221.6 315.1L224.1 313.5L229.2 308.3L229.9 307.3L233.2 301.6L235.3 294.9L235.1 288.1L233.3 281.4Z" fill="#006dff"/>
<path d="M241.5 281.4L247.3 281.4L253.1 281.4L258.9 281.4L264.7 281.4L270.4 281.4L276.2 281.4L282.0 281.4L287.8 281.4L293.6 281.4L299.4 281.4L305.2 281.4L311.0 281.4L316.8 281.4L322.6 281.4L328.4 281.4L328.4 288.1L328.4 294.9L328.4 301.6L328.4 308.3L328.4 315.1L328.4 321.8L328.4 328.5L328.4 335.2L328.4 342.0L328.4 348.7L328.4 355.4L328.4 362.2L328.4 368.9L328.4 375.6L328.4 382.4L328.4 389.1L322.6 389.1L316.8 389.1L311.0 389.1L305.2 389.1L299.4 389.1L293.6 389.1L287.8 389.1L282.0 389.1L276.2 389.1L270.4 389.1L264.7 389.1L258.9 389.1L253.1 389.1L247.3 389.1L241.5 389.1L235.7 389.1L229.9 389.1L224.1 389.1L218.3 389.1L212.5 389.1L212.5 382.4L212.5 375.6L212.5 368.9L212.5 362.2L212.5 355.4L212.5 348.7L212.5 342.0L212.5 335.2L212.5 328.5L212.5 324.7L218.3 322.3L219.2 321.8L224.1 319.0L228.4 315.1L229.9 313.5L233.9 308.3L235.7 305.2L237.7 301.6L239.8 294.9L240.1 288.1L239.1 281.4Z" fill="#0084ff"/>
<path d="M247.3 281.4L253.1 281.4L258.9 281.4L264.7 281.4L270.4 281.4L276.2 281.4L282.0 281.4L287.8 281.4L293.6 281.4L299.4 281.4L305.2 281.4L311.0 281.4L316.8 281.4L322.6 281.4L328.4 281.4L328.4 288.1L328.4 294.9L328.4 301.6L328.4 308.3L328.4 315.1L328.4 321.8L328.4 328.5L328.4 335.2L328.4 342.0L328.4 348.7L328.4 355.4L328.4 362.2L328.4 368.9L328.4 375.6L328.4 382.4L328.4 389.1L322.6 389.1L316.8 389.1L311.0 389.1L305.2 389.1L299.4 389.1L293.6 389.1L287.8 389.1L282.0 389.1L276.2 389.1L270.4 389.1L264.7 389.1L258.9 389.1L253.1 389.1L247.3 389.1L241.5 389.1L235.7 389.1L229.9 389.1L224.1 389.1L218.3 389.1L212.5 389.1L212.5 382.4L212.5 375.6L212.5 368.9L212.5 362.2L212.5 355.4L212.5 348.7L212.5 342.0L212.5 335.2L212.5 330.5L217.3 328.5L218.3 328.1L224.1 324.6L227.3 321.8L229.9 319.5L233.4 315.1L235.7 312.1L238.4 308.3L241.5 302.7L242.2 301.6L244.8 294.9L245.7 288.1L245.3 281.4Z" fill="#009aff"/>
<path d="M253.1 282.1L253.2 281.4L258.9 281.4L264.7 281.4L270.4 281.4L276.2 281.4L282.0 281.4L287.8 281.4L293.6 281.4L299.4 281.4L305.2 281.4L311.0 281.4L316.8 281.4L322.6 281.4L328.4 281.4L328.4 288.1L328.4 294.9L328.4 301.6L328.4 308.3L328.4 315.1L328.4 321.8L328.4 328.5L328.4 335.2L328.4 342.0L328.4 348.7L328.4 355.4L328.4 362.2L328.4 368.9L328.4 375.6L328.4 382.4L328.4 389.1L322.6 389.1L316.8 389.1L311.0 389.1L305.2 389.1L299.4 389.1L293.6 389.1L287.8 389.1L282.0 389.1L276.2 389.1L270.4 389.1L264.7 389.1L258.9 389.1L253.1 389.1L247.3 389.1L241.5 389.1L235.7 389.1L229.9 389.1L224.1 389.1L218.3 389.1L212.5 389.1L212.5 382.4L212.5 375.6L212.5 368.9L212.5 362.2L212.5 355.4L212.5 348.7L212.5 342.0L212.5 335.8L214.3 335.2L218.3 333.6L224.1 330.6L226.7 328.5L229.9 325.7L233.0 321.8L235.7 318.4L238.0 315.1L241.5 310.1L243.0 308.3L247.3 301.9L247.5 301.6L250.9 294.9L252.4 288.1Z" fill="#00b1ff"/>
<path d="M264.7 281.4L270.4 281.4L276.2 281.4L282.0 281.4L287.8 281.4L293.6 281.4L299.4 281.4L305.2 281.4L311.0 281.4L316.8 281.4L322.6 281.4L328.4 281.4L328.4 288.1L328.4 294.9L328.4 301.6L328.4 308.3L328.4 315.1L328.4 321.8L328.4 328.5L328.4 335.2L328.4 342.0L328.4 348.7L328.4 355.4L328.4 362.2L328.4 368.9L328.4 375.6L328.4 382.4L328.4 389.1L322.6 389.1L316.8 389.1L311.0 389.1L305.2 389.1L299.4 389.1L293.6 389.1L287.8 389.1L282.0 389.1L276.2 389.1L270.4 389.1L264.7 389.1L258.9 389.1L253.1 389.1L247.3 389.1L241.5 389.1L235.7 389.1L229.9 389.1L224.1 389.1L218.3 389.1L212.5 389.1L212.5 382.4L212.5 375.6L212.5 368.9L212.5 362.2L212.5 355.4L212.5 348.7L212.5 342.0L212.5 340.1L218.3 338.6L224.1 336.4L225.9 335.2L229.9 332.2L233.3 328.5L235.7 325.5L237.9 321.8L241.5 316.4L242.6 315.1L247.3 309.6L248.9 308.3L253.1 303.5L255.3 301.6L258.9 295.6L259.4 294.9L261.6 288.1L262.1 281.4Z" fill="#00c8ff"/>
<path d="M270.4 281.4L276.2 281.4L282.0 281.4L287.8 281.4L293.6 281.4L299.4 281.4L305.2 281.4L311.0 281.4L316.8 281.4L322.6 281.4L328.4 281.4L328.4 288.1L328.4 294.9L328.4 301.6L328.4 308.3L328.4 315.1L328.4 321.8L328.4 328.5L328.4 335.2L328.4 342.0L328.4 348.7L328.4 355.4L328.4 362.2L328.4 368.9L328.4 375.6L328.4 382.4L328.4 389.1L322.6 389.1L316.8 389.1L311.0 389.1L305.2 389.1L299.4 389.1L293.6 389.1L287.8 389.1L282.0 389.1L276.2 389.1L270.4 389.1L264.7 389.1L258.9 389.1L253.1 389.1L247.3 389.1L241.5 389.1L235.7 389.1L229.9 389.1L224.1 389.1L218.3 389.1L212.5 389.1L212.5 382.4L212.5 375.6L212.5 368.9L212.5 362.2L212.5 355.4L212.5 348.7L212.5 344.0L218.3 343.0L222.7 342.0L224.1 341.5L229.9 338.2L233.6 335.2L235.7 333.1L239.2 328.5L241.5 324.2L242.6 321.8L247.3 315.8L248.3 315.1L253.1 311.5L258.9 308.9L260.2 308.3L264.7 305.4L270.1 301.6L270.4 301.1L273.7 294.9L272.6 288.1L270.4 281.7L270.4 281.4Z" fill="#00deff"/>
<path d="M282.0 281.4L287.8 281.4L293.6 281.4L299.4 281.4L305.2 281.4L311.0 281.4L316.8 281.4L322.6 281.4L328.4 281.4L328.4 288.1L328.4 294.9L328.4 301.6L328.4 308.3L328.4 315.1L328.4 321.8L328.4 328.5L328.4 335.2L328.4 342.0L328.4 348.7L328.4 355.4L328.4 362.2L328.4 368.9L328.4 375.6L328.4 382.4L328.4 389.1L322.6 389.1L316.8 389.1L311.0 389.1L305.2 389.1L299.4 389.1L293.6 389.1L287.8 389.1L282.0 389.1L276.2 389.1L270.4 389.1L264.7 389.1L258.9 389.1L253.1 389.1L247.3 389.1L241.5 389.1L235.7 389.1L229.9 389.1L224.1 389.1L218.3 389.1L212.5 389.1L212.5 382.4L212.5 375.6L212.5 368.9L212.5 362.2L212.5 355.4L212.5 348.7L212.5 347.6L218.3 346.9L224.1 345.7L229.9 343.3L232.4 342.0L235.7 339.5L241.0 335.2L241.5 334.6L245.4 328.5L247.3 324.1L249.0 321.8L253.1 319.0L258.9 317.0L264.7 315.2L265.1 315.1L270.4 312.4L276.1 308.3L276.2 308.1L281.7 301.6L282.0 300.9L284.4 294.9L283.5 288.1L282.0 284.6L280.5 281.4Z" fill="#00f9ff"/>
<path d="M293.6 281.4L299.4 281.4L305.2 281.4L311.0 281.4L316.8 281.4L322.6 281.4L328.4 281.4L328.4 288.1L328.4 294.9L328.4 301.6L328.4 308.3L328.4 315.1L328.4 321.8L328.4 328.5L328.4 335.2L328.4 342.0L328.4 348.7L328.4 355.4L328.4 362.2L328.4 368.9L328.4 375.6L328.4 382.4L328.4 389.1L322.6 389.1L316.8 389.1L311.0 389.1L305.2 389.1L299.4 389.1L293.6 389.1L287.8 389.1L282.0 389.1L276.2 389.1L270.4 389.1L264.7 389.1L258.9 389.1L253.1 389.1L247.3 389.1L241.5 389.1L235.7 389.1L229.9 389.1L224.1 389.1L218.3 389.1L212.5 389.1L212.5 382.4L212.5 375.6L212.5 368.9L212.5 362.2L212.5 355.4L212.5 351.0L218.3 350.5L224.1 349.6L227.0 348.7L229.9 347.5L235.7 344.6L240.2 342.0L241.5 341.0L247.3 336.1L248.3 335.2L253.1 329.4L254.2 328.5L258.9 325.5L264.7 323.0L266.9 321.8L270.4 320.0L276.2 316.1L277.5 315.1L282.0 310.7L284.6 308.3L287.8 304.3L289.9 301.6L292.2 294.9L292.8 288.1L292.4 281.4Z" fill="#00ffe7"/>
<path d="M299.4 281.4L305.2 281.4L311.0 281.4L316.8 281.4L322.6 281.4L328.4 281.4L328.4 288.1L328.4 294.9L328.4 301.6L328.4 308.3L328.4 315.1L328.4 321.8L328.4 328.5L328.4 335.2L328.4 342.0L328.4 348.7L328.4 355.4L328.4 362.2L328.4 368.9L328.4 375.6L328.4 382.4L328.4 389.1L322.6 389.1L316.8 389.1L311.0 389.1L305.2 389.1L299.4 389.1L293.6 389.1L287.8 389.1L282.0 389.1L276.2 389.1L270.4 389.1L264.7 389.1L258.9 389.1L253.1 389.1L247.3 389.1L241.5 389.1L235.7 389.1L229.9 389.1L224.1 389.1L218.3 389.1L212.5 389.1L212.5 382.4L212.5 375.6L212.5 368.9L212.5 362.2L212.5 355.4L212.5 354.2L218.3 353.7L224.1 352.8L229.9 351.2L235.7 348.9L236.2 348.7L241.5 345.8L247.3 342.5L248.2 342.0L253.1 338.1L257.5 335.2L258.9 334.1L264.7 330.6L267.7 328.5L270.4 326.9L276.2 322.5L277.1 321.8L282.0 317.5L284.8 315.1L287.8 312.1L292.0 308.3L293.6 306.1L296.3 301.6L297.9 294.9L298.1 288.1L297.7 281.4Z" fill="#00ffc8"/>
<path d="M305.2 281.4L311.0 281.4L316.8 281.4L322.6 281.4L328.4 281.4L328.4 288.1L328.4 294.9L328.4 301.6L328.4 308.3L328.4 315.1L328.4 321.8L328.4 328.5L328.4 335.2L328.4 342.0L328.4 348.7L328.4 355.4L328.4 362.2L328.4 368.9L328.4 375.6L328.4 382.4L328.4 389.1L322.6 389.1L316.8 389.1L311.0 389.1L305.2 389.1L299.4 389.1L293.6 389.1L287.8 389.1L282.0 389.1L276.2 389.1L270.4 389.1L264.7 389.1L258.9 389.1L253.1 389.1L247.3 389.1L241.5 389.1L235.7 389.1L229.9 389.1L224.1 389.1L218.3 389.1L212.5 389.1L212.5 382.4L212.5 375.6L212.5 368.9L212.5 362.2L212.5 357.1L218.3 356.8L224.1 356.0L226.6 355.4L229.9 354.6L235.7 352.5L241.5 350.0L244.4 348.7L247.3 347.1L253.1 344.1L257.4 342.0L258.9 341.0L264.7 337.6L268.3 335.2L270.4 333.7L276.2 328.8L276.5 328.5L282.0 323.5L283.9 321.8L287.8 318.2L291.5 315.1L293.6 313.1L298.3 308.3L299.4 306.4L301.2 301.6L302.0 294.9L301.8 288.1L301.3 281.4Z" fill="#00ffaa"/>
<path d="M305.2 281.4L311.0 281.4L316.8 281.4L322.6 281.4L328.4 281.4L328.4 288.1L328.4 294.9L328.4 301.6L328.4 308.3L328.4 315.1L328.4 321.8L328.4 328.5L328.4 335.2L328.4 342.0L328.4 348.7L328.4 355.4L328.4 362.2L328.4 368.9L328.4 375.6L328.4 382.4L328.4 389.1L322.6 389.1L316.8 389.1L311.0 389.1L305.2 389.1L299.4 389.1L293.6 389.1L287.8 389.1L282.0 389.1L276.2 389.1L270.4 389.1L264.7 389.1L258.9 389.1L253.1 389.1L247.3 389.1L241.5 389.1L235.7 389.1L229.9 389.1L224.1 389.1L218.3 389.1L212.5 389.1L212.5 382.4L212.5 375.6L212.5 368.9L212.5 362.2L212.5 359.8L218.3 359.6L224.1 358.9L229.9 357.7L235.7 356.0L237.2 355.4L241.5 353.7L247.3 351.2L253.1 348.9L253.6 348.7L258.9 346.3L264.7 343.8L268.2 342.0L270.4 340.5L276.2 335.5L276.5 335.2L282.0 329.6L283.1 328.5L287.8 324.1L290.2 321.8L293.6 318.8L298.1 315.1L299.4 313.7L303.1 308.3L305.1 301.6L305.2 299.4L305.4 294.9L305.2 290.6L305.1 288.1L304.3 281.4Z" fill="#00ff8b"/>
<path d="M311.0 281.4L316.8 281.4L322.6 281.4L328.4 281.4L328.4 288.1L328.4 294.9L328.4 301.6L328.4 308.3L328.4 315.1L328.4 321.8L328.4 328.5L328.4 335.2L328.4 342.0L328.4 348.7L328.4 355.4L328.4 362.2L328.4 368.9L328.4 375.6L328.4 382.4L328.4 389.1L322.6 389.1L316.8 389.1L311.0 389.1L305.2 389.1L299.4 389.1L293.6 389.1L287.8 389.1L282.0 389.1L276.2 389.1L270.4 389.1L264.7 389.1L258.9 389.1L253.1 389.1L247.3 389.1L241.5 389.1L235.7 389.1L229.9 389.1L224.1 389.1L218.3 389.1L212.5 389.1L212.5 382.4L212.5 375.6L212.5 368.9L212.5 362.4L218.3 362.3L220.1 362.2L224.1 361.8L229.9 360.7L235.7 359.0L241.5 357.1L245.9 355.4L247.3 354.9L253.1 352.7L258.9 350.7L264.7 349.0L265.4 348.7L270.4 346.4L276.2 342.7L277.3 342.0L282.0 336.8L283.6 335.2L287.8 331.1L290.0 328.5L293.6 325.1L296.8 321.8L299.4 319.6L303.9 315.1L305.2 312.9L306.6 308.3L307.6 301.6L307.8 294.9L307.3 288.1L306.6 281.4Z" fill="#00ff6d"/>
<path d="M311.0 281.4L316.8 281.4L322.6 281.4L328.4 281.4L328.4 288.1L328.4 294.9L328.4 301.6L328.4 308.3L328.4 315.1L328.4 321.8L328.4 328.5L328.4 335.2L328.4 342.0L328.4 348.7L328.4 355.4L328.4 362.2L328.4 368.9L328.4 375.6L328.4 382.4L328.4 389.1L322.6 389.1L316.8 389.1L311.0 389.1L305.2 389.1L299.4 389.1L293.6 389.1L287.8 389.1L282.0 389.1L276.2 389.1L270.4 389.1L264.7 389.1L258.9 389.1L253.1 389.1L247.3 389.1L241.5 389.1L235.7 389.1L229.9 389.1L224.1 389.1L218.3 389.1L212.5 389.1L212.5 382.4L212.5 375.6L212.5 368.9L212.5 364.6L218.3 364.8L224.1 364.5L229.9 363.6L235.5 362.2L235.7 362.1L241.5 360.2L247.3 358.1L253.1 356.3L256.3 355.4L258.9 354.6L264.7 352.9L270.4 351.0L276.2 348.7L276.2 348.7L282.0 344.7L286.3 342.0L287.8 340.5L293.6 336.3L294.6 335.2L299.1 328.5L299.4 328.2L303.6 321.8L305.2 320.2L307.4 315.1L309.3 308.3L310.1 301.6L310.1 294.9L309.6 288.1L308.7 281.4Z" fill="#00ff56"/>
<path d="M311.0 281.4L316.8 281.4L322.6 281.4L328.4 281.4L328.4 288.1L328.4 294.9L328.4 301.6L328.4 308.3L328.4 315.1L328.4 321.8L328.4 328.5L328.4 335.2L328.4 342.0L328.4 348.7L328.4 355.4L328.4 362.2L328.4 368.9L328.4 375.6L328.4 382.4L328.4 389.1L322.6 389.1L316.8 389.1L311.0 389.1L305.2 389.1L299.4 389.1L293.6 389.1L287.8 389.1L282.0 389.1L276.2 389.1L270.4 389.1L264.7 389.1L258.9 389.1L253.1 389.1L247.3 389.1L241.5 389.1L235.7 389.1L229.9 389.1L224.1 389.1L218.3 389.1L212.5 389.1L212.5 382.4L212.5 375.6L212.5 368.9L212.5 366.9L218.3 367.2L224.1 367.2L229.9 366.4L235.7 364.9L241.5 363.2L244.6 362.2L247.3 361.2L253.1 359.5L258.9 358.0L264.7 356.6L269.0 355.4L270.4 355.0L276.2 352.6L282.0 350.1L284.8 348.7L287.8 346.6L293.6 343.3L295.1 342.0L299.4 337.2L300.5 335.2L304.1 328.5L305.2 327.0L307.4 321.8L310.2 315.1L311.0 312.2L311.6 308.3L312.1 301.6L312.0 294.9L311.6 288.1L311.0 283.1L310.8 281.4Z" fill="#00ff48"/>
<path d="M316.8 281.4L322.6 281.4L328.4 281.4L328.4 288.1L328.4 294.9L328.4 301.6L328.4 308.3L328.4 315.1L328.4 321.8L328.4 328.5L328.4 335.2L328.4 342.0L328.4 348.7L328.4 355.4L328.4 362.2L328.4 368.9L328.4 375.6L328.4 382.4L328.4 389.1L322.6 389.1L316.8 389.1L311.0 389.1L305.2 389.1L299.4 389.1L293.6 389.1L287.8 389.1L282.0 389.1L276.2 389.1L270.4 389.1L264.7 389.1L258.9 389.1L253.1 389.1L247.3 389.1L241.5 389.1L235.7 389.1L229.9 389.1L224.1 389.1L218.3 389.1L212.5 389.1L212.5 382.4L212.5 375.6L212.5 369.0L218.3 369.6L224.1 369.9L229.9 369.2L231.1 368.9L235.7 367.7L241.5 366.0L247.3 364.2L253.1 362.6L254.9 362.2L258.9 361.2L264.7 359.8L270.4 358.3L276.2 356.3L278.5 355.4L282.0 353.9L287.8 351.1L292.6 348.7L293.6 348.1L299.4 343.0L300.2 342.0L304.0 335.2L305.2 333.1L307.1 328.5L310.2 321.8L311.0 319.8L312.3 315.1L313.3 308.3L313.7 301.6L313.6 294.9L313.2 288.1L312.4 281.4Z" fill="#00ff3a"/>
<path d="M316.8 281.4L322.6 281.4L328.4 281.4L328.4 288.1L328.4 294.9L328.4 301.6L328.4 308.3L328.4 315.1L328.4 321.8L328.4 328.5L328.4 335.2L328.4 342.0L328.4 348.7L328.4 355.4L328.4 362.2L328.4 368.9L328.4 375.6L328.4 382.4L328.4 389.1L322.6 389.1L316.8 389.1L311.0 389.1L305.2 389.1L299.4 389.1L293.6 389.1L287.8 389.1L282.0 389.1L276.2 389.1L270.4 389.1L264.7 389.1L258.9 389.1L253.1 389.1L247.3 389.1L241.5 389.1L235.7 389.1L229.9 389.1L224.1 389.1L218.3 389.1L212.5 389.1L212.5 382.4L212.5 375.6L212.5 371.2L218.3 372.0L224.1 372.6L229.9 372.1L235.7 370.6L241.0 368.9L241.5 368.7L247.3 367.0L253.1 365.6L258.9 364.3L264.7 363.0L267.9 362.2L270.4 361.5L276.2 359.6L282.0 357.4L286.8 355.4L287.8 354.9L293.6 352.2L298.7 348.7L299.4 348.1L303.7 342.0L305.2 339.2L306.8 335.2L309.6 328.5L311.0 325.5L312.3 321.8L314.1 315.1L315.0 308.3L315.3 301.6L315.2 294.9L314.8 288.1L314.1 281.4Z" fill="#00ff2c"/>
<path d="M316.8 281.4L322.6 281.4L328.4 281.4L328.4 288.1L328.4 294.9L328.4 301.6L328.4 308.3L328.4 315.1L328.4 321.8L328.4 328.5L328.4 335.2L328.4 342.0L328.4 348.7L328.4 355.4L328.4 362.2L328.4 368.9L328.4 375.6L328.4 382.4L328.4 389.1L322.6 389.1L316.8 389.1L311.0 389.1L305.2 389.1L299.4 389.1L293.6 389.1L287.8 389.1L282.0 389.1L276.2 389.1L270.4 389.1L264.7 389.1L258.9 389.1L253.1 389.1L247.3 389.1L241.5 389.1L235.7 389.1L229.9 389.1L224.1 389.1L218.3 389.1L212.5 389.1L212.5 382.4L212.5 375.6L212.5 373.3L218.3 374.4L224.1 375.3L229.9 375.0L235.7 373.4L241.5 371.6L247.3 369.9L251.5 368.9L253.1 368.5L258.9 367.3L264.7 366.1L270.4 364.7L276.2 362.9L278.1 362.2L282.0 360.7L287.8 358.5L293.6 356.2L295.2 355.4L299.4 352.9L303.1 348.7L305.2 345.5L306.7 342.0L309.2 335.2L311.0 331.0L311.9 328.5L314.3 321.8L315.9 315.1L316.7 308.3L316.8 305.5L317.0 301.6L316.8 295.0L316.8 294.9L316.4 288.1L315.7 281.4Z" fill="#00ff1e"/>
<path d="M322.6 281.4L328.4 281.4L328.4 288.1L328.4 294.9L328.4 301.6L328.4 308.3L328.4 315.1L328.4 321.8L328.4 328.5L328.4 335.2L328.4 342.0L328.4 348.7L328.4 355.4L328.4 362.2L328.4 368.9L328.4 375.6L328.4 382.4L328.4 389.1L322.6 389.1L316.8 389.1L311.0 389.1L305.2 389.1L299.4 389.1L293.6 389.1L287.8 389.1L282.0 389.1L276.2 389.1L270.4 389.1L264.7 389.1L258.9 389.1L253.1 389.1L247.3 389.1L241.5 389.1L235.7 389.1L229.9 389.1L224.1 389.1L218.3 389.1L212.5 389.1L212.5 382.4L212.5 375.6L212.5 375.5L213.3 375.6L218.3 377.0L224.1 378.4L229.9 378.1L235.7 376.4L237.7 375.6L241.5 374.4L247.3 372.8L253.1 371.6L258.9 370.4L264.7 369.2L265.8 368.9L270.4 367.9L276.2 366.2L282.0 364.2L287.3 362.2L287.8 362.0L293.6 360.2L299.4 357.7L302.1 355.4L305.2 352.0L306.7 348.7L309.4 342.0L311.0 337.1L311.5 335.2L313.9 328.5L316.2 321.8L316.8 319.2L317.5 315.1L318.1 308.3L318.4 301.6L318.2 294.9L317.9 288.1L317.3 281.4Z" fill="#00ff10"/>
<path d="M322.6 281.4L328.4 281.4L328.4 288.1L328.4 294.9L328.4 301.6L328.4 308.3L328.4 315.1L328.4 321.8L328.4 328.5L328.4 335.2L328.4 342.0L328.4 348.7L328.4 355.4L328.4 362.2L328.4 368.9L328.4 375.6L328.4 382.4L328.4 389.1L322.6 389.1L316.8 389.1L311.0 389.1L305.2 389.1L299.4 389.1L293.6 389.1L287.8 389.1L282.0 389.1L276.2 389.1L270.4 389.1L264.7 389.1L258.9 389.1L253.1 389.1L247.3 389.1L241.5 389.1L235.7 389.1L229.9 389.1L224.1 389.1L218.3 389.1L212.5 389.1L212.5 382.4L212.5 378.4L218.3 380.0L224.1 381.5L229.9 381.2L235.7 379.6L241.5 377.6L247.3 375.8L248.0 375.6L253.1 374.8L258.9 373.7L264.7 372.6L270.4 371.4L276.2 369.8L278.8 368.9L282.0 367.9L287.8 366.1L293.6 364.6L299.4 362.5L299.9 362.2L305.2 358.4L306.9 355.4L309.8 348.7L311.0 345.2L311.8 342.0L313.7 335.2L316.0 328.5L316.8 326.0L317.9 321.8L319.0 315.1L319.5 308.3L319.8 301.6L319.6 294.9L319.3 288.1L318.7 281.4Z" fill="#00ff05"/>
<path d="M322.6 281.4L328.4 281.4L328.4 288.1L328.4 294.9L328.4 301.6L328.4 308.3L328.4 315.1L328.4 321.8L328.4 328.5L328.4 335.2L328.4 342.0L328.4 348.7L328.4 355.4L328.4 362.2L328.4 368.9L328.4 375.6L328.4 382.4L328.4 389.1L322.6 389.1L316.8 389.1L311.0 389.1L305.2 389.1L299.4 389.1L293.6 389.1L287.8 389.1L282.0 389.1L276.2 389.1L270.4 389.1L264.7 389.1L258.9 389.1L253.1 389.1L247.3 389.1L241.5 389.1L235.7 389.1L229.9 389.1L224.1 389.1L218.3 389.1L212.5 389.1L212.5 382.4L212.5 381.5L216.0 382.4L218.3 383.0L224.1 384.5L229.9 384.4L235.7 382.9L237.3 382.4L241.5 381.0L247.3 379.4L253.1 378.3L258.9 377.3L264.7 376.2L267.4 375.6L270.4 375.1L276.2 373.8L282.0 372.3L287.8 370.6L293.6 369.5L295.9 368.9L299.4 368.0L305.2 364.6L306.8 362.2L310.4 355.4L311.0 354.0L312.3 348.7L314.0 342.0L315.9 335.2L316.8 332.4L317.8 328.5L319.4 321.8L320.5 315.1L321.0 308.3L321.2 301.6L321.0 294.9L320.7 288.1L320.1 281.4Z" fill="#02ff00"/>
<path d="M322.6 281.4L328.4 281.4L328.4 288.1L328.4 294.9L328.4 301.6L328.4 308.3L328.4 315.1L328.4 321.8L328.4 328.5L328.4 335.2L328.4 342.0L328.4 348.7L328.4 355.4L328.4 362.2L328.4 368.9L328.4 375.6L328.4 382.4L328.4 389.1L322.6 389.1L316.8 389.1L311.0 389.1L305.2 389.1L299.4 389.1L293.6 389.1L287.8 389.1L282.0 389.1L276.2 389.1L270.4 389.1L264.7 389.1L258.9 389.1L253.1 389.1L247.3 389.1L241.5 389.1L235.7 389.1L229.9 389.1L224.1 389.1L218.3 389.1L212.5 389.1L212.5 385.4L218.3 386.6L224.1 387.5L229.9 387.5L235.7 386.5L241.5 384.6L247.3 383.0L251.0 382.4L253.1 382.0L258.9 381.2L264.7 380.3L270.4 379.3L276.2 378.3L282.0 377.1L287.8 375.9L289.5 375.6L293.6 374.9L299.4 373.4L305.2 370.3L306.5 368.9L310.9 362.2L311.0 361.9L312.8 355.4L314.5 348.7L316.2 342.0L316.8 339.7L317.7 335.2L319.4 328.5L321.0 321.8L322.0 315.1L322.4 308.3L322.6 301.6L322.5 294.9L322.1 288.1L321.6 281.4Z" fill="#09ff00"/>
<path d="M328.4 281.4L328.4 288.1L328.4 294.9L328.4 301.6L328.4 308.3L328.4 315.1L328.4 321.8L328.4 328.5L328.4 335.2L328.4 342.0L328.4 348.7L328.4 355.4L328.4 362.2L328.4 368.9L328.4 375.6L328.4 382.4L328.4 389.1L322.6 389.1L316.8 389.1L311.0 389.1L305.2 389.1L299.4 389.1L293.6 389.1L287.8 389.1L282.0 389.1L276.2 389.1L270.4 389.1L264.7 389.1L258.9 389.1L253.1 389.1L247.3 389.1L241.5 389.1L239.3 389.1L241.5 388.5L247.3 387.0L253.1 386.1L258.9 385.5L264.7 384.5L270.4 383.7L276.2 383.1L282.0 382.5L282.9 382.4L287.8 381.7L293.6 380.4L299.4 378.5L304.5 375.6L305.2 375.2L310.9 368.9L311.0 368.7L313.0 362.2L315.0 355.4L316.7 348.7L316.8 348.1L317.9 342.0L319.4 335.2L321.0 328.5L322.6 321.8L322.6 321.5L323.4 315.1L323.7 308.3L323.9 301.6L323.8 294.9L323.5 288.1L323.0 281.4Z" fill="#10ff00"/>
<path d="M328.4 281.4L328.4 288.1L328.4 294.9L328.4 301.6L328.4 308.3L328.4 315.1L328.4 321.8L328.4 328.5L328.4 335.2L328.4 342.0L328.4 348.7L328.4 355.4L328.4 362.2L328.4 368.9L328.4 375.6L328.4 382.4L328.4 389.1L322.6 389.1L316.8 389.1L311.0 389.1L305.2 389.1L299.4 389.1L293.6 389.1L287.8 389.1L282.0 389.1L276.2 389.1L270.4 389.1L264.7 389.1L264.2 389.1L264.7 389.0L270.4 388.4L276.2 388.2L282.0 388.2L287.8 387.6L293.6 385.9L299.4 383.2L300.8 382.4L305.2 379.6L309.2 375.6L311.0 373.6L313.1 368.9L315.1 362.2L316.8 356.6L317.0 355.4L318.2 348.7L319.4 342.0L321.0 335.2L322.6 328.7L322.7 328.5L324.0 321.8L324.8 315.1L325.1 308.3L325.3 301.6L325.2 294.9L324.9 288.1L324.4 281.4Z" fill="#17ff00"/>
<path d="M328.4 281.4L328.4 288.1L328.4 294.9L328.4 301.6L328.4 308.3L328.4 315.1L328.4 321.8L328.4 328.5L328.4 335.2L328.4 342.0L328.4 348.7L328.4 355.4L328.4 362.2L328.4 368.9L328.4 375.6L328.4 382.4L328.4 389.1L322.6 389.1L316.8 389.1L311.0 389.1L305.2 389.1L299.4 389.1L296.7 389.1L299.4 387.5L305.2 383.5L306.5 382.4L311.0 377.8L312.1 375.6L315.2 368.9L316.8 363.4L317.0 362.2L318.4 355.4L319.6 348.7L320.9 342.0L322.6 335.3L322.6 335.2L324.1 328.5L325.5 321.8L326.2 315.1L326.4 308.3L326.6 301.6L326.6 294.9L326.3 288.1L325.8 281.4Z" fill="#28ff00"/>
<path d="M328.4 281.4L328.4 288.1L328.4 294.9L328.4 301.6L328.4 308.3L328.4 315.1L328.4 321.8L328.4 328.5L328.4 335.2L328.4 342.0L328.4 348.7L328.4 355.4L328.4 362.2L328.4 368.9L328.4 375.6L328.4 382.4L328.4 389.1L322.6 389.1L316.8 389.1L311.0 389.1L305.2 389.1L302.1 389.1L305.2 386.7L310.0 382.4L311.0 381.4L313.9 375.6L316.8 369.8L317.1 368.9L318.3 362.2L319.8 355.4L321.1 348.7L322.4 342.0L322.6 341.1L323.9 335.2L325.5 328.5L326.9 321.8L327.6 315.1L327.8 308.3L328.0 301.6L328.0 294.9L327.7 288.1L327.2 281.4Z" fill="#4cff00"/>
<path d="M328.4 321.6L328.4 321.8L328.4 328.5L328.4 335.2L328.4 342.0L328.4 348.7L328.4 355.4L328.4 362.2L328.4 368.9L328.4 375.6L328.4 382.4L328.4 389.1L322.6 389.1L316.8 389.1L311.0 389.1L305.9 389.1L311.0 384.2L312.3 382.4L315.7 375.6L316.8 373.5L318.3 368.9L319.6 362.2L321.1 355.4L322.5 348.7L322.6 348.4L323.5 342.0L325.1 335.2L327.0 328.5L328.4 321.8Z" fill="#7fff00"/>
<path d="M328.4 328.5L328.4 328.5L328.4 335.2L328.4 342.0L328.4 348.7L328.4 355.4L328.4 362.2L328.4 368.9L328.4 375.6L328.4 382.4L328.4 389.1L322.6 389.1L316.8 389.1L311.0 389.1L308.6 389.1L311.0 386.8L314.0 382.4L316.8 377.0L317.3 375.6L319.4 368.9L320.9 362.2L322.5 355.4L322.6 354.8L323.6 348.7L324.5 342.0L326.4 335.2L328.4 328.5Z" fill="#aaff00"/>
<path d="M328.4 332.7L328.4 335.2L328.4 342.0L328.4 348.7L328.4 355.4L328.4 362.2L328.4 368.9L328.4 375.6L328.4 382.4L328.4 389.1L322.6 389.1L316.8 389.1L311.2 389.1L315.7 382.4L316.8 380.2L318.5 375.6L320.6 368.9L322.2 362.2L322.6 360.4L323.5 355.4L324.6 348.7L325.6 342.0L327.6 335.2Z" fill="#d3ff00"/>
<path d="M328.4 336.5L328.4 342.0L328.4 348.7L328.4 355.4L328.4 362.2L328.4 368.9L328.4 375.6L328.4 382.4L328.4 389.1L322.6 389.1L316.8 389.1L312.8 389.1L316.8 383.2L317.2 382.4L319.6 375.6L321.8 368.9L322.6 365.5L323.2 362.2L324.5 355.4L325.6 348.7L326.6 342.0Z" fill="#fdff00"/>
<path d="M328.4 339.8L328.4 342.0L328.4 348.7L328.4 355.4L328.4 362.2L328.4 368.9L328.4 375.6L328.4 382.4L328.4 389.1L322.6 389.1L316.8 389.1L314.4 389.1L316.8 385.5L318.4 382.4L320.8 375.6L322.6 370.0L322.9 368.9L324.2 362.2L325.5 355.4L326.6 348.7L327.7 342.0Z" fill="#ffe300"/>
<path d="M328.4 344.0L328.4 348.7L328.4 355.4L328.4 362.2L328.4 368.9L328.4 375.6L328.4 382.4L328.4 389.1L322.6 389.1L316.8 389.1L316.0 389.1L316.8 387.9L319.6 382.4L321.9 375.6L322.6 373.6L323.8 368.9L325.2 362.2L326.5 355.4L327.7 348.7Z" fill="#ffcb00"/>
<path d="M328.4 350.2L328.4 355.4L328.4 362.2L328.4 368.9L328.4 375.6L328.4 382.4L328.4 389.1L322.6 389.1L317.5 389.1L320.8 382.4L322.6 377.1L323.0 375.6L324.7 368.9L326.1 362.2L327.5 355.4Z" fill="#ffb700"/>
<path d="M328.4 355.6L328.4 362.2L328.4 368.9L328.4 375.6L328.4 382.4L328.4 389.1L322.6 389.1L318.9 389.1L322.0 382.4L322.6 380.5L323.9 375.6L325.7 368.9L327.1 362.2Z" fill="#ffa300"/>
<path d="M328.4 360.4L328.4 362.2L328.4 368.9L328.4 375.6L328.4 382.4L328.4 389.1L322.6 389.1L320.2 389.1L322.6 383.8L323.0 382.4L324.8 375.6L326.6 368.9L328.0 362.2Z" fill="#ff8f00"/>
<path d="M328.4 364.8L328.4 368.9L328.4 375.6L328.4 382.4L328.4 389.1L322.6 389.1L321.6 389.1L322.6 386.8L324.0 382.4L325.8 375.6L327.5 368.9Z" fill="#ff7b00"/>
<path d="M328.4 369.1L328.4 375.6L328.4 382.4L328.4 389.1L322.9 389.1L325.0 382.4L326.7 375.6Z" fill="#ff6700"/>
<path d="M328.4 372.6L328.4 375.6L328.4 382.4L328.4 389.1L323.8 389.1L326.0 382.4L327.6 375.6Z" fill="#ff5600"/>
<path d="M328.4 376.2L328.4 382.4L328.4 389.1L324.8 389.1L326.9 382.4Z" fill="#ff4600"/>
<path d="M328.4 380.3L328.4 382.4L328.4 389.1L325.8 389.1L327.9 382.4Z" fill="#ff3700"/>
<path d="M328.4 383.9L328.4 389.1L326.7 389.1Z" fill="#ff2700"/>
<path d="M328.4 386.9L328.4 389.1L327.7 389.1Z" fill="#ff1700"/>
<path d="M212.5 319.2L218.3 317.0L221.6 315.1L224.1 313.5L229.2 308.3L229.9 307.3L233.2 301.6L235.3 294.9L235.1 288.1L233.3 281.4M212.5 347.6L218.3 346.9L224.1 345.7L229.9 343.3L232.4 342.0L235.7 339.5L241.0 335.2L241.5 334.6L245.4 328.5L247.3 324.1L249.0 321.8L253.1 319.0L258.9 317.0L264.7 315.2L265.1 315.1L270.4 312.4L276.1 308.3L276.2 308.1L281.7 301.6L282.0 300.9L284.4 294.9L283.5 288.1L282.0 284.6L280.5 281.4M212.5 364.6L218.3 364.8L224.1 364.5L229.9 363.6L235.5 362.2L235.7 362.1L241.5 360.2L247.3 358.1L253.1 356.3L256.3 355.4L258.9 354.6L264.7 352.9L270.4 351.0L276.2 348.7L276.2 348.7L282.0 344.7L286.3 342.0L287.8 340.5L293.6 336.3L294.6 335.2L299.1 328.5L299.4 328.2L303.6 321.8L305.2 320.2L307.4 315.1L309.3 308.3L310.1 301.6L310.1 294.9L309.6 288.1L308.7 281.4M212.5 378.4L218.3 380.0L224.1 381.5L229.9 381.2L235.7 379.6L241.5 377.6L247.3 375.8L248.0 375.6L253.1 374.8L258.9 373.7L264.7 372.6L270.4 371.4L276.2 369.8L278.8 368.9L282.0 367.9L287.8 366.1L293.6 364.6L299.4 362.5L299.9 362.2L305.2 358.4L306.9 355.4L309.8 348.7L311.0 345.2L311.8 342.0L313.7 335.2L316.0 328.5L316.8 326.0L317.9 321.8L319.0 315.1L319.5 308.3L319.8 301.6L319.6 294.9L319.3 288.1L318.7 281.4M302.1 389.1L305.2 386.7L310.0 382.4L311.0 381.4L313.9 375.6L316.8 369.8L317.1 368.9L318.3 362.2L319.8 355.4L321.1 348.7L322.4 342.0L322.6 341.1L323.9 335.2L325.5 328.5L326.9 321.8L327.6 315.1L327.8 308.3L328.0 301.6L328.0 294.9L327.7 288.1L327.2 281.4M316.0 389.1L316.8 387.9L319.6 382.4L321.9 375.6L322.6 373.6L323.8 368.9L325.2 362.2L326.5 355.4L327.7 348.7L328.4 344.0M323.8 389.1L326.0 382.4L327.6 375.6L328.4 372.6" fill="none" stroke="#3a3a3a" stroke-opacity="0.75" stroke-width="0.6"/>
</g>
<rect x="212.50" y="281.40" width="115.90" height="107.70" fill="none" stroke="#000" stroke-width="1"/>
<path d="M212.50 389.10v3.3M224.09 389.10v1.8M235.68 389.10v3.3M247.27 389.10v1.8M258.86 389.10v3.3M270.45 389.10v1.8M282.04 389.10v3.3M293.63 389.10v1.8M305.22 389.10v3.3M316.81 389.10v1.8M328.40 389.10v3.3M212.50 389.10h-3.3M212.50 382.37h-1.8M212.50 375.64h-3.3M212.50 368.91h-1.8M212.50 362.17h-3.3M212.50 355.44h-1.8M212.50 348.71h-3.3M212.50 341.98h-1.8M212.50 335.25h-3.3M212.50 328.52h-1.8M212.50 321.79h-3.3M212.50 315.06h-1.8M212.50 308.32h-3.3M212.50 301.59h-1.8M212.50 294.86h-3.3M212.50 288.13h-1.8M212.50 281.40h-3.3" stroke="#000" stroke-width="0.8" fill="none"/>
<text x="212.50" y="402.40" class="tl" text-anchor="middle">50</text>
<text x="235.68" y="402.40" class="tl" text-anchor="middle">60</text>
<text x="258.86" y="402.40" class="tl" text-anchor="middle">70</text>
<text x="282.04" y="402.40" class="tl" text-anchor="middle">80</text>
<text x="305.22" y="402.40" class="tl" text-anchor="middle">90</text>
<text x="328.40" y="402.40" class="tl" text-anchor="middle">100</text>
<text x="206.40" y="391.70" class="tly" text-anchor="end">10</text>
<text x="206.40" y="378.24" class="tly" text-anchor="end">15</text>
<text x="206.40" y="364.77" class="tly" text-anchor="end">20</text>
<text x="206.40" y="351.31" class="tly" text-anchor="end">25</text>
<text x="206.40" y="337.85" class="tly" text-anchor="end">30</text>
<text x="206.40" y="324.39" class="tly" text-anchor="end">35</text>
<text x="206.40" y="310.93" class="tly" text-anchor="end">40</text>
<text x="206.40" y="297.46" class="tly" text-anchor="end">45</text>
<text x="206.40" y="284.00" class="tly" text-anchor="end">50</text>
<text transform="translate(193.50 335.25) rotate(-90)" class="at" text-anchor="middle">Quantile for dormancy</text>
<text x="271.20" y="413.20" class="at" text-anchor="middle">Quantile for maturity</text>
<text x="318.90" y="385.30" class="pl" text-anchor="end">(h)</text>
<rect x="333.60" y="284.40" width="3.70" height="110.90" fill="url(#cbgh)" stroke="#000" stroke-width="1"/>
<path d="M338.00 286.80h3.2" stroke="#444" stroke-width="0.8"/>
<text x="344.00" y="289.10" class="cl">−1213</text>
<path d="M338.00 300.16h3.2" stroke="#444" stroke-width="0.8"/>
<text x="344.00" y="302.46" class="cl">−1226</text>
<path d="M338.00 313.52h3.2" stroke="#444" stroke-width="0.8"/>
<text x="344.00" y="315.82" class="cl">−1239</text>
<path d="M338.00 326.89h3.2" stroke="#444" stroke-width="0.8"/>
<text x="344.00" y="329.19" class="cl">−1251</text>
<path d="M338.00 340.25h3.2" stroke="#444" stroke-width="0.8"/>
<text x="344.00" y="342.55" class="cl">−1264</text>
<path d="M338.00 353.61h3.2" stroke="#444" stroke-width="0.8"/>
<text x="344.00" y="355.91" class="cl">−1277</text>
<path d="M338.00 366.98h3.2" stroke="#444" stroke-width="0.8"/>
<text x="344.00" y="369.28" class="cl">−1290</text>
<path d="M338.00 380.34h3.2" stroke="#444" stroke-width="0.8"/>
<text x="344.00" y="382.64" class="cl">−1303</text>
<path d="M338.00 393.70h3.2" stroke="#444" stroke-width="0.8"/>
<text x="344.00" y="396.00" class="cl">−1316</text>
<text x="330.20" y="278.50" class="aic">AIC</text>
<text x="397.6" y="310.2" class="lg">(a) GRVI</text>
<text x="446.5" y="310.2" class="lg">(b) VARI</text>
<text x="494.6" y="310.2" class="lg">(c) TGI</text>
<text x="397.6" y="334.5" class="lg">(d) ExG</text>
<text x="446.0" y="334.5" class="lg">(e) BRVI</text>
<text x="494.6" y="334.5" class="lg">(f) RGRI</text>
<text x="397.6" y="358.4" class="lg">(g) GCC</text>
<text x="445.0" y="358.4" class="lg">(h) IKaw</text>
</svg>
</body></html>
